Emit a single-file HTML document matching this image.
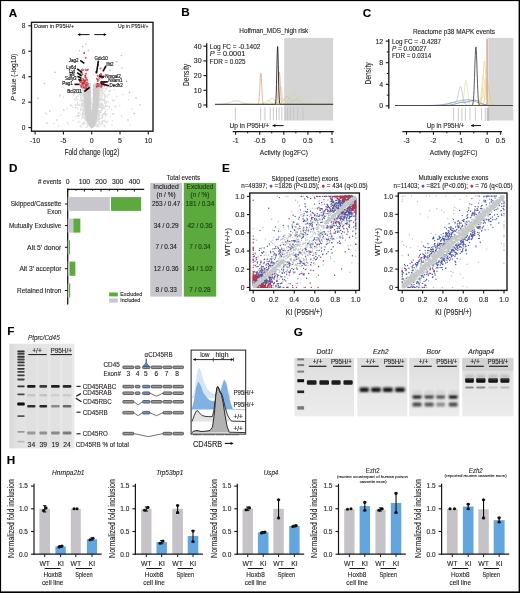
<!DOCTYPE html>
<html><head><meta charset="utf-8"><title>Figure</title>
<style>
html,body{margin:0;padding:0;background:#fff;}
body{width:520px;height:593px;overflow:hidden;}
svg{display:block;font-family:"Liberation Sans", sans-serif;}
text{stroke-width:0.12px;}
</style></head><body>
<svg width="520" height="593" viewBox="0 0 520 593">
<rect x="0" y="0" width="520" height="593" fill="#fff"/>
<defs><filter id="soft" x="0" y="0" width="520" height="593" filterUnits="userSpaceOnUse"><feGaussianBlur stdDeviation="0.3"/></filter></defs>
<g filter="url(#soft)">
<rect x="0" y="0" width="520" height="593" fill="#fff"/>
<text x="8.7" y="16.7" font-size="11.7" text-anchor="start" font-weight="bold" fill="#000" stroke="#000">A</text>
<text x="181.3" y="16.4" font-size="11.7" text-anchor="start" font-weight="bold" fill="#000" stroke="#000">B</text>
<text x="362.8" y="16.7" font-size="11.7" text-anchor="start" font-weight="bold" fill="#000" stroke="#000">C</text>
<text x="9.0" y="171.8" font-size="11.7" text-anchor="start" font-weight="bold" fill="#000" stroke="#000">D</text>
<text x="222.1" y="171.9" font-size="11.7" text-anchor="start" font-weight="bold" fill="#000" stroke="#000">E</text>
<text x="7.2" y="335.4" font-size="11.7" text-anchor="start" font-weight="bold" fill="#000" stroke="#000">F</text>
<text x="293.7" y="335.6" font-size="11.7" text-anchor="start" font-weight="bold" fill="#000" stroke="#000">G</text>
<text x="6.7" y="463.8" font-size="11.7" text-anchor="start" font-weight="bold" fill="#000" stroke="#000">H</text>
<path d="M99.5 88.5h0M101.9 105.8h0M99.0 105.4h0M86.9 123.8h0M97.6 119.9h0M97.5 126.4h0M108.4 95.0h0M104.8 97.7h0M98.2 114.1h0M82.9 99.4h0M82.9 110.2h0M83.9 95.7h0M101.5 100.1h0M104.5 91.7h0M101.6 100.7h0M83.7 104.0h0M84.4 110.3h0M84.4 118.1h0M103.1 107.3h0M99.3 87.9h0M98.8 98.4h0M86.5 120.1h0M99.5 87.2h0M86.0 126.9h0M99.3 112.0h0M109.2 107.9h0M99.8 123.6h0M100.0 93.3h0M87.8 125.6h0M102.4 89.2h0M111.8 109.5h0M101.1 105.7h0M97.5 115.0h0M101.3 107.9h0M83.9 109.2h0M102.4 94.9h0M83.1 87.1h0M103.2 99.8h0M98.8 90.6h0M81.6 99.2h0M99.5 93.3h0M80.7 109.9h0M101.7 96.5h0M99.3 95.3h0M101.6 86.9h0M83.9 102.2h0M101.2 124.2h0M84.3 114.6h0M98.5 113.7h0M105.0 114.7h0M83.9 96.2h0M98.7 124.3h0M81.8 118.8h0M101.4 124.4h0M81.0 98.5h0M102.7 88.2h0M112.9 100.6h0M99.0 98.1h0M102.6 105.2h0M84.2 105.3h0M104.4 94.8h0M97.2 117.6h0M85.7 118.5h0M82.1 87.0h0M95.8 122.3h0M82.9 90.7h0M95.8 122.0h0M99.7 98.0h0M98.7 98.7h0M105.2 88.5h0M83.6 88.1h0M102.5 107.5h0M102.3 121.5h0M106.2 106.3h0M101.3 107.8h0M99.3 93.4h0M98.4 117.8h0M84.0 113.1h0M99.9 85.3h0M97.8 109.9h0M98.3 118.7h0M84.2 96.9h0M103.0 88.5h0M84.1 100.6h0M100.4 106.9h0M77.3 104.7h0M81.8 115.6h0M82.4 87.2h0M99.2 91.3h0M86.1 116.6h0M101.9 123.7h0M83.0 91.7h0M82.5 87.5h0M102.3 110.3h0M102.7 85.4h0M99.8 88.3h0M78.7 104.4h0M81.5 92.8h0M99.0 98.9h0M83.2 101.4h0M83.9 110.4h0M82.8 104.1h0M95.2 123.1h0M81.0 105.3h0M101.3 87.4h0M98.3 106.2h0M98.4 110.6h0M84.5 106.4h0M98.8 101.1h0M82.5 103.3h0M101.2 112.2h0M87.5 127.0h0M105.5 111.4h0M101.1 88.0h0M83.9 105.5h0M103.4 114.6h0M100.6 99.5h0M84.4 99.1h0M100.9 103.8h0M83.2 88.9h0M97.8 119.2h0M79.8 121.4h0M99.7 93.6h0M82.3 104.8h0M103.1 113.8h0M83.5 113.8h0M104.9 101.8h0M104.2 106.3h0M83.4 101.7h0M101.8 121.2h0M83.1 99.3h0M98.9 126.1h0M97.0 117.3h0M97.2 119.8h0M104.2 98.7h0M100.0 106.5h0M99.3 119.4h0M99.7 94.2h0M82.6 114.8h0M75.4 104.7h0M84.5 110.3h0M83.8 113.9h0M105.1 108.0h0M100.5 110.8h0M109.6 87.2h0M84.6 110.4h0M83.3 92.1h0M81.0 91.0h0M77.8 109.1h0M83.7 90.6h0M77.3 102.5h0M85.2 111.8h0M98.6 105.2h0M105.4 96.7h0M101.2 88.3h0M99.7 111.0h0M84.5 106.5h0M105.3 121.8h0M83.3 85.9h0M83.7 122.6h0M84.7 111.0h0M76.6 96.7h0M95.7 125.8h0M99.0 107.0h0M102.0 88.4h0M106.1 90.1h0M86.7 121.0h0M79.0 104.2h0M84.8 116.9h0M100.2 112.2h0M79.6 93.0h0M109.8 91.5h0M81.9 87.9h0M79.0 90.1h0M99.3 112.9h0M100.8 87.3h0M96.5 126.4h0M99.6 113.2h0M81.4 103.5h0M77.6 103.3h0M82.4 113.9h0M100.1 108.0h0M106.5 102.5h0M85.0 119.0h0M98.0 119.4h0M84.4 110.6h0M84.6 110.3h0M97.8 113.8h0M98.2 104.5h0M99.8 92.1h0M83.6 123.9h0M97.7 124.8h0M100.8 98.4h0M98.4 106.2h0M99.4 114.3h0M75.9 100.2h0M97.0 116.7h0M83.3 92.3h0M98.5 107.8h0M100.8 104.3h0M105.0 95.9h0M83.8 115.1h0M106.1 94.8h0M103.6 93.6h0M99.5 90.1h0M110.3 116.2h0M98.9 112.4h0M116.6 96.4h0M99.0 101.8h0M83.7 90.9h0M101.2 90.5h0M101.3 117.7h0M82.4 90.4h0M84.7 104.2h0M79.9 100.9h0M102.0 94.3h0M101.5 115.5h0M97.5 114.8h0M99.4 97.8h0M99.5 96.3h0M105.0 126.7h0M99.0 122.5h0M83.0 96.5h0M111.9 124.7h0M104.5 96.3h0M98.0 120.5h0M84.7 107.6h0M82.2 88.0h0M100.9 95.7h0M99.4 97.1h0M102.5 109.4h0M83.9 102.0h0M101.5 110.6h0M98.7 114.2h0M107.4 86.5h0M81.2 109.2h0M102.4 118.2h0M102.9 90.4h0M89.5 125.5h0M95.0 123.7h0M84.2 104.9h0M102.7 92.8h0M83.1 100.1h0M82.8 89.4h0M85.4 115.5h0M73.7 95.4h0M99.3 112.1h0M73.9 94.0h0M98.7 115.2h0M93.9 126.1h0M84.0 93.5h0M102.3 103.1h0M78.4 96.2h0M98.7 92.5h0M80.2 113.4h0M85.1 114.3h0M82.7 95.5h0M83.6 94.6h0M81.5 104.2h0M84.0 92.3h0M80.4 109.9h0M101.9 87.0h0M82.6 101.1h0M99.7 100.1h0M96.4 119.7h0M105.2 112.5h0M104.4 101.1h0M100.5 85.8h0M102.0 118.2h0M102.0 108.5h0M79.5 92.1h0M79.4 89.8h0M104.4 114.6h0M83.6 91.7h0M83.4 102.7h0M99.6 86.7h0M99.8 118.8h0M93.8 126.6h0M102.2 122.6h0M107.0 121.9h0M106.3 85.4h0M80.8 87.6h0M102.4 90.7h0M108.9 91.3h0M99.7 88.7h0M97.6 111.3h0M112.1 113.7h0M98.5 105.1h0M99.6 103.2h0M100.8 98.5h0M98.7 107.5h0M85.1 111.4h0M102.6 115.4h0M83.2 108.7h0M105.1 113.6h0M80.8 110.4h0M100.4 90.7h0M72.8 88.0h0M83.8 95.9h0M99.1 93.0h0M102.7 99.9h0M99.6 87.9h0M96.4 122.6h0M100.7 89.9h0M82.4 94.1h0M96.5 120.8h0M75.4 107.7h0M83.8 100.1h0M102.0 93.5h0M87.7 124.8h0M84.0 91.3h0M84.5 103.2h0M97.9 121.5h0M97.4 114.5h0M98.5 113.3h0M82.4 86.5h0M100.0 87.1h0M105.1 105.7h0M78.9 112.5h0M84.1 113.0h0M80.1 94.3h0M107.4 87.6h0M81.7 101.1h0M106.3 114.9h0M98.2 106.1h0M108.3 101.7h0M84.8 123.4h0M112.5 100.2h0M95.4 123.3h0M97.3 115.5h0M80.2 94.2h0M80.6 100.7h0M99.2 88.3h0M83.4 107.0h0M105.4 113.7h0M98.8 95.0h0M103.2 105.3h0M79.0 89.5h0M82.9 111.7h0M104.7 103.3h0M106.8 106.0h0M82.0 104.0h0M102.6 90.9h0M100.1 119.0h0M98.7 95.8h0M97.8 114.9h0M98.2 111.9h0M107.1 113.8h0M83.0 96.0h0M81.0 92.5h0M84.3 96.0h0M82.7 112.6h0M85.0 123.1h0M96.0 124.9h0M99.2 111.5h0M102.0 93.1h0M98.9 97.3h0M81.3 106.0h0M82.6 89.2h0M98.6 99.8h0M82.7 108.4h0M82.0 89.3h0M84.3 106.2h0M82.1 106.7h0M98.5 113.2h0M82.9 116.8h0M101.6 91.3h0M82.5 99.2h0M98.0 121.3h0M83.0 105.5h0M97.0 117.5h0M84.6 110.7h0M82.2 104.6h0M100.0 100.7h0M81.5 99.3h0M81.0 85.7h0M84.0 92.9h0M101.9 104.2h0M80.1 94.4h0M83.6 96.2h0M106.3 106.6h0M100.9 103.4h0M81.2 94.9h0M105.8 104.1h0M107.8 121.5h0M98.4 115.4h0M99.2 94.1h0M85.5 120.1h0M101.9 92.9h0M106.9 122.4h0M96.3 123.0h0M84.3 98.8h0M98.8 117.9h0M81.4 91.2h0M82.3 88.0h0M85.4 117.0h0M74.0 94.5h0M83.6 117.0h0M86.2 120.8h0M102.0 98.2h0M113.5 113.6h0M85.1 110.1h0M109.3 106.6h0M83.1 96.9h0M102.8 116.8h0M94.8 125.4h0M104.1 99.9h0M97.7 111.0h0M82.6 113.2h0M98.3 105.4h0M99.8 121.7h0M102.5 88.2h0M99.3 107.6h0M99.9 105.0h0M76.8 107.4h0M98.8 104.6h0M84.5 108.4h0M82.6 110.4h0M102.4 123.2h0M98.3 126.5h0M130.0 124.9h0M53.9 123.6h0M113.5 114.3h0M81.3 126.9h0M74.9 93.6h0M104.7 125.8h0M114.5 89.8h0M76.8 98.2h0M132.4 108.7h0M77.7 99.7h0M102.4 104.5h0M107.2 109.8h0M101.2 106.0h0M78.1 122.6h0M81.2 97.1h0M101.0 88.7h0M84.4 92.5h0M123.0 94.6h0M80.4 108.3h0M75.2 98.3h0M99.0 116.6h0M80.5 97.9h0M84.2 88.3h0M106.4 88.3h0M75.6 104.8h0M80.9 93.9h0M83.9 105.6h0M114.1 100.3h0M45.2 113.0h0M99.7 93.7h0M103.0 120.8h0M74.5 99.6h0M83.7 105.2h0M77.9 115.7h0M83.0 89.1h0M84.9 104.6h0M75.4 105.5h0M79.7 105.4h0M67.3 122.5h0M110.8 90.6h0M105.6 101.4h0M104.5 112.9h0M82.3 90.3h0M104.9 100.5h0M75.9 117.0h0M104.4 120.6h0M63.5 97.3h0M99.5 116.1h0M59.8 96.8h0M106.0 101.8h0M80.6 95.7h0M81.8 99.6h0M82.3 117.9h0M103.8 125.7h0M107.1 96.7h0M128.4 99.8h0M103.9 108.0h0M72.6 107.3h0M79.6 115.6h0M98.9 126.2h0M112.3 120.7h0M80.1 125.9h0M81.1 126.1h0M74.1 87.9h0M99.0 117.3h0M99.5 96.2h0M102.2 88.2h0M83.1 106.4h0M82.3 124.2h0M83.1 123.6h0M68.5 124.1h0M66.8 108.7h0M84.5 119.0h0M77.1 93.1h0M119.8 105.3h0M109.6 94.4h0M105.5 117.1h0M58.4 125.7h0M46.7 114.0h0M102.9 108.6h0M60.6 115.3h0M107.5 106.2h0M121.4 115.9h0M73.3 120.4h0M104.9 119.9h0M77.6 105.2h0M78.0 113.2h0M104.5 91.8h0M82.7 92.7h0M84.1 110.9h0" stroke="#dcdcdc" stroke-width="1.5" stroke-linecap="round" fill="none"/>
<path d="M97.5 107.7h0M93.7 105.4h0M93.5 99.9h0M94.1 122.8h0M97.1 85.1h0M89.2 119.9h0M91.4 119.0h0M95.4 108.4h0M95.2 105.4h0M98.1 84.6h0M89.7 113.1h0M85.2 94.1h0M93.6 85.7h0M84.1 87.9h0M94.0 123.8h0M88.6 123.8h0M91.3 121.6h0M87.0 92.9h0M92.8 119.2h0M90.9 121.9h0M95.2 85.9h0M87.2 118.3h0M92.7 122.6h0M88.7 93.5h0M92.8 123.4h0M85.5 111.2h0M93.9 102.1h0M94.8 87.8h0M94.2 95.9h0M95.7 88.8h0M92.4 125.8h0M95.1 115.9h0M92.5 119.3h0M96.1 102.9h0M90.2 87.5h0M90.0 107.9h0M88.6 103.1h0M97.3 85.1h0M91.6 121.7h0M93.2 97.2h0M94.4 107.1h0M93.9 124.4h0M97.4 96.0h0M97.0 112.5h0M97.1 109.3h0M87.1 100.5h0M94.7 124.2h0M86.0 96.0h0M93.1 108.6h0M92.7 125.6h0M86.8 97.7h0M89.8 116.4h0M87.0 118.7h0M94.4 108.4h0M87.5 119.2h0M86.7 89.1h0M88.1 121.8h0M94.6 96.2h0M89.8 107.7h0M88.8 100.7h0M89.7 84.4h0M85.9 89.8h0M92.5 113.5h0M86.0 107.3h0M89.0 121.1h0M97.3 100.7h0M87.7 97.4h0M91.1 126.4h0M87.5 115.5h0M95.1 101.1h0M84.4 88.5h0M89.1 122.1h0M97.0 111.4h0M86.1 86.2h0M96.6 96.4h0M96.5 118.6h0M94.5 104.6h0M89.9 90.3h0M95.4 103.0h0M85.4 92.0h0M93.2 112.4h0M97.2 105.2h0M84.2 86.0h0M93.6 118.0h0M97.5 99.8h0M86.5 114.3h0M96.4 118.3h0M87.5 102.6h0M84.7 101.2h0M95.5 110.0h0M87.3 97.4h0M95.0 86.0h0M88.4 122.2h0M89.9 106.9h0M85.3 86.8h0M88.2 118.6h0M93.0 112.2h0M93.0 121.6h0M88.6 104.3h0M89.7 104.6h0M97.6 99.9h0M85.7 90.7h0M88.3 88.9h0M96.2 117.4h0M93.5 116.4h0M85.4 91.0h0M92.7 109.5h0M98.3 97.4h0M95.4 105.7h0M91.1 118.5h0M95.9 103.1h0M87.5 119.9h0M89.9 87.9h0M94.4 107.3h0M87.3 104.5h0M94.1 97.0h0M89.4 95.0h0M85.4 105.5h0M96.5 96.8h0M98.2 101.8h0M95.8 116.4h0M84.8 92.6h0M97.2 97.2h0M88.5 96.1h0M91.2 126.9h0M95.3 117.0h0M95.9 98.7h0M97.4 84.5h0M86.3 85.3h0M91.2 115.8h0M89.7 111.5h0M98.0 103.6h0M98.0 83.9h0M93.2 102.0h0M90.9 120.3h0M84.9 100.8h0M94.7 104.3h0M94.5 99.3h0M90.0 113.9h0M93.7 120.9h0M84.3 95.6h0M93.1 124.0h0M86.9 85.9h0M84.4 96.5h0M86.9 101.2h0M88.9 118.0h0M95.0 107.9h0M86.0 102.2h0M97.6 84.0h0M94.7 122.5h0M87.2 111.8h0M96.9 101.4h0M96.5 116.9h0M91.3 125.4h0M87.4 99.9h0M93.6 123.6h0M90.0 111.0h0M93.6 94.7h0M97.4 92.1h0M86.2 108.8h0M94.8 99.2h0M95.5 95.0h0M92.3 122.5h0M86.6 102.7h0M89.2 94.0h0M89.5 123.9h0M89.4 115.3h0M87.0 111.5h0M98.4 87.6h0M88.5 92.5h0M94.8 86.8h0M88.9 111.3h0M95.6 118.9h0M94.3 91.5h0M90.2 89.3h0M98.0 104.0h0M87.0 93.0h0M89.4 124.1h0M92.4 123.9h0M89.4 99.6h0M94.9 104.6h0M96.2 85.6h0M98.1 96.1h0M97.9 92.0h0M98.5 91.5h0M97.0 104.6h0M86.6 109.7h0M90.0 111.0h0M92.7 114.4h0M94.7 121.9h0M90.2 125.0h0M91.5 125.3h0M95.0 116.7h0M90.7 119.6h0M96.4 113.8h0M96.6 115.8h0M95.4 103.3h0M93.6 124.9h0M94.3 105.1h0M90.7 98.9h0M96.2 111.4h0M90.2 120.1h0M96.8 90.4h0M93.1 116.1h0M92.4 127.5h0M89.5 123.2h0M85.1 106.7h0M85.4 90.2h0M85.0 87.4h0M93.7 104.2h0M90.9 113.6h0M94.6 107.3h0M90.0 123.2h0M93.4 91.4h0M87.1 96.6h0M92.7 126.4h0M88.5 100.8h0M89.1 114.6h0M87.5 116.0h0M97.4 86.4h0M89.6 91.2h0M94.0 97.9h0M93.8 90.9h0M89.8 119.9h0M87.0 87.8h0M95.3 94.0h0M88.7 109.7h0M97.2 85.1h0M91.4 126.6h0M89.8 123.0h0M94.2 92.0h0M95.4 88.4h0M95.8 121.1h0M94.2 97.0h0M90.3 99.9h0M94.6 102.9h0M90.5 112.2h0M94.1 121.4h0M85.2 103.7h0M94.0 92.4h0M93.6 114.9h0M87.0 91.0h0M90.1 126.4h0M86.5 99.2h0M96.6 110.2h0M90.8 118.5h0M87.6 102.4h0M86.9 102.2h0M84.7 98.5h0M87.2 107.2h0M95.8 95.2h0M95.5 91.1h0M95.7 102.9h0M94.3 108.1h0M97.1 96.1h0M86.8 94.4h0M89.7 121.7h0M93.1 124.7h0M90.0 113.5h0M97.1 88.5h0M93.8 109.4h0M93.4 103.2h0M95.4 121.3h0M89.7 116.2h0M95.6 88.5h0M90.7 102.5h0M86.0 114.5h0M89.3 107.4h0M85.0 88.5h0M85.6 107.5h0M93.1 119.0h0M90.1 124.8h0M97.3 88.0h0M95.5 96.8h0M87.8 117.2h0M88.4 119.8h0M97.0 111.3h0M86.6 117.6h0M92.8 115.9h0M95.4 107.7h0M89.3 101.8h0M89.3 123.1h0M93.3 115.7h0M87.2 85.0h0M95.1 110.3h0M94.8 103.5h0M96.0 93.9h0M98.2 97.4h0M86.7 93.4h0M96.7 108.6h0M90.3 117.2h0M87.3 106.0h0M93.8 102.2h0M91.3 126.4h0M92.7 116.4h0M97.1 102.4h0M91.5 120.7h0M94.4 100.6h0M92.5 123.1h0M95.4 120.7h0M90.8 124.2h0M87.1 85.8h0M87.3 85.1h0M90.0 125.1h0M88.7 109.8h0M93.2 126.0h0M88.6 117.0h0M94.6 107.2h0M93.8 84.9h0M88.6 99.5h0M98.2 90.0h0M94.5 110.6h0M90.6 118.0h0M90.6 120.1h0M85.6 114.1h0M88.0 89.6h0M89.0 96.9h0M89.7 119.9h0M88.4 96.0h0M85.4 87.2h0M88.3 88.1h0M92.9 123.9h0M88.5 104.6h0M90.6 124.9h0M88.2 113.3h0M86.1 97.0h0M90.4 121.1h0M85.9 109.4h0M90.2 114.1h0M92.7 126.5h0M85.9 85.8h0M95.2 118.4h0M86.4 89.4h0M90.8 108.7h0M89.7 112.7h0M90.2 110.1h0M89.7 116.8h0M94.8 120.8h0M88.2 96.9h0M91.6 124.5h0M88.8 101.7h0M90.5 126.3h0M93.2 115.9h0M94.9 100.8h0M96.9 86.8h0M89.5 109.9h0M84.6 88.8h0M93.2 121.2h0M89.0 84.9h0M90.7 98.0h0M88.2 110.4h0M95.8 104.0h0M88.0 86.0h0M95.8 113.9h0M94.4 85.9h0M94.7 105.8h0M94.5 94.7h0M88.3 112.8h0M91.5 124.7h0M88.8 122.3h0M95.6 119.7h0M96.0 116.2h0M86.1 96.2h0M96.7 113.2h0M86.5 102.9h0M94.0 91.3h0M89.6 97.8h0M98.1 101.6h0M86.7 97.5h0M93.8 87.3h0M90.6 122.4h0M88.1 83.9h0M88.6 103.6h0M94.8 92.6h0M98.2 100.5h0M97.4 96.9h0M87.2 119.4h0M89.0 105.6h0M87.0 102.6h0M89.6 117.1h0M89.7 124.8h0M90.3 124.4h0M94.3 118.4h0M90.1 92.6h0M94.5 99.5h0M95.8 90.4h0M90.5 95.6h0M90.3 122.4h0M92.5 113.5h0M86.9 86.3h0M95.4 93.5h0M98.6 91.1h0M85.8 86.0h0M86.6 87.8h0M87.3 110.9h0M94.3 111.3h0M89.7 88.1h0M85.9 95.4h0M90.1 97.5h0M91.2 112.1h0M87.9 110.4h0M93.6 118.7h0M93.5 123.1h0M87.9 117.4h0M96.8 115.2h0M86.8 118.9h0M86.7 99.6h0M97.5 100.9h0M93.4 105.9h0M86.5 97.4h0M87.6 110.7h0M87.1 105.0h0M97.9 101.3h0M96.6 106.8h0M95.3 96.0h0M93.8 121.4h0M98.4 91.5h0M98.6 92.4h0M94.7 90.2h0M97.2 107.3h0M92.7 115.2h0M89.0 93.7h0M96.3 90.9h0M88.2 92.5h0M90.2 126.0h0M90.2 122.6h0M93.3 101.3h0M96.0 118.6h0M94.1 118.1h0M87.6 112.3h0M93.9 100.8h0M89.9 96.9h0M95.4 86.4h0M97.6 84.3h0M90.5 114.0h0M94.7 108.9h0M94.6 105.7h0M93.6 117.5h0M95.6 114.8h0M85.5 87.2h0M88.5 107.7h0M94.2 108.5h0M88.1 97.9h0M87.7 88.5h0M96.5 92.0h0M92.3 122.8h0M95.9 110.9h0M93.6 88.7h0M88.2 106.8h0M98.3 98.9h0M84.9 84.7h0M93.5 97.0h0M93.7 110.5h0M90.8 118.1h0M89.6 95.5h0M94.3 100.8h0M93.8 95.7h0M93.0 127.0h0M91.0 126.2h0M93.1 122.4h0M92.6 121.3h0M86.2 104.9h0M89.9 109.3h0M85.6 102.7h0M84.2 90.7h0M97.0 110.3h0M90.3 109.8h0M94.0 95.7h0M91.3 126.5h0M93.3 99.4h0M91.4 124.3h0M87.5 113.5h0M96.2 87.0h0M86.7 109.9h0M88.4 111.2h0M90.9 109.1h0M93.3 124.4h0M89.6 117.4h0M86.4 106.4h0M91.0 126.2h0M94.9 101.8h0M87.6 111.4h0M88.4 114.0h0M91.2 124.6h0M85.0 92.9h0M92.8 115.5h0M88.4 91.8h0M93.6 93.6h0M93.1 125.7h0M84.9 100.0h0M86.3 102.2h0M98.0 97.5h0M85.8 93.5h0M90.4 107.7h0M89.9 96.0h0M93.7 98.1h0M95.2 114.4h0M88.8 118.5h0M93.7 121.3h0M87.0 109.1h0M94.8 106.3h0M92.6 122.8h0M90.7 118.3h0M95.0 101.9h0M86.7 91.0h0M85.8 84.7h0M95.0 115.7h0M92.9 124.7h0M95.5 109.2h0M87.2 87.8h0M88.7 95.2h0M92.9 125.8h0M85.7 113.2h0M85.5 92.2h0M94.8 118.2h0M98.1 94.8h0M84.7 97.8h0M95.9 114.4h0M88.6 116.2h0M90.6 114.6h0M89.9 115.5h0M84.9 90.1h0M96.9 101.0h0M97.2 98.5h0M92.8 125.2h0M89.5 117.4h0M96.6 86.4h0M92.8 117.7h0M85.0 98.5h0M84.7 102.7h0M86.1 89.2h0M93.4 126.1h0M96.2 89.9h0M87.7 104.4h0M86.6 105.6h0M88.0 106.4h0M94.3 85.1h0M97.1 113.3h0M98.2 86.9h0M91.0 126.6h0M97.9 100.4h0M93.0 104.4h0M93.5 89.3h0M96.1 91.6h0M93.2 94.1h0M97.8 92.9h0M91.2 113.1h0M94.8 115.7h0M89.2 98.6h0M90.4 119.6h0M89.0 93.7h0M93.5 116.5h0M90.1 119.1h0M97.4 96.0h0M92.7 123.5h0M94.5 109.2h0M95.6 87.6h0M95.1 93.6h0M87.7 111.2h0M92.8 106.7h0M85.7 110.4h0M96.4 118.9h0M93.2 112.8h0M89.4 86.8h0M98.5 89.2h0M89.6 111.7h0M90.8 123.6h0M90.7 114.0h0M96.9 104.0h0M88.8 86.0h0M96.9 113.9h0M89.0 120.1h0M95.7 93.2h0M89.2 91.4h0M85.3 85.0h0M91.4 125.3h0M90.4 118.5h0M95.2 105.4h0M91.8 126.3h0M87.8 100.7h0M86.2 113.7h0M95.0 109.1h0M84.3 88.3h0M87.1 89.9h0M87.3 114.5h0M84.9 101.8h0M93.1 123.1h0M95.5 105.7h0M91.7 127.2h0M90.2 100.0h0M97.8 106.2h0M86.2 107.8h0M94.7 92.0h0M87.6 106.1h0M89.2 106.5h0M89.8 105.2h0M98.6 91.8h0M96.9 98.1h0M85.3 92.5h0M92.4 116.7h0M95.5 112.9h0M93.9 87.3h0M94.9 122.3h0M95.4 119.8h0M86.2 99.9h0M97.6 90.3h0M96.3 102.7h0M91.1 110.3h0M86.4 93.3h0M94.8 97.1h0M95.1 119.7h0M97.0 112.7h0M98.7 86.6h0M88.3 112.9h0M92.9 125.6h0M89.3 95.3h0M91.1 116.3h0M97.3 112.1h0M89.8 109.3h0M87.5 86.2h0M96.7 94.9h0M86.9 89.0h0M86.2 104.0h0M93.2 121.0h0M85.8 96.1h0M87.9 96.4h0M97.4 106.2h0M89.8 124.1h0M89.3 122.0h0M96.1 110.0h0M92.2 124.7h0M90.6 106.7h0M85.2 107.5h0M94.4 106.9h0M90.8 122.5h0M88.5 105.8h0M95.6 116.1h0M88.6 111.2h0M88.9 100.7h0M85.7 107.6h0M97.5 111.4h0M96.4 109.7h0M96.7 96.3h0M93.8 108.8h0M94.6 104.3h0M90.9 126.2h0M88.3 101.4h0M92.5 118.8h0M95.4 92.0h0M97.1 96.7h0M94.9 116.4h0M85.2 84.5h0M94.6 96.0h0M89.9 104.6h0M95.0 89.1h0M87.5 109.1h0M95.8 105.0h0M92.9 111.8h0M97.5 97.3h0M88.4 114.9h0M93.3 110.9h0M94.7 89.3h0M88.6 122.4h0M87.6 115.3h0M94.4 92.2h0M85.1 96.8h0M88.3 107.2h0M98.1 102.4h0M92.9 118.2h0M88.8 112.9h0M94.4 87.7h0M85.1 97.3h0M90.3 117.7h0M92.1 125.6h0M93.3 103.3h0M95.5 112.5h0M91.7 124.7h0M88.4 119.8h0M89.7 113.4h0M89.8 111.6h0M89.7 116.1h0M86.7 115.6h0M85.5 105.5h0M96.7 100.4h0M88.1 109.4h0M97.0 104.9h0M89.9 117.0h0M94.8 92.6h0M97.1 90.1h0M88.1 95.2h0M98.4 89.7h0M88.9 124.1h0M85.6 105.1h0M83.8 84.0h0M88.8 120.4h0M95.2 103.3h0M93.8 101.7h0M94.6 88.4h0M87.3 104.0h0M91.0 126.1h0M92.9 124.6h0M86.9 102.9h0M97.4 91.6h0M92.2 125.4h0M91.0 126.5h0M86.5 113.0h0M98.0 99.3h0M85.7 102.7h0M87.5 97.0h0M86.6 117.1h0M91.1 124.1h0M98.6 91.1h0M86.3 100.2h0M90.8 124.7h0M89.5 124.9h0M87.9 113.5h0M94.3 119.8h0M89.7 103.2h0M92.1 123.5h0M95.9 107.4h0M93.5 94.9h0M91.5 120.3h0M89.8 88.9h0M98.3 90.3h0M91.0 121.9h0M93.0 118.2h0M90.0 104.3h0M88.1 104.8h0M88.7 100.2h0M95.5 89.1h0M87.8 87.0h0M97.1 110.6h0M87.2 115.3h0M94.1 97.0h0M94.0 91.1h0M95.1 95.5h0M96.7 86.4h0M97.2 84.8h0M89.2 120.6h0M86.5 93.4h0M93.4 113.3h0M94.8 90.2h0M85.3 97.0h0M90.9 102.7h0M91.7 127.7h0M86.3 99.5h0M97.2 107.0h0M88.7 108.9h0M86.3 94.9h0M94.3 93.7h0M89.7 119.9h0M96.8 96.3h0M91.7 124.6h0M96.3 92.2h0M87.4 110.6h0M90.7 116.8h0M87.2 104.7h0M87.3 112.7h0M96.6 89.6h0M94.6 98.4h0M90.7 100.0h0M94.7 115.9h0M90.2 124.9h0M95.2 84.6h0M94.8 106.0h0M88.1 106.2h0M87.6 83.7h0M89.8 98.0h0M95.3 101.1h0M93.6 110.8h0M89.5 88.7h0M93.8 89.1h0M88.4 117.5h0M89.4 87.3h0M89.3 122.5h0M94.6 87.9h0M89.0 101.8h0M92.6 118.7h0M95.3 86.7h0M93.7 88.4h0M95.6 121.6h0M93.8 116.1h0M95.0 95.1h0M95.6 96.8h0M88.9 123.1h0M88.5 99.1h0M94.3 85.5h0M97.0 101.6h0M95.6 89.7h0M89.1 111.3h0M86.3 112.4h0M95.1 98.3h0M90.9 116.8h0M87.9 87.1h0M95.4 120.6h0M93.4 116.7h0M90.1 111.8h0M86.7 108.4h0M94.7 99.4h0M88.6 122.2h0M91.2 126.3h0M91.2 126.3h0M96.9 111.8h0M92.4 121.9h0M90.3 122.6h0M98.4 85.1h0M95.7 94.9h0M87.4 98.3h0M96.4 105.1h0M93.8 92.9h0M89.6 124.9h0M87.7 108.1h0M85.2 94.1h0M92.0 127.6h0M89.6 124.3h0M87.4 98.2h0M86.9 106.8h0M89.4 121.4h0M92.5 126.9h0M95.9 120.0h0M98.2 94.3h0M90.8 122.5h0M89.5 87.9h0M95.6 117.2h0M88.3 108.3h0M96.4 107.4h0M90.6 102.7h0M90.8 111.7h0M93.7 86.5h0M90.4 111.5h0M89.3 90.6h0M92.2 126.8h0M89.3 93.0h0M94.9 94.1h0M86.6 111.6h0M96.5 92.9h0M83.9 86.5h0M88.6 92.5h0M94.4 91.6h0M93.7 89.7h0M86.0 114.7h0M88.9 92.2h0M90.9 112.0h0M94.7 109.5h0M87.6 114.5h0M89.4 105.5h0M90.7 113.9h0M85.6 106.4h0M92.8 107.6h0M95.9 93.2h0M97.5 95.3h0M97.1 88.7h0M95.6 104.6h0M85.6 90.4h0M93.2 101.4h0M93.4 111.1h0M94.0 121.3h0M92.5 113.7h0M97.3 95.4h0M94.0 123.2h0M93.7 87.0h0M86.1 113.2h0M90.6 122.1h0M90.2 122.4h0M97.5 109.0h0M94.7 87.9h0M95.9 107.2h0M90.1 84.1h0M95.9 117.6h0M87.3 117.5h0M86.1 116.4h0M85.9 96.7h0M87.7 105.5h0M93.2 113.8h0M86.6 118.6h0M98.1 87.8h0M86.3 103.2h0M90.1 91.5h0M97.9 106.2h0M96.8 98.0h0M85.1 100.0h0M89.2 92.6h0M93.7 97.3h0M89.8 109.8h0M97.3 109.5h0M92.7 126.6h0M88.7 100.3h0M86.4 99.1h0M97.4 99.0h0M95.8 91.7h0M97.6 100.9h0M86.3 111.7h0M98.2 85.2h0M84.5 84.5h0M91.5 127.3h0M87.0 109.7h0M90.7 114.2h0M94.4 109.6h0M93.2 118.2h0M93.8 114.2h0M87.6 104.1h0M86.5 112.5h0M97.8 97.4h0M89.9 125.2h0M94.5 84.7h0M93.7 100.9h0M84.9 105.1h0M92.7 123.9h0M94.0 114.4h0M98.3 88.8h0M92.7 116.4h0M88.9 123.5h0M93.1 96.7h0M93.9 124.6h0M86.8 107.5h0M96.4 104.1h0M94.9 96.5h0M87.6 102.0h0M94.1 115.2h0M91.3 112.0h0M96.4 94.4h0M88.8 120.3h0M88.8 85.8h0M89.5 120.8h0M94.1 111.8h0M90.8 104.4h0M85.9 89.3h0M97.0 97.3h0M95.7 121.0h0M88.7 104.4h0M91.7 124.8h0M89.2 111.6h0M96.1 108.1h0M88.2 104.6h0M93.5 115.8h0M87.0 93.2h0M96.9 96.1h0M90.1 118.7h0M93.3 122.8h0M95.0 122.5h0M93.4 110.7h0M90.3 86.3h0M93.7 123.6h0M92.5 121.8h0M97.2 102.1h0M91.1 121.3h0M93.0 126.4h0M97.1 106.6h0M88.3 92.0h0M84.3 94.1h0M97.7 109.0h0M94.9 89.4h0M94.3 124.5h0M92.4 120.9h0M89.2 124.0h0M87.6 90.0h0M95.5 92.8h0M90.4 107.0h0M86.1 109.1h0M94.3 89.7h0M96.8 91.3h0M90.8 125.5h0M94.9 86.1h0M85.1 102.8h0M91.4 118.8h0M90.3 89.8h0M96.5 116.9h0M93.8 115.5h0M95.5 116.6h0M95.4 112.0h0M90.1 98.8h0M90.2 101.3h0M93.1 120.9h0M98.0 87.7h0M96.3 101.3h0M88.0 113.0h0M96.9 99.3h0M91.1 126.4h0M96.1 103.7h0M96.0 97.7h0M88.1 122.4h0M94.9 114.5h0M92.6 119.2h0M90.3 114.7h0M87.0 104.8h0M86.9 100.1h0M93.8 107.5h0M96.2 102.1h0M88.2 94.1h0M94.2 96.2h0M83.8 85.1h0M91.1 110.8h0M97.3 96.2h0M96.6 95.3h0M93.5 98.7h0M84.5 96.9h0M93.6 119.6h0M85.8 88.6h0M93.3 105.4h0M92.6 126.9h0M89.8 99.6h0M93.3 108.3h0M96.9 107.0h0M95.4 113.0h0M93.1 103.8h0M90.1 105.9h0M87.5 108.1h0M85.8 100.9h0M94.8 116.8h0M94.4 116.5h0M93.6 116.6h0M87.6 108.4h0M97.9 103.9h0M92.1 122.7h0M90.3 91.6h0M92.9 105.5h0M91.5 126.6h0M98.2 85.7h0M94.8 87.9h0M85.3 106.6h0M87.5 118.3h0M89.4 101.6h0M94.0 105.7h0M98.2 101.8h0M86.9 84.0h0M92.3 123.0h0M92.6 123.3h0M89.6 94.4h0M96.0 84.5h0M97.3 96.7h0M89.7 93.7h0M93.4 119.8h0M97.5 108.5h0M88.0 93.7h0M96.7 98.7h0M88.5 104.9h0M91.4 126.5h0M88.1 95.4h0M86.6 101.4h0M93.8 93.5h0M86.3 116.3h0M86.6 95.0h0M91.4 118.2h0M90.2 86.0h0M85.9 98.2h0M95.8 116.9h0M96.0 105.4h0M90.7 119.3h0M86.9 101.6h0M85.4 99.5h0M97.9 89.7h0M94.4 97.1h0M86.9 98.8h0M89.3 100.9h0M94.8 97.0h0M87.2 108.3h0M97.1 94.8h0M87.1 107.7h0M86.9 91.6h0M89.6 111.5h0M84.5 86.9h0M90.4 93.6h0M89.1 124.5h0M94.3 91.8h0M90.0 123.5h0M93.1 114.5h0M93.3 124.9h0M96.4 109.2h0M88.5 89.7h0M96.6 100.9h0M89.0 86.9h0M95.9 99.9h0M88.9 107.1h0M91.1 120.2h0M94.9 105.1h0M94.5 101.5h0M93.7 112.8h0M86.1 97.4h0M89.2 110.5h0M91.2 120.6h0M94.7 112.6h0M97.9 89.9h0M86.5 86.7h0M87.6 110.9h0M87.9 94.8h0M94.1 91.2h0M94.2 117.6h0M89.2 108.4h0M88.1 112.4h0M88.2 87.0h0M96.3 105.4h0M91.1 124.7h0M91.3 114.9h0M90.0 94.9h0M90.2 123.5h0M96.1 93.3h0M92.5 126.4h0M89.7 122.2h0M94.4 124.6h0M96.0 103.8h0M94.0 120.0h0M91.6 125.7h0M86.2 106.6h0M91.4 114.2h0M93.5 125.7h0M97.2 86.3h0M94.8 108.6h0M93.5 112.4h0M92.9 108.5h0M87.6 97.0h0M97.1 101.5h0M86.7 110.0h0M87.6 107.3h0M97.1 89.7h0M96.3 98.8h0M89.9 104.9h0M93.5 93.2h0M94.3 92.0h0M94.1 119.0h0M90.5 115.2h0M94.4 100.0h0M85.5 109.2h0M96.6 106.9h0M93.9 124.3h0M92.7 122.5h0M93.4 100.3h0M90.4 95.6h0M94.6 90.0h0M97.1 90.9h0M89.5 94.7h0M89.2 86.3h0M90.1 94.8h0M96.6 85.0h0M97.6 95.7h0M95.2 105.5h0M96.1 100.3h0M96.5 115.3h0M92.9 126.5h0M96.9 102.8h0M89.4 98.3h0M95.3 111.4h0M93.6 125.2h0M88.8 93.3h0M93.4 113.8h0M90.9 107.9h0M93.3 101.3h0M89.6 104.3h0M87.4 106.6h0M93.6 115.6h0M95.4 118.8h0M98.0 104.7h0M87.6 111.3h0M88.5 119.5h0M96.4 87.4h0M90.7 113.9h0M85.8 114.2h0M84.4 93.4h0M92.8 107.3h0M92.9 112.1h0M94.7 124.0h0M86.1 104.4h0M96.3 93.2h0M89.8 120.8h0M85.4 85.7h0M92.8 122.9h0M88.7 101.6h0M86.9 97.7h0M90.7 124.5h0M87.9 99.9h0M90.2 105.1h0M87.3 103.8h0M85.3 96.9h0M88.6 119.3h0M87.7 87.5h0M93.7 107.2h0M93.6 103.3h0M90.7 101.5h0M98.0 89.5h0M95.4 114.0h0M89.4 102.9h0M92.2 125.2h0M84.1 86.1h0M91.6 126.7h0M91.7 124.2h0M85.3 107.0h0M94.6 106.0h0M85.8 93.6h0M91.1 120.0h0M87.1 116.5h0M97.2 88.4h0M96.3 97.7h0M97.8 103.3h0M93.5 119.3h0M89.5 100.0h0M95.0 109.7h0M93.6 97.7h0M95.7 100.8h0M95.9 85.0h0M98.4 98.0h0M87.3 118.6h0M86.8 117.7h0M97.8 101.5h0M86.3 86.0h0M86.2 114.9h0M86.2 85.5h0M95.1 85.6h0M88.9 119.5h0M88.6 121.2h0M95.5 121.7h0M92.9 104.7h0M95.1 93.9h0M89.8 86.9h0M89.1 86.2h0M96.8 92.7h0M95.3 118.1h0M90.3 123.1h0M88.6 120.4h0M93.7 100.1h0M95.5 111.6h0M94.2 87.8h0M92.7 123.8h0M86.0 111.5h0M92.6 116.0h0M86.7 96.0h0M89.2 104.3h0M97.8 103.6h0M86.9 112.0h0M89.4 118.5h0M95.1 108.5h0M87.5 115.7h0M89.3 107.5h0M92.4 118.4h0M86.8 116.1h0M89.2 88.8h0M97.2 105.8h0M91.4 126.4h0M91.8 127.4h0M90.6 118.6h0M90.9 122.1h0M97.6 84.3h0M97.0 84.8h0M93.0 125.5h0M94.9 84.9h0M89.5 101.4h0M96.8 92.4h0M85.4 87.0h0M97.6 106.6h0M93.5 110.1h0M89.0 112.8h0M96.2 85.0h0M93.7 115.4h0M93.3 108.7h0M95.0 103.9h0M92.7 116.7h0M85.8 104.2h0M95.5 121.4h0M96.3 93.1h0M96.3 114.3h0M93.8 123.9h0M92.9 126.6h0M86.6 112.4h0M95.6 96.7h0M94.0 99.9h0M87.1 115.2h0M98.7 88.3h0M88.0 95.5h0M93.3 122.4h0M93.0 124.2h0M89.8 99.4h0M95.7 97.6h0M92.9 109.2h0M88.4 93.0h0M92.9 114.5h0M86.0 96.3h0M88.8 100.5h0M90.6 101.0h0M89.1 90.1h0M91.1 117.4h0M96.6 89.7h0M88.0 91.3h0M96.9 86.5h0M91.0 123.5h0M97.9 98.4h0M89.7 118.8h0M93.7 106.9h0M85.9 93.0h0M88.5 99.6h0M85.3 111.2h0M86.7 97.1h0M90.2 115.6h0M90.1 124.0h0M97.2 93.2h0M87.8 104.7h0M90.4 122.2h0M90.9 118.4h0M94.3 84.5h0M89.4 89.6h0M98.1 85.5h0M98.0 96.2h0M97.0 94.3h0M95.9 102.0h0M96.4 107.9h0M94.7 87.3h0M84.4 89.7h0M88.4 90.5h0M95.8 118.0h0M88.5 88.0h0M98.6 93.6h0M97.1 104.4h0M97.5 97.6h0M93.2 125.5h0M94.2 90.2h0M93.9 99.4h0M96.4 117.5h0M98.0 97.0h0M86.0 109.3h0M84.7 87.4h0M94.9 96.2h0M86.1 109.4h0M89.5 92.4h0M90.4 92.0h0M96.9 110.3h0M85.7 95.5h0M90.6 124.1h0M95.0 103.3h0M94.4 91.2h0M94.2 116.0h0M95.5 86.0h0M95.4 105.8h0M94.0 97.8h0M96.6 108.4h0M85.5 111.3h0M96.8 108.3h0M88.7 105.1h0M88.3 110.6h0M89.9 104.5h0M87.9 104.9h0M93.3 98.0h0M94.5 116.8h0M96.9 85.7h0M92.7 122.2h0M85.4 102.1h0M87.3 85.2h0M96.0 103.0h0M86.5 108.3h0M93.4 115.1h0M97.4 104.4h0M94.5 100.5h0M95.5 108.7h0M96.5 92.7h0M94.4 88.7h0M86.0 98.0h0M96.5 97.9h0M87.9 89.2h0M87.5 98.2h0M88.9 99.0h0M96.5 115.3h0M95.1 99.3h0M86.0 99.7h0M84.5 89.0h0M93.3 121.2h0M95.8 101.1h0M96.8 100.9h0M86.4 91.2h0M89.6 123.4h0M87.1 85.9h0M88.6 85.6h0M90.5 112.1h0M93.9 108.7h0M92.3 122.7h0M94.6 113.6h0M90.2 125.8h0M91.1 125.6h0M88.4 110.8h0M94.6 119.4h0M89.3 95.9h0M90.1 122.0h0M93.6 118.2h0M88.1 100.6h0M97.4 104.4h0M89.2 122.2h0M84.7 86.1h0M96.8 110.5h0M95.6 90.5h0M85.4 105.4h0M85.4 88.3h0M87.9 105.6h0M86.2 103.7h0M90.1 115.0h0M96.6 109.5h0M88.6 115.4h0M87.0 100.0h0M94.1 110.2h0M89.0 122.9h0M93.3 111.7h0M97.1 102.4h0M97.2 88.5h0M96.4 117.5h0M89.8 113.3h0M86.3 99.8h0M90.1 124.8h0M95.0 103.6h0M97.5 87.9h0M96.2 89.0h0M95.5 113.8h0M87.3 104.6h0M85.0 88.0h0M96.4 89.0h0M96.4 86.5h0M88.4 107.2h0M91.7 124.1h0M93.0 122.8h0M86.4 103.3h0M90.0 88.0h0M86.6 97.4h0M87.7 105.5h0M86.8 90.9h0M84.9 90.1h0M85.3 109.7h0M96.0 104.4h0M88.4 98.3h0M97.1 96.8h0M88.6 95.2h0M94.6 122.2h0M95.1 117.6h0M85.6 104.5h0M91.9 127.1h0M93.4 89.6h0M95.9 115.9h0M88.9 121.8h0M94.6 110.6h0M85.8 99.1h0M94.3 91.6h0M85.5 107.8h0M84.8 101.5h0M86.5 97.7h0M90.1 107.3h0M96.9 101.1h0M86.8 103.5h0M88.1 93.0h0M91.8 125.4h0M92.8 111.5h0M93.1 122.8h0M90.7 100.5h0M98.4 97.7h0M87.3 93.9h0M93.9 109.4h0M85.1 88.2h0M95.8 112.0h0M84.7 84.6h0M85.9 96.1h0M95.2 98.7h0M97.2 97.3h0M94.6 121.6h0M92.8 107.8h0M87.2 112.2h0M89.0 115.3h0M97.4 84.6h0M89.4 88.3h0M92.4 126.9h0M90.4 100.3h0M87.3 102.9h0M94.0 111.4h0M95.7 119.4h0M86.2 113.5h0M97.2 85.8h0M85.6 86.5h0M92.4 126.1h0M94.0 118.9h0M87.1 115.4h0M88.9 86.8h0M87.0 112.8h0M89.0 103.9h0M96.5 107.2h0M89.0 84.8h0M96.0 94.4h0M96.1 113.3h0M95.3 104.5h0M94.3 108.2h0M97.3 103.5h0M94.4 119.3h0M95.4 122.5h0M88.9 102.4h0M90.5 123.4h0M89.1 124.3h0M89.6 117.2h0M96.0 119.7h0M96.4 86.0h0M90.2 97.4h0M93.5 92.5h0M92.3 124.9h0M95.5 117.7h0M90.8 105.0h0M90.5 121.3h0M87.4 91.0h0M92.4 119.4h0M95.1 87.4h0M87.1 105.9h0M98.6 89.3h0M94.1 97.5h0M90.3 91.3h0M87.8 121.1h0M85.4 91.5h0M96.7 102.7h0M89.2 98.7h0M91.1 120.7h0M86.9 119.6h0M89.4 105.2h0M89.7 100.1h0M94.7 95.1h0M95.1 114.9h0M93.2 120.8h0M91.3 120.1h0M88.7 104.3h0M92.3 117.8h0M84.7 102.5h0M92.2 121.8h0M93.5 90.8h0M94.8 92.0h0M84.9 91.6h0M90.1 113.2h0M92.4 125.4h0M95.3 112.1h0M95.6 94.1h0M95.8 93.4h0M93.6 107.1h0M84.5 100.7h0M94.5 99.8h0M86.8 90.4h0M90.5 116.5h0M94.4 99.4h0M89.6 109.1h0M89.6 97.7h0M86.9 104.9h0M96.9 85.3h0M89.3 104.2h0M94.6 97.2h0M97.4 84.2h0M96.3 86.2h0M89.9 108.8h0M90.4 123.0h0M89.2 119.6h0M88.9 102.8h0M88.3 84.1h0M89.6 114.5h0M91.1 112.4h0M86.5 114.9h0M85.7 103.8h0M90.8 126.4h0M93.1 119.2h0M96.9 96.8h0M90.9 126.9h0M94.3 121.7h0M88.0 88.7h0M93.1 104.0h0M95.1 121.0h0M97.4 99.7h0M85.3 111.2h0M93.8 125.3h0M90.7 118.0h0M86.1 112.8h0M85.8 84.7h0M94.3 107.7h0M95.7 117.9h0M89.3 124.5h0M95.8 117.3h0M91.4 121.6h0M93.3 112.0h0M88.1 116.0h0M92.4 118.6h0M85.4 97.7h0M95.1 118.3h0M85.6 105.6h0M87.7 88.3h0M86.4 95.3h0M96.0 110.3h0M90.2 110.6h0M92.7 113.3h0M95.4 120.1h0M91.0 123.5h0M90.5 92.6h0M97.1 108.1h0M93.8 121.4h0M90.8 120.4h0M89.3 103.3h0M93.1 124.2h0M92.2 121.9h0M90.8 125.3h0M96.9 96.4h0M88.7 114.5h0M91.5 122.0h0M96.2 99.0h0M89.1 101.3h0M91.2 115.6h0M85.7 87.5h0M88.6 115.6h0M88.6 104.6h0M97.5 107.1h0M88.5 89.2h0M91.5 122.5h0M94.2 95.6h0M95.5 97.6h0M97.6 106.7h0M85.3 104.5h0M89.3 110.2h0M95.8 98.8h0M91.3 127.2h0M84.6 92.7h0M94.0 100.1h0M96.2 117.7h0M93.7 86.5h0M85.2 84.7h0M86.4 114.7h0M92.6 110.6h0M96.6 100.7h0M95.7 119.5h0M90.0 103.7h0M86.0 113.8h0M96.5 117.1h0M91.0 113.9h0M89.5 103.9h0M96.2 106.8h0M94.1 87.9h0M91.5 125.7h0M88.0 121.0h0M96.7 105.7h0M91.1 123.8h0M88.2 85.3h0M88.3 98.9h0M84.6 87.3h0M86.2 87.2h0M93.7 117.7h0M97.2 85.0h0M94.1 115.8h0M89.9 108.8h0M93.4 123.8h0M94.9 104.0h0M96.7 107.9h0M96.0 120.6h0M91.8 125.5h0M97.0 89.1h0M97.5 95.4h0M93.1 107.0h0M85.6 88.1h0M96.9 89.1h0M87.3 106.6h0M95.6 92.9h0M97.5 97.0h0M90.8 116.2h0M88.1 105.7h0M94.5 108.2h0M88.2 115.4h0M88.5 121.4h0M86.5 118.0h0M96.8 92.6h0M93.6 85.5h0M87.8 99.1h0M90.0 94.3h0M87.2 112.5h0M90.1 101.7h0M85.0 97.6h0M94.2 91.6h0M96.0 119.9h0M95.8 98.5h0M93.0 114.7h0M89.2 90.6h0M91.4 117.2h0M91.5 124.2h0M92.4 117.9h0M93.5 112.2h0M87.3 89.8h0M88.6 114.1h0M91.5 126.5h0M86.8 96.8h0M96.1 96.9h0M85.7 103.3h0M92.9 126.0h0M85.7 109.8h0M87.8 94.4h0M85.9 88.7h0M89.2 103.2h0M88.8 84.5h0M95.0 91.6h0M96.5 98.5h0M85.8 101.9h0M87.0 120.6h0M94.2 92.5h0M84.7 92.2h0M94.0 87.4h0M88.3 92.9h0M87.8 91.7h0M95.5 84.1h0M95.2 118.8h0M96.3 95.2h0M87.9 109.7h0M96.9 88.6h0M84.3 90.8h0M91.6 123.5h0M94.5 106.2h0M89.2 122.8h0M95.3 122.8h0M93.5 88.9h0M97.4 101.6h0M86.0 99.8h0M97.9 106.6h0M86.5 93.6h0M95.1 105.8h0M98.5 94.9h0M87.3 92.8h0M94.3 92.6h0M95.2 89.9h0M87.4 110.9h0M87.2 88.4h0M98.5 85.4h0M92.1 126.0h0M87.2 100.3h0M94.5 111.8h0M95.3 116.3h0M97.4 92.4h0M90.6 104.5h0M89.1 123.5h0M89.4 87.9h0M97.8 100.2h0M92.4 119.2h0M90.1 112.8h0M83.8 85.8h0M92.3 125.5h0M88.4 95.8h0M90.7 112.9h0M85.5 109.4h0M86.4 111.0h0M89.0 124.4h0M93.1 107.6h0M85.2 94.4h0M87.5 106.1h0M90.9 103.4h0M87.3 93.5h0M89.2 116.5h0M86.8 95.4h0M97.9 86.3h0M95.7 102.6h0M93.9 115.5h0M87.8 120.5h0M95.0 119.3h0M96.3 97.3h0M90.9 103.8h0M85.4 85.4h0M93.7 125.8h0M95.6 114.9h0M95.9 90.8h0M93.1 114.1h0M87.7 112.4h0M85.4 100.6h0M97.6 89.9h0M92.5 119.5h0M87.7 92.8h0M93.4 98.6h0M84.6 89.1h0M90.9 126.1h0M89.9 90.6h0M91.3 112.9h0M87.5 106.8h0M92.2 127.3h0M97.4 88.4h0M96.6 118.7h0M93.6 117.1h0M94.2 115.1h0M92.3 123.9h0M91.3 116.7h0M88.1 86.4h0M96.6 117.7h0M93.4 125.8h0M86.6 102.4h0M93.7 106.2h0M98.3 100.5h0M88.6 115.9h0M88.9 123.7h0M96.2 89.9h0M86.4 85.8h0M90.5 114.3h0M96.0 103.4h0M95.2 104.8h0M96.2 85.0h0M87.8 99.4h0M89.9 110.3h0M88.9 121.6h0M89.1 91.1h0M91.2 110.6h0M87.5 87.0h0M88.9 123.5h0M93.9 113.4h0M94.8 94.0h0M88.9 118.2h0M86.1 103.7h0M97.3 108.2h0M89.7 111.9h0M85.0 87.2h0M90.3 106.2h0M88.8 91.3h0M95.1 120.4h0M94.0 114.8h0M97.4 92.5h0M95.4 116.1h0M90.7 107.7h0M90.7 104.5h0M89.7 124.6h0M94.2 118.2h0M97.6 108.5h0M98.0 102.9h0M88.4 115.5h0M93.4 111.8h0M97.9 98.2h0M84.3 95.1h0M89.2 118.8h0M93.7 101.9h0M88.8 91.5h0M89.5 100.8h0M96.0 97.2h0M85.4 111.9h0M88.7 90.7h0M95.4 110.3h0M88.5 121.3h0M94.5 84.0h0M86.2 91.8h0M92.7 109.8h0M88.7 91.5h0M87.6 119.3h0M89.4 84.1h0M87.9 122.4h0M88.9 119.0h0M91.0 124.2h0M96.1 85.2h0M95.0 103.9h0M86.6 86.6h0M94.9 114.3h0M89.5 122.7h0M86.6 85.8h0M96.0 114.1h0M88.0 113.5h0M96.7 106.4h0M88.9 117.7h0M87.4 87.5h0M90.1 115.3h0M93.3 111.9h0M89.2 105.5h0M94.7 106.0h0M88.5 100.2h0M89.9 123.5h0M89.0 123.7h0M94.7 95.6h0M87.4 93.0h0M89.6 101.8h0M95.2 87.1h0M89.1 113.2h0M91.2 126.6h0M94.6 112.5h0M85.8 88.5h0M95.3 119.7h0M87.0 88.4h0M94.9 104.8h0M96.6 106.6h0M86.4 94.9h0M87.1 94.5h0M94.9 85.6h0M96.3 114.2h0M96.5 85.0h0M87.7 121.2h0M86.5 91.2h0M97.0 112.7h0M97.0 93.3h0M93.5 111.7h0M89.4 106.2h0M89.4 117.9h0M89.9 120.7h0M87.2 114.0h0M86.9 107.6h0M89.4 96.5h0M85.5 89.5h0M87.8 91.2h0M86.3 99.1h0M94.8 90.9h0M92.5 117.1h0M93.2 108.9h0M90.4 121.0h0M84.4 84.5h0M96.5 87.2h0M89.8 103.7h0M98.2 93.2h0M92.9 118.8h0M88.5 95.2h0M87.0 108.3h0M92.8 121.8h0M88.9 104.4h0M95.8 87.6h0M93.6 87.7h0M97.1 94.0h0M95.7 118.0h0M89.5 104.4h0M89.0 121.3h0M88.4 87.7h0" stroke="#cdcdcd" stroke-width="1.6" stroke-linecap="round" fill="none"/>
<path d="M54.9 72.4h0M44.4 83.5h0M121.3 55.6h0M126.7 81.4h0M116.6 61.9h0M82.6 46.6h0M38.0 98.3h0M49.8 111.0h0M63.8 110.0h0M70.9 105.3h0M78.0 115.8h0M129.5 92.4h0M115.5 106.5h0M134.2 113.5h0M88.5 50.5h0M79.6 50.8h0M86.0 44.0h0M122.0 68.0h0M110.0 70.0h0M60.0 95.0h0M57.0 120.0h0M128.0 120.0h0M140.0 105.0h0M47.0 123.0h0M136.0 98.0h0" stroke="#bdbdbd" stroke-width="1.6" stroke-linecap="round" fill="none"/>
<path d="M86.4 77.6h0M81.3 86.6h0M82.6 81.3h0M82.9 82.0h0M87.2 80.6h0M85.1 80.9h0M80.7 73.3h0M85.9 84.9h0M85.4 83.7h0M84.6 83.5h0M86.0 73.8h0M85.7 80.2h0M82.6 79.2h0M80.0 81.5h0M83.1 81.4h0M83.8 80.9h0M85.5 69.6h0M87.2 70.1h0M87.3 85.2h0M82.3 81.0h0M86.6 80.4h0M85.2 75.8h0M83.2 70.1h0M82.8 84.3h0M86.2 83.6h0M83.0 82.9h0M86.2 70.3h0M84.3 81.9h0M81.8 82.1h0M80.7 81.4h0M80.9 79.5h0M81.6 79.6h0M81.1 85.3h0M81.7 82.8h0M81.9 69.9h0M81.9 79.1h0M80.6 82.2h0M82.5 74.3h0M82.9 86.4h0M87.1 84.3h0M88.0 69.6h0M86.6 88.5h0M82.5 79.7h0M84.2 87.4h0M87.2 79.8h0M85.3 77.2h0M84.8 88.3h0M87.1 80.0h0M82.3 69.5h0M83.5 79.4h0M86.1 79.5h0M83.7 80.0h0M82.7 79.8h0M85.9 86.1h0M82.9 86.3h0M86.6 82.6h0M87.7 83.5h0M84.0 81.2h0M87.8 85.9h0M85.8 84.4h0M82.3 85.9h0M82.0 80.8h0M83.0 81.6h0M79.9 79.9h0M85.9 87.3h0M83.9 80.0h0M87.1 83.0h0M82.6 80.7h0M82.4 87.4h0M87.4 84.9h0M97.7 81.0h0M101.5 86.3h0M101.0 77.3h0M97.2 83.8h0M99.3 78.1h0M100.8 82.7h0M101.3 74.2h0M103.2 82.6h0M103.5 82.7h0M101.8 77.5h0M99.3 86.1h0M99.0 85.8h0M98.6 79.9h0M104.2 82.3h0M100.7 74.1h0M99.7 75.7h0M101.0 86.7h0M98.6 86.1h0M103.9 76.2h0M103.6 83.2h0M97.8 75.9h0M101.4 85.3h0M98.9 84.0h0M101.6 75.7h0M102.1 77.8h0M97.9 80.0h0M96.8 85.4h0M96.8 86.8h0M104.4 85.6h0M101.3 86.8h0M96.9 78.8h0M100.3 76.1h0M102.0 84.6h0M100.1 74.7h0M99.1 85.2h0M84.2 53.0h0M85.7 57.7h0M98.0 65.0h0M100.5 68.5h0M96.0 72.0h0" stroke="#c8323c" stroke-width="1.9" stroke-linecap="round" fill="none"/>
<path d="M86.4 77.6h0M82.6 81.3h0M87.2 80.6h0M80.7 73.3h0M85.4 83.7h0M86.0 73.8h0M82.6 79.2h0M83.1 81.4h0M85.5 69.6h0M87.3 85.2h0M86.6 80.4h0M83.2 70.1h0M86.2 83.6h0M86.2 70.3h0M81.8 82.1h0M80.9 79.5h0M81.1 85.3h0M81.9 69.9h0M80.6 82.2h0M82.9 86.4h0M88.0 69.6h0M82.5 79.7h0M87.2 79.8h0M84.8 88.3h0M82.3 69.5h0M86.1 79.5h0M82.7 79.8h0M82.9 86.3h0M87.7 83.5h0M87.8 85.9h0M82.3 85.9h0M83.0 81.6h0M85.9 87.3h0M87.1 83.0h0M82.4 87.4h0M97.7 81.0h0M101.0 77.3h0M99.3 78.1h0M101.3 74.2h0M103.5 82.7h0M99.3 86.1h0M98.6 79.9h0M100.7 74.1h0M101.0 86.7h0M103.9 76.2h0M97.8 75.9h0M98.9 84.0h0M102.1 77.8h0M96.8 85.4h0M104.4 85.6h0M96.9 78.8h0M102.0 84.6h0M99.1 85.2h0M85.7 57.7h0M100.5 68.5h0" stroke="#f2c0c4" stroke-width="0.7" stroke-linecap="round" fill="none"/>
<line x1="80.2" y1="60.4" x2="84.3" y2="63.4" stroke="#0a0a0a" stroke-width="1.6"/>
<line x1="77.2" y1="68.9" x2="82.3" y2="72.6" stroke="#0a0a0a" stroke-width="1.6"/>
<line x1="77.2" y1="72.6" x2="81.6" y2="76" stroke="#0a0a0a" stroke-width="1.6"/>
<line x1="77.5" y1="76.3" x2="81.3" y2="78.3" stroke="#0a0a0a" stroke-width="1.6"/>
<line x1="78.2" y1="79.6" x2="80.8" y2="80.3" stroke="#0a0a0a" stroke-width="1.6"/>
<line x1="74.5" y1="84.4" x2="79.6" y2="84.4" stroke="#0a0a0a" stroke-width="1.6"/>
<line x1="84.3" y1="91.5" x2="89.7" y2="87.4" stroke="#0a0a0a" stroke-width="1.6"/>
<line x1="98.4" y1="60.6" x2="96.5" y2="73.5" stroke="#0a0a0a" stroke-width="1.6"/>
<line x1="106" y1="66" x2="102.9" y2="71.3" stroke="#0a0a0a" stroke-width="1.6"/>
<line x1="99.1" y1="76.2" x2="104" y2="77.3" stroke="#0a0a0a" stroke-width="1.6"/>
<line x1="100.6" y1="81.9" x2="107.8" y2="81.9" stroke="#0a0a0a" stroke-width="1.6"/>
<line x1="100.6" y1="83.4" x2="109" y2="85.7" stroke="#0a0a0a" stroke-width="1.6"/>
<text x="78.5" y="61.6" font-size="4.5" text-anchor="end" fill="#111" stroke="#111" style="stroke-width:0.16px">Jag2</text>
<text x="75.9" y="69.0" font-size="4.5" text-anchor="end" fill="#111" stroke="#111" style="stroke-width:0.16px">Ly6d</text>
<text x="74.8" y="73.0" font-size="4.5" text-anchor="end" fill="#111" stroke="#111" style="stroke-width:0.16px">Lyl</text>
<text x="74.4" y="76.4" font-size="4.5" text-anchor="end" fill="#111" stroke="#111" style="stroke-width:0.16px">Eli</text>
<text x="76.4" y="80.4" font-size="4.5" text-anchor="end" fill="#111" stroke="#111" style="stroke-width:0.16px">Sdfy3</text>
<text x="72.8" y="84.9" font-size="4.5" text-anchor="end" fill="#111" stroke="#111" style="stroke-width:0.16px">Pag1</text>
<text x="81.8" y="93.0" font-size="4.5" text-anchor="end" fill="#111" stroke="#111" style="stroke-width:0.16px">Bcl2l11</text>
<text x="94.4" y="59.6" font-size="4.5" text-anchor="start" fill="#111" stroke="#111" style="stroke-width:0.16px">Gdx10</text>
<text x="106.3" y="65.6" font-size="4.5" text-anchor="start" fill="#111" stroke="#111" style="stroke-width:0.16px">Ifit2</text>
<text x="105.2" y="78.2" font-size="4.5" text-anchor="start" fill="#111" stroke="#111" style="stroke-width:0.16px">Nmgal2</text>
<text x="108.2" y="82.3" font-size="4.5" text-anchor="start" fill="#111" stroke="#111" style="stroke-width:0.16px">Nsam1</text>
<text x="109.4" y="86.9" font-size="4.5" text-anchor="start" fill="#111" stroke="#111" style="stroke-width:0.16px">Dedh2</text>
<rect x="31.5" y="22.3" width="121.5" height="108.89999999999999" fill="none" stroke="#161616" stroke-width="1.35"/>
<line x1="28.3" y1="127.6" x2="31.5" y2="127.6" stroke="#161616" stroke-width="1.1"/>
<text x="25.3" y="129.9" font-size="6.5" text-anchor="end" fill="#231f20" stroke="#231f20">0</text>
<line x1="28.3" y1="102.14999999999999" x2="31.5" y2="102.14999999999999" stroke="#161616" stroke-width="1.1"/>
<text x="25.3" y="104.44999999999999" font-size="6.5" text-anchor="end" fill="#231f20" stroke="#231f20">2</text>
<line x1="28.3" y1="76.69999999999999" x2="31.5" y2="76.69999999999999" stroke="#161616" stroke-width="1.1"/>
<text x="25.3" y="78.99999999999999" font-size="6.5" text-anchor="end" fill="#231f20" stroke="#231f20">4</text>
<line x1="28.3" y1="51.25" x2="31.5" y2="51.25" stroke="#161616" stroke-width="1.1"/>
<text x="25.3" y="53.55" font-size="6.5" text-anchor="end" fill="#231f20" stroke="#231f20">6</text>
<line x1="28.3" y1="25.799999999999997" x2="31.5" y2="25.799999999999997" stroke="#161616" stroke-width="1.1"/>
<text x="25.3" y="28.099999999999998" font-size="6.5" text-anchor="end" fill="#231f20" stroke="#231f20">8</text>
<line x1="35.1" y1="131.2" x2="35.1" y2="134.39999999999998" stroke="#161616" stroke-width="1.1"/>
<text x="35.1" y="143.3" font-size="7.0" text-anchor="middle" fill="#231f20" stroke="#231f20">-10</text>
<line x1="63.400000000000006" y1="131.2" x2="63.400000000000006" y2="134.39999999999998" stroke="#161616" stroke-width="1.1"/>
<text x="63.400000000000006" y="143.3" font-size="7.0" text-anchor="middle" fill="#231f20" stroke="#231f20">-5</text>
<line x1="91.7" y1="131.2" x2="91.7" y2="134.39999999999998" stroke="#161616" stroke-width="1.1"/>
<text x="91.7" y="143.3" font-size="7.0" text-anchor="middle" fill="#231f20" stroke="#231f20">0</text>
<line x1="120.0" y1="131.2" x2="120.0" y2="134.39999999999998" stroke="#161616" stroke-width="1.1"/>
<text x="120.0" y="143.3" font-size="7.0" text-anchor="middle" fill="#231f20" stroke="#231f20">5</text>
<line x1="148.3" y1="131.2" x2="148.3" y2="134.39999999999998" stroke="#161616" stroke-width="1.1"/>
<text x="148.3" y="143.3" font-size="7.0" text-anchor="middle" fill="#231f20" stroke="#231f20">10</text>
<text x="91.9" y="155.0" font-size="8.7" text-anchor="middle" fill="#231f20" stroke="#231f20" textLength="55" lengthAdjust="spacingAndGlyphs">Fold change (log2)</text>
<text transform="translate(16.0,77.2) rotate(-90)" font-size="8.1" text-anchor="middle" fill="#231f20" stroke="#231f20" textLength="47" lengthAdjust="spacingAndGlyphs"><tspan font-style="italic">P</tspan> value (-log10)</text>
<text x="33.9" y="28.4" font-size="5.8" text-anchor="start" fill="#231f20" stroke="#231f20" textLength="40.5" lengthAdjust="spacingAndGlyphs">Down in P95H/+</text>
<text x="148.5" y="28.4" font-size="5.8" text-anchor="end" fill="#231f20" stroke="#231f20" textLength="30.5" lengthAdjust="spacingAndGlyphs">Up in P95H/+</text>
<line x1="89.5" y1="34.6" x2="77.9" y2="34.6" stroke="#111" stroke-width="1.0"/>
<path d="M77.9,34.6 L80.28,32.9 L80.28,36.300000000000004 Z" stroke="none" fill="#111" stroke-width="1"/>
<line x1="94.3" y1="34.6" x2="106.2" y2="34.6" stroke="#111" stroke-width="1.0"/>
<path d="M106.2,34.6 L103.82000000000001,32.9 L103.82000000000001,36.300000000000004 Z" stroke="none" fill="#111" stroke-width="1"/>
<rect x="284.2" y="37.9" width="49.0" height="82.6" fill="#d5d5d5"/>
<line x1="235.3" y1="107.3" x2="235.3" y2="120.4" stroke="#c4c4c4" stroke-width="0.9"/>
<line x1="260.7" y1="107.3" x2="260.7" y2="120.4" stroke="#c4c4c4" stroke-width="0.9"/>
<line x1="264.9" y1="107.3" x2="264.9" y2="120.4" stroke="#c4c4c4" stroke-width="0.9"/>
<line x1="270.2" y1="107.3" x2="270.2" y2="120.4" stroke="#c4c4c4" stroke-width="0.9"/>
<line x1="273.4" y1="107.3" x2="273.4" y2="120.4" stroke="#c4c4c4" stroke-width="0.9"/>
<line x1="276.5" y1="107.3" x2="276.5" y2="120.4" stroke="#c4c4c4" stroke-width="0.9"/>
<line x1="279.1" y1="107.3" x2="279.1" y2="120.4" stroke="#c4c4c4" stroke-width="0.9"/>
<line x1="281.8" y1="107.3" x2="281.8" y2="120.4" stroke="#c4c4c4" stroke-width="0.9"/>
<line x1="285" y1="107.3" x2="285" y2="120.4" stroke="#c4c4c4" stroke-width="0.9"/>
<line x1="287.5" y1="107.3" x2="287.5" y2="120.4" stroke="#c4c4c4" stroke-width="0.9"/>
<line x1="290.3" y1="107.3" x2="290.3" y2="120.4" stroke="#c4c4c4" stroke-width="0.9"/>
<line x1="293.5" y1="107.3" x2="293.5" y2="120.4" stroke="#c4c4c4" stroke-width="0.9"/>
<line x1="297.7" y1="107.3" x2="297.7" y2="120.4" stroke="#c4c4c4" stroke-width="0.9"/>
<line x1="303" y1="107.3" x2="303" y2="120.4" stroke="#c4c4c4" stroke-width="0.9"/>
<path d="M215.00 104.40 L215.25 104.40 L215.50 104.40 L215.75 104.40 L216.00 104.40 L216.25 104.39 L216.50 104.39 L216.75 104.39 L217.00 104.39 L217.25 104.39 L217.50 104.39 L217.75 104.39 L218.00 104.38 L218.25 104.38 L218.50 104.38 L218.75 104.37 L219.00 104.37 L219.25 104.37 L219.50 104.36 L219.75 104.35 L220.00 104.35 L220.25 104.34 L220.50 104.33 L220.75 104.32 L221.00 104.31 L221.25 104.30 L221.50 104.29 L221.75 104.27 L222.00 104.26 L222.25 104.24 L222.50 104.22 L222.75 104.20 L223.00 104.18 L223.25 104.15 L223.50 104.13 L223.75 104.10 L224.00 104.07 L224.25 104.03 L224.50 104.00 L224.75 103.96 L225.00 103.91 L225.25 103.87 L225.50 103.82 L225.75 103.77 L226.00 103.71 L226.25 103.65 L226.50 103.59 L226.75 103.52 L227.00 103.46 L227.25 103.38 L227.50 103.31 L227.75 103.23 L228.00 103.15 L228.25 103.07 L228.50 102.98 L228.75 102.89 L229.00 102.80 L229.25 102.70 L229.50 102.61 L229.75 102.51 L230.00 102.41 L230.25 102.32 L230.50 102.22 L230.75 102.12 L231.00 102.02 L231.25 101.92 L231.50 101.82 L231.75 101.73 L232.00 101.64 L232.25 101.55 L232.50 101.46 L232.75 101.38 L233.00 101.30 L233.25 101.22 L233.50 101.15 L233.75 101.09 L234.00 101.03 L234.25 100.98 L234.50 100.93 L234.75 100.89 L235.00 100.86 L235.25 100.83 L235.50 100.81 L235.75 100.80 L236.00 100.80 L236.25 100.80 L236.50 100.81 L236.75 100.83 L237.00 100.86 L237.25 100.89 L237.50 100.93 L237.75 100.98 L238.00 101.03 L238.25 101.09 L238.50 101.15 L238.75 101.22 L239.00 101.30 L239.25 101.38 L239.50 101.46 L239.75 101.55 L240.00 101.64 L240.25 101.73 L240.50 101.82 L240.75 101.92 L241.00 102.02 L241.25 102.12 L241.50 102.22 L241.75 102.32 L242.00 102.41 L242.25 102.51 L242.50 102.61 L242.75 102.70 L243.00 102.80 L243.25 102.89 L243.50 102.98 L243.75 103.07 L244.00 103.15 L244.25 103.23 L244.50 103.31 L244.75 103.38 L245.00 103.46 L245.25 103.52 L245.50 103.59 L245.75 103.65 L246.00 103.71 L246.25 103.77 L246.50 103.82 L246.75 103.87 L247.00 103.91 L247.25 103.96 L247.50 104.00 L247.75 104.03 L248.00 104.07 L248.25 104.10 L248.50 104.13 L248.75 104.15 L249.00 104.18 L249.25 104.20 L249.50 104.22 L249.75 104.24 L250.00 104.26 L250.25 104.27 L250.50 104.29 L250.75 104.30 L251.00 104.31 L251.25 104.32 L251.50 104.33 L251.75 104.34 L252.00 104.35 L252.25 104.35 L252.50 104.36 L252.75 104.37 L253.00 104.37 L253.25 104.37 L253.50 104.38 L253.75 104.38 L254.00 104.38 L254.25 104.39 L254.50 104.39 L254.75 104.39 L255.00 104.39 L255.25 104.39 L255.50 104.39 L255.75 104.39 L256.00 104.40 L256.25 104.40 L256.50 104.40 L256.75 104.40 L257.00 104.40 L257.25 104.40 L257.50 104.40 L257.75 104.40 L258.00 104.40 L258.25 104.40 L258.50 104.40 L258.75 104.40 L259.00 104.40 L259.25 104.40 L259.50 104.40 L259.75 104.40 L260.00 104.40 L260.25 104.40 L260.50 104.40 L260.75 104.40 L261.00 104.40 L261.25 104.40 L261.50 104.40 L261.75 104.40 L262.00 104.40 L262.25 104.40 L262.50 104.40 L262.75 104.40 L263.00 104.40 L263.25 104.40 L263.50 104.40 L263.75 104.40 L264.00 104.40 L264.25 104.40 L264.50 104.40 L264.75 104.40 L265.00 104.40 L265.25 104.40 L265.50 104.40 L265.75 104.40 L266.00 104.40 L266.25 104.40 L266.50 104.40 L266.75 104.40 L267.00 104.40 L267.25 104.40 L267.50 104.40 L267.75 104.40 L268.00 104.40 L268.25 104.40 L268.50 104.40 L268.75 104.40 L269.00 104.40 L269.25 104.40 L269.50 104.40 L269.75 104.40 L270.00 104.40 L270.25 104.40 L270.50 104.40 L270.75 104.40 L271.00 104.40 L271.25 104.40 L271.50 104.40 L271.75 104.40 L272.00 104.40 L272.25 104.40 L272.50 104.40 L272.75 104.40 L273.00 104.40 L273.25 104.40 L273.50 104.40 L273.75 104.40 L274.00 104.40 L274.25 104.40 L274.50 104.40 L274.75 104.40 L275.00 104.40 L275.25 104.40 L275.50 104.40 L275.75 104.40 L276.00 104.40 L276.25 104.40 L276.50 104.40 L276.75 104.40 L277.00 104.40 L277.25 104.40 L277.50 104.40 L277.75 104.40 L278.00 104.40 L278.25 104.40 L278.50 104.40 L278.75 104.40 L279.00 104.40 L279.25 104.40 L279.50 104.40 L279.75 104.40 L280.00 104.40 L280.25 104.40 L280.50 104.40 L280.75 104.40 L281.00 104.40 L281.25 104.40 L281.50 104.40 L281.75 104.40 L282.00 104.40 L282.25 104.40 L282.50 104.40 L282.75 104.40 L283.00 104.40 L283.25 104.40 L283.50 104.40 L283.75 104.40 L284.00 104.40 L284.25 104.40 L284.50 104.40 L284.75 104.40 L285.00 104.40 L285.25 104.40 L285.50 104.40 L285.75 104.40 L286.00 104.40 L286.25 104.40 L286.50 104.40 L286.75 104.40 L287.00 104.40 L287.25 104.40 L287.50 104.40 L287.75 104.40 L288.00 104.40 L288.25 104.40 L288.50 104.40 L288.75 104.40 L289.00 104.40 L289.25 104.40 L289.50 104.40 L289.75 104.40 L290.00 104.40 L290.25 104.40 L290.50 104.40 L290.75 104.40 L291.00 104.40 L291.25 104.40 L291.50 104.40 L291.75 104.40 L292.00 104.40 L292.25 104.40 L292.50 104.40 L292.75 104.40 L293.00 104.40 L293.25 104.40 L293.50 104.40 L293.75 104.40 L294.00 104.40 L294.25 104.40 L294.50 104.40 L294.75 104.40 L295.00 104.40 L295.25 104.40 L295.50 104.40 L295.75 104.40 L296.00 104.40 L296.25 104.40 L296.50 104.40 L296.75 104.40 L297.00 104.40 L297.25 104.40 L297.50 104.40 L297.75 104.40 L298.00 104.40 L298.25 104.40 L298.50 104.40 L298.75 104.40 L299.00 104.40 L299.25 104.40 L299.50 104.40 L299.75 104.40 L300.00 104.40 L300.25 104.40 L300.50 104.40 L300.75 104.40 L301.00 104.40 L301.25 104.40 L301.50 104.40 L301.75 104.40 L302.00 104.40 L302.25 104.40 L302.50 104.40 L302.75 104.40 L303.00 104.40 L303.25 104.40 L303.50 104.40 L303.75 104.40 L304.00 104.40 L304.25 104.40 L304.50 104.40 L304.75 104.40 L305.00 104.40 L305.25 104.40 L305.50 104.40 L305.75 104.40 L306.00 104.40 L306.25 104.40 L306.50 104.40 L306.75 104.40 L307.00 104.40 L307.25 104.40 L307.50 104.40 L307.75 104.40 L308.00 104.40 L308.25 104.40 L308.50 104.40 L308.75 104.40 L309.00 104.40 L309.25 104.40 L309.50 104.40 L309.75 104.40 L310.00 104.40 L310.25 104.40 L310.50 104.40 L310.75 104.40 L311.00 104.40 L311.25 104.40 L311.50 104.40 L311.75 104.40 L312.00 104.40 L312.25 104.40 L312.50 104.40 L312.75 104.40 L313.00 104.40 L313.25 104.40 L313.50 104.40 L313.75 104.40 L314.00 104.40 L314.25 104.40 L314.50 104.40 L314.75 104.40 L315.00 104.40 L315.25 104.40 L315.50 104.40 L315.75 104.40 L316.00 104.40 L316.25 104.40 L316.50 104.40 L316.75 104.40 L317.00 104.40 L317.25 104.40 L317.50 104.40 L317.75 104.40 L318.00 104.40 L318.25 104.40 L318.50 104.40 L318.75 104.40 L319.00 104.40 L319.25 104.40 L319.50 104.40 L319.75 104.40 L320.00 104.40 L320.25 104.40 L320.50 104.40 L320.75 104.40 L321.00 104.40 L321.25 104.40 L321.50 104.40 L321.75 104.40 L322.00 104.40 L322.25 104.40 L322.50 104.40 L322.75 104.40 L323.00 104.40 L323.25 104.40 L323.50 104.40 L323.75 104.40 L324.00 104.40 L324.25 104.40 L324.50 104.40 L324.75 104.40 L325.00 104.40 L325.25 104.40 L325.50 104.40 L325.75 104.40 L326.00 104.40 L326.25 104.40 L326.50 104.40 L326.75 104.40 L327.00 104.40 L327.25 104.40 L327.50 104.40 L327.75 104.40 L328.00 104.40 L328.25 104.40 L328.50 104.40 L328.75 104.40 L329.00 104.40 L329.25 104.40 L329.50 104.40 L329.75 104.40 L330.00 104.40 L330.25 104.40 L330.50 104.40 L330.75 104.40 L331.00 104.40 L331.25 104.40 L331.50 104.40 L331.75 104.40 L332.00 104.40 L332.25 104.40 L332.50 104.40 L332.75 104.40 L333.00 104.40" stroke="#b8cc98" fill="none" stroke-width="0.7"/>
<path d="M240.00 104.40 L240.25 104.40 L240.50 104.40 L240.75 104.40 L241.00 104.40 L241.25 104.40 L241.50 104.40 L241.75 104.40 L242.00 104.40 L242.25 104.40 L242.50 104.40 L242.75 104.40 L243.00 104.40 L243.25 104.40 L243.50 104.40 L243.75 104.40 L244.00 104.40 L244.25 104.40 L244.50 104.40 L244.75 104.40 L245.00 104.40 L245.25 104.40 L245.50 104.40 L245.75 104.40 L246.00 104.40 L246.25 104.40 L246.50 104.40 L246.75 104.40 L247.00 104.40 L247.25 104.40 L247.50 104.40 L247.75 104.40 L248.00 104.40 L248.25 104.40 L248.50 104.40 L248.75 104.40 L249.00 104.40 L249.25 104.40 L249.50 104.40 L249.75 104.40 L250.00 104.40 L250.25 104.40 L250.50 104.40 L250.75 104.40 L251.00 104.40 L251.25 104.40 L251.50 104.40 L251.75 104.40 L252.00 104.40 L252.25 104.40 L252.50 104.40 L252.75 104.40 L253.00 104.40 L253.25 104.40 L253.50 104.40 L253.75 104.40 L254.00 104.40 L254.25 104.40 L254.50 104.40 L254.75 104.40 L255.00 104.40 L255.25 104.40 L255.50 104.40 L255.75 104.40 L256.00 104.40 L256.25 104.40 L256.50 104.40 L256.75 104.40 L257.00 104.40 L257.25 104.39 L257.50 104.39 L257.75 104.39 L258.00 104.38 L258.25 104.38 L258.50 104.37 L258.75 104.37 L259.00 104.36 L259.25 104.34 L259.50 104.33 L259.75 104.31 L260.00 104.29 L260.25 104.26 L260.50 104.22 L260.75 104.18 L261.00 104.14 L261.25 104.08 L261.50 104.02 L261.75 103.94 L262.00 103.86 L262.25 103.76 L262.50 103.65 L262.75 103.53 L263.00 103.40 L263.25 103.26 L263.50 103.10 L263.75 102.93 L264.00 102.76 L264.25 102.57 L264.50 102.37 L264.75 102.18 L265.00 101.97 L265.25 101.77 L265.50 101.57 L265.75 101.38 L266.00 101.20 L266.25 101.03 L266.50 100.87 L266.75 100.73 L267.00 100.62 L267.25 100.52 L267.50 100.46 L267.75 100.41 L268.00 100.40 L268.25 100.41 L268.50 100.46 L268.75 100.52 L269.00 100.62 L269.25 100.73 L269.50 100.87 L269.75 101.03 L270.00 101.20 L270.25 101.38 L270.50 101.57 L270.75 101.77 L271.00 101.97 L271.25 102.18 L271.50 102.37 L271.75 102.57 L272.00 102.75 L272.25 102.93 L272.50 103.10 L272.75 103.25 L273.00 103.39 L273.25 103.52 L273.50 103.64 L273.75 103.74 L274.00 103.82 L274.25 103.89 L274.50 103.95 L274.75 103.99 L275.00 104.02 L275.25 104.03 L275.50 104.02 L275.75 103.99 L276.00 103.95 L276.25 103.88 L276.50 103.79 L276.75 103.68 L277.00 103.54 L277.25 103.38 L277.50 103.19 L277.75 102.97 L278.00 102.72 L278.25 102.44 L278.50 102.14 L278.75 101.82 L279.00 101.47 L279.25 101.12 L279.50 100.76 L279.75 100.40 L280.00 100.04 L280.25 99.70 L280.50 99.39 L280.75 99.10 L281.00 98.86 L281.25 98.66 L281.50 98.52 L281.75 98.43 L282.00 98.40 L282.25 98.43 L282.50 98.51 L282.75 98.66 L283.00 98.85 L283.25 99.09 L283.50 99.37 L283.75 99.68 L284.00 100.01 L284.25 100.35 L284.50 100.70 L284.75 101.04 L285.00 101.36 L285.25 101.66 L285.50 101.94 L285.75 102.18 L286.00 102.37 L286.25 102.52 L286.50 102.62 L286.75 102.66 L287.00 102.65 L287.25 102.57 L287.50 102.43 L287.75 102.22 L288.00 101.94 L288.25 101.59 L288.50 101.18 L288.75 100.69 L289.00 100.15 L289.25 99.54 L289.50 98.88 L289.75 98.17 L290.00 97.43 L290.25 96.66 L290.50 95.88 L290.75 95.10 L291.00 94.35 L291.25 93.63 L291.50 92.96 L291.75 92.37 L292.00 91.86 L292.25 91.44 L292.50 91.14 L292.75 90.95 L293.00 90.88 L293.25 90.94 L293.50 91.11 L293.75 91.40 L294.00 91.78 L294.25 92.26 L294.50 92.81 L294.75 93.41 L295.00 94.05 L295.25 94.70 L295.50 95.34 L295.75 95.95 L296.00 96.51 L296.25 97.01 L296.50 97.43 L296.75 97.76 L297.00 97.99 L297.25 98.13 L297.50 98.18 L297.75 98.14 L298.00 98.03 L298.25 97.87 L298.50 97.68 L298.75 97.47 L299.00 97.28 L299.25 97.12 L299.50 97.02 L299.75 96.99 L300.00 97.04 L300.25 97.18 L300.50 97.40 L300.75 97.72 L301.00 98.10 L301.25 98.55 L301.50 99.05 L301.75 99.58 L302.00 100.12 L302.25 100.66 L302.50 101.18 L302.75 101.67 L303.00 102.12 L303.25 102.52 L303.50 102.88 L303.75 103.19 L304.00 103.45 L304.25 103.67 L304.50 103.84 L304.75 103.98 L305.00 104.09 L305.25 104.18 L305.50 104.24 L305.75 104.29 L306.00 104.32 L306.25 104.35 L306.50 104.36 L306.75 104.38 L307.00 104.38 L307.25 104.39 L307.50 104.39 L307.75 104.40 L308.00 104.40 L308.25 104.40 L308.50 104.40 L308.75 104.40 L309.00 104.40 L309.25 104.40 L309.50 104.40 L309.75 104.40 L310.00 104.40 L310.25 104.40 L310.50 104.40 L310.75 104.40 L311.00 104.40 L311.25 104.40 L311.50 104.40 L311.75 104.40 L312.00 104.40 L312.25 104.40 L312.50 104.40 L312.75 104.40 L313.00 104.40 L313.25 104.40 L313.50 104.40 L313.75 104.40 L314.00 104.40 L314.25 104.40 L314.50 104.40 L314.75 104.40 L315.00 104.40 L315.25 104.40 L315.50 104.40 L315.75 104.40 L316.00 104.40 L316.25 104.40 L316.50 104.40 L316.75 104.40 L317.00 104.40 L317.25 104.40 L317.50 104.40 L317.75 104.40 L318.00 104.40 L318.25 104.40 L318.50 104.40 L318.75 104.40 L319.00 104.40 L319.25 104.40 L319.50 104.40 L319.75 104.40 L320.00 104.40 L320.25 104.40 L320.50 104.40 L320.75 104.40 L321.00 104.40 L321.25 104.40 L321.50 104.40 L321.75 104.40 L322.00 104.40 L322.25 104.40 L322.50 104.40 L322.75 104.40 L323.00 104.40 L323.25 104.40 L323.50 104.40 L323.75 104.40 L324.00 104.40 L324.25 104.40 L324.50 104.40 L324.75 104.40 L325.00 104.40 L325.25 104.40 L325.50 104.40 L325.75 104.40 L326.00 104.40 L326.25 104.40 L326.50 104.40 L326.75 104.40 L327.00 104.40 L327.25 104.40 L327.50 104.40 L327.75 104.40 L328.00 104.40 L328.25 104.40 L328.50 104.40 L328.75 104.40 L329.00 104.40 L329.25 104.40 L329.50 104.40 L329.75 104.40 L330.00 104.40 L330.25 104.40 L330.50 104.40 L330.75 104.40 L331.00 104.40 L331.25 104.40 L331.50 104.40 L331.75 104.40 L332.00 104.40 L332.25 104.40 L332.50 104.40 L332.75 104.40 L333.00 104.40" stroke="#d4d88a" fill="none" stroke-width="0.7"/>
<path d="M240.00 104.40 L240.25 104.40 L240.50 104.40 L240.75 104.40 L241.00 104.40 L241.25 104.40 L241.50 104.40 L241.75 104.40 L242.00 104.40 L242.25 104.40 L242.50 104.40 L242.75 104.40 L243.00 104.40 L243.25 104.40 L243.50 104.40 L243.75 104.40 L244.00 104.40 L244.25 104.40 L244.50 104.40 L244.75 104.40 L245.00 104.40 L245.25 104.40 L245.50 104.40 L245.75 104.40 L246.00 104.40 L246.25 104.40 L246.50 104.40 L246.75 104.40 L247.00 104.40 L247.25 104.40 L247.50 104.40 L247.75 104.40 L248.00 104.40 L248.25 104.40 L248.50 104.40 L248.75 104.40 L249.00 104.40 L249.25 104.40 L249.50 104.40 L249.75 104.40 L250.00 104.40 L250.25 104.40 L250.50 104.40 L250.75 104.40 L251.00 104.40 L251.25 104.40 L251.50 104.40 L251.75 104.40 L252.00 104.40 L252.25 104.40 L252.50 104.40 L252.75 104.40 L253.00 104.40 L253.25 104.40 L253.50 104.40 L253.75 104.40 L254.00 104.40 L254.25 104.40 L254.50 104.40 L254.75 104.40 L255.00 104.40 L255.25 104.40 L255.50 104.40 L255.75 104.40 L256.00 104.40 L256.25 104.40 L256.50 104.40 L256.75 104.40 L257.00 104.40 L257.25 104.40 L257.50 104.40 L257.75 104.40 L258.00 104.40 L258.25 104.40 L258.50 104.40 L258.75 104.40 L259.00 104.40 L259.25 104.40 L259.50 104.40 L259.75 104.40 L260.00 104.40 L260.25 104.40 L260.50 104.40 L260.75 104.39 L261.00 104.39 L261.25 104.39 L261.50 104.39 L261.75 104.38 L262.00 104.38 L262.25 104.37 L262.50 104.36 L262.75 104.35 L263.00 104.33 L263.25 104.31 L263.50 104.29 L263.75 104.26 L264.00 104.23 L264.25 104.19 L264.50 104.14 L264.75 104.08 L265.00 104.01 L265.25 103.92 L265.50 103.83 L265.75 103.72 L266.00 103.59 L266.25 103.44 L266.50 103.28 L266.75 103.10 L267.00 102.90 L267.25 102.69 L267.50 102.45 L267.75 102.20 L268.00 101.93 L268.25 101.65 L268.50 101.36 L268.75 101.06 L269.00 100.76 L269.25 100.46 L269.50 100.16 L269.75 99.87 L270.00 99.60 L270.25 99.34 L270.50 99.11 L270.75 98.90 L271.00 98.72 L271.25 98.58 L271.50 98.48 L271.75 98.42 L272.00 98.40 L272.25 98.42 L272.50 98.48 L272.75 98.58 L273.00 98.72 L273.25 98.90 L273.50 99.10 L273.75 99.34 L274.00 99.59 L274.25 99.87 L274.50 100.16 L274.75 100.46 L275.00 100.76 L275.25 101.06 L275.50 101.36 L275.75 101.65 L276.00 101.92 L276.25 102.19 L276.50 102.43 L276.75 102.66 L277.00 102.87 L277.25 103.06 L277.50 103.23 L277.75 103.38 L278.00 103.50 L278.25 103.60 L278.50 103.68 L278.75 103.74 L279.00 103.78 L279.25 103.79 L279.50 103.78 L279.75 103.76 L280.00 103.70 L280.25 103.63 L280.50 103.53 L280.75 103.40 L281.00 103.25 L281.25 103.07 L281.50 102.87 L281.75 102.64 L282.00 102.38 L282.25 102.10 L282.50 101.79 L282.75 101.46 L283.00 101.10 L283.25 100.73 L283.50 100.35 L283.75 99.95 L284.00 99.55 L284.25 99.14 L284.50 98.74 L284.75 98.36 L285.00 97.99 L285.25 97.65 L285.50 97.34 L285.75 97.06 L286.00 96.83 L286.25 96.64 L286.50 96.50 L286.75 96.41 L287.00 96.38 L287.25 96.40 L287.50 96.48 L287.75 96.60 L288.00 96.78 L288.25 96.99 L288.50 97.25 L288.75 97.54 L289.00 97.85 L289.25 98.18 L289.50 98.53 L289.75 98.87 L290.00 99.22 L290.25 99.55 L290.50 99.87 L290.75 100.17 L291.00 100.43 L291.25 100.67 L291.50 100.87 L291.75 101.03 L292.00 101.16 L292.25 101.24 L292.50 101.29 L292.75 101.29 L293.00 101.26 L293.25 101.20 L293.50 101.10 L293.75 100.98 L294.00 100.84 L294.25 100.68 L294.50 100.52 L294.75 100.34 L295.00 100.17 L295.25 100.00 L295.50 99.84 L295.75 99.70 L296.00 99.58 L296.25 99.48 L296.50 99.42 L296.75 99.38 L297.00 99.37 L297.25 99.39 L297.50 99.45 L297.75 99.54 L298.00 99.66 L298.25 99.81 L298.50 99.98 L298.75 100.18 L299.00 100.39 L299.25 100.62 L299.50 100.87 L299.75 101.11 L300.00 101.37 L300.25 101.62 L300.50 101.87 L300.75 102.11 L301.00 102.34 L301.25 102.57 L301.50 102.78 L301.75 102.97 L302.00 103.15 L302.25 103.32 L302.50 103.47 L302.75 103.60 L303.00 103.72 L303.25 103.83 L303.50 103.92 L303.75 104.00 L304.00 104.07 L304.25 104.13 L304.50 104.18 L304.75 104.22 L305.00 104.26 L305.25 104.29 L305.50 104.31 L305.75 104.33 L306.00 104.34 L306.25 104.36 L306.50 104.37 L306.75 104.37 L307.00 104.38 L307.25 104.39 L307.50 104.39 L307.75 104.39 L308.00 104.39 L308.25 104.40 L308.50 104.40 L308.75 104.40 L309.00 104.40 L309.25 104.40 L309.50 104.40 L309.75 104.40 L310.00 104.40 L310.25 104.40 L310.50 104.40 L310.75 104.40 L311.00 104.40 L311.25 104.40 L311.50 104.40 L311.75 104.40 L312.00 104.40 L312.25 104.40 L312.50 104.40 L312.75 104.40 L313.00 104.40 L313.25 104.40 L313.50 104.40 L313.75 104.40 L314.00 104.40 L314.25 104.40 L314.50 104.40 L314.75 104.40 L315.00 104.40 L315.25 104.40 L315.50 104.40 L315.75 104.40 L316.00 104.40 L316.25 104.40 L316.50 104.40 L316.75 104.40 L317.00 104.40 L317.25 104.40 L317.50 104.40 L317.75 104.40 L318.00 104.40 L318.25 104.40 L318.50 104.40 L318.75 104.40 L319.00 104.40 L319.25 104.40 L319.50 104.40 L319.75 104.40 L320.00 104.40 L320.25 104.40 L320.50 104.40 L320.75 104.40 L321.00 104.40 L321.25 104.40 L321.50 104.40 L321.75 104.40 L322.00 104.40 L322.25 104.40 L322.50 104.40 L322.75 104.40 L323.00 104.40 L323.25 104.40 L323.50 104.40 L323.75 104.40 L324.00 104.40 L324.25 104.40 L324.50 104.40 L324.75 104.40 L325.00 104.40 L325.25 104.40 L325.50 104.40 L325.75 104.40 L326.00 104.40 L326.25 104.40 L326.50 104.40 L326.75 104.40 L327.00 104.40 L327.25 104.40 L327.50 104.40 L327.75 104.40 L328.00 104.40 L328.25 104.40 L328.50 104.40 L328.75 104.40 L329.00 104.40 L329.25 104.40 L329.50 104.40 L329.75 104.40 L330.00 104.40 L330.25 104.40 L330.50 104.40 L330.75 104.40 L331.00 104.40 L331.25 104.40 L331.50 104.40 L331.75 104.40 L332.00 104.40 L332.25 104.40 L332.50 104.40 L332.75 104.40 L333.00 104.40" stroke="#b0cf80" fill="none" stroke-width="0.7"/>
<path d="M245.00 104.40 L245.25 104.40 L245.50 104.40 L245.75 104.40 L246.00 104.40 L246.25 104.40 L246.50 104.40 L246.75 104.40 L247.00 104.40 L247.25 104.40 L247.50 104.40 L247.75 104.40 L248.00 104.40 L248.25 104.40 L248.50 104.40 L248.75 104.40 L249.00 104.40 L249.25 104.40 L249.50 104.40 L249.75 104.40 L250.00 104.40 L250.25 104.40 L250.50 104.40 L250.75 104.40 L251.00 104.40 L251.25 104.40 L251.50 104.40 L251.75 104.40 L252.00 104.40 L252.25 104.40 L252.50 104.40 L252.75 104.40 L253.00 104.40 L253.25 104.40 L253.50 104.40 L253.75 104.40 L254.00 104.40 L254.25 104.40 L254.50 104.40 L254.75 104.40 L255.00 104.40 L255.25 104.40 L255.50 104.40 L255.75 104.40 L256.00 104.40 L256.25 104.40 L256.50 104.40 L256.75 104.40 L257.00 104.40 L257.25 104.39 L257.50 104.36 L257.75 104.30 L258.00 104.15 L258.25 103.83 L258.50 103.19 L258.75 102.04 L259.00 100.12 L259.25 97.23 L259.50 93.27 L259.75 88.40 L260.00 83.11 L260.25 78.18 L260.50 74.51 L260.75 72.85 L261.00 73.57 L261.25 76.51 L261.50 81.05 L261.75 86.30 L262.00 91.41 L262.25 95.77 L262.50 99.09 L262.75 101.38 L263.00 102.81 L263.25 103.62 L263.50 104.05 L263.75 104.25 L264.00 104.34 L264.25 104.38 L264.50 104.39 L264.75 104.40 L265.00 104.40 L265.25 104.40 L265.50 104.40 L265.75 104.40 L266.00 104.40 L266.25 104.40 L266.50 104.40 L266.75 104.40 L267.00 104.40 L267.25 104.40 L267.50 104.40 L267.75 104.40 L268.00 104.40 L268.25 104.40 L268.50 104.40 L268.75 104.40 L269.00 104.40 L269.25 104.40 L269.50 104.40 L269.75 104.40 L270.00 104.40 L270.25 104.40 L270.50 104.40 L270.75 104.40 L271.00 104.40 L271.25 104.40 L271.50 104.40 L271.75 104.40 L272.00 104.40 L272.25 104.40 L272.50 104.40 L272.75 104.40 L273.00 104.40 L273.25 104.40 L273.50 104.40 L273.75 104.40 L274.00 104.40 L274.25 104.40 L274.50 104.40 L274.75 104.40 L275.00 104.40 L275.25 104.39 L275.50 104.38 L275.75 104.34 L276.00 104.26 L276.25 104.09 L276.50 103.76 L276.75 103.15 L277.00 102.10 L277.25 100.44 L277.50 97.99 L277.75 94.65 L278.00 90.48 L278.25 85.73 L278.50 80.87 L278.75 76.55 L279.00 73.43 L279.25 72.04 L279.50 72.64 L279.75 75.12 L280.00 79.04 L280.25 83.77 L280.50 88.63 L280.75 93.08 L281.00 96.76 L281.25 99.56 L281.50 101.52 L281.75 102.79 L282.00 103.55 L282.25 103.98 L282.50 104.21 L282.75 104.32 L283.00 104.37 L283.25 104.39 L283.50 104.40 L283.75 104.40 L284.00 104.40 L284.25 104.40 L284.50 104.40 L284.75 104.40 L285.00 104.40 L285.25 104.40 L285.50 104.40 L285.75 104.40 L286.00 104.40 L286.25 104.40 L286.50 104.40 L286.75 104.40 L287.00 104.40 L287.25 104.40 L287.50 104.40 L287.75 104.40 L288.00 104.40 L288.25 104.40 L288.50 104.40 L288.75 104.40 L289.00 104.40 L289.25 104.40 L289.50 104.40 L289.75 104.40 L290.00 104.40 L290.25 104.40 L290.50 104.40 L290.75 104.40 L291.00 104.40 L291.25 104.40 L291.50 104.40 L291.75 104.40 L292.00 104.40 L292.25 104.40 L292.50 104.40 L292.75 104.40 L293.00 104.40 L293.25 104.40 L293.50 104.40 L293.75 104.40 L294.00 104.40 L294.25 104.40 L294.50 104.40 L294.75 104.40 L295.00 104.40 L295.25 104.40 L295.50 104.40 L295.75 104.40 L296.00 104.40 L296.25 104.40 L296.50 104.40 L296.75 104.40 L297.00 104.40 L297.25 104.40 L297.50 104.40 L297.75 104.40 L298.00 104.40 L298.25 104.40 L298.50 104.40 L298.75 104.40 L299.00 104.40 L299.25 104.40 L299.50 104.40 L299.75 104.40 L300.00 104.40 L300.25 104.40 L300.50 104.40 L300.75 104.40 L301.00 104.40 L301.25 104.40 L301.50 104.40 L301.75 104.40 L302.00 104.40 L302.25 104.40 L302.50 104.40 L302.75 104.40 L303.00 104.40 L303.25 104.40 L303.50 104.40 L303.75 104.40 L304.00 104.40 L304.25 104.40 L304.50 104.40 L304.75 104.40 L305.00 104.40 L305.25 104.40 L305.50 104.40 L305.75 104.40 L306.00 104.40 L306.25 104.40 L306.50 104.40 L306.75 104.40 L307.00 104.40 L307.25 104.40 L307.50 104.40 L307.75 104.40 L308.00 104.40 L308.25 104.40 L308.50 104.40 L308.75 104.40 L309.00 104.40 L309.25 104.40 L309.50 104.40 L309.75 104.40 L310.00 104.40 L310.25 104.40 L310.50 104.40 L310.75 104.40 L311.00 104.40 L311.25 104.40 L311.50 104.40 L311.75 104.40 L312.00 104.40 L312.25 104.40 L312.50 104.40 L312.75 104.40 L313.00 104.40 L313.25 104.40 L313.50 104.40 L313.75 104.40 L314.00 104.40 L314.25 104.40 L314.50 104.40 L314.75 104.40 L315.00 104.40 L315.25 104.40 L315.50 104.40 L315.75 104.40 L316.00 104.40 L316.25 104.40 L316.50 104.40 L316.75 104.40 L317.00 104.40 L317.25 104.40 L317.50 104.40 L317.75 104.40 L318.00 104.40 L318.25 104.40 L318.50 104.40 L318.75 104.40 L319.00 104.40 L319.25 104.40 L319.50 104.40 L319.75 104.40 L320.00 104.40 L320.25 104.40 L320.50 104.40 L320.75 104.40 L321.00 104.40 L321.25 104.40 L321.50 104.40 L321.75 104.40 L322.00 104.40 L322.25 104.40 L322.50 104.40 L322.75 104.40 L323.00 104.40 L323.25 104.40 L323.50 104.40 L323.75 104.40 L324.00 104.40 L324.25 104.40 L324.50 104.40 L324.75 104.40 L325.00 104.40 L325.25 104.40 L325.50 104.40 L325.75 104.40 L326.00 104.40 L326.25 104.40 L326.50 104.40 L326.75 104.40 L327.00 104.40 L327.25 104.40 L327.50 104.40 L327.75 104.40 L328.00 104.40 L328.25 104.40 L328.50 104.40 L328.75 104.40 L329.00 104.40 L329.25 104.40 L329.50 104.40 L329.75 104.40 L330.00 104.40 L330.25 104.40 L330.50 104.40 L330.75 104.40 L331.00 104.40 L331.25 104.40 L331.50 104.40 L331.75 104.40 L332.00 104.40 L332.25 104.40 L332.50 104.40 L332.75 104.40 L333.00 104.40" stroke="#e3a48c" fill="none" stroke-width="0.8"/>
<path d="M260.00 104.40 L260.25 104.40 L260.50 104.40 L260.75 104.40 L261.00 104.40 L261.25 104.40 L261.50 104.40 L261.75 104.40 L262.00 104.40 L262.25 104.40 L262.50 104.40 L262.75 104.40 L263.00 104.40 L263.25 104.40 L263.50 104.40 L263.75 104.40 L264.00 104.40 L264.25 104.40 L264.50 104.40 L264.75 104.40 L265.00 104.40 L265.25 104.40 L265.50 104.40 L265.75 104.40 L266.00 104.40 L266.25 104.40 L266.50 104.40 L266.75 104.40 L267.00 104.40 L267.25 104.40 L267.50 104.40 L267.75 104.40 L268.00 104.40 L268.25 104.40 L268.50 104.40 L268.75 104.40 L269.00 104.40 L269.25 104.40 L269.50 104.40 L269.75 104.40 L270.00 104.40 L270.25 104.40 L270.50 104.40 L270.75 104.40 L271.00 104.40 L271.25 104.40 L271.50 104.40 L271.75 104.40 L272.00 104.40 L272.25 104.40 L272.50 104.40 L272.75 104.40 L273.00 104.40 L273.25 104.40 L273.50 104.40 L273.75 104.40 L274.00 104.40 L274.25 104.40 L274.50 104.40 L274.75 104.40 L275.00 104.40 L275.25 104.40 L275.50 104.40 L275.75 104.40 L276.00 104.40 L276.25 104.40 L276.50 104.40 L276.75 104.40 L277.00 104.39 L277.25 104.38 L277.50 104.36 L277.75 104.31 L278.00 104.20 L278.25 103.99 L278.50 103.61 L278.75 102.97 L279.00 101.96 L279.25 100.51 L279.50 98.56 L279.75 96.16 L280.00 93.48 L280.25 90.81 L280.50 88.52 L280.75 86.95 L281.00 86.40 L281.25 86.95 L281.50 88.52 L281.75 90.81 L282.00 93.48 L282.25 96.16 L282.50 98.56 L282.75 100.51 L283.00 101.96 L283.25 102.97 L283.50 103.61 L283.75 103.99 L284.00 104.20 L284.25 104.31 L284.50 104.36 L284.75 104.38 L285.00 104.39 L285.25 104.40 L285.50 104.40 L285.75 104.40 L286.00 104.40 L286.25 104.40 L286.50 104.40 L286.75 104.40 L287.00 104.40 L287.25 104.40 L287.50 104.40 L287.75 104.40 L288.00 104.40 L288.25 104.40 L288.50 104.40 L288.75 104.40 L289.00 104.40 L289.25 104.40 L289.50 104.40 L289.75 104.40 L290.00 104.40 L290.25 104.40 L290.50 104.40 L290.75 104.40 L291.00 104.40 L291.25 104.40 L291.50 104.40 L291.75 104.40 L292.00 104.40 L292.25 104.40 L292.50 104.40 L292.75 104.40 L293.00 104.40 L293.25 104.40 L293.50 104.40 L293.75 104.40 L294.00 104.40 L294.25 104.40 L294.50 104.40 L294.75 104.40 L295.00 104.40 L295.25 104.40 L295.50 104.40 L295.75 104.40 L296.00 104.40 L296.25 104.40 L296.50 104.40 L296.75 104.40 L297.00 104.40 L297.25 104.40 L297.50 104.40 L297.75 104.40 L298.00 104.40 L298.25 104.40 L298.50 104.40 L298.75 104.40 L299.00 104.40 L299.25 104.40 L299.50 104.40 L299.75 104.40 L300.00 104.40" stroke="#e9c89a" fill="none" stroke-width="0.7"/>
<path d="M215.00 104.40 L215.25 104.40 L215.50 104.40 L215.75 104.40 L216.00 104.40 L216.25 104.40 L216.50 104.40 L216.75 104.40 L217.00 104.40 L217.25 104.40 L217.50 104.40 L217.75 104.40 L218.00 104.40 L218.25 104.40 L218.50 104.40 L218.75 104.40 L219.00 104.40 L219.25 104.40 L219.50 104.40 L219.75 104.40 L220.00 104.40 L220.25 104.40 L220.50 104.40 L220.75 104.40 L221.00 104.40 L221.25 104.40 L221.50 104.40 L221.75 104.40 L222.00 104.40 L222.25 104.40 L222.50 104.40 L222.75 104.40 L223.00 104.40 L223.25 104.40 L223.50 104.40 L223.75 104.40 L224.00 104.40 L224.25 104.40 L224.50 104.40 L224.75 104.40 L225.00 104.40 L225.25 104.40 L225.50 104.40 L225.75 104.40 L226.00 104.40 L226.25 104.40 L226.50 104.40 L226.75 104.40 L227.00 104.40 L227.25 104.40 L227.50 104.40 L227.75 104.40 L228.00 104.40 L228.25 104.40 L228.50 104.40 L228.75 104.40 L229.00 104.40 L229.25 104.40 L229.50 104.40 L229.75 104.40 L230.00 104.40 L230.25 104.40 L230.50 104.40 L230.75 104.40 L231.00 104.40 L231.25 104.40 L231.50 104.40 L231.75 104.40 L232.00 104.40 L232.25 104.40 L232.50 104.40 L232.75 104.40 L233.00 104.40 L233.25 104.40 L233.50 104.40 L233.75 104.40 L234.00 104.40 L234.25 104.40 L234.50 104.40 L234.75 104.40 L235.00 104.40 L235.25 104.40 L235.50 104.40 L235.75 104.40 L236.00 104.40 L236.25 104.40 L236.50 104.40 L236.75 104.40 L237.00 104.40 L237.25 104.40 L237.50 104.40 L237.75 104.40 L238.00 104.40 L238.25 104.40 L238.50 104.40 L238.75 104.40 L239.00 104.40 L239.25 104.40 L239.50 104.40 L239.75 104.40 L240.00 104.40 L240.25 104.40 L240.50 104.40 L240.75 104.40 L241.00 104.40 L241.25 104.40 L241.50 104.40 L241.75 104.40 L242.00 104.40 L242.25 104.40 L242.50 104.40 L242.75 104.40 L243.00 104.40 L243.25 104.40 L243.50 104.40 L243.75 104.40 L244.00 104.40 L244.25 104.40 L244.50 104.40 L244.75 104.40 L245.00 104.40 L245.25 104.40 L245.50 104.40 L245.75 104.40 L246.00 104.40 L246.25 104.40 L246.50 104.40 L246.75 104.40 L247.00 104.40 L247.25 104.40 L247.50 104.40 L247.75 104.40 L248.00 104.40 L248.25 104.40 L248.50 104.40 L248.75 104.40 L249.00 104.40 L249.25 104.40 L249.50 104.40 L249.75 104.40 L250.00 104.40 L250.25 104.40 L250.50 104.40 L250.75 104.40 L251.00 104.40 L251.25 104.40 L251.50 104.40 L251.75 104.40 L252.00 104.40 L252.25 104.40 L252.50 104.40 L252.75 104.40 L253.00 104.40 L253.25 104.40 L253.50 104.40 L253.75 104.40 L254.00 104.40 L254.25 104.40 L254.50 104.40 L254.75 104.40 L255.00 104.40 L255.25 104.40 L255.50 104.40 L255.75 104.40 L256.00 104.40 L256.25 104.40 L256.50 104.40 L256.75 104.40 L257.00 104.40 L257.25 104.40 L257.50 104.40 L257.75 104.40 L258.00 104.40 L258.25 104.40 L258.50 104.40 L258.75 104.40 L259.00 104.40 L259.25 104.40 L259.50 104.40 L259.75 104.40 L260.00 104.40 L260.25 104.40 L260.50 104.40 L260.75 104.40 L261.00 104.40 L261.25 104.40 L261.50 104.40 L261.75 104.40 L262.00 104.40 L262.25 104.40 L262.50 104.40 L262.75 104.40 L263.00 104.40 L263.25 104.40 L263.50 104.40 L263.75 104.40 L264.00 104.40 L264.25 104.40 L264.50 104.40 L264.75 104.40 L265.00 104.40 L265.25 104.40 L265.50 104.40 L265.75 104.40 L266.00 104.40 L266.25 104.40 L266.50 104.40 L266.75 104.40 L267.00 104.40 L267.25 104.40 L267.50 104.40 L267.75 104.40 L268.00 104.40 L268.25 104.40 L268.50 104.40 L268.75 104.40 L269.00 104.40 L269.25 104.40 L269.50 104.40 L269.75 104.40 L270.00 104.40 L270.25 104.40 L270.50 104.40 L270.75 104.40 L271.00 104.40 L271.25 104.40 L271.50 104.40 L271.75 104.40 L272.00 104.40 L272.25 104.40 L272.50 104.40 L272.75 104.40 L273.00 104.40 L273.25 104.40 L273.50 104.40 L273.75 104.40 L274.00 104.40 L274.25 104.40 L274.50 104.39 L274.75 104.36 L275.00 104.26 L275.25 103.97 L275.50 103.24 L275.75 101.61 L276.00 98.40 L276.25 92.84 L276.50 84.48 L276.75 73.67 L277.00 61.99 L277.25 52.03 L277.50 46.52 L277.75 47.16 L278.00 53.74 L278.25 64.28 L278.50 75.97 L278.75 86.37 L279.00 94.17 L279.25 99.21 L279.50 102.04 L279.75 103.44 L280.00 104.05 L280.25 104.29 L280.50 104.37 L280.75 104.39 L281.00 104.40 L281.25 104.40 L281.50 104.40 L281.75 104.40 L282.00 104.40 L282.25 104.40 L282.50 104.40 L282.75 104.40 L283.00 104.40 L283.25 104.40 L283.50 104.40 L283.75 104.40 L284.00 104.40 L284.25 104.40 L284.50 104.40 L284.75 104.40 L285.00 104.40 L285.25 104.40 L285.50 104.40 L285.75 104.40 L286.00 104.40 L286.25 104.40 L286.50 104.40 L286.75 104.40 L287.00 104.40 L287.25 104.40 L287.50 104.40 L287.75 104.40 L288.00 104.40 L288.25 104.40 L288.50 104.40 L288.75 104.40 L289.00 104.40 L289.25 104.40 L289.50 104.40 L289.75 104.40 L290.00 104.40 L290.25 104.40 L290.50 104.40 L290.75 104.40 L291.00 104.40 L291.25 104.40 L291.50 104.40 L291.75 104.40 L292.00 104.40 L292.25 104.40 L292.50 104.40 L292.75 104.40 L293.00 104.40 L293.25 104.40 L293.50 104.40 L293.75 104.40 L294.00 104.40 L294.25 104.40 L294.50 104.40 L294.75 104.40 L295.00 104.40 L295.25 104.40 L295.50 104.40 L295.75 104.40 L296.00 104.40 L296.25 104.40 L296.50 104.40 L296.75 104.40 L297.00 104.40 L297.25 104.40 L297.50 104.40 L297.75 104.40 L298.00 104.40 L298.25 104.40 L298.50 104.40 L298.75 104.40 L299.00 104.40 L299.25 104.40 L299.50 104.40 L299.75 104.40 L300.00 104.40 L300.25 104.40 L300.50 104.40 L300.75 104.40 L301.00 104.40 L301.25 104.40 L301.50 104.40 L301.75 104.40 L302.00 104.40 L302.25 104.40 L302.50 104.40 L302.75 104.40 L303.00 104.40 L303.25 104.40 L303.50 104.40 L303.75 104.40 L304.00 104.40 L304.25 104.40 L304.50 104.40 L304.75 104.40 L305.00 104.40 L305.25 104.40 L305.50 104.40 L305.75 104.40 L306.00 104.40 L306.25 104.40 L306.50 104.40 L306.75 104.40 L307.00 104.40 L307.25 104.40 L307.50 104.40 L307.75 104.40 L308.00 104.40 L308.25 104.40 L308.50 104.40 L308.75 104.40 L309.00 104.40 L309.25 104.40 L309.50 104.40 L309.75 104.40 L310.00 104.40 L310.25 104.40 L310.50 104.40 L310.75 104.40 L311.00 104.40 L311.25 104.40 L311.50 104.40 L311.75 104.40 L312.00 104.40 L312.25 104.40 L312.50 104.40 L312.75 104.40 L313.00 104.40 L313.25 104.40 L313.50 104.40 L313.75 104.40 L314.00 104.40 L314.25 104.40 L314.50 104.40 L314.75 104.40 L315.00 104.40 L315.25 104.40 L315.50 104.40 L315.75 104.40 L316.00 104.40 L316.25 104.40 L316.50 104.40 L316.75 104.40 L317.00 104.40 L317.25 104.40 L317.50 104.40 L317.75 104.40 L318.00 104.40 L318.25 104.40 L318.50 104.40 L318.75 104.40 L319.00 104.40 L319.25 104.40 L319.50 104.40 L319.75 104.40 L320.00 104.40 L320.25 104.40 L320.50 104.40 L320.75 104.40 L321.00 104.40 L321.25 104.40 L321.50 104.40 L321.75 104.40 L322.00 104.40 L322.25 104.40 L322.50 104.40 L322.75 104.40 L323.00 104.40 L323.25 104.40 L323.50 104.40 L323.75 104.40 L324.00 104.40 L324.25 104.40 L324.50 104.40 L324.75 104.40 L325.00 104.40 L325.25 104.40 L325.50 104.40 L325.75 104.40 L326.00 104.40 L326.25 104.40 L326.50 104.40 L326.75 104.40 L327.00 104.40 L327.25 104.40 L327.50 104.40 L327.75 104.40 L328.00 104.40 L328.25 104.40 L328.50 104.40 L328.75 104.40 L329.00 104.40 L329.25 104.40 L329.50 104.40 L329.75 104.40 L330.00 104.40 L330.25 104.40 L330.50 104.40 L330.75 104.40 L331.00 104.40 L331.25 104.40 L331.50 104.40 L331.75 104.40 L332.00 104.40 L332.25 104.40 L332.50 104.40 L332.75 104.40 L333.00 104.40" stroke="#222" fill="none" stroke-width="0.9"/>
<line x1="215" y1="104.4" x2="333.2" y2="104.4" stroke="#444" stroke-width="0.8"/>
<line x1="206.7" y1="43.2" x2="206.7" y2="107.8" stroke="#161616" stroke-width="1.3"/>
<line x1="203.4" y1="105.0" x2="206.7" y2="105.0" stroke="#161616" stroke-width="1.1"/>
<text x="201.6" y="107.5" font-size="7.0" text-anchor="end" fill="#231f20" stroke="#231f20">0</text>
<line x1="203.4" y1="90.3" x2="206.7" y2="90.3" stroke="#161616" stroke-width="1.1"/>
<text x="201.6" y="92.8" font-size="7.0" text-anchor="end" fill="#231f20" stroke="#231f20">10</text>
<line x1="203.4" y1="75.6" x2="206.7" y2="75.6" stroke="#161616" stroke-width="1.1"/>
<text x="201.6" y="78.1" font-size="7.0" text-anchor="end" fill="#231f20" stroke="#231f20">20</text>
<line x1="203.4" y1="60.9" x2="206.7" y2="60.9" stroke="#161616" stroke-width="1.1"/>
<text x="201.6" y="63.4" font-size="7.0" text-anchor="end" fill="#231f20" stroke="#231f20">30</text>
<line x1="203.4" y1="46.2" x2="206.7" y2="46.2" stroke="#161616" stroke-width="1.1"/>
<text x="201.6" y="48.7" font-size="7.0" text-anchor="end" fill="#231f20" stroke="#231f20">40</text>
<text transform="translate(189.2,75.0) rotate(-90)" font-size="9.6" text-anchor="middle" fill="#231f20" stroke="#231f20" textLength="22.2" lengthAdjust="spacingAndGlyphs">Density</text>
<text x="209.8" y="49.2" font-size="6.4" text-anchor="start" fill="#231f20" stroke="#231f20" textLength="50.6" lengthAdjust="spacingAndGlyphs">Log FC = -0.1402</text>
<text x="209.8" y="56.4" font-size="6.4" fill="#231f20" stroke="#231f20" textLength="35.5" lengthAdjust="spacingAndGlyphs"><tspan font-style="italic">P</tspan> = 0.0001</text>
<text x="209.8" y="63.6" font-size="6.4" text-anchor="start" fill="#231f20" stroke="#231f20" textLength="35.8" lengthAdjust="spacingAndGlyphs">FDR = 0.025</text>
<text x="273.8" y="33.2" font-size="6.4" text-anchor="middle" fill="#231f20" stroke="#231f20" textLength="69" lengthAdjust="spacingAndGlyphs">Hoffman_MDS_high risk</text>
<line x1="232.7" y1="131.6" x2="333.8" y2="131.6" stroke="#161616" stroke-width="1.2"/>
<line x1="235.60000000000002" y1="131.6" x2="235.60000000000002" y2="134.8" stroke="#161616" stroke-width="1.1"/>
<text x="235.60000000000002" y="142.8" font-size="7.0" text-anchor="middle" fill="#231f20" stroke="#231f20">-1</text>
<line x1="259.7" y1="131.6" x2="259.7" y2="134.8" stroke="#161616" stroke-width="1.1"/>
<text x="259.7" y="142.8" font-size="7.0" text-anchor="middle" fill="#231f20" stroke="#231f20">-0.5</text>
<line x1="283.8" y1="131.6" x2="283.8" y2="134.8" stroke="#161616" stroke-width="1.1"/>
<text x="283.8" y="142.8" font-size="7.0" text-anchor="middle" fill="#231f20" stroke="#231f20">0</text>
<line x1="307.90000000000003" y1="131.6" x2="307.90000000000003" y2="134.8" stroke="#161616" stroke-width="1.1"/>
<text x="307.90000000000003" y="142.8" font-size="7.0" text-anchor="middle" fill="#231f20" stroke="#231f20">0.5</text>
<line x1="332.0" y1="131.6" x2="332.0" y2="134.8" stroke="#161616" stroke-width="1.1"/>
<text x="332.0" y="142.8" font-size="7.0" text-anchor="middle" fill="#231f20" stroke="#231f20">1</text>
<line x1="247.65" y1="131.6" x2="247.65" y2="133.4" stroke="#161616" stroke-width="1.0"/>
<line x1="271.75" y1="131.6" x2="271.75" y2="133.4" stroke="#161616" stroke-width="1.0"/>
<line x1="295.85" y1="131.6" x2="295.85" y2="133.4" stroke="#161616" stroke-width="1.0"/>
<line x1="319.95000000000005" y1="131.6" x2="319.95000000000005" y2="133.4" stroke="#161616" stroke-width="1.0"/>
<text x="229.4" y="127.8" font-size="6.8" text-anchor="start" fill="#231f20" stroke="#231f20" textLength="39.8" lengthAdjust="spacingAndGlyphs">Up in P95H/+</text>
<line x1="283.6" y1="125.6" x2="272.6" y2="125.6" stroke="#111" stroke-width="1.0"/>
<path d="M272.6,125.6 L275.32000000000005,123.89999999999999 L275.32000000000005,127.3 Z" stroke="none" fill="#111" stroke-width="1"/>
<text x="283.9" y="154.6" font-size="8.1" text-anchor="middle" fill="#231f20" stroke="#231f20" textLength="48.2" lengthAdjust="spacingAndGlyphs">Activity (log2FC)</text>
<rect x="488.3" y="37.9" width="24.999999999999943" height="82.6" fill="#d5d5d5"/>
<line x1="453.6" y1="107.6" x2="453.6" y2="120.8" stroke="#d0d0d0" stroke-width="1.1"/>
<line x1="458.4" y1="107.6" x2="458.4" y2="120.8" stroke="#d0d0d0" stroke-width="1.1"/>
<line x1="461.9" y1="107.6" x2="461.9" y2="120.8" stroke="#d0d0d0" stroke-width="1.1"/>
<line x1="465.4" y1="107.6" x2="465.4" y2="120.8" stroke="#d0d0d0" stroke-width="1.1"/>
<line x1="470" y1="107.6" x2="470" y2="120.8" stroke="#d0d0d0" stroke-width="1.1"/>
<line x1="475.4" y1="107.6" x2="475.4" y2="120.8" stroke="#d0d0d0" stroke-width="1.1"/>
<line x1="481.5" y1="107.6" x2="481.5" y2="120.8" stroke="#d0d0d0" stroke-width="1.1"/>
<line x1="485.3" y1="107.6" x2="485.3" y2="120.8" stroke="#d0d0d0" stroke-width="1.1"/>
<rect x="486.8" y="107.6" width="2.4" height="13.2" fill="#bcbcbc"/>
<path d="M395.00 105.50 L395.25 105.50 L395.50 105.50 L395.75 105.50 L396.00 105.50 L396.25 105.50 L396.50 105.50 L396.75 105.50 L397.00 105.50 L397.25 105.50 L397.50 105.50 L397.75 105.50 L398.00 105.50 L398.25 105.50 L398.50 105.50 L398.75 105.50 L399.00 105.50 L399.25 105.50 L399.50 105.50 L399.75 105.50 L400.00 105.50 L400.25 105.50 L400.50 105.50 L400.75 105.50 L401.00 105.50 L401.25 105.50 L401.50 105.50 L401.75 105.50 L402.00 105.50 L402.25 105.50 L402.50 105.50 L402.75 105.50 L403.00 105.50 L403.25 105.50 L403.50 105.50 L403.75 105.50 L404.00 105.50 L404.25 105.50 L404.50 105.50 L404.75 105.50 L405.00 105.50 L405.25 105.50 L405.50 105.50 L405.75 105.50 L406.00 105.50 L406.25 105.50 L406.50 105.50 L406.75 105.50 L407.00 105.50 L407.25 105.50 L407.50 105.50 L407.75 105.50 L408.00 105.50 L408.25 105.50 L408.50 105.50 L408.75 105.50 L409.00 105.50 L409.25 105.50 L409.50 105.50 L409.75 105.50 L410.00 105.50 L410.25 105.50 L410.50 105.50 L410.75 105.50 L411.00 105.50 L411.25 105.50 L411.50 105.50 L411.75 105.50 L412.00 105.50 L412.25 105.50 L412.50 105.50 L412.75 105.50 L413.00 105.50 L413.25 105.50 L413.50 105.50 L413.75 105.50 L414.00 105.50 L414.25 105.50 L414.50 105.50 L414.75 105.50 L415.00 105.50 L415.25 105.50 L415.50 105.50 L415.75 105.50 L416.00 105.50 L416.25 105.50 L416.50 105.50 L416.75 105.50 L417.00 105.50 L417.25 105.50 L417.50 105.50 L417.75 105.50 L418.00 105.50 L418.25 105.50 L418.50 105.50 L418.75 105.50 L419.00 105.50 L419.25 105.50 L419.50 105.50 L419.75 105.50 L420.00 105.50 L420.25 105.50 L420.50 105.50 L420.75 105.50 L421.00 105.50 L421.25 105.50 L421.50 105.50 L421.75 105.50 L422.00 105.50 L422.25 105.50 L422.50 105.50 L422.75 105.50 L423.00 105.50 L423.25 105.50 L423.50 105.50 L423.75 105.50 L424.00 105.50 L424.25 105.50 L424.50 105.50 L424.75 105.50 L425.00 105.50 L425.25 105.50 L425.50 105.50 L425.75 105.50 L426.00 105.50 L426.25 105.50 L426.50 105.50 L426.75 105.50 L427.00 105.50 L427.25 105.50 L427.50 105.50 L427.75 105.50 L428.00 105.50 L428.25 105.50 L428.50 105.50 L428.75 105.50 L429.00 105.50 L429.25 105.50 L429.50 105.50 L429.75 105.50 L430.00 105.50 L430.25 105.50 L430.50 105.50 L430.75 105.50 L431.00 105.50 L431.25 105.50 L431.50 105.50 L431.75 105.50 L432.00 105.50 L432.25 105.50 L432.50 105.50 L432.75 105.50 L433.00 105.50 L433.25 105.50 L433.50 105.50 L433.75 105.49 L434.00 105.49 L434.25 105.49 L434.50 105.49 L434.75 105.49 L435.00 105.49 L435.25 105.49 L435.50 105.48 L435.75 105.48 L436.00 105.48 L436.25 105.48 L436.50 105.47 L436.75 105.47 L437.00 105.47 L437.25 105.46 L437.50 105.46 L437.75 105.45 L438.00 105.45 L438.25 105.44 L438.50 105.43 L438.75 105.42 L439.00 105.41 L439.25 105.40 L439.50 105.39 L439.75 105.38 L440.00 105.37 L440.25 105.35 L440.50 105.34 L440.75 105.32 L441.00 105.30 L441.25 105.28 L441.50 105.26 L441.75 105.24 L442.00 105.21 L442.25 105.19 L442.50 105.16 L442.75 105.13 L443.00 105.09 L443.25 105.06 L443.50 105.02 L443.75 104.98 L444.00 104.94 L444.25 104.90 L444.50 104.85 L444.75 104.80 L445.00 104.75 L445.25 104.70 L445.50 104.64 L445.75 104.59 L446.00 104.53 L446.25 104.46 L446.50 104.40 L446.75 104.33 L447.00 104.27 L447.25 104.20 L447.50 104.13 L447.75 104.05 L448.00 103.98 L448.25 103.91 L448.50 103.83 L448.75 103.76 L449.00 103.68 L449.25 103.60 L449.50 103.53 L449.75 103.45 L450.00 103.38 L450.25 103.31 L450.50 103.24 L450.75 103.17 L451.00 103.10 L451.25 103.03 L451.50 102.97 L451.75 102.91 L452.00 102.85 L452.25 102.80 L452.50 102.75 L452.75 102.70 L453.00 102.66 L453.25 102.61 L453.50 102.57 L453.75 102.53 L454.00 102.49 L454.25 102.45 L454.50 102.39 L454.75 102.33 L455.00 102.24 L455.25 102.13 L455.50 101.98 L455.75 101.78 L456.00 101.51 L456.25 101.17 L456.50 100.74 L456.75 100.20 L457.00 99.55 L457.25 98.77 L457.50 97.86 L457.75 96.83 L458.00 95.70 L458.25 94.48 L458.50 93.20 L458.75 91.91 L459.00 90.65 L459.25 89.47 L459.50 88.43 L459.75 87.58 L460.00 86.96 L460.25 86.60 L460.50 86.53 L460.75 86.75 L461.00 87.26 L461.25 88.03 L461.50 89.03 L461.75 90.21 L462.00 91.53 L462.25 92.93 L462.50 94.36 L462.75 95.77 L463.00 97.11 L463.25 98.37 L463.50 99.51 L463.75 100.53 L464.00 101.41 L464.25 102.16 L464.50 102.79 L464.75 103.31 L465.00 103.72 L465.25 104.06 L465.50 104.32 L465.75 104.52 L466.00 104.68 L466.25 104.81 L466.50 104.91 L466.75 104.98 L467.00 105.05 L467.25 105.10 L467.50 105.14 L467.75 105.17 L468.00 105.21 L468.25 105.23 L468.50 105.26 L468.75 105.28 L469.00 105.30 L469.25 105.32 L469.50 105.34 L469.75 105.35 L470.00 105.37 L470.25 105.38 L470.50 105.39 L470.75 105.40 L471.00 105.41 L471.25 105.42 L471.50 105.43 L471.75 105.44 L472.00 105.45 L472.25 105.45 L472.50 105.46 L472.75 105.46 L473.00 105.47 L473.25 105.47 L473.50 105.47 L473.75 105.48 L474.00 105.48 L474.25 105.48 L474.50 105.48 L474.75 105.49 L475.00 105.49 L475.25 105.49 L475.50 105.49 L475.75 105.49 L476.00 105.49 L476.25 105.49 L476.50 105.50 L476.75 105.50 L477.00 105.50 L477.25 105.50 L477.50 105.50 L477.75 105.50 L478.00 105.50 L478.25 105.50 L478.50 105.50 L478.75 105.50 L479.00 105.50 L479.25 105.50 L479.50 105.50 L479.75 105.50 L480.00 105.50 L480.25 105.50 L480.50 105.50 L480.75 105.50 L481.00 105.50 L481.25 105.50 L481.50 105.50 L481.75 105.50 L482.00 105.50 L482.25 105.50 L482.50 105.50 L482.75 105.50 L483.00 105.50 L483.25 105.50 L483.50 105.50 L483.75 105.50 L484.00 105.50 L484.25 105.50 L484.50 105.50 L484.75 105.50 L485.00 105.50 L485.25 105.50 L485.50 105.50 L485.75 105.50 L486.00 105.50 L486.25 105.50 L486.50 105.50 L486.75 105.50 L487.00 105.50 L487.25 105.50 L487.50 105.50 L487.75 105.50 L488.00 105.50 L488.25 105.50 L488.50 105.50 L488.75 105.50 L489.00 105.50 L489.25 105.50 L489.50 105.50 L489.75 105.50 L490.00 105.50 L490.25 105.50 L490.50 105.50 L490.75 105.50 L491.00 105.50 L491.25 105.50 L491.50 105.50 L491.75 105.50 L492.00 105.50 L492.25 105.50 L492.50 105.50 L492.75 105.50 L493.00 105.50 L493.25 105.50 L493.50 105.50 L493.75 105.50 L494.00 105.50 L494.25 105.50 L494.50 105.50 L494.75 105.50 L495.00 105.50 L495.25 105.50 L495.50 105.50 L495.75 105.50 L496.00 105.50 L496.25 105.50 L496.50 105.50 L496.75 105.50 L497.00 105.50 L497.25 105.50 L497.50 105.50 L497.75 105.50 L498.00 105.50 L498.25 105.50 L498.50 105.50 L498.75 105.50 L499.00 105.50 L499.25 105.50 L499.50 105.50 L499.75 105.50 L500.00 105.50 L500.25 105.50 L500.50 105.50 L500.75 105.50 L501.00 105.50 L501.25 105.50 L501.50 105.50 L501.75 105.50 L502.00 105.50 L502.25 105.50 L502.50 105.50 L502.75 105.50 L503.00 105.50 L503.25 105.50 L503.50 105.50 L503.75 105.50 L504.00 105.50 L504.25 105.50 L504.50 105.50 L504.75 105.50 L505.00 105.50 L505.25 105.50 L505.50 105.50 L505.75 105.50 L506.00 105.50 L506.25 105.50 L506.50 105.50 L506.75 105.50 L507.00 105.50 L507.25 105.50 L507.50 105.50 L507.75 105.50 L508.00 105.50 L508.25 105.50 L508.50 105.50 L508.75 105.50 L509.00 105.50 L509.25 105.50 L509.50 105.50 L509.75 105.50 L510.00 105.50 L510.25 105.50 L510.50 105.50 L510.75 105.50 L511.00 105.50 L511.25 105.50 L511.50 105.50 L511.75 105.50 L512.00 105.50 L512.25 105.50 L512.50 105.50 L512.75 105.50 L513.00 105.50" stroke="#a8b8d0" fill="none" stroke-width="0.7"/>
<path d="M395.00 105.50 L395.25 105.50 L395.50 105.50 L395.75 105.50 L396.00 105.50 L396.25 105.50 L396.50 105.50 L396.75 105.50 L397.00 105.50 L397.25 105.50 L397.50 105.50 L397.75 105.50 L398.00 105.50 L398.25 105.50 L398.50 105.50 L398.75 105.50 L399.00 105.50 L399.25 105.50 L399.50 105.50 L399.75 105.50 L400.00 105.50 L400.25 105.50 L400.50 105.50 L400.75 105.50 L401.00 105.50 L401.25 105.50 L401.50 105.50 L401.75 105.50 L402.00 105.50 L402.25 105.50 L402.50 105.50 L402.75 105.50 L403.00 105.50 L403.25 105.50 L403.50 105.50 L403.75 105.50 L404.00 105.50 L404.25 105.50 L404.50 105.50 L404.75 105.50 L405.00 105.50 L405.25 105.50 L405.50 105.50 L405.75 105.50 L406.00 105.50 L406.25 105.50 L406.50 105.50 L406.75 105.50 L407.00 105.50 L407.25 105.50 L407.50 105.50 L407.75 105.50 L408.00 105.50 L408.25 105.50 L408.50 105.50 L408.75 105.50 L409.00 105.50 L409.25 105.50 L409.50 105.50 L409.75 105.50 L410.00 105.50 L410.25 105.50 L410.50 105.50 L410.75 105.50 L411.00 105.50 L411.25 105.50 L411.50 105.50 L411.75 105.50 L412.00 105.50 L412.25 105.50 L412.50 105.50 L412.75 105.50 L413.00 105.50 L413.25 105.50 L413.50 105.50 L413.75 105.50 L414.00 105.50 L414.25 105.50 L414.50 105.50 L414.75 105.50 L415.00 105.50 L415.25 105.50 L415.50 105.50 L415.75 105.50 L416.00 105.50 L416.25 105.50 L416.50 105.50 L416.75 105.50 L417.00 105.50 L417.25 105.50 L417.50 105.50 L417.75 105.50 L418.00 105.50 L418.25 105.50 L418.50 105.50 L418.75 105.50 L419.00 105.50 L419.25 105.50 L419.50 105.50 L419.75 105.50 L420.00 105.50 L420.25 105.50 L420.50 105.50 L420.75 105.50 L421.00 105.50 L421.25 105.50 L421.50 105.50 L421.75 105.50 L422.00 105.50 L422.25 105.50 L422.50 105.50 L422.75 105.50 L423.00 105.50 L423.25 105.50 L423.50 105.50 L423.75 105.50 L424.00 105.50 L424.25 105.50 L424.50 105.50 L424.75 105.50 L425.00 105.50 L425.25 105.50 L425.50 105.50 L425.75 105.50 L426.00 105.50 L426.25 105.50 L426.50 105.50 L426.75 105.50 L427.00 105.50 L427.25 105.50 L427.50 105.50 L427.75 105.50 L428.00 105.50 L428.25 105.50 L428.50 105.50 L428.75 105.50 L429.00 105.50 L429.25 105.50 L429.50 105.50 L429.75 105.50 L430.00 105.50 L430.25 105.50 L430.50 105.50 L430.75 105.50 L431.00 105.50 L431.25 105.50 L431.50 105.50 L431.75 105.50 L432.00 105.50 L432.25 105.50 L432.50 105.50 L432.75 105.50 L433.00 105.50 L433.25 105.50 L433.50 105.50 L433.75 105.50 L434.00 105.50 L434.25 105.50 L434.50 105.50 L434.75 105.50 L435.00 105.50 L435.25 105.50 L435.50 105.50 L435.75 105.50 L436.00 105.50 L436.25 105.50 L436.50 105.50 L436.75 105.50 L437.00 105.50 L437.25 105.50 L437.50 105.50 L437.75 105.50 L438.00 105.50 L438.25 105.50 L438.50 105.50 L438.75 105.50 L439.00 105.50 L439.25 105.50 L439.50 105.50 L439.75 105.50 L440.00 105.50 L440.25 105.50 L440.50 105.50 L440.75 105.50 L441.00 105.50 L441.25 105.50 L441.50 105.50 L441.75 105.50 L442.00 105.50 L442.25 105.50 L442.50 105.50 L442.75 105.50 L443.00 105.50 L443.25 105.50 L443.50 105.50 L443.75 105.50 L444.00 105.50 L444.25 105.50 L444.50 105.50 L444.75 105.50 L445.00 105.50 L445.25 105.50 L445.50 105.50 L445.75 105.50 L446.00 105.50 L446.25 105.50 L446.50 105.50 L446.75 105.50 L447.00 105.50 L447.25 105.50 L447.50 105.50 L447.75 105.50 L448.00 105.50 L448.25 105.50 L448.50 105.50 L448.75 105.50 L449.00 105.50 L449.25 105.50 L449.50 105.50 L449.75 105.50 L450.00 105.50 L450.25 105.50 L450.50 105.50 L450.75 105.50 L451.00 105.50 L451.25 105.50 L451.50 105.50 L451.75 105.50 L452.00 105.50 L452.25 105.50 L452.50 105.50 L452.75 105.50 L453.00 105.50 L453.25 105.50 L453.50 105.50 L453.75 105.50 L454.00 105.50 L454.25 105.50 L454.50 105.50 L454.75 105.50 L455.00 105.50 L455.25 105.50 L455.50 105.50 L455.75 105.50 L456.00 105.50 L456.25 105.50 L456.50 105.50 L456.75 105.50 L457.00 105.50 L457.25 105.50 L457.50 105.50 L457.75 105.50 L458.00 105.50 L458.25 105.50 L458.50 105.50 L458.75 105.50 L459.00 105.50 L459.25 105.50 L459.50 105.49 L459.75 105.49 L460.00 105.48 L460.25 105.46 L460.50 105.43 L460.75 105.39 L461.00 105.31 L461.25 105.20 L461.50 105.02 L461.75 104.77 L462.00 104.40 L462.25 103.90 L462.50 103.22 L462.75 102.32 L463.00 101.19 L463.25 99.79 L463.50 98.12 L463.75 96.20 L464.00 94.05 L464.25 91.75 L464.50 89.39 L464.75 87.08 L465.00 84.94 L465.25 83.10 L465.50 81.69 L465.75 80.80 L466.00 80.50 L466.25 80.80 L466.50 81.69 L466.75 83.10 L467.00 84.94 L467.25 87.08 L467.50 89.39 L467.75 91.75 L468.00 94.05 L468.25 96.20 L468.50 98.12 L468.75 99.79 L469.00 101.19 L469.25 102.32 L469.50 103.22 L469.75 103.90 L470.00 104.40 L470.25 104.77 L470.50 105.02 L470.75 105.20 L471.00 105.31 L471.25 105.39 L471.50 105.43 L471.75 105.46 L472.00 105.48 L472.25 105.49 L472.50 105.49 L472.75 105.50 L473.00 105.50 L473.25 105.50 L473.50 105.50 L473.75 105.50 L474.00 105.50 L474.25 105.50 L474.50 105.50 L474.75 105.50 L475.00 105.50 L475.25 105.50 L475.50 105.50 L475.75 105.50 L476.00 105.50 L476.25 105.50 L476.50 105.50 L476.75 105.50 L477.00 105.50 L477.25 105.50 L477.50 105.50 L477.75 105.50 L478.00 105.50 L478.25 105.50 L478.50 105.50 L478.75 105.50 L479.00 105.50 L479.25 105.50 L479.50 105.50 L479.75 105.50 L480.00 105.50 L480.25 105.50 L480.50 105.50 L480.75 105.50 L481.00 105.50 L481.25 105.50 L481.50 105.50 L481.75 105.50 L482.00 105.50 L482.25 105.50 L482.50 105.50 L482.75 105.50 L483.00 105.50 L483.25 105.50 L483.50 105.50 L483.75 105.50 L484.00 105.50 L484.25 105.50 L484.50 105.50 L484.75 105.50 L485.00 105.50 L485.25 105.50 L485.50 105.50 L485.75 105.50 L486.00 105.50 L486.25 105.50 L486.50 105.50 L486.75 105.50 L487.00 105.50 L487.25 105.50 L487.50 105.50 L487.75 105.50 L488.00 105.50 L488.25 105.50 L488.50 105.50 L488.75 105.50 L489.00 105.50 L489.25 105.50 L489.50 105.50 L489.75 105.50 L490.00 105.50 L490.25 105.50 L490.50 105.50 L490.75 105.50 L491.00 105.50 L491.25 105.50 L491.50 105.50 L491.75 105.50 L492.00 105.50 L492.25 105.50 L492.50 105.50 L492.75 105.50 L493.00 105.50 L493.25 105.50 L493.50 105.50 L493.75 105.50 L494.00 105.50 L494.25 105.50 L494.50 105.50 L494.75 105.50 L495.00 105.50 L495.25 105.50 L495.50 105.50 L495.75 105.50 L496.00 105.50 L496.25 105.50 L496.50 105.50 L496.75 105.50 L497.00 105.50 L497.25 105.50 L497.50 105.50 L497.75 105.50 L498.00 105.50 L498.25 105.50 L498.50 105.50 L498.75 105.50 L499.00 105.50 L499.25 105.50 L499.50 105.50 L499.75 105.50 L500.00 105.50 L500.25 105.50 L500.50 105.50 L500.75 105.50 L501.00 105.50 L501.25 105.50 L501.50 105.50 L501.75 105.50 L502.00 105.50 L502.25 105.50 L502.50 105.50 L502.75 105.50 L503.00 105.50 L503.25 105.50 L503.50 105.50 L503.75 105.50 L504.00 105.50 L504.25 105.50 L504.50 105.50 L504.75 105.50 L505.00 105.50 L505.25 105.50 L505.50 105.50 L505.75 105.50 L506.00 105.50 L506.25 105.50 L506.50 105.50 L506.75 105.50 L507.00 105.50 L507.25 105.50 L507.50 105.50 L507.75 105.50 L508.00 105.50 L508.25 105.50 L508.50 105.50 L508.75 105.50 L509.00 105.50 L509.25 105.50 L509.50 105.50 L509.75 105.50 L510.00 105.50 L510.25 105.50 L510.50 105.50 L510.75 105.50 L511.00 105.50 L511.25 105.50 L511.50 105.50 L511.75 105.50 L512.00 105.50 L512.25 105.50 L512.50 105.50 L512.75 105.50 L513.00 105.50" stroke="#dfe0a0" fill="none" stroke-width="0.7"/>
<path d="M395.00 105.50 L395.25 105.50 L395.50 105.50 L395.75 105.50 L396.00 105.50 L396.25 105.50 L396.50 105.50 L396.75 105.50 L397.00 105.50 L397.25 105.50 L397.50 105.50 L397.75 105.50 L398.00 105.50 L398.25 105.50 L398.50 105.50 L398.75 105.50 L399.00 105.50 L399.25 105.50 L399.50 105.50 L399.75 105.50 L400.00 105.50 L400.25 105.50 L400.50 105.50 L400.75 105.50 L401.00 105.50 L401.25 105.50 L401.50 105.50 L401.75 105.50 L402.00 105.50 L402.25 105.50 L402.50 105.50 L402.75 105.50 L403.00 105.50 L403.25 105.50 L403.50 105.50 L403.75 105.50 L404.00 105.50 L404.25 105.50 L404.50 105.50 L404.75 105.50 L405.00 105.50 L405.25 105.50 L405.50 105.50 L405.75 105.50 L406.00 105.50 L406.25 105.50 L406.50 105.50 L406.75 105.50 L407.00 105.50 L407.25 105.50 L407.50 105.50 L407.75 105.50 L408.00 105.50 L408.25 105.50 L408.50 105.50 L408.75 105.50 L409.00 105.50 L409.25 105.50 L409.50 105.50 L409.75 105.50 L410.00 105.50 L410.25 105.50 L410.50 105.50 L410.75 105.50 L411.00 105.50 L411.25 105.50 L411.50 105.50 L411.75 105.50 L412.00 105.50 L412.25 105.50 L412.50 105.50 L412.75 105.50 L413.00 105.50 L413.25 105.50 L413.50 105.50 L413.75 105.50 L414.00 105.50 L414.25 105.50 L414.50 105.50 L414.75 105.50 L415.00 105.50 L415.25 105.50 L415.50 105.50 L415.75 105.50 L416.00 105.50 L416.25 105.50 L416.50 105.50 L416.75 105.50 L417.00 105.50 L417.25 105.50 L417.50 105.50 L417.75 105.50 L418.00 105.50 L418.25 105.50 L418.50 105.50 L418.75 105.50 L419.00 105.50 L419.25 105.50 L419.50 105.50 L419.75 105.50 L420.00 105.50 L420.25 105.50 L420.50 105.50 L420.75 105.50 L421.00 105.50 L421.25 105.50 L421.50 105.50 L421.75 105.50 L422.00 105.50 L422.25 105.49 L422.50 105.49 L422.75 105.49 L423.00 105.49 L423.25 105.49 L423.50 105.49 L423.75 105.49 L424.00 105.49 L424.25 105.49 L424.50 105.49 L424.75 105.49 L425.00 105.49 L425.25 105.49 L425.50 105.48 L425.75 105.48 L426.00 105.48 L426.25 105.48 L426.50 105.48 L426.75 105.48 L427.00 105.48 L427.25 105.47 L427.50 105.47 L427.75 105.47 L428.00 105.47 L428.25 105.46 L428.50 105.46 L428.75 105.46 L429.00 105.46 L429.25 105.45 L429.50 105.45 L429.75 105.44 L430.00 105.44 L430.25 105.44 L430.50 105.43 L430.75 105.43 L431.00 105.42 L431.25 105.42 L431.50 105.41 L431.75 105.40 L432.00 105.40 L432.25 105.39 L432.50 105.38 L432.75 105.38 L433.00 105.37 L433.25 105.36 L433.50 105.35 L433.75 105.34 L434.00 105.33 L434.25 105.32 L434.50 105.31 L434.75 105.30 L435.00 105.29 L435.25 105.27 L435.50 105.26 L435.75 105.25 L436.00 105.23 L436.25 105.22 L436.50 105.20 L436.75 105.19 L437.00 105.17 L437.25 105.15 L437.50 105.13 L437.75 105.11 L438.00 105.09 L438.25 105.07 L438.50 105.05 L438.75 105.03 L439.00 105.00 L439.25 104.98 L439.50 104.96 L439.75 104.93 L440.00 104.90 L440.25 104.88 L440.50 104.85 L440.75 104.82 L441.00 104.79 L441.25 104.76 L441.50 104.72 L441.75 104.69 L442.00 104.66 L442.25 104.62 L442.50 104.59 L442.75 104.55 L443.00 104.51 L443.25 104.47 L443.50 104.43 L443.75 104.39 L444.00 104.35 L444.25 104.31 L444.50 104.27 L444.75 104.23 L445.00 104.18 L445.25 104.14 L445.50 104.09 L445.75 104.04 L446.00 104.00 L446.25 103.95 L446.50 103.90 L446.75 103.85 L447.00 103.80 L447.25 103.75 L447.50 103.69 L447.75 103.64 L448.00 103.59 L448.25 103.54 L448.50 103.48 L448.75 103.43 L449.00 103.37 L449.25 103.32 L449.50 103.26 L449.75 103.20 L450.00 103.15 L450.25 103.09 L450.50 103.03 L450.75 102.97 L451.00 102.91 L451.25 102.85 L451.50 102.80 L451.75 102.74 L452.00 102.68 L452.25 102.62 L452.50 102.56 L452.75 102.49 L453.00 102.43 L453.25 102.37 L453.50 102.31 L453.75 102.25 L454.00 102.19 L454.25 102.13 L454.50 102.07 L454.75 102.00 L455.00 101.94 L455.25 101.88 L455.50 101.82 L455.75 101.76 L456.00 101.69 L456.25 101.63 L456.50 101.57 L456.75 101.51 L457.00 101.45 L457.25 101.39 L457.50 101.32 L457.75 101.26 L458.00 101.20 L458.25 101.14 L458.50 101.08 L458.75 101.02 L459.00 100.96 L459.25 100.90 L459.50 100.84 L459.75 100.79 L460.00 100.73 L460.25 100.67 L460.50 100.62 L460.75 100.56 L461.00 100.51 L461.25 100.46 L461.50 100.40 L461.75 100.35 L462.00 100.30 L462.25 100.26 L462.50 100.21 L462.75 100.17 L463.00 100.12 L463.25 100.08 L463.50 100.05 L463.75 100.01 L464.00 99.97 L464.25 99.94 L464.50 99.91 L464.75 99.89 L465.00 99.86 L465.25 99.84 L465.50 99.82 L465.75 99.80 L466.00 99.79 L466.25 99.78 L466.50 99.77 L466.75 99.77 L467.00 99.77 L467.25 99.77 L467.50 99.78 L467.75 99.79 L468.00 99.80 L468.25 99.82 L468.50 99.84 L468.75 99.87 L469.00 99.89 L469.25 99.92 L469.50 99.96 L469.75 100.00 L470.00 100.04 L470.25 100.09 L470.50 100.13 L470.75 100.19 L471.00 100.24 L471.25 100.30 L471.50 100.36 L471.75 100.43 L472.00 100.50 L472.25 100.57 L472.50 100.64 L472.75 100.72 L473.00 100.80 L473.25 100.88 L473.50 100.96 L473.75 101.05 L474.00 101.14 L474.25 101.23 L474.50 101.32 L474.75 101.41 L475.00 101.50 L475.25 101.60 L475.50 101.69 L475.75 101.79 L476.00 101.89 L476.25 101.98 L476.50 102.08 L476.75 102.18 L477.00 102.28 L477.25 102.38 L477.50 102.47 L477.75 102.57 L478.00 102.67 L478.25 102.76 L478.50 102.86 L478.75 102.95 L479.00 103.04 L479.25 103.14 L479.50 103.23 L479.75 103.31 L480.00 103.40 L480.25 103.49 L480.50 103.57 L480.75 103.65 L481.00 103.73 L481.25 103.81 L481.50 103.89 L481.75 103.96 L482.00 104.03 L482.25 104.10 L482.50 104.17 L482.75 104.24 L483.00 104.30 L483.25 104.36 L483.50 104.42 L483.75 104.48 L484.00 104.53 L484.25 104.59 L484.50 104.64 L484.75 104.69 L485.00 104.73 L485.25 104.78 L485.50 104.82 L485.75 104.86 L486.00 104.90 L486.25 104.94 L486.50 104.97 L486.75 105.01 L487.00 105.04 L487.25 105.07 L487.50 105.10 L487.75 105.12 L488.00 105.15 L488.25 105.17 L488.50 105.20 L488.75 105.22 L489.00 105.24 L489.25 105.26 L489.50 105.27 L489.75 105.29 L490.00 105.31 L490.25 105.32 L490.50 105.33 L490.75 105.35 L491.00 105.36 L491.25 105.37 L491.50 105.38 L491.75 105.39 L492.00 105.40 L492.25 105.41 L492.50 105.42 L492.75 105.42 L493.00 105.43 L493.25 105.44 L493.50 105.44 L493.75 105.45 L494.00 105.45 L494.25 105.46 L494.50 105.46 L494.75 105.46 L495.00 105.47 L495.25 105.47 L495.50 105.47 L495.75 105.48 L496.00 105.48 L496.25 105.48 L496.50 105.48 L496.75 105.48 L497.00 105.49 L497.25 105.49 L497.50 105.49 L497.75 105.49 L498.00 105.49 L498.25 105.49 L498.50 105.49 L498.75 105.49 L499.00 105.49 L499.25 105.49 L499.50 105.49 L499.75 105.50 L500.00 105.50 L500.25 105.50 L500.50 105.50 L500.75 105.50 L501.00 105.50 L501.25 105.50 L501.50 105.50 L501.75 105.50 L502.00 105.50 L502.25 105.50 L502.50 105.50 L502.75 105.50 L503.00 105.50 L503.25 105.50 L503.50 105.50 L503.75 105.50 L504.00 105.50 L504.25 105.50 L504.50 105.50 L504.75 105.50 L505.00 105.50 L505.25 105.50 L505.50 105.50 L505.75 105.50 L506.00 105.50 L506.25 105.50 L506.50 105.50 L506.75 105.50 L507.00 105.50 L507.25 105.50 L507.50 105.50 L507.75 105.50 L508.00 105.50 L508.25 105.50 L508.50 105.50 L508.75 105.50 L509.00 105.50 L509.25 105.50 L509.50 105.50 L509.75 105.50 L510.00 105.50 L510.25 105.50 L510.50 105.50 L510.75 105.50 L511.00 105.50 L511.25 105.50 L511.50 105.50 L511.75 105.50 L512.00 105.50 L512.25 105.50 L512.50 105.50 L512.75 105.50 L513.00 105.50" stroke="#6f88b0" fill="none" stroke-width="0.7"/>
<path d="M395.00 105.50 L395.25 105.50 L395.50 105.50 L395.75 105.50 L396.00 105.50 L396.25 105.50 L396.50 105.50 L396.75 105.50 L397.00 105.50 L397.25 105.50 L397.50 105.50 L397.75 105.50 L398.00 105.50 L398.25 105.50 L398.50 105.50 L398.75 105.50 L399.00 105.50 L399.25 105.50 L399.50 105.50 L399.75 105.50 L400.00 105.50 L400.25 105.50 L400.50 105.50 L400.75 105.50 L401.00 105.50 L401.25 105.50 L401.50 105.50 L401.75 105.50 L402.00 105.50 L402.25 105.50 L402.50 105.50 L402.75 105.50 L403.00 105.50 L403.25 105.50 L403.50 105.50 L403.75 105.50 L404.00 105.50 L404.25 105.50 L404.50 105.50 L404.75 105.50 L405.00 105.50 L405.25 105.50 L405.50 105.50 L405.75 105.50 L406.00 105.50 L406.25 105.50 L406.50 105.50 L406.75 105.50 L407.00 105.50 L407.25 105.50 L407.50 105.50 L407.75 105.50 L408.00 105.50 L408.25 105.50 L408.50 105.50 L408.75 105.50 L409.00 105.50 L409.25 105.50 L409.50 105.50 L409.75 105.50 L410.00 105.50 L410.25 105.50 L410.50 105.50 L410.75 105.50 L411.00 105.50 L411.25 105.50 L411.50 105.50 L411.75 105.50 L412.00 105.50 L412.25 105.50 L412.50 105.50 L412.75 105.50 L413.00 105.50 L413.25 105.50 L413.50 105.50 L413.75 105.50 L414.00 105.50 L414.25 105.50 L414.50 105.50 L414.75 105.50 L415.00 105.50 L415.25 105.50 L415.50 105.50 L415.75 105.50 L416.00 105.50 L416.25 105.50 L416.50 105.50 L416.75 105.50 L417.00 105.50 L417.25 105.50 L417.50 105.50 L417.75 105.50 L418.00 105.50 L418.25 105.50 L418.50 105.50 L418.75 105.50 L419.00 105.50 L419.25 105.50 L419.50 105.50 L419.75 105.50 L420.00 105.50 L420.25 105.50 L420.50 105.50 L420.75 105.50 L421.00 105.50 L421.25 105.50 L421.50 105.50 L421.75 105.50 L422.00 105.50 L422.25 105.50 L422.50 105.50 L422.75 105.50 L423.00 105.50 L423.25 105.50 L423.50 105.50 L423.75 105.50 L424.00 105.50 L424.25 105.50 L424.50 105.50 L424.75 105.50 L425.00 105.50 L425.25 105.50 L425.50 105.50 L425.75 105.50 L426.00 105.50 L426.25 105.50 L426.50 105.50 L426.75 105.50 L427.00 105.50 L427.25 105.50 L427.50 105.50 L427.75 105.50 L428.00 105.50 L428.25 105.50 L428.50 105.50 L428.75 105.50 L429.00 105.50 L429.25 105.50 L429.50 105.50 L429.75 105.50 L430.00 105.50 L430.25 105.50 L430.50 105.50 L430.75 105.50 L431.00 105.50 L431.25 105.50 L431.50 105.50 L431.75 105.50 L432.00 105.50 L432.25 105.50 L432.50 105.50 L432.75 105.50 L433.00 105.50 L433.25 105.50 L433.50 105.50 L433.75 105.50 L434.00 105.50 L434.25 105.50 L434.50 105.50 L434.75 105.50 L435.00 105.50 L435.25 105.50 L435.50 105.50 L435.75 105.50 L436.00 105.50 L436.25 105.50 L436.50 105.50 L436.75 105.50 L437.00 105.50 L437.25 105.50 L437.50 105.50 L437.75 105.50 L438.00 105.50 L438.25 105.50 L438.50 105.50 L438.75 105.50 L439.00 105.50 L439.25 105.50 L439.50 105.50 L439.75 105.50 L440.00 105.50 L440.25 105.50 L440.50 105.50 L440.75 105.49 L441.00 105.49 L441.25 105.49 L441.50 105.49 L441.75 105.49 L442.00 105.49 L442.25 105.49 L442.50 105.48 L442.75 105.48 L443.00 105.48 L443.25 105.48 L443.50 105.47 L443.75 105.47 L444.00 105.47 L444.25 105.46 L444.50 105.46 L444.75 105.45 L445.00 105.45 L445.25 105.44 L445.50 105.43 L445.75 105.42 L446.00 105.41 L446.25 105.40 L446.50 105.39 L446.75 105.38 L447.00 105.37 L447.25 105.35 L447.50 105.34 L447.75 105.32 L448.00 105.30 L448.25 105.28 L448.50 105.26 L448.75 105.24 L449.00 105.21 L449.25 105.19 L449.50 105.16 L449.75 105.13 L450.00 105.09 L450.25 105.06 L450.50 105.02 L450.75 104.98 L451.00 104.94 L451.25 104.90 L451.50 104.85 L451.75 104.80 L452.00 104.75 L452.25 104.70 L452.50 104.64 L452.75 104.59 L453.00 104.53 L453.25 104.46 L453.50 104.40 L453.75 104.33 L454.00 104.27 L454.25 104.20 L454.50 104.13 L454.75 104.05 L455.00 103.98 L455.25 103.90 L455.50 103.83 L455.75 103.75 L456.00 103.68 L456.25 103.60 L456.50 103.52 L456.75 103.45 L457.00 103.37 L457.25 103.30 L457.50 103.22 L457.75 103.15 L458.00 103.08 L458.25 103.01 L458.50 102.95 L458.75 102.88 L459.00 102.82 L459.25 102.76 L459.50 102.71 L459.75 102.66 L460.00 102.61 L460.25 102.56 L460.50 102.52 L460.75 102.48 L461.00 102.44 L461.25 102.41 L461.50 102.38 L461.75 102.35 L462.00 102.33 L462.25 102.31 L462.50 102.29 L462.75 102.27 L463.00 102.26 L463.25 102.25 L463.50 102.24 L463.75 102.23 L464.00 102.22 L464.25 102.21 L464.50 102.20 L464.75 102.19 L465.00 102.18 L465.25 102.16 L465.50 102.15 L465.75 102.13 L466.00 102.11 L466.25 102.08 L466.50 102.06 L466.75 102.03 L467.00 101.99 L467.25 101.95 L467.50 101.91 L467.75 101.86 L468.00 101.80 L468.25 101.75 L468.50 101.68 L468.75 101.62 L469.00 101.55 L469.25 101.47 L469.50 101.40 L469.75 101.32 L470.00 101.23 L470.25 101.15 L470.50 101.07 L470.75 100.98 L471.00 100.90 L471.25 100.81 L471.50 100.73 L471.75 100.65 L472.00 100.58 L472.25 100.50 L472.50 100.44 L472.75 100.38 L473.00 100.33 L473.25 100.28 L473.50 100.24 L473.75 100.21 L474.00 100.19 L474.25 100.18 L474.50 100.18 L474.75 100.19 L475.00 100.21 L475.25 100.24 L475.50 100.29 L475.75 100.34 L476.00 100.40 L476.25 100.48 L476.50 100.56 L476.75 100.65 L477.00 100.75 L477.25 100.86 L477.50 100.98 L477.75 101.11 L478.00 101.24 L478.25 101.38 L478.50 101.52 L478.75 101.66 L479.00 101.82 L479.25 101.97 L479.50 102.12 L479.75 102.28 L480.00 102.43 L480.25 102.59 L480.50 102.74 L480.75 102.90 L481.00 103.05 L481.25 103.19 L481.50 103.34 L481.75 103.48 L482.00 103.61 L482.25 103.74 L482.50 103.87 L482.75 103.99 L483.00 104.10 L483.25 104.21 L483.50 104.32 L483.75 104.41 L484.00 104.51 L484.25 104.59 L484.50 104.67 L484.75 104.75 L485.00 104.82 L485.25 104.89 L485.50 104.95 L485.75 105.00 L486.00 105.05 L486.25 105.10 L486.50 105.14 L486.75 105.18 L487.00 105.22 L487.25 105.25 L487.50 105.28 L487.75 105.31 L488.00 105.33 L488.25 105.35 L488.50 105.37 L488.75 105.39 L489.00 105.40 L489.25 105.41 L489.50 105.43 L489.75 105.44 L490.00 105.44 L490.25 105.45 L490.50 105.46 L490.75 105.46 L491.00 105.47 L491.25 105.47 L491.50 105.48 L491.75 105.48 L492.00 105.48 L492.25 105.49 L492.50 105.49 L492.75 105.49 L493.00 105.49 L493.25 105.49 L493.50 105.49 L493.75 105.50 L494.00 105.50 L494.25 105.50 L494.50 105.50 L494.75 105.50 L495.00 105.50 L495.25 105.50 L495.50 105.50 L495.75 105.50 L496.00 105.50 L496.25 105.50 L496.50 105.50 L496.75 105.50 L497.00 105.50 L497.25 105.50 L497.50 105.50 L497.75 105.50 L498.00 105.50 L498.25 105.50 L498.50 105.50 L498.75 105.50 L499.00 105.50 L499.25 105.50 L499.50 105.50 L499.75 105.50 L500.00 105.50 L500.25 105.50 L500.50 105.50 L500.75 105.50 L501.00 105.50 L501.25 105.50 L501.50 105.50 L501.75 105.50 L502.00 105.50 L502.25 105.50 L502.50 105.50 L502.75 105.50 L503.00 105.50 L503.25 105.50 L503.50 105.50 L503.75 105.50 L504.00 105.50 L504.25 105.50 L504.50 105.50 L504.75 105.50 L505.00 105.50 L505.25 105.50 L505.50 105.50 L505.75 105.50 L506.00 105.50 L506.25 105.50 L506.50 105.50 L506.75 105.50 L507.00 105.50 L507.25 105.50 L507.50 105.50 L507.75 105.50 L508.00 105.50 L508.25 105.50 L508.50 105.50 L508.75 105.50 L509.00 105.50 L509.25 105.50 L509.50 105.50 L509.75 105.50 L510.00 105.50 L510.25 105.50 L510.50 105.50 L510.75 105.50 L511.00 105.50 L511.25 105.50 L511.50 105.50 L511.75 105.50 L512.00 105.50 L512.25 105.50 L512.50 105.50 L512.75 105.50 L513.00 105.50" stroke="#4a6488" fill="none" stroke-width="0.7"/>
<path d="M470.00 105.50 L470.25 105.50 L470.50 105.50 L470.75 105.50 L471.00 105.50 L471.25 105.50 L471.50 105.50 L471.75 105.50 L472.00 105.50 L472.25 105.50 L472.50 105.50 L472.75 105.50 L473.00 105.50 L473.25 105.50 L473.50 105.50 L473.75 105.50 L474.00 105.50 L474.25 105.50 L474.50 105.50 L474.75 105.50 L475.00 105.50 L475.25 105.50 L475.50 105.50 L475.75 105.50 L476.00 105.50 L476.25 105.50 L476.50 105.50 L476.75 105.50 L477.00 105.50 L477.25 105.50 L477.50 105.50 L477.75 105.50 L478.00 105.50 L478.25 105.50 L478.50 105.50 L478.75 105.49 L479.00 105.48 L479.25 105.46 L479.50 105.42 L479.75 105.36 L480.00 105.25 L480.25 105.06 L480.50 104.75 L480.75 104.27 L481.00 103.54 L481.25 102.49 L481.50 101.01 L481.75 99.02 L482.00 96.44 L482.25 93.24 L482.50 89.42 L482.75 85.08 L483.00 80.38 L483.25 75.56 L483.50 70.94 L483.75 66.86 L484.00 63.66 L484.25 61.61 L484.50 60.90 L484.75 61.61 L485.00 63.66 L485.25 66.86 L485.50 70.94 L485.75 75.56 L486.00 80.38 L486.25 85.08 L486.50 89.42 L486.75 93.24 L487.00 96.44 L487.25 99.02 L487.50 101.01 L487.75 102.49 L488.00 103.54 L488.25 104.27 L488.50 104.75 L488.75 105.06 L489.00 105.25 L489.25 105.36 L489.50 105.42 L489.75 105.46 L490.00 105.48 L490.25 105.49 L490.50 105.50 L490.75 105.50 L491.00 105.50 L491.25 105.50 L491.50 105.50 L491.75 105.50 L492.00 105.50 L492.25 105.50 L492.50 105.50 L492.75 105.50 L493.00 105.50 L493.25 105.50 L493.50 105.50 L493.75 105.50 L494.00 105.50 L494.25 105.50 L494.50 105.50 L494.75 105.50 L495.00 105.50 L495.25 105.50 L495.50 105.50 L495.75 105.50 L496.00 105.50 L496.25 105.50 L496.50 105.50 L496.75 105.50 L497.00 105.50 L497.25 105.50 L497.50 105.50 L497.75 105.50 L498.00 105.50 L498.25 105.50 L498.50 105.50 L498.75 105.50 L499.00 105.50 L499.25 105.50 L499.50 105.50 L499.75 105.50 L500.00 105.50 L500.25 105.50 L500.50 105.50 L500.75 105.50 L501.00 105.50 L501.25 105.50 L501.50 105.50 L501.75 105.50 L502.00 105.50 L502.25 105.50 L502.50 105.50 L502.75 105.50 L503.00 105.50 L503.25 105.50 L503.50 105.50 L503.75 105.50 L504.00 105.50 L504.25 105.50 L504.50 105.50 L504.75 105.50 L505.00 105.50" stroke="#e2cf7a" fill="none" stroke-width="0.7"/>
<path d="M470.00 105.50 L470.25 105.50 L470.50 105.50 L470.75 105.50 L471.00 105.50 L471.25 105.50 L471.50 105.50 L471.75 105.50 L472.00 105.50 L472.25 105.50 L472.50 105.50 L472.75 105.50 L473.00 105.50 L473.25 105.50 L473.50 105.50 L473.75 105.50 L474.00 105.50 L474.25 105.50 L474.50 105.50 L474.75 105.50 L475.00 105.50 L475.25 105.50 L475.50 105.50 L475.75 105.50 L476.00 105.50 L476.25 105.50 L476.50 105.50 L476.75 105.50 L477.00 105.49 L477.25 105.49 L477.50 105.48 L477.75 105.46 L478.00 105.43 L478.25 105.37 L478.50 105.28 L478.75 105.13 L479.00 104.90 L479.25 104.56 L479.50 104.07 L479.75 103.37 L480.00 102.42 L480.25 101.16 L480.50 99.56 L480.75 97.60 L481.00 95.27 L481.25 92.61 L481.50 89.71 L481.75 86.69 L482.00 83.70 L482.25 80.93 L482.50 78.55 L482.75 76.73 L483.00 75.59 L483.25 75.21 L483.50 75.57 L483.75 76.58 L484.00 78.11 L484.25 79.95 L484.50 81.90 L484.75 83.77 L485.00 85.40 L485.25 86.73 L485.50 87.76 L485.75 88.56 L486.00 89.24 L486.25 89.96 L486.50 90.83 L486.75 91.93 L487.00 93.29 L487.25 94.85 L487.50 96.53 L487.75 98.22 L488.00 99.83 L488.25 101.25 L488.50 102.45 L488.75 103.40 L489.00 104.11 L489.25 104.62 L489.50 104.97 L489.75 105.19 L490.00 105.33 L490.25 105.41 L490.50 105.45 L490.75 105.48 L491.00 105.49 L491.25 105.50 L491.50 105.50 L491.75 105.50 L492.00 105.50 L492.25 105.50 L492.50 105.50 L492.75 105.50 L493.00 105.50 L493.25 105.50 L493.50 105.50 L493.75 105.50 L494.00 105.50 L494.25 105.50 L494.50 105.50 L494.75 105.50 L495.00 105.50 L495.25 105.50 L495.50 105.50 L495.75 105.50 L496.00 105.50 L496.25 105.50 L496.50 105.50 L496.75 105.50 L497.00 105.50 L497.25 105.50 L497.50 105.50 L497.75 105.50 L498.00 105.50 L498.25 105.50 L498.50 105.50 L498.75 105.50 L499.00 105.50 L499.25 105.50 L499.50 105.50 L499.75 105.50 L500.00 105.50 L500.25 105.50 L500.50 105.50 L500.75 105.50 L501.00 105.50 L501.25 105.50 L501.50 105.50 L501.75 105.50 L502.00 105.50 L502.25 105.50 L502.50 105.50 L502.75 105.50 L503.00 105.50 L503.25 105.50 L503.50 105.50 L503.75 105.50 L504.00 105.50 L504.25 105.50 L504.50 105.50 L504.75 105.50 L505.00 105.50" stroke="#ecdc98" fill="none" stroke-width="0.6"/>
<path d="M470.00 105.50 L470.25 105.50 L470.50 105.50 L470.75 105.50 L471.00 105.50 L471.25 105.50 L471.50 105.50 L471.75 105.50 L472.00 105.50 L472.25 105.50 L472.50 105.50 L472.75 105.50 L473.00 105.50 L473.25 105.50 L473.50 105.50 L473.75 105.50 L474.00 105.50 L474.25 105.50 L474.50 105.50 L474.75 105.50 L475.00 105.50 L475.25 105.50 L475.50 105.49 L475.75 105.49 L476.00 105.48 L476.25 105.46 L476.50 105.44 L476.75 105.40 L477.00 105.35 L477.25 105.27 L477.50 105.15 L477.75 104.99 L478.00 104.77 L478.25 104.48 L478.50 104.12 L478.75 103.67 L479.00 103.14 L479.25 102.52 L479.50 101.84 L479.75 101.10 L480.00 100.34 L480.25 99.60 L480.50 98.91 L480.75 98.31 L481.00 97.83 L481.25 97.50 L481.50 97.32 L481.75 97.27 L482.00 97.32 L482.25 97.39 L482.50 97.41 L482.75 97.25 L483.00 96.83 L483.25 96.03 L483.50 94.78 L483.75 93.08 L484.00 90.95 L484.25 88.51 L484.50 85.94 L484.75 83.49 L485.00 81.40 L485.25 79.91 L485.50 79.23 L485.75 79.44 L486.00 80.55 L486.25 82.46 L486.50 84.98 L486.75 87.88 L487.00 90.92 L487.25 93.87 L487.50 96.56 L487.75 98.87 L488.00 100.77 L488.25 102.24 L488.50 103.34 L488.75 104.12 L489.00 104.65 L489.25 105.00 L489.50 105.21 L489.75 105.34 L490.00 105.42 L490.25 105.46 L490.50 105.48 L490.75 105.49 L491.00 105.50 L491.25 105.50 L491.50 105.50 L491.75 105.50 L492.00 105.50 L492.25 105.50 L492.50 105.50 L492.75 105.50 L493.00 105.50 L493.25 105.50 L493.50 105.50 L493.75 105.50 L494.00 105.50 L494.25 105.50 L494.50 105.50 L494.75 105.50 L495.00 105.50 L495.25 105.50 L495.50 105.50 L495.75 105.50 L496.00 105.50 L496.25 105.50 L496.50 105.50 L496.75 105.50 L497.00 105.50 L497.25 105.50 L497.50 105.50 L497.75 105.50 L498.00 105.50 L498.25 105.50 L498.50 105.50 L498.75 105.50 L499.00 105.50 L499.25 105.50 L499.50 105.50 L499.75 105.50 L500.00 105.50 L500.25 105.50 L500.50 105.50 L500.75 105.50 L501.00 105.50 L501.25 105.50 L501.50 105.50 L501.75 105.50 L502.00 105.50 L502.25 105.50 L502.50 105.50 L502.75 105.50 L503.00 105.50 L503.25 105.50 L503.50 105.50 L503.75 105.50 L504.00 105.50 L504.25 105.50 L504.50 105.50 L504.75 105.50 L505.00 105.50" stroke="#e6d488" fill="none" stroke-width="0.6"/>
<path d="M470.00 105.50 L470.25 105.50 L470.50 105.50 L470.75 105.50 L471.00 105.50 L471.25 105.50 L471.50 105.50 L471.75 105.50 L472.00 105.50 L472.25 105.50 L472.50 105.50 L472.75 105.50 L473.00 105.50 L473.25 105.50 L473.50 105.50 L473.75 105.50 L474.00 105.50 L474.25 105.50 L474.50 105.50 L474.75 105.50 L475.00 105.50 L475.25 105.50 L475.50 105.50 L475.75 105.50 L476.00 105.50 L476.25 105.49 L476.50 105.48 L476.75 105.47 L477.00 105.45 L477.25 105.42 L477.50 105.36 L477.75 105.28 L478.00 105.16 L478.25 104.97 L478.50 104.71 L478.75 104.35 L479.00 103.85 L479.25 103.21 L479.50 102.40 L479.75 101.39 L480.00 100.19 L480.25 98.80 L480.50 97.26 L480.75 95.60 L481.00 93.90 L481.25 92.23 L481.50 90.69 L481.75 89.37 L482.00 88.36 L482.25 87.72 L482.50 87.50 L482.75 87.71 L483.00 88.35 L483.25 89.35 L483.50 90.64 L483.75 92.13 L484.00 93.70 L484.25 95.25 L484.50 96.64 L484.75 97.79 L485.00 98.59 L485.25 98.98 L485.50 98.91 L485.75 98.38 L486.00 97.45 L486.25 96.21 L486.50 94.82 L486.75 93.46 L487.00 92.32 L487.25 91.58 L487.50 91.36 L487.75 91.72 L488.00 92.62 L488.25 93.96 L488.50 95.59 L488.75 97.35 L489.00 99.09 L489.25 100.66 L489.50 102.01 L489.75 103.09 L490.00 103.90 L490.25 104.49 L490.50 104.88 L490.75 105.14 L491.00 105.30 L491.25 105.39 L491.50 105.45 L491.75 105.47 L492.00 105.49 L492.25 105.49 L492.50 105.50 L492.75 105.50 L493.00 105.50 L493.25 105.50 L493.50 105.50 L493.75 105.50 L494.00 105.50 L494.25 105.50 L494.50 105.50 L494.75 105.50 L495.00 105.50 L495.25 105.50 L495.50 105.50 L495.75 105.50 L496.00 105.50 L496.25 105.50 L496.50 105.50 L496.75 105.50 L497.00 105.50 L497.25 105.50 L497.50 105.50 L497.75 105.50 L498.00 105.50 L498.25 105.50 L498.50 105.50 L498.75 105.50 L499.00 105.50 L499.25 105.50 L499.50 105.50 L499.75 105.50 L500.00 105.50 L500.25 105.50 L500.50 105.50 L500.75 105.50 L501.00 105.50 L501.25 105.50 L501.50 105.50 L501.75 105.50 L502.00 105.50 L502.25 105.50 L502.50 105.50 L502.75 105.50 L503.00 105.50 L503.25 105.50 L503.50 105.50 L503.75 105.50 L504.00 105.50 L504.25 105.50 L504.50 105.50 L504.75 105.50 L505.00 105.50" stroke="#f0e4a8" fill="none" stroke-width="0.6"/>
<path d="M470.00 105.50 L470.25 105.50 L470.50 105.50 L470.75 105.50 L471.00 105.50 L471.25 105.50 L471.50 105.50 L471.75 105.50 L472.00 105.50 L472.25 105.50 L472.50 105.50 L472.75 105.50 L473.00 105.50 L473.25 105.50 L473.50 105.50 L473.75 105.50 L474.00 105.50 L474.25 105.50 L474.50 105.50 L474.75 105.50 L475.00 105.50 L475.25 105.50 L475.50 105.50 L475.75 105.50 L476.00 105.50 L476.25 105.50 L476.50 105.50 L476.75 105.50 L477.00 105.50 L477.25 105.50 L477.50 105.50 L477.75 105.50 L478.00 105.50 L478.25 105.50 L478.50 105.50 L478.75 105.50 L479.00 105.50 L479.25 105.50 L479.50 105.50 L479.75 105.50 L480.00 105.50 L480.25 105.50 L480.50 105.50 L480.75 105.50 L481.00 105.50 L481.25 105.49 L481.50 105.48 L481.75 105.47 L482.00 105.44 L482.25 105.39 L482.50 105.30 L482.75 105.16 L483.00 104.95 L483.25 104.61 L483.50 104.13 L483.75 103.44 L484.00 102.51 L484.25 101.28 L484.50 99.74 L484.75 97.88 L485.00 95.72 L485.25 93.33 L485.50 90.81 L485.75 88.29 L486.00 85.91 L486.25 83.83 L486.50 82.17 L486.75 81.04 L487.00 80.48 L487.25 80.49 L487.50 81.02 L487.75 81.98 L488.00 83.29 L488.25 84.84 L488.50 86.53 L488.75 88.30 L489.00 90.10 L489.25 91.88 L489.50 93.63 L489.75 95.31 L490.00 96.91 L490.25 98.40 L490.50 99.76 L490.75 100.97 L491.00 102.01 L491.25 102.89 L491.50 103.59 L491.75 104.15 L492.00 104.57 L492.25 104.88 L492.50 105.10 L492.75 105.25 L493.00 105.35 L493.25 105.41 L493.50 105.45 L493.75 105.47 L494.00 105.48 L494.25 105.49 L494.50 105.50 L494.75 105.50 L495.00 105.50 L495.25 105.50 L495.50 105.50 L495.75 105.50 L496.00 105.50 L496.25 105.50 L496.50 105.50 L496.75 105.50 L497.00 105.50 L497.25 105.50 L497.50 105.50 L497.75 105.50 L498.00 105.50 L498.25 105.50 L498.50 105.50 L498.75 105.50 L499.00 105.50 L499.25 105.50 L499.50 105.50 L499.75 105.50 L500.00 105.50 L500.25 105.50 L500.50 105.50 L500.75 105.50 L501.00 105.50 L501.25 105.50 L501.50 105.50 L501.75 105.50 L502.00 105.50 L502.25 105.50 L502.50 105.50 L502.75 105.50 L503.00 105.50 L503.25 105.50 L503.50 105.50 L503.75 105.50 L504.00 105.50 L504.25 105.50 L504.50 105.50 L504.75 105.50 L505.00 105.50" stroke="#dcc66a" fill="none" stroke-width="0.6"/>
<rect x="486.4" y="38.6" width="1.4" height="66.9" fill="#e4c2b0"/>
<line x1="487.1" y1="38.6" x2="487.1" y2="105.5" stroke="#c8907a" stroke-width="0.7"/>
<path d="M395.00 105.50 L395.25 105.50 L395.50 105.50 L395.75 105.50 L396.00 105.50 L396.25 105.50 L396.50 105.50 L396.75 105.50 L397.00 105.50 L397.25 105.50 L397.50 105.50 L397.75 105.50 L398.00 105.50 L398.25 105.50 L398.50 105.50 L398.75 105.50 L399.00 105.50 L399.25 105.50 L399.50 105.50 L399.75 105.50 L400.00 105.50 L400.25 105.50 L400.50 105.50 L400.75 105.50 L401.00 105.50 L401.25 105.50 L401.50 105.50 L401.75 105.50 L402.00 105.50 L402.25 105.50 L402.50 105.50 L402.75 105.50 L403.00 105.50 L403.25 105.50 L403.50 105.50 L403.75 105.50 L404.00 105.50 L404.25 105.50 L404.50 105.50 L404.75 105.50 L405.00 105.50 L405.25 105.50 L405.50 105.50 L405.75 105.50 L406.00 105.50 L406.25 105.50 L406.50 105.50 L406.75 105.50 L407.00 105.50 L407.25 105.50 L407.50 105.50 L407.75 105.50 L408.00 105.50 L408.25 105.50 L408.50 105.50 L408.75 105.50 L409.00 105.50 L409.25 105.50 L409.50 105.50 L409.75 105.50 L410.00 105.50 L410.25 105.50 L410.50 105.50 L410.75 105.50 L411.00 105.50 L411.25 105.50 L411.50 105.50 L411.75 105.50 L412.00 105.50 L412.25 105.50 L412.50 105.50 L412.75 105.50 L413.00 105.50 L413.25 105.50 L413.50 105.50 L413.75 105.50 L414.00 105.50 L414.25 105.50 L414.50 105.50 L414.75 105.50 L415.00 105.50 L415.25 105.50 L415.50 105.50 L415.75 105.50 L416.00 105.50 L416.25 105.50 L416.50 105.50 L416.75 105.50 L417.00 105.50 L417.25 105.50 L417.50 105.50 L417.75 105.50 L418.00 105.50 L418.25 105.50 L418.50 105.50 L418.75 105.50 L419.00 105.50 L419.25 105.50 L419.50 105.50 L419.75 105.50 L420.00 105.50 L420.25 105.50 L420.50 105.50 L420.75 105.50 L421.00 105.50 L421.25 105.50 L421.50 105.50 L421.75 105.50 L422.00 105.50 L422.25 105.50 L422.50 105.50 L422.75 105.50 L423.00 105.50 L423.25 105.50 L423.50 105.50 L423.75 105.50 L424.00 105.50 L424.25 105.50 L424.50 105.50 L424.75 105.50 L425.00 105.50 L425.25 105.50 L425.50 105.50 L425.75 105.50 L426.00 105.50 L426.25 105.50 L426.50 105.50 L426.75 105.50 L427.00 105.50 L427.25 105.50 L427.50 105.50 L427.75 105.50 L428.00 105.50 L428.25 105.50 L428.50 105.50 L428.75 105.50 L429.00 105.50 L429.25 105.50 L429.50 105.50 L429.75 105.50 L430.00 105.50 L430.25 105.50 L430.50 105.50 L430.75 105.50 L431.00 105.50 L431.25 105.50 L431.50 105.50 L431.75 105.50 L432.00 105.50 L432.25 105.50 L432.50 105.50 L432.75 105.50 L433.00 105.50 L433.25 105.50 L433.50 105.50 L433.75 105.50 L434.00 105.50 L434.25 105.50 L434.50 105.50 L434.75 105.50 L435.00 105.50 L435.25 105.50 L435.50 105.50 L435.75 105.50 L436.00 105.50 L436.25 105.50 L436.50 105.50 L436.75 105.50 L437.00 105.50 L437.25 105.50 L437.50 105.50 L437.75 105.50 L438.00 105.50 L438.25 105.50 L438.50 105.50 L438.75 105.50 L439.00 105.50 L439.25 105.50 L439.50 105.50 L439.75 105.50 L440.00 105.50 L440.25 105.50 L440.50 105.50 L440.75 105.50 L441.00 105.50 L441.25 105.50 L441.50 105.50 L441.75 105.50 L442.00 105.50 L442.25 105.50 L442.50 105.50 L442.75 105.50 L443.00 105.50 L443.25 105.50 L443.50 105.50 L443.75 105.50 L444.00 105.50 L444.25 105.50 L444.50 105.50 L444.75 105.50 L445.00 105.50 L445.25 105.50 L445.50 105.50 L445.75 105.50 L446.00 105.50 L446.25 105.50 L446.50 105.50 L446.75 105.50 L447.00 105.50 L447.25 105.50 L447.50 105.50 L447.75 105.50 L448.00 105.50 L448.25 105.50 L448.50 105.50 L448.75 105.50 L449.00 105.50 L449.25 105.50 L449.50 105.50 L449.75 105.50 L450.00 105.50 L450.25 105.50 L450.50 105.50 L450.75 105.50 L451.00 105.50 L451.25 105.50 L451.50 105.50 L451.75 105.50 L452.00 105.50 L452.25 105.50 L452.50 105.50 L452.75 105.50 L453.00 105.50 L453.25 105.50 L453.50 105.50 L453.75 105.50 L454.00 105.50 L454.25 105.50 L454.50 105.50 L454.75 105.50 L455.00 105.50 L455.25 105.50 L455.50 105.50 L455.75 105.50 L456.00 105.50 L456.25 105.50 L456.50 105.50 L456.75 105.50 L457.00 105.50 L457.25 105.50 L457.50 105.50 L457.75 105.50 L458.00 105.50 L458.25 105.50 L458.50 105.50 L458.75 105.50 L459.00 105.50 L459.25 105.50 L459.50 105.50 L459.75 105.50 L460.00 105.50 L460.25 105.50 L460.50 105.50 L460.75 105.50 L461.00 105.50 L461.25 105.50 L461.50 105.50 L461.75 105.50 L462.00 105.50 L462.25 105.50 L462.50 105.50 L462.75 105.50 L463.00 105.50 L463.25 105.50 L463.50 105.50 L463.75 105.50 L464.00 105.50 L464.25 105.50 L464.50 105.50 L464.75 105.50 L465.00 105.50 L465.25 105.50 L465.50 105.50 L465.75 105.50 L466.00 105.50 L466.25 105.50 L466.50 105.50 L466.75 105.50 L467.00 105.50 L467.25 105.50 L467.50 105.50 L467.75 105.50 L468.00 105.50 L468.25 105.50 L468.50 105.50 L468.75 105.50 L469.00 105.50 L469.25 105.50 L469.50 105.50 L469.75 105.50 L470.00 105.50 L470.25 105.50 L470.50 105.50 L470.75 105.50 L471.00 105.49 L471.25 105.48 L471.50 105.46 L471.75 105.41 L472.00 105.31 L472.25 105.12 L472.50 104.76 L472.75 104.12 L473.00 103.05 L473.25 101.37 L473.50 98.84 L473.75 95.26 L474.00 90.48 L474.25 84.49 L474.50 77.47 L474.75 69.84 L475.00 62.21 L475.25 55.38 L475.50 50.15 L475.75 47.20 L476.00 46.92 L476.25 49.36 L476.50 54.18 L476.75 60.75 L477.00 68.29 L477.25 75.98 L477.50 83.16 L477.75 89.38 L478.00 94.40 L478.25 98.21 L478.50 100.94 L478.75 102.77 L479.00 103.95 L479.25 104.66 L479.50 105.06 L479.75 105.28 L480.00 105.40 L480.25 105.45 L480.50 105.48 L480.75 105.49 L481.00 105.50 L481.25 105.50 L481.50 105.50 L481.75 105.50 L482.00 105.50 L482.25 105.50 L482.50 105.50 L482.75 105.50 L483.00 105.50 L483.25 105.50 L483.50 105.50 L483.75 105.50 L484.00 105.50 L484.25 105.50 L484.50 105.50 L484.75 105.50 L485.00 105.50 L485.25 105.50 L485.50 105.50 L485.75 105.50 L486.00 105.50 L486.25 105.50 L486.50 105.50 L486.75 105.50 L487.00 105.50 L487.25 105.50 L487.50 105.50 L487.75 105.50 L488.00 105.50 L488.25 105.50 L488.50 105.50 L488.75 105.50 L489.00 105.50 L489.25 105.50 L489.50 105.50 L489.75 105.50 L490.00 105.50 L490.25 105.50 L490.50 105.50 L490.75 105.50 L491.00 105.50 L491.25 105.50 L491.50 105.50 L491.75 105.50 L492.00 105.50 L492.25 105.50 L492.50 105.50 L492.75 105.50 L493.00 105.50 L493.25 105.50 L493.50 105.50 L493.75 105.50 L494.00 105.50 L494.25 105.50 L494.50 105.50 L494.75 105.50 L495.00 105.50 L495.25 105.50 L495.50 105.50 L495.75 105.50 L496.00 105.50 L496.25 105.50 L496.50 105.50 L496.75 105.50 L497.00 105.50 L497.25 105.50 L497.50 105.50 L497.75 105.50 L498.00 105.50 L498.25 105.50 L498.50 105.50 L498.75 105.50 L499.00 105.50 L499.25 105.50 L499.50 105.50 L499.75 105.50 L500.00 105.50 L500.25 105.50 L500.50 105.50 L500.75 105.50 L501.00 105.50 L501.25 105.50 L501.50 105.50 L501.75 105.50 L502.00 105.50 L502.25 105.50 L502.50 105.50 L502.75 105.50 L503.00 105.50 L503.25 105.50 L503.50 105.50 L503.75 105.50 L504.00 105.50 L504.25 105.50 L504.50 105.50 L504.75 105.50 L505.00 105.50 L505.25 105.50 L505.50 105.50 L505.75 105.50 L506.00 105.50 L506.25 105.50 L506.50 105.50 L506.75 105.50 L507.00 105.50 L507.25 105.50 L507.50 105.50 L507.75 105.50 L508.00 105.50 L508.25 105.50 L508.50 105.50 L508.75 105.50 L509.00 105.50 L509.25 105.50 L509.50 105.50 L509.75 105.50 L510.00 105.50 L510.25 105.50 L510.50 105.50 L510.75 105.50 L511.00 105.50 L511.25 105.50 L511.50 105.50 L511.75 105.50 L512.00 105.50 L512.25 105.50 L512.50 105.50 L512.75 105.50 L513.00 105.50" stroke="#4a4a4a" fill="none" stroke-width="0.9"/>
<line x1="395.3" y1="105.5" x2="512.3" y2="105.5" stroke="#444" stroke-width="0.8"/>
<line x1="388.8" y1="39.0" x2="388.8" y2="108.7" stroke="#161616" stroke-width="1.3"/>
<line x1="385.8" y1="105.9" x2="388.8" y2="105.9" stroke="#161616" stroke-width="1.1"/>
<text x="383.2" y="108.4" font-size="7.0" text-anchor="end" fill="#231f20" stroke="#231f20">0</text>
<line x1="385.8" y1="84.30000000000001" x2="388.8" y2="84.30000000000001" stroke="#161616" stroke-width="1.1"/>
<text x="383.2" y="86.80000000000001" font-size="7.0" text-anchor="end" fill="#231f20" stroke="#231f20">4</text>
<line x1="385.8" y1="62.7" x2="388.8" y2="62.7" stroke="#161616" stroke-width="1.1"/>
<text x="383.2" y="65.2" font-size="7.0" text-anchor="end" fill="#231f20" stroke="#231f20">8</text>
<line x1="385.8" y1="41.099999999999994" x2="388.8" y2="41.099999999999994" stroke="#161616" stroke-width="1.1"/>
<text x="383.2" y="43.599999999999994" font-size="7.0" text-anchor="end" fill="#231f20" stroke="#231f20">12</text>
<line x1="386.8" y1="95.10000000000001" x2="388.8" y2="95.10000000000001" stroke="#161616" stroke-width="1.0"/>
<line x1="386.8" y1="73.5" x2="388.8" y2="73.5" stroke="#161616" stroke-width="1.0"/>
<line x1="386.8" y1="51.900000000000006" x2="388.8" y2="51.900000000000006" stroke="#161616" stroke-width="1.0"/>
<text transform="translate(371.3,73.5) rotate(-90)" font-size="9.6" text-anchor="middle" fill="#231f20" stroke="#231f20" textLength="22.2" lengthAdjust="spacingAndGlyphs">Density</text>
<text x="392" y="43.6" font-size="6.4" text-anchor="start" fill="#231f20" stroke="#231f20" textLength="49" lengthAdjust="spacingAndGlyphs">Log FC = -0.4287</text>
<text x="392" y="50.6" font-size="6.4" fill="#231f20" stroke="#231f20"><tspan font-style="italic">P</tspan> = 0.00027</text>
<text x="392" y="57.6" font-size="6.4" text-anchor="start" fill="#231f20" stroke="#231f20" textLength="39.3" lengthAdjust="spacingAndGlyphs">FDR = 0.0314</text>
<text x="453.9" y="33.8" font-size="6.4" text-anchor="middle" fill="#231f20" stroke="#231f20" textLength="82" lengthAdjust="spacingAndGlyphs">Reactome p38 MAPK events</text>
<line x1="402.4" y1="131.6" x2="502" y2="131.6" stroke="#161616" stroke-width="1.2"/>
<line x1="406.5" y1="131.6" x2="406.5" y2="134.8" stroke="#161616" stroke-width="1.1"/>
<text x="406.5" y="142.8" font-size="7.0" text-anchor="middle" fill="#231f20" stroke="#231f20">-3</text>
<line x1="433.4" y1="131.6" x2="433.4" y2="134.8" stroke="#161616" stroke-width="1.1"/>
<text x="433.4" y="142.8" font-size="7.0" text-anchor="middle" fill="#231f20" stroke="#231f20">-2</text>
<line x1="460.3" y1="131.6" x2="460.3" y2="134.8" stroke="#161616" stroke-width="1.1"/>
<text x="460.3" y="142.8" font-size="7.0" text-anchor="middle" fill="#231f20" stroke="#231f20">-1</text>
<line x1="487.2" y1="131.6" x2="487.2" y2="134.8" stroke="#161616" stroke-width="1.1"/>
<text x="487.2" y="142.8" font-size="7.0" text-anchor="middle" fill="#231f20" stroke="#231f20">0</text>
<line x1="500.65" y1="131.6" x2="500.65" y2="134.8" stroke="#161616" stroke-width="1.1"/>
<text x="500.65" y="142.8" font-size="7.0" text-anchor="middle" fill="#231f20" stroke="#231f20">0.5</text>
<line x1="419.95" y1="131.6" x2="419.95" y2="133.4" stroke="#161616" stroke-width="1.0"/>
<line x1="446.85" y1="131.6" x2="446.85" y2="133.4" stroke="#161616" stroke-width="1.0"/>
<line x1="473.75" y1="131.6" x2="473.75" y2="133.4" stroke="#161616" stroke-width="1.0"/>
<text x="426.8" y="127.8" font-size="6.8" text-anchor="start" fill="#231f20" stroke="#231f20" textLength="37.6" lengthAdjust="spacingAndGlyphs">Up in P95H/+</text>
<line x1="481" y1="125.6" x2="471" y2="125.6" stroke="#111" stroke-width="1.0"/>
<path d="M471,125.6 L473.72,123.89999999999999 L473.72,127.3 Z" stroke="none" fill="#111" stroke-width="1"/>
<text x="453.6" y="154.6" font-size="8.1" text-anchor="middle" fill="#231f20" stroke="#231f20" textLength="47.6" lengthAdjust="spacingAndGlyphs">Activity (log2FC)</text>
<line x1="67.7" y1="189.4" x2="144.2" y2="189.4" stroke="#161616" stroke-width="1.25"/>
<line x1="67.7" y1="189.2" x2="67.7" y2="191.6" stroke="#161616" stroke-width="1.0"/>
<text x="67.7" y="184.2" font-size="6.8" text-anchor="middle" fill="#231f20" stroke="#231f20">0</text>
<line x1="84.35000000000001" y1="189.2" x2="84.35000000000001" y2="191.6" stroke="#161616" stroke-width="1.0"/>
<text x="84.35000000000001" y="184.2" font-size="6.8" text-anchor="middle" fill="#231f20" stroke="#231f20">100</text>
<line x1="101.0" y1="189.2" x2="101.0" y2="191.6" stroke="#161616" stroke-width="1.0"/>
<text x="101.0" y="184.2" font-size="6.8" text-anchor="middle" fill="#231f20" stroke="#231f20">200</text>
<line x1="117.65" y1="189.2" x2="117.65" y2="191.6" stroke="#161616" stroke-width="1.0"/>
<text x="117.65" y="184.2" font-size="6.8" text-anchor="middle" fill="#231f20" stroke="#231f20">300</text>
<line x1="134.3" y1="189.2" x2="134.3" y2="191.6" stroke="#161616" stroke-width="1.0"/>
<text x="134.3" y="184.2" font-size="6.8" text-anchor="middle" fill="#231f20" stroke="#231f20">400</text>
<line x1="76.025" y1="189.2" x2="76.025" y2="190.8" stroke="#161616" stroke-width="0.9"/>
<line x1="92.67500000000001" y1="189.2" x2="92.67500000000001" y2="190.8" stroke="#161616" stroke-width="0.9"/>
<line x1="109.325" y1="189.2" x2="109.325" y2="190.8" stroke="#161616" stroke-width="0.9"/>
<line x1="125.97500000000001" y1="189.2" x2="125.97500000000001" y2="190.8" stroke="#161616" stroke-width="0.9"/>
<text x="61.4" y="184.2" font-size="6.3" text-anchor="end" fill="#231f20" stroke="#231f20" textLength="23.5" lengthAdjust="spacingAndGlyphs"># events</text>
<line x1="67.7" y1="188.6" x2="67.7" y2="304.4" stroke="#161616" stroke-width="1.3"/>
<rect x="67.7" y="197.1" width="42.1245" height="13.800000000000011" fill="#c9c7ce"/>
<rect x="111.0245" y="197.1" width="30.136500000000012" height="13.800000000000011" fill="#5aaa3c"/>
<line x1="64.9" y1="204.0" x2="67.7" y2="204.0" stroke="#161616" stroke-width="1.0"/>
<rect x="67.7" y="218.6" width="5.661000000000001" height="14.0" fill="#c9c7ce"/>
<rect x="73.361" y="218.6" width="6.992999999999995" height="14.0" fill="#5aaa3c"/>
<line x1="64.9" y1="225.6" x2="67.7" y2="225.6" stroke="#161616" stroke-width="1.0"/>
<rect x="67.7" y="240.4" width="1.1654999999999944" height="13.799999999999983" fill="#c9c7ce"/>
<rect x="68.8655" y="240.4" width="1.1655000000000086" height="13.799999999999983" fill="#5aaa3c"/>
<line x1="64.9" y1="247.3" x2="67.7" y2="247.3" stroke="#161616" stroke-width="1.0"/>
<rect x="67.7" y="261.6" width="1.9980000000000047" height="14.199999999999989" fill="#c9c7ce"/>
<rect x="69.69800000000001" y="261.6" width="5.661000000000001" height="14.199999999999989" fill="#5aaa3c"/>
<line x1="64.9" y1="268.70000000000005" x2="67.7" y2="268.70000000000005" stroke="#161616" stroke-width="1.0"/>
<rect x="67.7" y="283.5" width="1.3319999999999936" height="14.0" fill="#c9c7ce"/>
<rect x="69.032" y="283.5" width="1.1655000000000086" height="14.0" fill="#5aaa3c"/>
<line x1="64.9" y1="290.5" x2="67.7" y2="290.5" stroke="#161616" stroke-width="1.0"/>
<text x="61.4" y="206.3" font-size="7.0" text-anchor="end" fill="#231f20" stroke="#231f20" textLength="50.6" lengthAdjust="spacingAndGlyphs">Skipped/Cassette</text>
<text x="61.4" y="213.6" font-size="7.0" text-anchor="end" fill="#231f20" stroke="#231f20" textLength="14.2" lengthAdjust="spacingAndGlyphs">Exon</text>
<text x="61.4" y="228.2" font-size="7.0" text-anchor="end" fill="#231f20" stroke="#231f20" textLength="52.5" lengthAdjust="spacingAndGlyphs">Mutually Exclusive</text>
<text x="61.4" y="249.5" font-size="7.0" text-anchor="end" fill="#231f20" stroke="#231f20" textLength="34.3" lengthAdjust="spacingAndGlyphs">Alt 5’ donor</text>
<text x="61.4" y="271.1" font-size="7.0" text-anchor="end" fill="#231f20" stroke="#231f20" textLength="42" lengthAdjust="spacingAndGlyphs">Alt 3’ acceptor</text>
<text x="61.4" y="292.6" font-size="7.0" text-anchor="end" fill="#231f20" stroke="#231f20" textLength="44.3" lengthAdjust="spacingAndGlyphs">Retained Intron</text>
<rect x="150.2" y="182.9" width="31.900000000000006" height="113.70000000000002" fill="#c9c7ce"/>
<rect x="183.8" y="182.9" width="32.39999999999998" height="113.70000000000002" fill="#5aaa3c"/>
<text x="183.3" y="180.3" font-size="6.4" text-anchor="middle" fill="#231f20" stroke="#231f20" textLength="33.5" lengthAdjust="spacingAndGlyphs">Total events</text>
<text x="166.1" y="189.3" font-size="6.4" text-anchor="middle" fill="#231f20" stroke="#231f20" textLength="25.5" lengthAdjust="spacingAndGlyphs">Included</text>
<text x="166.1" y="196.8" font-size="6.4" text-anchor="middle" fill="#231f20" stroke="#231f20" textLength="19" lengthAdjust="spacingAndGlyphs">(n / %)</text>
<text x="200.0" y="189.3" font-size="6.4" text-anchor="middle" fill="#1f3a12" stroke="#1f3a12" textLength="27" lengthAdjust="spacingAndGlyphs">Excluded</text>
<text x="200.0" y="196.8" font-size="6.4" text-anchor="middle" fill="#1f3a12" stroke="#1f3a12" textLength="19" lengthAdjust="spacingAndGlyphs">(n / %)</text>
<text x="166.1" y="205.5" font-size="6.4" text-anchor="middle" fill="#231f20" stroke="#231f20">253 / 0.47</text>
<text x="200.0" y="205.5" font-size="6.4" text-anchor="middle" fill="#1f3a12" stroke="#1f3a12">181 / 0.34</text>
<text x="166.1" y="227.8" font-size="6.4" text-anchor="middle" fill="#231f20" stroke="#231f20">34 / 0.29</text>
<text x="200.0" y="227.8" font-size="6.4" text-anchor="middle" fill="#1f3a12" stroke="#1f3a12">42 / 0.36</text>
<text x="166.1" y="249.1" font-size="6.4" text-anchor="middle" fill="#231f20" stroke="#231f20">7 / 0.34</text>
<text x="200.0" y="249.1" font-size="6.4" text-anchor="middle" fill="#1f3a12" stroke="#1f3a12">7 / 0.34</text>
<text x="166.1" y="270.7" font-size="6.4" text-anchor="middle" fill="#231f20" stroke="#231f20">12 / 0.36</text>
<text x="200.0" y="270.7" font-size="6.4" text-anchor="middle" fill="#1f3a12" stroke="#1f3a12">34 / 1.02</text>
<text x="166.1" y="292.2" font-size="6.4" text-anchor="middle" fill="#231f20" stroke="#231f20">8 / 0.33</text>
<text x="200.0" y="292.2" font-size="6.4" text-anchor="middle" fill="#1f3a12" stroke="#1f3a12">7 / 0.28</text>
<rect x="109.1" y="292.5" width="8.7" height="3.9" fill="#5aaa3c"/>
<rect x="109.1" y="298.5" width="8.7" height="4.1" fill="#c9c7ce"/>
<text x="120.2" y="296.3" font-size="5.6" text-anchor="start" fill="#231f20" stroke="#231f20" textLength="22" lengthAdjust="spacingAndGlyphs">Excluded</text>
<text x="120.2" y="302.4" font-size="5.6" text-anchor="start" fill="#231f20" stroke="#231f20" textLength="20" lengthAdjust="spacingAndGlyphs">Included</text>
<path d="M314.9 208.6h0M292.5 264.3h0M327.2 220.6h0M355.8 213.1h0M294.6 246.4h0M325.0 211.7h0M272.6 287.4h0M355.8 214.6h0M311.3 251.6h0M271.1 281.5h0M296.0 239.9h0M326.4 241.2h0M316.2 237.4h0M300.5 263.8h0M253.2 270.0h0M283.7 267.5h0M331.5 211.4h0M273.6 287.4h0M313.7 255.1h0M279.6 279.3h0M297.2 223.2h0M331.0 196.4h0M258.3 269.6h0M271.2 241.9h0M299.5 234.6h0M353.5 213.8h0M282.9 287.4h0M302.2 250.2h0M340.4 206.2h0M288.1 241.9h0M290.9 234.9h0M282.3 263.4h0M288.5 250.4h0M277.9 277.1h0M331.6 204.7h0M330.7 258.7h0M331.4 196.4h0M317.2 196.8h0M317.6 196.4h0M280.8 287.4h0M346.3 221.8h0M282.5 287.4h0M312.6 223.7h0M281.5 283.3h0M265.5 270.4h0M355.8 206.2h0M349.5 212.5h0M265.8 270.5h0M316.8 247.8h0M286.9 238.3h0M302.2 254.2h0M293.2 253.8h0M330.8 237.0h0M280.0 267.0h0M282.2 282.1h0M321.3 226.7h0M316.6 254.3h0M255.5 253.8h0M354.4 215.7h0M343.4 215.1h0M275.8 286.0h0M253.2 257.9h0M348.4 196.4h0M291.8 247.2h0M273.3 278.2h0M350.4 208.4h0M293.4 263.6h0M320.9 209.5h0M293.7 273.6h0M290.9 241.3h0M255.9 260.1h0M332.4 242.8h0M253.2 243.5h0M283.1 238.5h0M273.7 237.2h0M337.5 204.2h0M270.2 285.8h0M294.7 235.8h0M345.1 196.4h0M310.6 232.2h0M313.8 253.3h0M351.8 200.1h0M310.8 231.5h0M328.4 231.2h0M294.7 226.2h0M315.9 254.2h0M314.4 257.7h0M292.9 224.0h0M292.7 232.8h0M322.2 204.6h0M322.4 196.4h0M298.7 229.6h0M284.7 237.4h0M266.6 280.3h0M346.1 205.8h0M264.6 278.9h0M285.3 256.1h0M307.0 237.2h0M315.0 264.4h0M284.7 239.8h0M303.9 229.4h0M265.4 271.7h0M297.6 202.0h0M330.5 256.5h0M308.3 242.8h0M316.7 229.4h0M296.4 257.1h0M334.4 239.3h0M342.3 224.1h0M264.1 277.6h0M287.8 254.7h0M277.4 260.8h0M289.3 247.2h0M344.3 228.7h0M354.4 196.4h0M275.7 272.3h0M332.0 224.4h0M254.6 239.2h0M344.7 196.4h0M343.7 212.5h0M288.4 287.4h0M280.5 231.1h0M355.8 228.1h0M253.2 252.7h0M342.4 196.4h0M329.1 236.5h0M293.1 271.7h0M258.0 256.2h0M300.4 259.9h0M350.0 272.3h0M297.1 265.7h0M334.8 233.4h0M341.0 237.6h0M278.2 221.8h0M296.1 254.3h0M302.6 230.2h0M289.8 234.0h0M272.5 230.2h0M289.8 244.7h0M270.6 263.8h0M266.4 255.0h0M355.8 208.7h0M343.4 227.9h0M291.7 211.6h0M331.5 197.6h0M287.1 257.1h0M290.5 264.5h0M268.4 287.4h0M300.0 261.2h0M283.9 248.6h0M275.6 256.4h0M273.7 274.4h0M300.4 231.3h0M299.2 265.8h0M301.0 279.1h0M283.1 281.3h0M271.1 286.1h0M329.2 221.0h0M300.3 196.4h0M302.9 243.0h0M299.3 205.8h0M304.5 263.5h0M342.3 236.2h0M269.7 245.3h0M286.8 273.0h0M319.9 200.1h0M286.1 241.8h0M306.1 253.1h0M337.4 231.2h0M337.1 211.4h0M294.8 249.6h0M315.4 234.0h0M280.5 245.9h0M266.1 261.2h0M338.5 227.5h0M279.7 250.2h0M322.6 241.8h0M309.5 216.5h0M336.8 238.1h0M355.8 256.4h0M355.8 207.4h0M313.7 230.6h0M303.0 237.3h0M275.3 255.3h0M258.7 276.9h0M335.1 217.3h0M300.6 273.5h0M289.7 254.3h0M352.7 196.7h0M333.8 203.9h0M255.3 274.8h0M317.9 243.3h0M302.1 263.3h0M305.1 206.2h0M348.4 231.4h0M340.7 213.1h0M300.1 244.2h0M306.4 269.0h0M351.5 203.6h0M318.3 267.3h0M303.4 228.7h0M265.3 238.9h0M290.2 256.1h0M311.6 229.3h0M275.8 239.1h0M288.7 227.2h0M274.5 244.9h0M291.2 246.2h0M337.2 206.9h0M270.4 285.0h0M355.8 219.4h0M346.9 202.1h0M328.4 223.2h0M287.8 257.5h0M276.6 263.3h0M301.5 240.3h0M317.0 227.2h0M334.5 219.8h0M308.0 224.1h0M304.3 275.3h0M272.8 243.4h0M309.4 227.5h0M290.9 250.6h0M348.7 207.2h0M311.7 246.9h0M253.2 247.4h0M280.3 257.0h0M333.1 211.4h0M275.7 287.4h0M284.7 265.3h0M334.4 239.1h0M330.3 201.4h0M286.1 253.3h0M327.8 200.0h0M345.2 196.4h0M253.2 246.7h0M272.7 282.4h0M312.4 244.7h0M267.8 259.3h0M355.8 216.3h0M343.0 214.4h0M294.8 240.4h0M317.4 207.8h0M355.8 227.1h0M286.6 243.8h0M353.0 209.8h0M300.5 231.6h0M253.2 228.4h0M288.4 283.6h0M326.1 238.2h0M355.8 208.1h0M335.5 220.2h0M312.7 228.2h0M284.9 235.3h0M283.9 235.2h0M276.4 281.5h0M289.4 267.6h0M331.5 203.9h0M295.9 233.8h0M295.9 265.0h0M271.6 287.4h0M341.1 230.2h0M355.8 225.2h0M324.1 227.2h0M334.2 218.9h0M305.7 240.7h0M314.5 232.7h0M307.8 265.7h0M292.7 262.6h0M280.1 256.3h0M311.7 225.7h0M330.2 210.6h0M335.0 219.2h0M294.7 272.7h0M280.1 254.6h0M342.7 235.2h0M304.2 262.1h0M300.0 234.9h0M304.3 243.1h0M255.5 258.3h0M330.3 197.7h0M260.9 272.1h0M320.5 237.8h0M351.8 227.7h0M262.3 274.2h0M279.4 265.6h0M332.5 197.6h0M300.3 282.9h0M277.1 279.5h0M316.3 277.2h0M289.0 229.0h0M327.6 219.6h0M304.0 211.2h0M307.0 227.6h0M283.9 254.5h0M264.5 281.1h0M311.3 265.2h0M307.9 263.3h0M355.8 223.7h0M328.2 238.2h0M355.8 210.9h0M295.8 249.1h0M312.5 250.2h0M332.1 224.7h0M307.4 245.9h0M338.3 197.6h0M288.4 236.1h0M309.1 242.3h0M341.5 221.3h0M355.8 207.3h0M274.2 278.2h0M342.4 196.4h0M288.2 271.9h0M345.8 204.8h0M343.7 207.3h0M338.6 228.3h0M303.9 287.4h0M301.8 271.2h0M301.1 246.6h0M310.2 247.7h0M355.8 225.5h0M282.5 252.6h0M327.5 234.2h0M277.9 239.5h0M305.0 232.7h0M315.8 218.0h0M287.6 278.3h0M288.6 287.4h0M295.1 234.4h0M355.8 213.0h0M261.7 262.3h0M354.9 216.9h0M261.5 248.8h0M259.3 273.6h0M281.0 259.2h0M308.3 231.5h0M295.6 200.3h0M351.9 262.8h0M334.2 261.7h0M350.5 245.2h0M331.8 235.7h0M337.5 199.0h0M321.3 205.6h0M328.2 239.4h0M280.8 261.9h0M253.2 277.9h0M282.5 242.4h0M263.4 252.4h0M327.5 241.3h0M264.2 255.5h0M345.3 240.2h0M256.1 264.8h0M331.6 196.4h0M341.9 196.9h0M303.8 227.3h0M272.9 240.1h0M300.9 231.3h0M355.8 205.4h0M324.0 201.4h0M263.6 263.9h0M303.1 249.1h0M273.8 255.5h0M348.1 245.7h0M318.5 224.5h0M266.0 252.4h0M261.9 247.8h0M319.6 246.2h0M300.2 215.1h0M336.9 199.9h0M278.7 228.9h0M288.4 264.4h0M268.5 255.0h0M339.9 238.2h0M280.1 271.4h0M355.8 204.0h0M316.8 224.7h0M280.3 256.4h0M339.9 227.5h0M280.3 287.4h0M279.4 272.4h0M295.3 272.0h0M275.7 262.9h0M341.2 196.4h0M355.8 227.8h0M323.1 254.0h0M344.6 224.9h0M293.6 247.9h0M355.8 235.1h0M301.0 266.3h0M307.2 239.9h0M355.8 214.4h0M276.3 269.6h0M316.4 246.2h0M255.4 278.2h0M257.8 279.5h0M256.5 240.2h0M324.3 196.4h0M311.8 228.3h0M323.2 265.0h0M301.9 214.7h0M319.1 201.4h0M298.0 250.5h0M271.7 219.3h0M328.0 231.6h0M262.9 227.6h0M258.9 270.6h0M268.1 276.3h0M355.8 229.6h0M307.4 220.3h0M298.5 228.5h0M329.4 242.5h0M292.8 222.0h0M302.8 216.6h0M286.7 273.0h0M350.0 201.2h0M340.1 219.3h0M257.9 257.3h0M330.0 201.2h0M278.6 248.7h0M319.5 236.9h0M306.7 196.4h0M355.8 234.7h0M339.5 196.4h0M355.8 237.5h0M277.4 196.4h0M355.8 228.8h0M333.7 196.4h0M355.8 250.4h0M307.6 196.4h0M355.8 232.0h0M285.9 196.4h0M355.8 238.2h0M325.6 196.4h0M355.8 208.9h0M328.4 196.4h0M355.8 207.7h0M322.6 196.4h0M355.8 217.2h0M287.9 196.4h0M355.8 237.9h0M328.2 196.4h0M355.8 228.6h0M325.7 196.4h0M355.8 228.3h0M303.6 196.4h0M355.8 217.9h0M322.4 196.4h0M355.8 230.2h0" stroke="#bdbdbd" stroke-width="1.4" stroke-linecap="round" fill="none"/>
<path d="M261.5 284.8h0M259.9 287.0h0M262.5 270.2h0M258.5 274.6h0M256.4 287.4h0M267.0 269.5h0M261.0 277.1h0M265.9 280.3h0M278.2 283.6h0M269.2 265.3h0M257.2 280.8h0M261.2 287.4h0M253.2 282.9h0M265.6 272.6h0M258.6 274.1h0M258.9 279.3h0M258.7 278.7h0M258.2 287.4h0M264.0 270.7h0M267.6 270.5h0M261.0 276.1h0M253.2 283.5h0M261.7 283.2h0M265.5 282.0h0M257.2 287.4h0M260.6 275.5h0M264.8 284.1h0M263.4 283.2h0M264.1 269.3h0M253.2 283.1h0M263.5 282.5h0M254.7 282.4h0M264.4 271.9h0M258.5 278.6h0M260.1 286.5h0M253.4 280.7h0M255.9 281.1h0M256.7 280.5h0M259.4 278.5h0M265.3 280.3h0M269.8 279.0h0M255.1 280.0h0M256.9 278.4h0M257.4 276.5h0M264.9 284.9h0M270.1 278.7h0M253.5 282.8h0M263.0 281.9h0M260.7 285.1h0M253.2 278.4h0M253.6 282.0h0M254.1 283.5h0M256.6 287.4h0M259.7 272.0h0M264.2 281.6h0M256.4 280.5h0M267.4 280.1h0M264.6 272.5h0M275.1 275.7h0M266.6 271.7h0M265.2 280.9h0M264.4 280.8h0M254.8 282.9h0M263.5 281.7h0M259.6 287.0h0M261.8 276.9h0M259.8 287.4h0M262.6 287.4h0M258.0 287.4h0M274.1 277.3h0M265.6 283.9h0M253.4 281.7h0M259.9 272.2h0M257.5 277.3h0M261.5 284.1h0M271.1 280.2h0M253.2 283.7h0M253.2 283.7h0M259.9 276.1h0M264.9 282.9h0M255.5 287.4h0M257.4 287.4h0M253.2 284.8h0M253.6 283.2h0M257.8 287.4h0M255.6 281.5h0M264.3 284.5h0M258.9 285.4h0M264.7 287.4h0M258.2 287.4h0M259.4 285.1h0M259.1 278.2h0M263.7 282.9h0M266.4 282.9h0M259.6 286.7h0M257.0 280.8h0M261.1 287.4h0M253.2 277.2h0M253.2 283.5h0M265.8 280.8h0M259.6 268.6h0M266.3 282.9h0M253.2 284.1h0M260.3 270.9h0M261.9 274.3h0M262.1 284.9h0M253.9 282.3h0M257.1 277.8h0M256.2 287.4h0M268.9 268.3h0M257.6 287.4h0M267.3 280.1h0M265.1 273.2h0M255.8 281.7h0M253.2 285.2h0M257.0 274.5h0M269.5 281.7h0M255.7 287.4h0M272.3 277.7h0M256.9 287.4h0M266.9 280.7h0M267.1 281.9h0M258.9 287.4h0M271.0 281.5h0M259.4 286.4h0M259.4 287.4h0M263.0 284.1h0M257.3 287.4h0M268.8 281.9h0M256.9 275.6h0M261.5 275.1h0M265.6 283.2h0M266.5 279.3h0M261.5 276.3h0M258.0 272.8h0M255.5 287.4h0M257.2 274.0h0M257.0 279.5h0M260.1 275.3h0M262.1 287.4h0M268.0 269.2h0M263.4 266.6h0M259.8 275.6h0M259.2 287.4h0M255.7 275.4h0M263.7 286.6h0M261.6 274.7h0M253.2 284.4h0M274.1 283.6h0M261.7 284.0h0M256.4 280.2h0M254.5 282.3h0M259.5 286.5h0M253.3 281.2h0M258.3 287.4h0M253.2 283.8h0M264.3 280.8h0M261.8 272.7h0M253.5 276.0h0M264.5 282.1h0M256.4 287.4h0M256.2 287.4h0M256.1 287.4h0M257.4 287.4h0M264.4 282.3h0M253.2 284.1h0M263.2 281.7h0M260.7 275.4h0M266.2 280.7h0M266.9 280.3h0M253.2 280.1h0M263.3 275.0h0M262.9 282.3h0M255.7 281.7h0M268.2 269.8h0M272.1 265.7h0M256.9 287.4h0M253.2 280.3h0M271.0 276.5h0M255.3 281.0h0M264.2 268.3h0M260.1 274.2h0M262.4 275.2h0M256.8 277.5h0M253.2 285.3h0M255.1 281.1h0M253.2 285.3h0M253.2 283.3h0M258.0 277.2h0M257.2 277.5h0M253.3 283.7h0M253.2 277.0h0M259.1 278.4h0M256.9 287.4h0M257.2 287.1h0M259.6 287.4h0M253.2 279.5h0M253.5 282.5h0M267.2 282.2h0M261.3 275.9h0M260.9 275.1h0M269.3 276.6h0M253.2 278.6h0M253.2 284.8h0M274.3 273.7h0M260.9 285.1h0M255.4 280.7h0M265.2 273.7h0M263.4 283.9h0M275.8 273.8h0M253.2 284.3h0M256.6 272.4h0M253.2 283.6h0M253.2 271.7h0M261.6 272.8h0M254.2 283.0h0M268.7 284.7h0M270.8 265.5h0M253.2 284.0h0M273.7 283.4h0M256.0 287.4h0M263.3 284.0h0M253.2 283.1h0M266.3 270.3h0M255.6 287.4h0M263.8 282.2h0M262.4 284.4h0M257.3 277.1h0M261.5 287.4h0M253.2 281.6h0M272.3 276.5h0M256.1 281.0h0M267.9 285.8h0M256.8 280.2h0M260.7 287.4h0M253.2 284.8h0M256.7 287.4h0M253.2 284.3h0M264.7 283.5h0M258.4 277.0h0M255.9 280.8h0M257.2 278.7h0M256.8 281.1h0M257.3 287.4h0M257.0 277.5h0M261.8 284.7h0M256.0 281.8h0M253.2 282.1h0M257.4 287.4h0M269.8 283.7h0M259.1 278.2h0M257.2 287.0h0M259.6 286.0h0M253.2 277.1h0M263.3 281.5h0M256.5 287.4h0M255.8 287.4h0M253.2 285.5h0M257.0 287.4h0M253.2 280.4h0M253.2 280.3h0M262.0 275.5h0M266.2 281.8h0M265.3 283.1h0M253.8 283.4h0M272.5 281.2h0M269.4 277.5h0M258.7 285.7h0M255.5 280.3h0M253.2 283.1h0M257.4 287.4h0M264.3 287.4h0M256.7 287.4h0M258.0 276.1h0M261.9 284.2h0M260.5 287.4h0M255.1 280.8h0M272.1 282.4h0M256.1 281.2h0M254.9 282.2h0M258.1 279.2h0M255.6 287.4h0M265.9 279.6h0M262.8 275.2h0M261.4 285.0h0M257.1 287.4h0M271.2 287.4h0M264.8 283.7h0M263.6 282.9h0M268.3 263.4h0M268.9 277.2h0M254.4 277.7h0M259.0 276.8h0M253.6 283.2h0M253.2 276.0h0M256.5 287.4h0M263.6 283.6h0M262.1 284.6h0M253.2 284.2h0M253.2 285.0h0M271.2 274.8h0M264.0 281.9h0M256.7 280.1h0M270.7 277.9h0M261.2 275.1h0M258.0 279.6h0M253.2 282.2h0M259.3 285.1h0M253.3 283.9h0M260.1 287.4h0M256.5 280.4h0M263.7 281.5h0M259.0 278.6h0M259.4 287.4h0M253.2 281.5h0M253.7 283.6h0M270.6 283.3h0M260.8 285.3h0M259.5 287.4h0M263.0 283.8h0M256.0 279.4h0M260.6 286.2h0M270.5 284.1h0M264.2 272.4h0M255.7 277.2h0M266.0 281.9h0M274.3 273.1h0M255.6 281.6h0M257.4 287.4h0M257.7 279.6h0M269.5 283.7h0M264.6 272.6h0M262.4 276.0h0M254.7 283.0h0M254.4 275.4h0M262.9 274.4h0M265.0 280.8h0M275.0 271.2h0M257.4 287.4h0M253.2 285.3h0M257.0 277.9h0M269.2 278.4h0M253.2 283.3h0M255.8 281.6h0M265.5 271.9h0M258.4 287.4h0M270.1 279.0h0M263.5 282.9h0M257.4 286.9h0M263.1 273.0h0M258.7 278.4h0M256.4 281.3h0M261.2 287.4h0M267.0 272.1h0M268.7 264.5h0M265.8 282.2h0M257.7 287.4h0M260.0 284.7h0M261.6 275.7h0M258.8 275.2h0M264.8 273.8h0M258.6 276.8h0M264.7 282.6h0M260.2 287.4h0M256.1 277.6h0M268.3 280.9h0M259.3 277.5h0M257.1 287.4h0M257.8 287.1h0M257.5 286.9h0M264.2 283.9h0M264.4 282.9h0M253.2 285.4h0M258.6 287.2h0M264.5 280.4h0M269.8 280.3h0M271.9 277.0h0M260.1 286.1h0M257.0 280.4h0M262.1 269.9h0M259.0 277.2h0M267.7 287.2h0M271.0 281.9h0M259.9 275.7h0M253.2 282.7h0M258.6 286.2h0M258.5 287.4h0M270.8 276.3h0M253.7 283.9h0M253.2 283.9h0M270.0 281.6h0M268.5 283.1h0M257.9 287.4h0M257.1 271.5h0M253.2 284.7h0M351.2 206.8h0M344.8 201.1h0M350.5 213.3h0M346.5 211.0h0M341.2 206.2h0M340.8 219.0h0M351.2 196.4h0M348.4 197.8h0M334.9 208.2h0M355.8 199.8h0M339.0 214.6h0M343.0 202.3h0M329.9 211.6h0M343.9 211.9h0M347.3 209.5h0M349.4 198.0h0M336.1 221.9h0M348.7 213.3h0M345.7 196.9h0M354.9 200.5h0M355.8 208.7h0M335.9 202.9h0M336.8 200.4h0M339.4 200.5h0M341.9 216.0h0M344.2 217.5h0M327.6 211.2h0M342.2 203.9h0M355.8 202.5h0M353.6 202.9h0M355.8 199.3h0M341.0 202.8h0M324.3 218.4h0M344.9 209.7h0M345.2 212.6h0M350.4 208.0h0M353.0 196.4h0M349.0 198.7h0M351.5 196.4h0M334.0 210.7h0M350.2 207.2h0M332.6 202.1h0M351.1 206.6h0M350.0 208.3h0M334.0 211.5h0M313.0 217.8h0M332.8 202.1h0M338.7 196.4h0M353.1 196.4h0M354.6 202.8h0M350.7 196.8h0M342.5 204.8h0M353.1 196.4h0M351.0 196.7h0M332.4 225.1h0M351.1 196.7h0M343.6 199.8h0M333.3 210.9h0M334.9 203.1h0M350.4 205.3h0M352.7 202.7h0M355.8 200.7h0M334.5 209.8h0M350.7 197.2h0M348.0 221.0h0M355.8 199.0h0M342.5 203.4h0M355.8 202.5h0M353.6 202.5h0M346.1 199.2h0M342.5 201.8h0M345.1 202.7h0M355.8 200.7h0M338.3 221.6h0M336.8 221.3h0M355.8 203.7h0M351.8 209.7h0M350.9 211.8h0M355.8 206.4h0M342.7 200.0h0M339.5 202.5h0M332.5 201.0h0M328.4 206.7h0M348.6 206.9h0M355.8 199.5h0M349.9 214.8h0M341.3 205.5h0M340.1 205.6h0M337.5 208.5h0M342.3 196.8h0M353.3 203.5h0M344.4 200.9h0M334.3 221.6h0M355.8 199.3h0M351.9 205.2h0M344.3 211.0h0M355.8 199.0h0M340.7 206.8h0M337.0 207.4h0M355.8 200.4h0M338.5 201.8h0M341.8 204.2h0M334.8 219.9h0M321.3 233.0h0M327.3 207.5h0M355.8 203.7h0M342.4 200.7h0M339.6 214.7h0M349.1 197.3h0M331.0 201.6h0M333.1 202.8h0M345.5 209.5h0M344.1 209.7h0M350.5 213.0h0M339.8 215.8h0M345.4 196.4h0M343.3 202.1h0M331.4 200.1h0M352.1 205.1h0M351.7 196.4h0M348.4 212.5h0M338.6 200.0h0M328.8 211.0h0M347.9 200.5h0M348.4 208.5h0M339.5 214.3h0M337.7 203.7h0M339.0 201.3h0M355.1 204.5h0M343.0 211.6h0M353.1 204.7h0M335.0 197.7h0M344.4 200.6h0M347.0 211.0h0M349.5 225.5h0M348.7 208.5h0M354.9 203.9h0M355.6 210.1h0M335.7 203.3h0M343.3 225.5h0M342.8 211.8h0M349.1 207.8h0M335.2 196.4h0M350.9 203.9h0M354.5 201.5h0M349.5 217.5h0M341.2 214.2h0M349.7 196.6h0M343.4 198.3h0M350.2 197.5h0M322.6 221.9h0M333.4 208.4h0M345.3 202.4h0M341.6 218.3h0M347.9 207.9h0M349.2 207.4h0M342.0 211.9h0M342.5 201.1h0M351.5 204.1h0M355.7 204.5h0M355.8 199.9h0M346.3 223.2h0M343.4 200.8h0M334.6 210.6h0M338.3 207.6h0M343.8 201.3h0M346.2 209.5h0M316.5 219.2h0M344.4 210.0h0M350.1 209.9h0M339.7 218.0h0M333.9 207.6h0M344.9 198.5h0M355.8 201.5h0M337.1 203.0h0M331.6 201.7h0M350.1 197.9h0M322.7 215.7h0M341.2 222.9h0M352.1 208.9h0M333.4 202.5h0M346.2 214.4h0M353.7 203.1h0M349.1 207.0h0M346.8 212.1h0M350.0 208.2h0M331.8 221.8h0M340.1 224.0h0M347.6 209.8h0M350.7 206.7h0M343.2 210.9h0M334.6 208.9h0M307.3 223.4h0M343.0 204.1h0M332.5 205.3h0M338.1 208.6h0M332.7 210.4h0M347.9 209.4h0M338.2 202.9h0M336.7 208.3h0M313.4 213.3h0M341.8 213.4h0M341.0 204.0h0M345.3 201.3h0M355.8 201.1h0M338.9 206.3h0M345.1 214.6h0M349.5 206.9h0M335.9 209.6h0M334.1 218.9h0M351.2 206.7h0M348.3 212.7h0M349.5 209.8h0M343.2 203.9h0M330.7 211.4h0M347.8 196.4h0M345.8 196.4h0M347.2 217.5h0M351.1 197.3h0M339.9 204.5h0M346.9 200.2h0M340.9 214.1h0M342.1 204.5h0M341.0 218.2h0M355.8 199.9h0M354.9 201.7h0M344.1 202.2h0M338.4 202.6h0M346.3 212.4h0M354.2 205.8h0M351.1 208.7h0M349.5 205.3h0M355.8 200.0h0M344.1 203.2h0M347.4 211.5h0M324.0 211.8h0M340.4 200.6h0M347.4 208.2h0M341.4 212.9h0M355.8 205.8h0M333.2 210.6h0M339.5 214.3h0M350.1 216.9h0M346.3 211.5h0M346.0 215.1h0M349.5 216.5h0M340.9 202.2h0M348.2 198.8h0M355.3 200.4h0M351.8 196.5h0M349.9 214.6h0M334.2 204.9h0M341.3 204.0h0M349.7 196.8h0M355.2 220.2h0M348.1 207.3h0M343.9 202.3h0M350.8 196.4h0M344.9 218.1h0M339.1 223.2h0M351.7 209.4h0M342.3 201.4h0M351.5 209.0h0M352.6 202.6h0M348.2 196.4h0M350.7 196.4h0M326.1 206.7h0M353.0 196.4h0M349.4 197.3h0M355.8 206.2h0M332.8 207.7h0M344.5 201.3h0M350.8 205.0h0M331.7 203.6h0M339.5 215.6h0M351.8 205.4h0M324.7 210.6h0M342.4 201.7h0M355.8 201.0h0M327.9 210.4h0M345.0 196.4h0M344.6 213.4h0M351.9 212.3h0M355.8 211.3h0M355.8 201.3h0M352.0 206.6h0M333.8 206.4h0M332.1 210.0h0M338.1 204.7h0M343.9 199.9h0M337.8 217.7h0M355.8 210.3h0M338.2 217.9h0M347.9 209.6h0M343.3 216.9h0M336.4 208.3h0M338.7 203.4h0M323.7 214.0h0M343.7 212.8h0M348.2 199.4h0M327.1 213.4h0M327.6 225.8h0M355.8 201.3h0M352.4 196.4h0M346.5 200.4h0M355.8 200.1h0M343.3 212.9h0M345.3 202.5h0M341.5 202.6h0M341.8 204.3h0M335.7 200.4h0M340.1 203.8h0M338.7 207.1h0M346.8 196.4h0M335.4 206.6h0M341.0 216.8h0M347.0 208.6h0M328.8 213.3h0M344.9 201.6h0M333.2 208.8h0M335.5 206.9h0M350.8 211.9h0M346.5 211.5h0M352.0 215.0h0M349.2 218.8h0M344.4 202.6h0M348.2 198.6h0M352.7 196.4h0M346.7 211.0h0M332.9 202.5h0M348.9 208.1h0M341.1 205.1h0M352.9 204.2h0M350.9 203.9h0M334.9 204.4h0M346.8 200.2h0M349.2 213.1h0M338.0 222.5h0M355.1 208.1h0M349.8 212.2h0M347.3 199.6h0M355.8 210.8h0M345.0 203.0h0M350.2 205.5h0M348.0 211.1h0M347.3 214.4h0M355.8 206.8h0M353.4 201.7h0M355.8 203.9h0M352.6 203.2h0M348.7 218.5h0M355.8 206.5h0M348.7 214.0h0M338.6 205.1h0M340.2 206.0h0M340.9 202.9h0M331.0 227.2h0M336.7 203.1h0M342.4 212.9h0M339.9 201.7h0M352.0 203.1h0M329.2 207.7h0M354.9 211.7h0M326.1 208.9h0M337.4 208.5h0M336.5 202.7h0M338.3 205.3h0M336.7 207.5h0M339.7 218.4h0M349.8 209.7h0M349.9 196.4h0M338.9 208.4h0M353.7 202.7h0M343.0 201.0h0M355.3 201.2h0M335.2 210.3h0M338.3 208.7h0M327.0 228.2h0M344.8 198.0h0M351.1 196.4h0M334.0 211.8h0M344.4 220.6h0M340.9 212.6h0M338.8 201.7h0M354.9 202.6h0M333.1 212.2h0M338.6 215.9h0M339.8 201.3h0M345.9 200.2h0M345.1 216.5h0M280.0 287.1h0M296.0 244.6h0M310.6 221.0h0M349.3 227.2h0M282.2 273.2h0M274.4 248.6h0M318.9 207.4h0M337.8 196.4h0M311.4 262.6h0M262.4 253.3h0M323.3 236.2h0M306.8 220.8h0M355.8 207.8h0M311.4 218.5h0M283.7 269.5h0M354.0 205.0h0M325.0 216.3h0M333.4 201.1h0M260.7 262.9h0M303.7 227.9h0M332.6 224.4h0M289.4 272.8h0M305.0 232.4h0M333.8 221.8h0M325.1 234.2h0M306.8 212.5h0M280.6 252.4h0M318.3 239.1h0M307.8 197.5h0M322.9 237.6h0M336.6 205.4h0M299.2 252.8h0M283.8 287.4h0M331.9 201.2h0M345.4 223.6h0M334.6 196.4h0M286.0 271.6h0M298.0 239.8h0M271.0 262.6h0M298.8 241.7h0M298.7 254.4h0M295.5 254.6h0M253.2 254.4h0M323.9 213.5h0M315.8 252.8h0M281.6 256.5h0M282.6 273.2h0M310.0 244.5h0M260.0 230.6h0M316.6 224.8h0M325.0 247.0h0M355.8 233.5h0M303.0 274.0h0M331.9 236.9h0M278.4 285.7h0M342.9 201.4h0M277.0 280.8h0M314.8 215.8h0M290.1 247.6h0M262.8 266.6h0M355.6 209.6h0M271.6 262.4h0M287.7 240.3h0M305.4 269.5h0M340.5 216.0h0M331.0 225.9h0M317.4 257.7h0M326.2 196.4h0M259.3 250.4h0M355.8 226.3h0M331.2 249.4h0M342.5 231.7h0M337.0 204.8h0M325.0 216.5h0M292.4 226.7h0M308.9 251.3h0M281.5 269.3h0M306.1 230.7h0M289.9 236.6h0M306.9 262.4h0M294.3 229.7h0M303.9 263.5h0M343.2 217.5h0M261.5 266.3h0M307.6 234.4h0M336.2 218.7h0M352.8 210.4h0M261.7 252.7h0M335.5 231.6h0M309.3 252.9h0M270.5 251.3h0M328.6 239.3h0M333.4 238.8h0M295.1 216.5h0M319.9 241.5h0M322.5 234.4h0M324.0 199.6h0M344.3 197.7h0M321.7 240.0h0M313.3 270.5h0M355.8 223.9h0M305.1 221.3h0M314.8 219.7h0M313.7 263.1h0M261.1 261.0h0M304.2 273.7h0M348.8 249.2h0M332.5 227.2h0M284.9 276.9h0M289.3 263.9h0M294.7 260.0h0M317.9 216.5h0M349.6 212.2h0M287.7 241.1h0M291.9 240.7h0M306.4 259.1h0M329.1 196.4h0M287.3 252.4h0M271.6 259.9h0M283.3 225.4h0M314.5 204.1h0M331.2 206.2h0M343.4 219.8h0M283.2 236.6h0M355.8 209.6h0M281.8 248.7h0M297.1 242.0h0M305.4 206.8h0M304.0 220.1h0M331.7 242.8h0M300.8 252.4h0M303.5 221.5h0M344.2 214.5h0M291.6 248.6h0M278.7 254.0h0M345.3 199.7h0M330.8 210.3h0M342.6 217.1h0M347.9 197.9h0M306.2 249.5h0M350.7 216.7h0M274.6 277.3h0M266.5 264.5h0M295.9 254.9h0M270.1 266.0h0M278.3 287.4h0M290.1 283.8h0M342.8 238.0h0M319.1 250.4h0M336.9 205.9h0M335.9 223.4h0M255.0 261.2h0M348.9 226.4h0M295.5 254.9h0M312.3 224.7h0M292.9 247.4h0M350.4 216.7h0M285.6 250.6h0M294.8 230.4h0M267.2 259.3h0M270.7 252.8h0M334.6 205.9h0M334.5 225.8h0M274.3 230.8h0M351.6 206.4h0M344.3 232.1h0M333.0 196.8h0M317.1 216.3h0M331.6 227.3h0M321.2 212.6h0M319.7 240.1h0M355.8 210.2h0M325.5 209.7h0M321.3 248.0h0M319.4 196.4h0M330.3 228.4h0M315.8 256.4h0M330.0 226.9h0M288.0 262.5h0M286.6 274.8h0M260.9 255.4h0M329.9 208.0h0M275.5 257.7h0M305.6 248.5h0M277.1 274.8h0M293.4 240.8h0M335.1 204.4h0M342.1 221.1h0M330.1 196.8h0M297.3 236.7h0M310.7 251.9h0M331.0 204.2h0M331.8 236.1h0M319.7 214.9h0M301.7 261.7h0M348.1 211.7h0M293.8 245.3h0M268.7 266.4h0M328.1 251.8h0M303.7 234.8h0M337.6 196.4h0M340.3 196.4h0M327.6 240.0h0M300.0 261.2h0M304.1 213.7h0M277.2 281.2h0M255.1 253.1h0M274.0 254.2h0M287.2 261.9h0M253.2 260.6h0M314.0 258.2h0M273.6 278.7h0M343.6 228.8h0M282.5 254.3h0M277.4 276.8h0M323.0 215.0h0M293.4 269.5h0M340.7 243.1h0M320.7 232.9h0M320.0 233.8h0M342.4 201.1h0M335.4 222.6h0M272.5 265.5h0M299.9 263.3h0M299.8 228.4h0M303.4 274.7h0M277.3 284.0h0M308.7 273.5h0M278.6 231.3h0M306.5 229.2h0M290.8 231.5h0M313.6 229.1h0M282.6 279.3h0M329.5 240.8h0M289.1 271.9h0M283.6 266.7h0M341.3 203.5h0M269.4 243.9h0M327.4 205.1h0M307.6 220.0h0M332.9 224.8h0M332.3 208.7h0M337.5 219.2h0M314.9 246.8h0M303.6 268.3h0M355.8 215.9h0M340.5 225.8h0M309.8 225.6h0M330.4 233.3h0M332.6 239.1h0M334.7 229.7h0M296.9 254.4h0M333.7 201.8h0M272.1 263.5h0M278.1 239.0h0M301.1 233.4h0M339.7 243.4h0M314.6 218.7h0M284.1 250.3h0M317.8 223.0h0M292.4 227.7h0M280.5 254.5h0M293.9 240.4h0M263.5 273.2h0M305.8 250.0h0M321.3 222.2h0M323.3 260.9h0M269.5 279.9h0M272.6 248.7h0M307.8 255.1h0M295.8 235.8h0M307.6 209.4h0M355.8 219.7h0M264.6 259.3h0M306.7 227.2h0M287.7 287.4h0M330.2 196.4h0M257.3 261.9h0M289.5 241.4h0M281.8 249.3h0M285.2 244.9h0M257.5 263.0h0M285.7 280.9h0M294.8 255.3h0M326.7 196.4h0M296.8 267.9h0M346.6 220.1h0M271.1 276.4h0M279.9 249.8h0M304.7 198.9h0M349.1 224.5h0M305.0 248.8h0M314.4 239.2h0M264.3 262.3h0M285.2 264.7h0M294.6 240.8h0M277.6 275.1h0M321.7 202.5h0M320.8 222.5h0M304.4 220.2h0M339.9 196.4h0M293.6 221.9h0M272.9 263.1h0M300.7 262.0h0M271.6 279.3h0M292.0 225.1h0M310.5 264.7h0M346.5 198.0h0M294.4 241.9h0M348.9 211.4h0M311.3 243.9h0M289.0 263.2h0M355.0 206.7h0M302.9 234.2h0M303.8 215.7h0M352.9 231.2h0M290.3 249.8h0M353.7 216.3h0M336.0 196.4h0M253.2 260.2h0M343.9 199.7h0M307.6 243.8h0M261.2 267.9h0M287.9 267.2h0M355.8 224.1h0M303.6 236.7h0M355.2 225.9h0M336.8 218.1h0M352.4 255.8h0M311.9 217.4h0M355.8 212.1h0M342.2 213.6h0M324.3 216.1h0M313.7 228.2h0M330.4 209.8h0M289.5 266.0h0M326.7 239.2h0M307.3 215.4h0M261.7 269.5h0M317.0 244.8h0M355.8 219.5h0M343.5 212.6h0M339.6 226.7h0M347.9 231.9h0M324.6 204.1h0M326.6 253.8h0M292.2 264.6h0M297.1 269.2h0M355.8 224.9h0M330.5 196.4h0M349.7 221.7h0M337.3 228.4h0M322.7 254.5h0M307.0 251.5h0M311.1 229.6h0M346.2 198.2h0M305.8 233.9h0M322.4 219.3h0M298.0 278.6h0M274.2 278.9h0M312.9 255.4h0M271.1 262.3h0M346.3 217.7h0M355.8 213.6h0M338.3 203.5h0M290.4 271.9h0M355.8 214.6h0M278.8 251.2h0M310.3 224.4h0M276.3 255.0h0M305.7 224.1h0M322.4 209.0h0M276.0 254.3h0M349.6 216.4h0M268.5 267.1h0M327.2 235.2h0M314.8 214.4h0M328.1 227.2h0M281.8 283.3h0M351.2 220.6h0M312.0 225.0h0M320.8 208.4h0M260.4 270.2h0M351.4 210.2h0M279.6 287.4h0M296.6 224.2h0M310.5 246.0h0M287.1 287.4h0M314.5 237.9h0M355.8 218.7h0M337.5 232.3h0M275.6 246.8h0M289.6 263.3h0M288.2 225.9h0M339.6 218.2h0M332.1 253.0h0M348.1 215.5h0M339.4 196.4h0M294.0 260.2h0M256.5 259.6h0M259.9 248.4h0M312.8 244.0h0M337.9 242.8h0M319.0 255.7h0M303.0 263.4h0M355.8 244.2h0M339.8 236.8h0M319.2 216.2h0M296.1 256.9h0M355.8 218.0h0M352.3 213.7h0M271.8 261.6h0M300.4 209.9h0M344.6 216.3h0M298.7 258.1h0M314.6 246.4h0M334.6 204.5h0M323.1 212.9h0M314.9 198.5h0M264.1 259.6h0M296.1 232.1h0M355.8 206.6h0M331.7 211.4h0M330.5 209.6h0M337.9 230.9h0M299.6 236.3h0M290.4 244.8h0M303.6 230.5h0M322.9 254.1h0M296.7 259.2h0M273.8 262.5h0M274.2 263.1h0M317.0 250.6h0M281.0 255.3h0M310.2 224.3h0M355.8 211.3h0M317.0 215.8h0M333.6 223.4h0M355.8 221.9h0M309.8 223.4h0M295.9 226.9h0M275.5 226.9h0M355.8 212.3h0M330.0 196.4h0M319.4 203.4h0M294.2 259.6h0M331.0 238.7h0M333.4 206.0h0M302.6 237.3h0M253.2 248.5h0M342.3 219.4h0M330.4 230.9h0M294.0 272.2h0M339.6 224.5h0M320.5 243.0h0M288.2 250.5h0M347.5 223.0h0M274.7 259.6h0M355.8 216.3h0M271.9 256.6h0M255.4 265.7h0M320.2 210.4h0M305.6 256.8h0M301.7 238.4h0M295.6 241.3h0M318.2 239.0h0M316.0 239.9h0M355.8 206.9h0M306.6 278.3h0M290.7 259.4h0M282.0 239.1h0M258.1 266.4h0M355.8 222.0h0M302.5 250.1h0M289.1 261.9h0M272.1 262.0h0M276.2 255.5h0M282.2 272.6h0M307.8 223.0h0M276.6 239.7h0M308.9 251.2h0M304.4 264.7h0M273.1 251.8h0M303.4 231.0h0M259.9 264.8h0M326.8 227.2h0M306.7 227.3h0M296.9 234.8h0M275.9 248.6h0M299.3 217.2h0M284.4 272.7h0M305.8 249.4h0M269.4 261.3h0M316.5 259.2h0M350.0 213.9h0M261.4 271.1h0M310.9 215.0h0M317.5 237.5h0M349.7 214.0h0M342.2 215.6h0M321.8 208.8h0M333.3 246.7h0M313.6 229.1h0M318.2 239.8h0M290.0 263.4h0M338.7 196.4h0M315.6 242.8h0M280.3 283.5h0M340.5 204.8h0M290.2 244.1h0M327.8 243.5h0M307.2 211.8h0M328.1 206.5h0M270.3 259.0h0M267.4 246.2h0M281.9 276.8h0M306.7 196.4h0M254.2 256.3h0M312.3 212.7h0M322.7 196.4h0M283.0 250.7h0M257.0 266.7h0M311.2 247.6h0M264.2 247.9h0M280.1 250.9h0M297.8 263.4h0M284.5 279.7h0M351.7 216.3h0M355.8 213.2h0M287.2 270.1h0M297.1 283.2h0M305.0 203.8h0M253.2 239.2h0M276.8 286.1h0M324.0 211.1h0M340.3 196.4h0M319.8 219.2h0M290.4 249.0h0M328.2 239.4h0M311.3 223.2h0M337.9 226.5h0M317.9 220.2h0M308.5 230.1h0M355.8 228.5h0M304.3 252.9h0M290.1 249.6h0M312.8 222.3h0M308.5 243.6h0M288.4 250.6h0M307.1 218.7h0M265.1 268.9h0M277.0 261.5h0M332.3 199.5h0M283.9 265.1h0M295.8 254.2h0M313.3 240.2h0M292.8 244.2h0M311.8 219.6h0M339.0 196.4h0M342.6 219.2h0M355.8 208.6h0M298.3 255.1h0M335.2 233.0h0M280.8 276.7h0M283.3 270.9h0M295.4 255.0h0M324.5 232.0h0M292.8 287.4h0M351.5 213.9h0M346.8 224.2h0M317.3 213.8h0M341.4 202.5h0M312.3 226.3h0M299.7 274.2h0M326.3 244.3h0M278.0 247.2h0M318.9 238.8h0M349.9 220.6h0M347.1 216.0h0M328.8 215.3h0M350.6 206.0h0M349.5 237.2h0M280.1 286.4h0M290.9 235.2h0M308.1 230.6h0M351.5 213.0h0M321.6 251.3h0M290.4 270.2h0M277.2 281.1h0M340.4 196.4h0M321.3 215.2h0M278.4 248.4h0M299.8 226.3h0M339.4 228.5h0M299.0 235.8h0M321.5 208.7h0M299.4 251.9h0M325.5 233.7h0M322.5 232.6h0M314.5 197.3h0M278.9 236.9h0M339.4 196.4h0M266.1 265.2h0M324.0 231.5h0M341.5 233.6h0M280.3 245.3h0M338.5 216.6h0M347.4 229.9h0M279.6 253.0h0M292.0 246.2h0M324.5 249.7h0M303.4 236.4h0M302.1 265.4h0M310.6 211.3h0M339.0 231.9h0M340.2 237.1h0M253.2 256.6h0M310.9 259.3h0M346.6 219.1h0M293.8 222.3h0M290.6 259.7h0M295.6 256.4h0M310.1 254.6h0M328.2 226.6h0M332.6 226.7h0M342.9 203.2h0M343.9 219.0h0M285.5 241.9h0M271.7 258.5h0M262.0 268.0h0M337.6 198.4h0M263.7 251.8h0M268.1 261.4h0M336.4 225.3h0M340.4 230.4h0M300.1 260.6h0M274.6 253.1h0M325.9 196.4h0M320.2 235.8h0M305.8 211.4h0M263.9 263.3h0M274.0 264.2h0M341.0 202.0h0M298.8 219.1h0M280.0 250.0h0M321.6 243.6h0M260.6 262.5h0M333.8 196.4h0M318.9 235.0h0M288.0 264.4h0" stroke="#4f5aa8" stroke-width="1.4" stroke-linecap="round" fill="none"/>
<path d="M262.3 287.4h0M254.3 278.7h0M253.2 281.9h0M264.7 287.4h0M253.2 282.2h0M263.1 285.2h0M253.2 281.0h0M265.0 287.4h0M259.6 287.4h0M253.2 283.4h0M263.4 287.4h0M261.0 286.6h0M255.9 275.8h0M262.0 287.4h0M258.2 287.4h0M253.2 279.8h0M253.2 277.3h0M266.5 282.6h0M259.1 287.4h0M260.9 287.4h0M253.2 280.7h0M253.2 279.1h0M253.2 276.7h0M258.4 287.4h0M259.4 287.4h0M256.9 275.5h0M260.8 287.4h0M254.3 280.7h0M253.5 281.5h0M253.4 277.2h0M262.0 287.4h0M256.5 278.9h0M272.6 274.3h0M253.2 274.4h0M262.4 285.1h0M265.0 287.4h0M253.3 281.8h0M260.2 287.4h0M262.0 284.2h0M253.2 283.3h0M253.2 281.7h0M256.2 287.4h0M258.0 287.4h0M265.9 284.9h0M264.2 285.6h0M265.2 286.5h0M253.2 279.0h0M253.2 273.4h0M256.3 276.2h0M253.2 281.2h0M260.7 274.5h0M258.4 287.4h0M253.2 279.7h0M253.2 283.7h0M271.5 285.4h0M261.0 287.4h0M259.7 287.4h0M253.2 283.9h0M253.2 278.8h0M253.2 283.3h0M253.2 279.9h0M260.0 287.4h0M254.6 279.9h0M260.5 287.4h0M265.1 286.0h0M253.2 275.7h0M253.2 284.3h0M255.2 277.0h0M253.2 281.0h0M253.2 274.3h0M265.8 287.4h0M264.6 283.6h0M253.2 279.6h0M272.2 274.2h0M253.2 279.2h0M268.2 284.4h0M253.2 280.8h0M253.9 281.9h0M266.4 267.4h0M257.6 276.6h0M253.2 280.7h0M261.8 287.4h0M255.2 280.2h0M253.7 279.4h0M256.2 276.6h0M254.9 280.0h0M259.8 287.4h0M263.8 287.4h0M253.2 279.2h0M259.2 278.9h0M270.0 277.4h0M254.3 280.7h0M265.5 287.4h0M261.4 286.3h0M255.2 279.8h0M264.8 287.4h0M270.5 284.6h0M253.2 284.5h0M266.3 287.4h0M253.2 281.1h0M253.2 274.3h0M253.2 283.0h0M258.7 287.4h0M258.4 287.4h0M269.0 285.8h0M253.2 275.1h0M253.7 277.4h0M253.2 276.6h0M258.1 286.5h0M264.0 285.5h0M262.0 270.9h0M264.6 287.2h0M253.2 279.8h0M263.0 286.0h0M258.7 287.4h0M253.2 282.4h0M255.5 280.1h0M253.2 281.8h0M253.2 282.0h0M254.8 277.1h0M253.2 276.7h0M261.7 286.9h0M262.4 287.4h0M259.1 287.4h0M258.7 287.4h0M253.2 278.1h0M262.7 287.4h0M267.7 285.6h0M253.2 275.0h0M264.9 287.4h0M253.2 281.8h0M266.5 287.4h0M257.2 287.4h0M262.6 287.4h0M253.2 279.0h0M265.1 286.3h0M253.2 281.0h0M253.2 281.8h0M253.2 284.3h0M262.4 287.4h0M259.8 287.4h0M259.5 287.4h0M253.8 282.6h0M259.4 287.4h0M254.9 272.3h0M258.4 287.4h0M253.2 277.4h0M270.2 284.3h0M260.4 287.4h0M264.9 287.4h0M260.5 287.4h0M259.3 287.4h0M253.3 280.2h0M253.2 280.0h0M253.2 282.6h0M265.3 284.6h0M270.7 265.5h0M258.0 287.4h0M258.7 287.4h0M253.2 282.3h0M257.0 280.6h0M267.2 287.4h0M258.3 287.4h0M253.4 276.0h0M267.4 287.4h0M253.2 280.4h0M253.2 284.5h0M269.7 287.3h0M253.2 280.7h0M275.7 286.0h0M264.0 287.4h0M257.8 287.4h0M259.0 287.4h0M255.6 276.2h0M260.0 287.4h0M253.2 281.9h0M263.4 284.4h0M257.8 287.4h0M270.2 283.4h0M261.9 287.4h0M262.1 287.4h0M254.5 278.6h0M254.8 271.6h0M261.4 287.4h0M264.2 284.9h0M265.5 287.4h0M265.2 286.2h0M271.0 286.1h0M253.2 281.6h0M254.3 279.0h0M253.2 279.2h0M261.2 287.4h0M257.8 287.4h0M253.2 282.0h0M260.7 287.4h0M255.1 275.1h0M253.2 281.3h0M253.2 279.1h0M264.1 287.4h0M256.5 277.8h0M255.0 278.4h0M254.3 279.9h0M264.4 286.5h0M253.2 277.0h0M269.3 281.3h0M266.8 283.2h0M258.8 287.4h0M263.3 287.4h0M262.0 286.8h0M254.9 280.2h0M253.9 279.8h0M256.2 276.7h0M261.7 286.0h0M253.2 279.8h0M265.0 286.7h0M264.6 287.4h0M253.2 279.0h0M255.1 275.2h0M253.2 282.5h0M258.2 287.4h0M253.2 279.6h0M256.7 276.9h0M258.5 277.6h0M254.7 278.3h0M265.9 287.1h0M254.5 279.5h0M259.0 286.0h0M253.2 283.3h0M264.1 284.3h0M258.3 287.4h0M263.3 287.4h0M264.5 287.1h0M260.0 275.4h0M254.0 276.0h0M263.1 286.7h0M253.2 283.4h0M254.5 279.3h0M253.2 280.3h0M258.0 287.4h0M253.2 282.2h0M253.2 283.9h0M253.2 278.8h0M260.4 287.4h0M255.8 275.9h0M259.7 287.4h0M267.7 286.5h0M256.0 275.7h0M254.3 279.6h0M257.9 287.4h0M253.2 277.9h0M257.3 279.3h0M253.2 281.9h0M259.7 285.8h0M258.7 287.4h0M262.1 286.6h0M264.7 287.4h0M254.4 282.6h0M258.3 287.4h0M254.6 280.2h0M256.3 279.3h0M263.8 287.4h0M257.1 287.4h0M256.2 278.1h0M260.0 287.4h0M253.2 282.2h0M253.2 281.8h0M253.2 282.3h0M253.2 278.1h0M256.0 277.3h0M258.1 277.3h0M257.8 287.4h0M253.2 279.3h0M256.5 273.8h0M262.5 287.4h0M253.2 281.4h0M253.2 283.6h0M253.2 284.0h0M259.8 287.4h0M253.2 283.1h0M254.5 276.9h0M268.2 284.8h0M265.2 287.3h0M261.9 287.4h0M253.7 277.0h0M259.6 287.4h0M253.2 282.2h0M257.6 279.0h0M253.2 278.7h0M253.2 275.9h0M260.0 287.4h0M253.2 282.3h0M257.7 280.3h0M273.3 284.9h0M253.2 279.7h0M255.2 278.3h0M259.6 287.4h0M262.7 286.7h0M260.3 287.4h0M254.4 277.8h0M253.2 284.6h0M274.6 276.6h0M262.6 287.4h0M253.2 283.9h0M253.2 281.0h0M253.2 279.6h0M258.4 287.4h0M264.0 284.7h0M266.1 281.1h0M253.2 278.5h0M261.1 287.3h0M265.2 286.0h0M253.2 275.3h0M262.9 287.4h0M262.6 287.4h0M262.8 286.7h0M253.2 281.6h0M253.2 280.6h0M258.6 279.0h0M253.2 282.2h0M257.8 287.4h0M271.2 277.1h0M253.2 283.6h0M262.5 287.4h0M254.2 277.1h0M253.2 278.6h0M262.7 287.4h0M257.4 287.4h0M253.5 281.1h0M262.6 287.4h0M267.5 287.4h0M253.2 276.6h0M255.0 279.3h0M253.4 281.3h0M253.2 284.0h0M253.2 278.4h0M258.9 287.4h0M255.3 279.6h0M264.6 287.4h0M264.5 285.7h0M261.1 287.1h0M267.1 287.4h0M261.4 287.4h0M264.4 287.4h0M257.8 287.4h0M253.2 279.3h0M263.0 286.5h0M271.3 287.0h0M263.6 287.4h0M255.1 274.9h0M253.2 282.2h0M264.0 286.8h0M263.3 287.4h0M254.4 278.8h0M263.9 287.4h0M261.3 287.4h0M346.1 199.3h0M347.5 196.4h0M355.8 212.6h0M349.2 196.4h0M355.8 212.1h0M355.8 202.0h0M344.5 196.4h0M344.3 196.4h0M341.9 196.4h0M355.8 206.9h0M355.8 202.3h0M355.8 202.2h0M354.1 204.9h0M336.6 196.4h0M347.1 196.4h0M349.7 207.2h0M354.6 208.5h0M355.8 207.6h0M355.8 206.9h0M355.8 212.3h0M355.8 206.4h0M348.9 196.4h0M342.5 197.2h0M336.9 198.0h0M337.7 216.1h0M337.5 196.4h0M350.3 196.4h0M355.1 207.8h0M343.6 198.6h0M348.3 199.8h0M350.0 196.4h0M350.7 196.4h0M355.8 205.7h0M350.3 196.4h0M355.1 202.8h0M355.8 206.0h0M355.8 204.3h0M355.8 211.2h0M355.8 204.3h0M346.8 198.9h0M345.8 196.8h0M332.8 196.4h0M355.8 200.5h0M344.4 196.4h0M355.8 213.2h0M351.6 196.4h0M344.5 198.8h0M355.8 204.2h0M354.7 207.4h0M337.7 198.1h0M355.8 204.1h0M343.0 198.4h0M344.7 197.6h0M355.8 201.7h0M347.4 210.0h0M355.7 202.9h0M355.8 203.9h0M341.7 196.4h0M355.8 201.2h0M353.3 205.9h0M346.0 196.4h0M337.6 196.4h0M347.8 196.4h0M348.8 196.4h0M355.8 210.5h0M355.8 201.6h0M343.4 210.5h0M336.6 196.4h0M346.8 196.4h0M342.4 213.1h0M354.4 205.1h0M355.8 203.0h0M355.8 202.2h0M345.2 196.4h0M355.8 209.5h0M352.1 196.4h0M351.9 196.4h0M355.8 201.8h0M355.8 207.0h0M352.5 206.7h0M336.3 196.8h0M342.9 214.4h0M348.4 196.4h0M353.9 208.9h0M345.5 196.5h0M355.8 200.8h0M343.9 198.8h0M349.8 196.4h0M355.8 200.7h0M348.3 196.4h0M355.8 211.9h0M355.8 207.2h0M340.5 196.4h0M334.9 205.6h0M355.8 206.7h0M351.5 196.4h0M355.8 211.6h0M336.1 222.1h0M336.2 196.4h0M355.8 210.1h0M346.3 196.4h0M355.8 202.1h0M352.5 207.4h0M346.7 196.4h0M348.4 196.4h0M340.7 197.4h0M344.8 196.4h0M355.8 206.2h0M355.8 198.2h0M348.4 196.6h0M354.0 204.1h0M342.1 200.4h0M345.6 196.4h0M351.8 196.4h0M355.1 206.7h0M340.3 196.9h0M346.2 199.4h0M355.8 212.0h0M355.8 202.5h0M355.8 201.0h0M355.8 206.4h0M343.9 196.4h0M345.8 196.4h0M355.8 202.4h0M335.9 196.4h0M355.8 207.7h0M355.8 203.3h0M355.8 202.1h0M355.8 204.1h0M347.3 196.4h0M346.7 196.4h0M349.0 196.4h0M355.8 202.9h0M344.4 197.8h0M354.9 204.0h0M348.4 196.4h0M351.0 196.4h0M355.8 204.5h0M340.5 220.1h0M346.7 197.6h0M355.0 203.4h0M355.8 201.4h0M355.2 205.5h0M341.6 196.4h0M345.2 199.2h0M355.2 211.4h0M327.8 205.0h0M355.4 206.6h0M344.1 196.4h0M352.3 205.4h0M355.8 205.8h0M349.3 210.5h0M337.8 209.0h0M350.0 205.3h0M342.7 196.4h0M345.3 213.6h0M355.8 208.3h0M330.3 225.9h0M352.7 209.7h0M346.3 199.2h0M354.3 205.3h0M355.8 210.5h0M355.8 203.2h0M345.6 196.4h0M355.8 204.3h0M348.5 196.4h0M348.0 196.9h0M355.8 202.3h0M346.3 196.4h0M342.2 199.1h0M345.2 196.4h0M353.8 207.5h0M345.6 196.4h0M349.7 196.4h0M355.8 204.2h0M350.1 210.3h0M353.0 207.1h0M334.6 196.4h0M334.5 205.3h0M347.1 200.8h0M346.8 196.4h0M340.3 217.9h0M355.8 208.6h0M350.7 196.4h0M354.7 208.4h0M355.8 201.8h0M355.8 201.3h0M346.9 209.3h0M349.3 196.4h0M355.8 203.6h0M355.8 202.8h0M353.5 206.2h0M355.8 202.9h0M340.4 196.4h0M340.6 198.5h0M347.3 197.0h0M352.7 209.6h0M355.8 204.2h0M331.7 199.4h0M340.7 197.5h0M344.2 199.9h0M355.5 202.8h0M355.8 205.7h0M355.8 204.2h0M353.5 209.0h0M348.3 197.3h0M354.0 205.4h0M341.7 196.4h0M355.8 208.3h0M355.8 202.9h0M341.9 196.4h0M355.8 201.0h0M331.3 222.6h0M344.3 201.6h0M347.5 196.4h0M344.9 198.4h0M355.8 205.3h0M338.3 199.2h0M349.1 196.4h0M352.3 208.5h0M330.2 208.9h0M355.8 200.7h0M355.8 204.7h0M345.9 196.4h0M355.8 201.8h0M352.4 206.3h0M355.8 210.2h0M355.8 211.0h0M355.8 206.0h0M355.8 205.2h0M355.8 203.2h0M354.1 212.5h0M342.9 197.5h0M343.1 198.8h0M333.4 225.4h0M342.9 196.4h0M339.7 198.9h0M343.8 196.4h0M346.3 198.6h0M345.4 198.8h0M347.5 197.0h0M340.8 198.4h0M355.8 204.0h0M355.8 203.0h0M345.3 196.4h0M341.6 196.4h0M355.8 208.2h0M352.6 206.1h0M355.8 204.4h0M355.8 206.5h0M342.4 196.4h0M353.8 210.2h0M347.8 196.4h0M355.8 207.2h0M355.8 201.9h0M355.8 206.9h0M342.8 196.4h0M350.5 196.4h0M355.8 203.2h0M343.5 196.4h0M348.0 196.4h0M344.3 196.4h0M355.8 206.3h0M355.8 201.1h0M355.8 205.0h0M346.2 196.4h0M323.7 217.7h0M352.5 207.9h0M339.3 199.2h0M355.8 212.2h0M347.4 196.4h0M330.7 198.7h0M348.4 196.4h0M355.8 204.1h0M355.8 205.8h0M352.6 206.4h0M345.4 197.8h0M340.1 197.5h0M355.8 201.0h0M346.9 198.7h0M351.7 196.4h0M355.6 207.2h0M340.5 198.0h0M355.8 207.9h0M347.3 196.4h0M345.0 196.4h0M343.4 197.7h0M355.8 202.7h0M355.8 204.4h0M355.8 208.4h0M351.3 208.7h0M347.8 196.4h0M353.9 210.4h0M355.8 206.0h0M355.8 201.5h0M354.0 207.3h0M343.1 199.5h0M344.0 199.2h0M354.7 205.3h0M353.6 222.3h0M355.8 206.5h0M355.8 201.7h0M355.4 205.3h0M354.3 204.8h0M342.2 196.4h0M343.8 196.4h0M339.4 196.4h0M345.5 209.9h0M344.6 198.0h0M355.8 205.0h0M355.8 201.6h0M344.9 198.1h0M349.4 196.4h0M355.8 200.0h0M355.8 203.0h0M352.7 202.7h0M355.8 201.9h0M344.4 197.9h0M355.8 215.2h0M354.0 209.1h0M341.6 197.5h0M352.7 203.5h0M355.8 203.4h0M354.6 206.1h0M355.8 203.1h0M355.8 204.7h0M355.6 208.6h0M355.8 200.3h0M348.7 196.4h0M349.9 196.4h0M345.3 196.4h0M342.8 196.4h0M327.3 209.4h0M355.8 201.7h0M349.8 196.4h0M348.3 196.7h0M355.8 199.3h0M354.0 205.8h0M337.0 196.4h0M340.9 196.4h0M355.8 202.2h0M355.8 212.3h0M346.6 196.4h0M355.8 206.5h0M349.9 196.4h0M355.8 206.1h0M344.5 196.4h0M355.8 204.7h0M348.7 196.4h0M355.8 212.5h0M345.0 196.4h0M355.8 200.9h0M347.8 209.9h0M353.6 208.8h0M352.1 196.4h0M334.2 196.4h0M335.3 196.4h0M355.8 205.8h0M332.2 198.0h0M355.8 199.7h0M320.1 196.4h0M298.0 224.3h0M352.6 236.3h0M355.8 223.3h0M297.3 232.1h0M346.9 234.3h0M305.2 287.4h0M296.6 256.3h0M339.5 241.2h0M253.2 259.1h0M346.9 228.4h0M253.2 254.6h0M332.9 207.2h0M280.7 251.1h0M253.2 276.0h0M303.1 218.8h0M355.8 208.5h0M314.5 215.2h0M335.2 222.5h0M296.5 287.4h0M317.8 244.6h0M311.9 217.5h0M293.1 215.3h0M330.9 234.0h0M315.4 259.8h0M270.7 281.8h0M316.5 196.4h0M253.2 247.7h0M353.6 226.9h0M283.4 244.6h0M253.2 267.5h0M315.8 220.6h0M305.8 265.3h0M262.5 271.1h0M286.9 287.4h0M253.2 200.3h0M310.1 282.9h0M253.2 249.6h0M292.0 268.5h0M267.2 263.4h0M300.4 253.3h0M320.7 257.2h0M309.6 251.1h0M334.0 233.3h0M289.3 275.1h0M253.2 247.9h0M274.5 282.8h0M345.2 251.8h0M276.6 281.3h0M287.0 287.4h0M311.3 287.4h0M253.4 250.4h0M253.2 259.6h0M268.7 208.2h0M327.1 204.5h0M318.5 275.1h0M310.8 270.3h0M355.8 244.2h0M289.6 265.1h0M288.2 246.8h0M253.8 265.1h0M319.8 209.0h0M279.4 197.6h0M301.8 273.2h0M319.4 244.2h0M287.0 266.7h0M339.3 222.2h0M292.6 285.6h0M256.4 257.7h0M324.6 196.4h0M253.2 262.2h0M278.4 283.7h0M253.2 272.0h0M318.1 287.4h0M317.5 196.4h0M310.7 198.5h0M253.2 242.2h0M317.5 208.8h0M263.4 287.4h0M289.1 218.7h0M345.5 212.9h0M253.2 236.1h0M278.3 275.4h0M342.6 226.8h0M341.6 269.0h0M303.9 259.9h0M334.6 275.3h0M301.7 196.4h0M318.6 266.2h0M310.8 252.3h0" stroke="#b3304a" stroke-width="1.4" stroke-linecap="round" fill="none"/>
<path d="M275.7 266.9h0M354.5 199.5h0M292.4 237.4h0M328.7 220.8h0M261.4 281.2h0M276.6 268.7h0M347.1 203.9h0M329.6 220.2h0M256.2 283.1h0M275.2 267.7h0M352.2 200.1h0M272.9 267.9h0M351.1 203.0h0M335.3 216.5h0M258.2 282.8h0M271.6 270.8h0M325.0 227.7h0M339.5 210.3h0M268.1 274.3h0M325.9 223.2h0M350.2 199.9h0M270.9 271.5h0M256.6 281.9h0M322.4 211.2h0M354.3 198.2h0M276.7 265.9h0M327.8 217.3h0M352.9 203.6h0M297.1 264.3h0M282.3 262.8h0M262.9 279.0h0M267.2 272.7h0M355.6 196.4h0M341.3 209.0h0M261.2 281.6h0M266.7 276.3h0M345.4 202.4h0M328.9 220.0h0M354.8 198.3h0M305.7 254.9h0M340.6 211.2h0M350.8 200.0h0M339.7 212.0h0M262.1 279.4h0M258.7 284.3h0M343.4 205.7h0M263.3 277.9h0M351.5 199.8h0M277.3 265.8h0M349.1 203.6h0M275.0 268.3h0M345.8 204.4h0M351.3 202.3h0M316.0 243.5h0M331.1 234.2h0M277.6 265.5h0M273.1 269.9h0M280.0 265.2h0M345.1 203.9h0M269.7 273.1h0M336.4 209.0h0M347.4 204.2h0M330.2 218.9h0M338.6 212.7h0M277.5 266.7h0M272.5 275.4h0M273.1 269.5h0M253.8 285.6h0M259.9 281.0h0M258.7 282.4h0M258.1 285.3h0M271.3 271.2h0M344.1 203.7h0M295.2 250.1h0M339.0 212.2h0M256.0 284.7h0M264.7 279.0h0M338.5 212.8h0M345.0 206.3h0M270.4 271.8h0M355.1 197.6h0M325.3 223.9h0M313.8 238.2h0M280.8 263.2h0M266.4 275.6h0M336.3 213.0h0M353.4 199.0h0M340.5 210.3h0M262.5 278.2h0M302.9 244.6h0M321.4 234.7h0M350.3 201.0h0M310.0 240.9h0M331.5 216.0h0M267.1 271.6h0M267.8 274.5h0M271.8 270.9h0M334.5 215.7h0M263.7 278.4h0M263.8 277.1h0M342.9 207.3h0M281.3 262.3h0M341.0 208.1h0M270.8 271.6h0M345.5 207.3h0M265.1 276.6h0M331.3 218.6h0M334.5 207.3h0M338.5 212.0h0M328.6 219.1h0M270.5 272.8h0M313.2 234.0h0M327.0 221.7h0M344.6 204.8h0M312.3 208.3h0M326.7 222.6h0M332.5 218.3h0M330.1 220.8h0M346.1 202.7h0M257.6 282.5h0M254.2 285.9h0M258.2 281.4h0M275.9 267.0h0M263.1 279.0h0M267.9 273.7h0M326.4 225.4h0M330.1 240.7h0M272.3 270.5h0M310.1 237.4h0M256.5 283.1h0M291.6 253.9h0M345.5 206.1h0M319.5 224.7h0M260.4 280.8h0M340.2 210.9h0M320.9 215.5h0M265.4 270.7h0M266.0 277.6h0M345.4 205.4h0M264.3 277.9h0M290.9 260.2h0M257.7 283.9h0M344.8 205.9h0M341.4 210.0h0M270.9 271.8h0M257.9 285.5h0M256.1 282.8h0M325.4 224.0h0M280.9 263.4h0M256.6 285.0h0M271.2 274.4h0M329.4 219.3h0M279.8 260.5h0M298.2 239.6h0M350.5 205.4h0M345.0 204.6h0M281.8 261.1h0M317.4 221.6h0M330.0 219.2h0M260.9 280.0h0M283.4 261.1h0M261.6 279.4h0M346.9 203.9h0M353.7 197.8h0M266.4 275.6h0M333.2 216.5h0M255.9 287.4h0M264.4 278.2h0M259.1 279.7h0M327.0 222.5h0M258.8 283.1h0M293.7 249.2h0M253.6 284.9h0M301.4 237.6h0M269.2 272.6h0M306.1 235.6h0M343.2 207.2h0M312.0 241.3h0M271.3 272.2h0M352.7 198.4h0M266.9 275.0h0M288.2 261.7h0M331.2 216.0h0M262.8 281.0h0M263.7 281.4h0M258.7 281.1h0M326.4 222.3h0M255.9 284.4h0M262.9 278.8h0M345.7 206.4h0M343.5 208.7h0M354.1 197.4h0M346.7 204.6h0M256.4 283.1h0M270.9 272.3h0M257.6 279.7h0M342.0 208.4h0M289.5 254.6h0M354.5 198.0h0M264.6 277.7h0M254.3 287.4h0M328.4 221.5h0M258.6 282.8h0M350.0 202.4h0M281.1 254.4h0M267.0 275.6h0M355.0 199.2h0M256.6 284.8h0M336.7 211.2h0M307.0 230.1h0M280.6 263.6h0M272.5 267.9h0M264.2 277.7h0M261.2 280.9h0M350.5 200.4h0M258.1 284.0h0M339.8 210.1h0M326.2 221.5h0M331.0 218.2h0M352.0 200.5h0M277.9 265.6h0M271.2 271.3h0M293.7 252.5h0M264.9 276.9h0M275.9 269.1h0M352.7 197.8h0M346.5 206.1h0M271.7 271.4h0M341.1 209.5h0M287.6 253.1h0M276.7 266.7h0M333.9 216.5h0M327.2 221.7h0M353.3 199.8h0M350.9 200.9h0M314.9 248.1h0M331.8 216.7h0M253.4 287.4h0M259.2 283.0h0M344.7 207.7h0M256.8 284.6h0M337.1 214.0h0M331.7 218.0h0M280.5 262.6h0M317.7 229.5h0M315.6 239.8h0M352.1 199.8h0M270.0 273.4h0M334.4 215.6h0M330.2 218.0h0M267.4 279.0h0M274.2 271.4h0M273.4 270.0h0M312.5 251.8h0M354.9 197.9h0M280.9 261.4h0M321.8 221.5h0M275.8 272.3h0M261.4 277.8h0M326.8 214.7h0M349.9 201.2h0M355.2 198.2h0M282.7 260.9h0M273.5 267.8h0M267.6 275.2h0M303.4 258.5h0M264.3 276.7h0M273.8 268.4h0M282.7 261.0h0M347.3 204.1h0M266.9 278.3h0M353.2 198.6h0M262.9 280.1h0M342.7 208.0h0M284.2 253.6h0M302.3 254.4h0M317.9 223.6h0M300.0 242.0h0M342.5 209.6h0M281.5 247.7h0M325.1 223.5h0M282.5 267.8h0M265.1 277.1h0M353.2 198.8h0M267.4 274.2h0M346.0 204.8h0M255.5 286.5h0M271.0 270.8h0M345.0 206.2h0M332.9 218.0h0M279.6 263.1h0M284.9 260.9h0M352.0 198.9h0M282.5 260.3h0M332.0 218.1h0M261.8 279.4h0M328.6 220.1h0M286.8 247.8h0M352.2 199.5h0M354.5 197.4h0M257.3 283.6h0M324.9 221.9h0M298.3 249.3h0M276.3 265.6h0M296.6 231.6h0M265.0 277.7h0M265.1 277.5h0M282.5 260.7h0M312.2 236.2h0M328.6 219.5h0M274.1 267.4h0M268.7 273.6h0M277.1 265.3h0M290.4 250.3h0M254.0 286.9h0M353.0 198.0h0M269.8 273.2h0M355.8 197.7h0M258.2 282.7h0M275.9 267.4h0M264.8 276.5h0M278.9 264.9h0M296.1 261.6h0M299.5 245.8h0M262.7 279.8h0M332.9 216.3h0M333.7 216.2h0M344.6 206.9h0M272.5 270.2h0M338.2 211.4h0M330.4 218.8h0M342.2 208.3h0M256.9 282.8h0M326.7 223.0h0M256.9 284.3h0M260.6 281.9h0M327.8 220.1h0M259.2 280.6h0M272.6 269.2h0M324.6 233.7h0M328.7 220.4h0M254.3 287.4h0M340.5 209.2h0M277.5 269.6h0M350.2 201.1h0M255.4 285.1h0M272.5 270.6h0M306.8 245.5h0M339.7 212.3h0M284.7 266.6h0M269.2 272.3h0M338.3 212.6h0M350.8 200.9h0M287.4 252.7h0M333.6 216.9h0M329.1 220.9h0M334.9 214.1h0M342.6 207.4h0M354.3 200.1h0M332.6 216.2h0M263.2 278.3h0M337.6 212.4h0M327.0 222.1h0M349.1 201.9h0M340.2 209.5h0M255.2 284.2h0M261.7 279.1h0M353.8 197.6h0M256.3 284.6h0M256.0 285.3h0M342.1 209.2h0M283.0 260.7h0M260.7 282.6h0M272.8 270.2h0M334.8 214.6h0M260.3 283.9h0M340.3 211.8h0M268.2 273.4h0M329.7 219.8h0M343.1 206.7h0M275.7 270.4h0M355.8 198.3h0M268.1 270.1h0M279.3 263.8h0M320.1 219.6h0M285.4 251.1h0M321.9 217.2h0M270.9 270.8h0M267.5 273.4h0M295.6 264.2h0M329.5 220.4h0M328.7 220.0h0M348.3 203.0h0M334.7 215.2h0M346.1 206.3h0M335.1 214.0h0M340.7 210.0h0M330.5 219.9h0M253.2 287.2h0M327.1 223.2h0M267.7 274.1h0M351.1 200.2h0M339.7 213.3h0M260.6 281.5h0M255.1 287.3h0M341.0 210.4h0M262.7 279.1h0M277.0 267.1h0M274.0 268.4h0M329.4 219.6h0M254.6 286.0h0M266.9 275.6h0M339.8 210.8h0M348.7 202.8h0M279.4 265.1h0M344.5 207.3h0M342.7 205.8h0M288.3 256.7h0M287.8 250.9h0M294.9 246.4h0M275.8 267.7h0M352.4 199.1h0M332.1 218.1h0M253.7 286.4h0M277.1 266.7h0M349.4 203.6h0M353.1 198.5h0M345.7 206.1h0M347.3 204.5h0M260.8 280.5h0M348.5 202.5h0M335.7 213.2h0M317.4 234.2h0M253.4 286.3h0M296.3 248.2h0M282.6 261.2h0M334.9 214.6h0M254.1 287.0h0M314.7 232.4h0M339.4 211.8h0M344.0 207.3h0M266.8 275.4h0M332.3 217.6h0M297.2 228.7h0M323.3 228.5h0M337.7 212.7h0M279.5 264.0h0M329.2 220.7h0M256.4 285.7h0M255.2 287.0h0M267.9 274.8h0M298.1 245.4h0M322.2 225.9h0M280.4 256.5h0M333.7 215.4h0M327.5 221.1h0M259.8 281.9h0M343.8 210.8h0M275.2 269.5h0M274.6 264.8h0M278.2 261.5h0M269.3 274.0h0M343.2 208.7h0M265.5 276.2h0M258.1 284.6h0M264.1 277.1h0M271.1 271.1h0M325.8 222.2h0M329.6 217.6h0M318.7 231.4h0M314.9 222.7h0M286.1 256.1h0M340.2 209.3h0M280.0 264.9h0M305.6 247.5h0M341.7 204.7h0M276.3 265.1h0M280.0 264.3h0M329.0 220.2h0M262.5 280.5h0M289.9 245.0h0M319.1 233.1h0M272.4 271.0h0M336.5 212.4h0M333.1 217.6h0M280.9 262.8h0M334.8 215.6h0M347.4 200.9h0M305.6 243.0h0M272.1 263.4h0M349.2 202.1h0M263.6 274.4h0M354.5 198.1h0M263.2 276.3h0M347.0 202.8h0M333.3 217.1h0M278.6 260.8h0M340.0 210.2h0M279.1 254.9h0M348.3 204.4h0M342.6 208.9h0M255.8 283.1h0M298.3 244.1h0M289.4 252.5h0M339.6 210.1h0M263.8 279.2h0M263.6 279.3h0M334.8 216.2h0M254.9 287.3h0M285.9 261.4h0M276.4 270.6h0M332.8 225.1h0M346.2 202.2h0M347.1 203.3h0M280.5 264.0h0M275.5 273.2h0M269.4 272.0h0M267.4 274.0h0M279.2 264.7h0M272.8 269.0h0M262.4 280.3h0M257.2 283.6h0M270.4 272.0h0M325.5 223.0h0M261.9 279.0h0M293.4 250.2h0M327.9 221.9h0M253.3 286.3h0M278.4 258.6h0M306.7 247.4h0M258.2 283.6h0M270.4 273.3h0M354.6 197.7h0M273.7 269.4h0M274.7 269.1h0M273.4 268.7h0M347.0 204.5h0M324.9 239.2h0M255.1 285.7h0M269.7 273.4h0M349.6 203.8h0M270.4 271.7h0M335.2 215.1h0M341.1 223.9h0M341.4 208.8h0M315.3 254.0h0M273.9 267.6h0M327.2 222.1h0M280.6 261.8h0M277.2 266.6h0M274.3 269.7h0M355.6 197.8h0M268.7 274.2h0M353.0 201.4h0M268.3 273.5h0M333.5 216.1h0M336.3 213.3h0M280.1 262.3h0M263.3 278.5h0M263.6 274.9h0M284.2 257.6h0M262.0 281.6h0M320.5 232.6h0M261.4 280.0h0M331.0 213.5h0M341.4 208.6h0M334.7 214.9h0M338.1 212.2h0M273.6 258.2h0M350.0 201.6h0M294.7 268.4h0M329.4 219.4h0M342.1 208.6h0M269.0 273.0h0M262.3 278.5h0M277.3 266.3h0M293.0 245.8h0M343.9 206.6h0M274.2 269.3h0M258.2 283.8h0M265.8 276.6h0M335.4 214.5h0M288.7 261.8h0M339.9 210.5h0M260.3 278.2h0M330.0 225.8h0M341.9 204.3h0M300.4 251.8h0M343.2 207.4h0M302.3 235.9h0M288.3 237.5h0M277.9 266.5h0M349.4 200.2h0M334.6 215.9h0M334.2 214.2h0M347.8 204.2h0M287.1 266.6h0M327.1 223.4h0M263.7 277.8h0M264.4 277.0h0M287.9 243.1h0M353.9 198.4h0M342.5 206.3h0M348.0 203.0h0M267.9 274.5h0M279.2 270.5h0M253.9 281.4h0M266.2 276.4h0M335.4 218.1h0M353.6 198.3h0M298.7 244.2h0M261.7 278.7h0M272.4 271.3h0M339.6 210.8h0M338.2 211.5h0M272.4 272.2h0M346.8 204.1h0M254.1 284.4h0M335.1 214.7h0M321.0 225.3h0M267.1 275.9h0M332.7 218.5h0M331.3 219.2h0M345.7 207.6h0M274.5 267.5h0M308.4 223.9h0M335.0 214.9h0M344.8 205.4h0M270.7 272.2h0M265.6 278.5h0M271.0 270.5h0M355.5 196.8h0M266.6 276.3h0M342.6 207.9h0M353.4 202.4h0M271.4 271.4h0M256.2 283.8h0M256.6 283.4h0M348.0 203.2h0M334.7 221.5h0M323.1 227.8h0M318.3 237.7h0M342.8 207.3h0M338.5 211.8h0M262.4 279.1h0M280.6 262.1h0M269.0 274.1h0M261.9 280.6h0M336.7 212.9h0M274.3 268.6h0M339.9 210.2h0M276.7 267.2h0M338.0 212.0h0M279.7 264.0h0M330.8 218.3h0M335.7 215.2h0M344.4 205.8h0M257.1 284.0h0M327.0 221.6h0M351.3 201.5h0M276.6 267.0h0M283.2 260.3h0M344.2 203.4h0M332.3 224.6h0M343.2 207.4h0M342.6 207.0h0M274.6 269.6h0M292.9 254.5h0M296.5 236.0h0M334.5 214.8h0M269.3 272.9h0M271.1 272.5h0M327.3 220.4h0M324.7 222.9h0M343.3 206.7h0M257.3 284.8h0M347.2 204.6h0M281.9 261.8h0M258.4 280.5h0M274.1 270.1h0M337.6 213.8h0M312.7 232.0h0M279.3 270.3h0M329.6 219.9h0M333.2 216.7h0M283.2 260.5h0M278.2 264.0h0M298.9 249.4h0M280.0 265.7h0M340.9 209.2h0M278.1 263.2h0M255.3 285.2h0M261.0 280.4h0M354.5 198.2h0M331.6 217.1h0M339.5 211.2h0M261.1 280.3h0M347.2 204.8h0M254.2 286.6h0M270.7 271.1h0M289.0 234.1h0M346.9 205.6h0M283.8 260.0h0M282.6 262.2h0M271.9 271.3h0M281.6 261.1h0M355.5 196.4h0M288.5 257.0h0M342.2 208.5h0M265.3 275.0h0M328.8 218.9h0M257.0 283.6h0M344.5 205.5h0M333.8 216.9h0M265.7 277.7h0M277.2 265.0h0M255.6 285.0h0M331.6 216.8h0M297.6 258.1h0M343.6 207.0h0M291.6 258.8h0M255.2 285.6h0M351.2 199.6h0M270.8 272.4h0M259.2 283.0h0M300.5 248.7h0M344.9 206.3h0M269.9 272.0h0M308.9 251.1h0M336.1 213.2h0M270.7 272.2h0M348.8 204.3h0M323.4 225.7h0M260.0 280.4h0M350.7 199.6h0M336.4 213.5h0M330.6 214.7h0M337.3 212.9h0M342.8 206.9h0M304.1 252.2h0M328.5 218.5h0M344.3 205.3h0M317.2 216.5h0M338.6 211.7h0M281.9 262.3h0M350.9 200.7h0M353.7 198.1h0M338.0 211.9h0M260.3 281.0h0M339.1 212.7h0M265.8 277.0h0M282.7 261.1h0M329.6 220.4h0M281.3 263.8h0M327.5 222.1h0M270.4 272.7h0M344.2 206.2h0M337.3 213.2h0M337.5 216.0h0M340.3 210.4h0M355.6 197.0h0M261.5 279.2h0M283.1 261.1h0M344.3 207.2h0M274.4 269.6h0M278.0 264.4h0M271.5 272.3h0M355.5 196.4h0M259.9 280.3h0M290.7 265.1h0M257.2 283.7h0M265.9 272.3h0M261.4 278.3h0M334.1 216.7h0M335.1 214.2h0M348.5 203.5h0M348.3 203.3h0M282.5 261.0h0M283.8 263.2h0M329.8 218.6h0M256.1 286.7h0M272.5 269.2h0M264.4 277.7h0M347.5 203.6h0M273.3 268.3h0M348.7 203.7h0M337.1 212.2h0M349.9 201.2h0M265.1 276.9h0M284.1 260.7h0M346.4 198.4h0M280.1 275.2h0M257.9 282.3h0M340.4 210.5h0M282.4 261.1h0M342.9 207.4h0M355.6 196.5h0M342.0 209.7h0M281.2 253.0h0M322.0 231.7h0M344.8 207.1h0M272.1 270.6h0M280.4 262.2h0M347.7 204.5h0M304.0 243.2h0M331.8 217.1h0M350.8 201.0h0M318.7 228.1h0M336.2 214.2h0M349.2 202.5h0M342.4 208.4h0M295.1 250.6h0M258.5 278.8h0M274.6 268.7h0M345.0 206.7h0M354.2 197.5h0M338.7 214.3h0M333.8 216.5h0M342.4 208.6h0M354.5 197.7h0M334.1 215.7h0M264.1 278.2h0M261.7 279.1h0M270.0 270.4h0M255.8 282.9h0M344.2 205.5h0M257.4 284.5h0M305.7 235.2h0M286.0 262.1h0M306.0 260.2h0M334.5 214.9h0M335.4 214.1h0M354.1 198.3h0M263.4 278.7h0M271.4 270.0h0M278.3 265.4h0M259.3 282.3h0M297.1 255.6h0M254.9 287.2h0M263.6 276.6h0M275.2 268.8h0M261.7 279.9h0M338.2 212.2h0M259.6 282.4h0M268.1 273.7h0M276.7 266.5h0M350.6 200.3h0M274.3 278.7h0M333.5 214.4h0M345.1 203.5h0M282.0 270.1h0M318.0 239.3h0M271.1 273.0h0M351.6 200.3h0M254.6 286.4h0M268.0 274.3h0M350.7 201.0h0M276.3 268.2h0M259.6 281.1h0M259.7 282.3h0M339.6 210.8h0M272.1 272.2h0M260.2 280.6h0M259.4 286.8h0M256.0 285.6h0M331.6 215.8h0M281.4 262.1h0M276.6 265.9h0M259.4 282.7h0M344.7 205.6h0M351.2 201.4h0M347.0 203.7h0M259.1 282.3h0M282.1 267.4h0M344.3 205.5h0M280.7 263.5h0M308.3 229.0h0M265.0 277.2h0M334.8 226.5h0M325.4 222.6h0M261.3 280.2h0M286.8 255.4h0M269.3 272.7h0M346.0 205.3h0M313.0 242.4h0M341.6 207.3h0M293.4 255.4h0M301.2 257.7h0M292.0 248.3h0M258.8 283.2h0M338.5 212.8h0M259.4 278.8h0M275.5 266.9h0M340.5 209.7h0M257.4 284.0h0M344.8 205.1h0M337.2 212.2h0M254.8 285.7h0M346.0 203.9h0M354.2 198.5h0M283.7 259.5h0M296.3 241.6h0M327.5 222.0h0M352.8 199.0h0M341.0 208.7h0M328.5 213.1h0M345.4 206.8h0M259.8 280.2h0M266.1 275.4h0M274.3 267.9h0M271.9 270.5h0M330.1 212.6h0M279.7 257.9h0M260.1 281.0h0M345.3 206.5h0M278.8 264.2h0M353.2 199.4h0M255.1 285.9h0M350.1 200.1h0M278.4 265.8h0M303.4 229.6h0M257.7 281.8h0M343.9 206.6h0M271.5 269.6h0M334.8 215.2h0M319.0 218.6h0M259.2 281.8h0M281.2 262.3h0M351.9 201.2h0M264.9 277.7h0M333.4 217.0h0M316.9 240.8h0M353.2 200.2h0M344.5 203.4h0M350.5 202.1h0M331.7 217.4h0M328.6 217.2h0M269.1 273.7h0M279.3 264.5h0M256.9 282.7h0M329.5 219.6h0M254.0 286.6h0M349.8 201.8h0M253.2 284.4h0M263.7 274.5h0M258.4 283.5h0M262.7 278.6h0M335.1 214.0h0M259.1 282.4h0M353.6 198.4h0M268.4 275.0h0M274.6 267.6h0M265.6 276.5h0M260.9 281.1h0M343.1 210.0h0M345.8 201.2h0M275.6 266.7h0M333.5 215.5h0M291.3 251.5h0M294.8 265.3h0M333.1 215.1h0M338.3 211.1h0M348.0 203.1h0M353.7 198.7h0M342.1 210.3h0M349.0 201.0h0M280.3 262.7h0M320.8 236.0h0M293.0 261.8h0M278.7 265.2h0M334.2 214.9h0M276.6 266.9h0M340.4 209.6h0M273.0 271.3h0M325.0 222.6h0M265.5 275.4h0M338.4 211.3h0M344.4 205.9h0M253.4 286.9h0M334.3 215.5h0M346.8 205.4h0M342.3 207.5h0M342.4 208.9h0M328.4 220.9h0M306.9 220.5h0M297.4 241.6h0M305.8 246.3h0M283.3 261.0h0M275.1 267.0h0M351.0 199.6h0M325.9 222.4h0M345.9 209.0h0M322.8 232.6h0M271.7 276.6h0M262.8 279.9h0M331.9 225.1h0M337.8 213.0h0M332.1 217.8h0M312.5 248.5h0M347.8 202.3h0M265.2 276.8h0M350.8 201.0h0M288.9 236.6h0M343.2 207.2h0M339.0 210.3h0M339.8 211.7h0M254.1 286.3h0M271.8 271.0h0M289.4 255.7h0M264.9 276.9h0M345.7 203.8h0M319.6 235.1h0M349.0 201.9h0M262.6 278.5h0M337.8 212.4h0M355.1 197.3h0M334.9 213.8h0M264.5 284.0h0M354.6 196.4h0M339.5 210.6h0M309.5 245.0h0M347.8 203.5h0M327.8 240.5h0M353.0 200.0h0M290.7 244.0h0M334.7 208.9h0M272.1 269.1h0M344.7 206.8h0M268.8 273.0h0M337.7 212.3h0M279.8 264.8h0M350.1 200.6h0M323.1 238.8h0M271.9 269.4h0M333.0 215.4h0M267.2 275.8h0M262.1 280.7h0M327.8 219.5h0M344.8 211.2h0M271.6 270.7h0M329.5 219.3h0M286.4 262.8h0M279.0 266.4h0M299.3 259.3h0M271.6 271.4h0M337.1 219.5h0M327.2 221.7h0M344.2 206.7h0M262.5 279.3h0M277.6 264.6h0M317.4 231.4h0M264.1 276.9h0M255.9 282.9h0M338.1 212.2h0M260.6 280.3h0M349.1 202.5h0M327.3 220.5h0M270.7 272.0h0M281.4 260.4h0M309.4 240.8h0M330.1 218.2h0M288.4 264.7h0M351.8 199.3h0M343.1 207.7h0M260.5 280.8h0M256.8 284.0h0M284.1 256.2h0M352.6 198.1h0M273.3 271.5h0M353.8 198.7h0M347.4 203.3h0M263.7 278.6h0M332.9 216.1h0M276.1 267.1h0M259.1 281.0h0M296.2 232.7h0M340.2 210.7h0M343.5 207.2h0M337.2 213.1h0M294.8 259.5h0M352.3 200.7h0M345.1 206.0h0M332.3 216.3h0M272.0 271.7h0M253.2 283.6h0M271.5 270.8h0M280.3 263.4h0M260.2 281.9h0M329.5 218.9h0M355.0 198.6h0M323.0 225.8h0M352.2 199.2h0M345.9 205.5h0M335.3 214.9h0M254.2 286.9h0M265.4 275.7h0M254.0 287.1h0M295.1 257.5h0M348.1 203.6h0M271.6 270.9h0M283.4 261.3h0M265.0 273.6h0M271.8 269.9h0M342.9 207.5h0M270.7 272.2h0M337.3 211.2h0M253.2 285.7h0M297.1 244.5h0M264.9 277.6h0M347.2 202.2h0M282.6 261.5h0M269.7 275.5h0M296.3 254.7h0M290.0 258.7h0M279.6 262.8h0M340.8 215.2h0M317.5 237.9h0M261.4 280.3h0M332.2 217.2h0M302.1 250.9h0M344.6 206.4h0M273.0 268.8h0M269.7 271.5h0M286.0 258.4h0M270.5 272.5h0M346.8 204.3h0M268.2 269.9h0M275.0 267.4h0M340.1 206.9h0M272.7 273.1h0M327.6 222.4h0M270.8 276.2h0M291.6 241.7h0M254.2 287.4h0M259.5 282.3h0M280.6 239.9h0M353.1 197.7h0M328.7 220.1h0M291.6 260.8h0M344.8 205.1h0M283.4 259.8h0M269.3 273.4h0M320.7 230.1h0M281.7 263.0h0M273.8 268.1h0M283.2 261.7h0M327.2 221.3h0M344.8 206.2h0M335.7 214.3h0M263.8 276.0h0M342.5 217.4h0M338.8 211.9h0M343.6 204.4h0M328.5 220.0h0M311.4 220.4h0M341.6 208.1h0M329.0 219.6h0M278.7 265.6h0M254.6 286.3h0M260.0 281.6h0M266.3 276.1h0M260.9 281.7h0M327.7 222.5h0M254.4 287.0h0M317.4 227.4h0M347.2 205.1h0M282.6 261.3h0M253.8 286.4h0M269.4 272.6h0M274.1 267.8h0M349.7 202.0h0M273.9 269.4h0M295.7 257.5h0M283.0 261.8h0M276.1 265.5h0M355.4 196.9h0M271.5 269.9h0M335.5 214.1h0M255.7 284.4h0M260.2 281.5h0M354.8 198.1h0M322.4 220.9h0M278.7 263.8h0M325.7 223.0h0M264.5 276.9h0M331.4 217.6h0M279.8 263.7h0M272.3 270.3h0M338.8 210.8h0M350.0 205.2h0M355.8 198.7h0M272.2 271.1h0M339.0 212.2h0M327.8 219.2h0M348.4 202.9h0M337.3 209.7h0M337.0 209.5h0M344.4 220.8h0M264.0 276.8h0M355.6 197.0h0M265.7 275.4h0M346.7 205.2h0M254.0 285.6h0M329.0 228.9h0M296.9 246.1h0M275.0 267.8h0M350.6 199.9h0M335.6 219.5h0M327.6 219.6h0M342.1 207.8h0M338.1 212.4h0M340.6 210.1h0M261.1 280.3h0M333.2 216.1h0M338.3 213.0h0M264.2 277.2h0M267.7 275.2h0M282.7 261.4h0M302.6 255.0h0M272.4 270.2h0M330.9 220.7h0M320.0 220.5h0M268.8 273.7h0M322.9 232.9h0M338.5 210.8h0M345.6 205.8h0M345.3 206.2h0M346.5 209.5h0M268.9 274.0h0M348.1 205.1h0M295.2 259.6h0M283.8 265.0h0M329.5 220.1h0M353.5 198.3h0M267.4 274.4h0M281.7 261.9h0M337.6 213.1h0M329.3 219.9h0M259.2 282.2h0M264.3 279.2h0M328.0 221.0h0M333.3 217.1h0M351.3 200.6h0M255.2 285.1h0M262.8 279.1h0M333.4 216.6h0M275.2 267.5h0M345.9 204.6h0M326.3 223.2h0M340.1 209.8h0M258.5 283.4h0M316.1 228.6h0M338.4 213.4h0M354.3 197.2h0M330.9 218.9h0M348.9 202.0h0M329.5 219.3h0M270.1 269.9h0M274.4 267.1h0M346.4 204.7h0M274.3 268.3h0M342.5 206.8h0M346.2 204.7h0M354.0 199.7h0M327.3 221.1h0M338.0 204.6h0M328.8 219.4h0M293.9 260.9h0M345.0 207.3h0M280.0 264.4h0M351.5 200.8h0M265.3 276.4h0M327.8 221.3h0M283.1 257.4h0M278.2 266.4h0M282.0 260.7h0M262.7 278.2h0M281.7 260.9h0M276.2 266.0h0M267.0 265.2h0M325.8 220.5h0M301.2 253.6h0M355.8 198.1h0M276.4 267.3h0M318.5 225.9h0M254.1 283.1h0M260.4 281.1h0M260.0 281.4h0M272.0 270.8h0M262.6 280.0h0M276.0 267.2h0M333.0 216.2h0M341.7 208.2h0M350.5 200.7h0M354.9 196.4h0M340.4 210.1h0M332.6 214.8h0M355.0 197.9h0M345.4 204.6h0M343.8 203.9h0M352.0 199.8h0M268.6 274.4h0M344.0 207.9h0M344.2 206.0h0M273.9 269.4h0M268.7 274.5h0M256.6 284.3h0M331.4 228.8h0M326.1 222.8h0M353.8 199.1h0M277.4 265.4h0M347.4 202.7h0M260.6 281.2h0M345.7 205.0h0M277.6 266.0h0M343.8 206.0h0M283.9 262.7h0M336.3 213.1h0M353.1 203.4h0M257.3 284.6h0M346.1 203.9h0M265.8 276.2h0M290.8 258.7h0M260.9 280.8h0M281.2 263.7h0M325.8 223.7h0M340.0 215.4h0M332.8 216.8h0M277.9 265.6h0M342.4 209.7h0M264.9 276.2h0M333.7 216.6h0M264.2 276.5h0M263.2 278.5h0M266.8 276.8h0M355.0 198.7h0M253.5 286.3h0M325.3 213.2h0M349.6 202.5h0M330.9 218.5h0M283.6 227.3h0M255.2 286.9h0M266.9 275.7h0M279.9 264.4h0M332.9 217.0h0M253.6 287.1h0M264.6 276.4h0M332.7 220.1h0M270.4 272.3h0M255.2 286.5h0M256.0 285.9h0M290.1 254.4h0M349.7 200.4h0M347.8 204.0h0M262.9 279.3h0M339.7 212.2h0M331.4 217.5h0M277.0 278.3h0M345.7 205.2h0M355.4 196.6h0M327.0 222.0h0M263.0 279.6h0M337.2 212.8h0M295.2 247.8h0M341.8 207.2h0M341.8 209.2h0M274.8 268.6h0M267.5 275.1h0M268.9 274.6h0M258.0 283.2h0M348.3 203.3h0M334.3 213.9h0M271.1 267.6h0M354.9 197.2h0M282.6 260.3h0M333.0 216.3h0M351.5 204.9h0M342.3 215.0h0M279.9 263.8h0M263.6 278.0h0M266.4 270.9h0M327.5 220.9h0M337.5 212.4h0M333.4 209.8h0M256.3 285.3h0M264.0 273.2h0M253.7 286.6h0M336.4 212.8h0M337.2 213.0h0M332.7 218.4h0M352.6 199.2h0M348.8 202.8h0M254.4 286.2h0M271.6 271.0h0M340.0 212.4h0M261.2 280.1h0M274.5 267.9h0M268.4 275.6h0M346.1 205.4h0M348.1 202.6h0M255.6 286.3h0M352.1 203.2h0M313.0 260.4h0M275.5 266.9h0M334.2 216.4h0M259.2 281.9h0M354.0 196.8h0M335.6 214.5h0M339.9 211.4h0M305.5 239.0h0M348.4 204.4h0M343.2 208.0h0M275.9 267.3h0M348.2 203.7h0M347.8 203.3h0M351.9 197.6h0M272.6 248.7h0M330.7 220.6h0M303.2 233.0h0M281.7 262.1h0M352.2 199.1h0M271.6 257.9h0M331.8 216.4h0M318.1 228.6h0M299.8 236.6h0M345.8 207.3h0M339.7 210.8h0M278.8 269.2h0M277.2 265.9h0M278.2 262.2h0M276.8 267.4h0M352.6 198.2h0M283.5 261.2h0M271.4 266.3h0M279.1 263.7h0M263.6 278.7h0M266.6 274.2h0M270.6 272.0h0M282.4 260.9h0M283.9 243.2h0M280.1 265.7h0M256.6 283.8h0M270.5 273.1h0M281.0 264.6h0M355.4 196.6h0M355.6 196.4h0M283.7 261.8h0M257.0 286.7h0M338.8 210.4h0M269.9 267.0h0M348.5 204.0h0M261.2 280.4h0M272.3 270.4h0M343.5 205.9h0M286.3 265.1h0M254.0 287.1h0M263.7 276.3h0M353.8 196.6h0M323.9 226.0h0M275.8 268.0h0M270.0 272.5h0M268.2 273.4h0M258.2 280.6h0M280.0 262.8h0M329.9 219.1h0M273.7 265.3h0M274.5 268.0h0M275.0 267.2h0M348.1 202.9h0M338.6 211.4h0M347.3 203.8h0M281.7 263.4h0M339.7 210.4h0M271.9 271.5h0M330.9 218.6h0M339.5 210.5h0M264.6 278.0h0M296.2 238.3h0M312.1 246.8h0M277.8 265.6h0M301.4 234.2h0M274.3 268.8h0M277.0 265.8h0M268.0 274.7h0M272.7 269.9h0M293.2 243.6h0M261.8 278.7h0M256.4 284.9h0M271.9 271.1h0M277.8 265.7h0M274.1 269.4h0M328.8 215.4h0M342.0 209.3h0M326.2 222.7h0M262.3 278.6h0M276.6 268.7h0M355.8 199.5h0M284.1 254.5h0M329.9 218.6h0M351.5 200.1h0" stroke="#c4c8c6" stroke-width="1.5" stroke-linecap="round" fill="none"/>
<rect x="249.8" y="193.0" width="109.59999999999997" height="97.39999999999998" fill="none" stroke="#161616" stroke-width="1.35"/>
<line x1="246.8" y1="287.4" x2="249.8" y2="287.4" stroke="#161616" stroke-width="1.1"/>
<text x="244.60000000000002" y="289.79999999999995" font-size="6.8" text-anchor="end" fill="#231f20" stroke="#231f20">0</text>
<line x1="253.2" y1="290.4" x2="253.2" y2="293.4" stroke="#161616" stroke-width="1.1"/>
<text x="253.2" y="302.0" font-size="6.8" text-anchor="middle" fill="#231f20" stroke="#231f20">0</text>
<line x1="246.8" y1="269.2" x2="249.8" y2="269.2" stroke="#161616" stroke-width="1.1"/>
<text x="244.60000000000002" y="271.59999999999997" font-size="6.8" text-anchor="end" fill="#231f20" stroke="#231f20">0.2</text>
<line x1="273.71999999999997" y1="290.4" x2="273.71999999999997" y2="293.4" stroke="#161616" stroke-width="1.1"/>
<text x="273.71999999999997" y="302.0" font-size="6.8" text-anchor="middle" fill="#231f20" stroke="#231f20">0.2</text>
<line x1="246.8" y1="250.99999999999997" x2="249.8" y2="250.99999999999997" stroke="#161616" stroke-width="1.1"/>
<text x="244.60000000000002" y="253.39999999999998" font-size="6.8" text-anchor="end" fill="#231f20" stroke="#231f20">0.4</text>
<line x1="294.24" y1="290.4" x2="294.24" y2="293.4" stroke="#161616" stroke-width="1.1"/>
<text x="294.24" y="302.0" font-size="6.8" text-anchor="middle" fill="#231f20" stroke="#231f20">0.4</text>
<line x1="246.8" y1="232.79999999999998" x2="249.8" y2="232.79999999999998" stroke="#161616" stroke-width="1.1"/>
<text x="244.60000000000002" y="235.2" font-size="6.8" text-anchor="end" fill="#231f20" stroke="#231f20">0.6</text>
<line x1="314.76" y1="290.4" x2="314.76" y2="293.4" stroke="#161616" stroke-width="1.1"/>
<text x="314.76" y="302.0" font-size="6.8" text-anchor="middle" fill="#231f20" stroke="#231f20">0.6</text>
<line x1="246.8" y1="214.59999999999997" x2="249.8" y2="214.59999999999997" stroke="#161616" stroke-width="1.1"/>
<text x="244.60000000000002" y="216.99999999999997" font-size="6.8" text-anchor="end" fill="#231f20" stroke="#231f20">0.8</text>
<line x1="335.28" y1="290.4" x2="335.28" y2="293.4" stroke="#161616" stroke-width="1.1"/>
<text x="335.28" y="302.0" font-size="6.8" text-anchor="middle" fill="#231f20" stroke="#231f20">0.8</text>
<line x1="246.8" y1="196.39999999999998" x2="249.8" y2="196.39999999999998" stroke="#161616" stroke-width="1.1"/>
<text x="244.60000000000002" y="198.79999999999998" font-size="6.8" text-anchor="end" fill="#231f20" stroke="#231f20">1.0</text>
<line x1="355.79999999999995" y1="290.4" x2="355.79999999999995" y2="293.4" stroke="#161616" stroke-width="1.1"/>
<text x="355.79999999999995" y="302.0" font-size="6.8" text-anchor="middle" fill="#231f20" stroke="#231f20">1.0</text>
<text transform="translate(229.6,242.0) rotate(-90)" font-size="7.9" text-anchor="middle" fill="#231f20" stroke="#231f20" textLength="27.8" lengthAdjust="spacingAndGlyphs">WT(+/+)</text>
<text x="304.0" y="315.0" font-size="8.4" text-anchor="middle" fill="#231f20" stroke="#231f20" textLength="36.5" lengthAdjust="spacingAndGlyphs">KI (P95H/+)</text>
<path d="M422.9 283.5h0M504.0 235.7h0M444.7 255.3h0M411.5 287.4h0M504.0 249.8h0M429.6 210.8h0M441.3 235.0h0M470.5 228.8h0M441.0 234.4h0M417.4 274.8h0M410.6 247.6h0M420.4 213.9h0M451.5 275.9h0M504.0 224.7h0M465.3 226.5h0M437.9 242.2h0M413.0 270.5h0M402.2 241.5h0M486.5 196.1h0M504.0 225.3h0M492.0 196.1h0M504.0 216.0h0M406.5 246.7h0M460.1 259.3h0M409.4 234.8h0M441.5 210.3h0M467.4 233.7h0M475.6 196.1h0M445.7 196.1h0M433.5 287.4h0M416.5 287.4h0M478.6 262.4h0M408.9 287.4h0M403.4 287.4h0M443.2 264.4h0M504.0 243.9h0M442.9 246.8h0M504.0 215.6h0M471.6 238.7h0M454.7 207.5h0M414.7 287.4h0M457.3 224.3h0M441.9 249.5h0M454.9 196.1h0M479.3 216.3h0M428.7 280.8h0M504.0 228.6h0M460.4 274.1h0M461.5 238.4h0M467.1 287.1h0M452.3 218.6h0M447.8 218.6h0M453.8 210.2h0M453.1 272.5h0M504.0 225.6h0M432.0 261.1h0M426.7 287.4h0M460.0 225.6h0M479.5 200.5h0M436.8 208.7h0M424.1 287.4h0M445.7 260.0h0M402.2 255.6h0M481.5 220.6h0M462.8 286.3h0M421.8 241.7h0M491.3 196.1h0M488.3 229.7h0M417.5 201.5h0M466.6 196.1h0M402.2 196.4h0M476.2 247.1h0M435.6 268.4h0M472.2 238.6h0M402.2 199.1h0M402.2 268.2h0M452.5 287.4h0M462.9 278.1h0M427.8 217.1h0M435.5 234.3h0M442.4 287.4h0M443.9 212.1h0M403.8 245.3h0M494.4 202.4h0M477.1 196.1h0M486.7 249.1h0M431.1 233.4h0M451.1 271.5h0M402.2 201.2h0M479.6 196.1h0M418.0 246.1h0M460.2 199.4h0M416.4 282.5h0M504.0 210.7h0M412.3 239.1h0M489.7 196.1h0M441.0 245.6h0M473.4 232.4h0M501.6 243.5h0M453.6 213.5h0M474.3 211.9h0M414.2 287.4h0M403.0 282.8h0M504.0 246.2h0M504.0 225.7h0M411.5 196.1h0M467.2 264.2h0M504.0 221.6h0M441.8 267.4h0M486.4 218.3h0M403.1 196.1h0M504.0 263.3h0M426.1 196.1h0M504.0 250.3h0M486.6 196.1h0M504.0 235.2h0M405.0 196.1h0M504.0 235.2h0M436.3 196.1h0M504.0 237.0h0M429.4 196.1h0M504.0 226.9h0" stroke="#bdbdbd" stroke-width="1.4" stroke-linecap="round" fill="none"/>
<path d="M448.4 236.5h0M440.7 240.7h0M485.4 222.9h0M477.7 232.4h0M427.6 250.5h0M417.2 265.1h0M434.4 244.2h0M477.3 227.5h0M451.5 251.5h0M424.3 256.9h0M425.1 250.6h0M446.2 255.6h0M454.6 235.1h0M455.3 252.2h0M424.6 257.3h0M428.9 255.5h0M434.7 263.7h0M419.5 255.8h0M457.8 223.7h0M461.1 223.3h0M421.8 257.4h0M451.1 238.4h0M439.5 247.4h0M430.5 254.0h0M478.7 203.1h0M467.2 222.1h0M462.7 226.1h0M410.1 263.6h0M484.2 220.5h0M461.4 242.7h0M456.3 249.5h0M462.3 220.6h0M402.2 279.2h0M435.8 250.5h0M461.5 251.7h0M503.9 206.5h0M470.8 234.2h0M473.2 236.1h0M450.6 228.9h0M440.1 247.7h0M504.0 209.4h0M474.9 233.5h0M452.5 249.5h0M445.6 256.1h0M480.1 226.4h0M474.9 209.3h0M492.4 216.9h0M440.8 262.8h0M433.2 249.5h0M472.2 238.2h0M448.9 227.6h0M480.3 224.2h0M437.0 271.3h0M439.2 237.3h0M485.7 201.9h0M421.1 263.6h0M434.5 253.0h0M453.5 250.4h0M495.2 196.1h0M479.7 226.5h0M446.2 239.5h0M463.8 244.2h0M478.1 234.5h0M449.6 260.4h0M429.6 256.1h0M486.2 219.7h0M439.2 261.5h0M491.2 201.1h0M443.4 238.5h0M449.2 234.8h0M433.2 269.4h0M437.7 243.9h0M444.5 254.6h0M458.2 220.4h0M443.1 236.3h0M474.2 215.2h0M480.0 227.2h0M504.0 203.6h0M402.2 278.8h0M410.1 287.4h0M466.3 250.6h0M444.1 243.0h0M444.7 239.7h0M458.5 226.3h0M459.0 230.6h0M479.6 211.9h0M444.6 261.3h0M453.7 248.1h0M465.4 237.1h0M476.3 214.5h0M442.1 267.6h0M460.9 244.3h0M446.8 233.9h0M483.3 223.2h0M418.2 282.8h0M419.6 279.1h0M432.8 238.2h0M421.1 257.7h0M457.9 248.7h0M465.2 223.1h0M477.9 228.4h0M490.9 224.8h0M442.4 245.7h0M486.9 196.1h0M471.6 239.4h0M475.9 246.0h0M465.5 250.6h0M462.5 239.0h0M412.2 272.9h0M421.8 262.0h0M459.7 246.2h0M430.3 251.3h0M430.0 269.7h0M422.3 287.4h0M430.7 249.3h0M471.9 198.6h0M454.4 247.5h0M423.9 254.6h0M488.3 196.1h0M481.8 230.5h0M472.0 235.3h0M477.9 210.2h0M435.5 247.6h0M460.4 228.7h0M447.7 238.3h0M427.1 257.8h0M424.9 247.1h0M472.4 233.9h0M436.0 279.2h0M435.1 274.9h0M504.0 213.8h0M437.0 263.9h0M462.0 240.9h0M428.9 250.6h0M442.6 269.6h0M405.2 265.7h0M417.1 282.0h0M443.2 239.7h0M417.7 264.0h0M442.0 262.7h0M459.4 246.1h0M498.2 216.4h0M462.3 215.6h0M455.1 222.2h0M425.1 255.6h0M419.9 259.4h0M446.1 234.2h0M447.0 260.3h0M422.0 261.9h0M428.4 275.6h0M491.0 221.2h0M471.6 215.8h0M462.6 242.4h0M457.4 226.0h0M453.8 231.1h0M447.9 233.2h0M457.1 258.6h0M439.4 243.9h0M446.4 242.4h0M414.5 287.4h0M448.8 236.0h0M492.1 196.1h0M450.5 229.3h0M472.6 230.4h0M495.0 219.6h0M468.8 207.9h0M477.8 228.1h0M461.8 226.7h0M439.1 260.4h0M418.8 287.4h0M444.4 260.6h0M445.7 268.4h0M415.1 287.4h0M482.6 227.6h0M487.8 196.1h0M450.1 254.6h0M466.4 236.0h0M477.2 210.3h0M452.9 255.0h0M454.9 261.2h0M466.0 246.2h0M481.2 206.3h0M466.9 215.9h0M430.3 269.2h0M447.7 256.9h0M456.4 230.1h0M428.4 257.7h0M448.7 251.0h0M433.4 265.0h0M436.5 262.6h0M422.9 287.4h0M445.1 236.6h0M413.4 265.1h0M440.1 267.6h0M459.6 210.5h0M455.7 262.3h0M436.2 249.8h0M458.2 243.7h0M419.5 278.3h0M457.8 250.4h0M414.0 284.6h0M463.5 246.0h0M469.9 236.0h0M414.1 267.8h0M452.1 252.0h0M418.4 279.4h0M421.1 278.1h0M453.4 255.4h0M449.6 254.4h0M481.2 222.6h0M402.2 271.7h0M437.7 239.2h0M451.4 251.3h0M419.2 283.7h0M472.5 213.4h0M423.7 277.3h0M468.6 210.3h0M409.0 272.5h0M469.9 239.0h0M455.1 248.0h0M469.4 242.5h0M465.0 236.4h0M471.7 235.6h0M412.9 286.3h0M472.4 232.3h0M468.8 239.0h0M472.9 212.4h0M449.7 239.4h0M445.8 268.0h0M451.0 236.1h0M442.9 260.0h0M447.5 256.2h0M455.7 264.5h0M444.1 240.9h0M497.4 214.4h0M434.4 271.9h0M423.5 262.1h0M433.6 237.2h0M458.0 248.8h0M488.1 219.5h0M474.8 234.9h0M404.6 268.3h0M459.9 244.0h0M433.8 270.9h0M426.6 274.6h0M490.7 218.2h0M504.0 205.8h0M442.4 238.2h0M453.5 250.8h0M470.4 217.5h0M454.8 234.8h0M406.1 274.0h0M463.8 239.6h0M461.7 240.9h0M432.5 277.4h0M448.9 238.5h0M441.9 259.9h0M496.1 209.5h0M402.5 274.9h0M451.9 228.0h0M451.6 236.3h0M504.0 202.6h0M450.6 238.5h0M479.4 238.4h0M475.2 206.5h0M455.4 252.6h0M446.1 236.9h0M415.4 263.8h0M432.3 274.5h0M473.8 229.1h0M407.8 287.4h0M465.4 246.7h0M454.5 230.5h0M464.2 219.7h0M412.1 266.4h0M402.2 270.9h0M434.5 246.1h0M426.6 279.5h0M444.7 238.5h0M436.7 267.8h0M418.8 261.2h0M421.4 275.5h0M451.1 232.9h0M447.0 239.9h0M453.7 231.6h0M466.8 240.4h0M429.1 247.5h0M474.8 214.6h0M453.1 249.9h0M427.1 274.0h0M402.2 282.2h0M478.1 206.8h0M442.7 264.1h0M437.2 248.1h0M408.9 268.2h0M429.5 256.4h0M412.2 270.2h0M461.9 241.1h0M438.0 264.5h0M421.2 260.3h0M425.6 253.1h0M423.4 261.3h0M467.4 211.9h0M500.9 210.9h0M464.4 238.3h0M424.0 258.2h0M429.7 273.1h0M460.9 229.5h0M451.6 255.0h0M440.0 245.3h0M432.9 251.8h0M485.6 200.5h0M412.6 287.4h0M416.7 283.4h0M460.7 240.2h0M423.0 254.0h0M443.7 260.3h0M449.0 231.0h0M465.3 244.7h0M407.4 265.5h0M453.3 228.8h0M447.2 262.3h0M466.6 221.4h0M403.6 279.0h0M469.4 237.0h0M484.2 221.9h0M475.9 210.6h0M457.5 246.1h0M463.1 248.2h0M437.1 263.3h0M481.6 231.1h0M440.6 241.3h0M462.6 251.0h0M427.4 271.1h0M444.3 239.6h0M440.3 265.0h0M437.8 262.6h0M467.7 214.8h0M467.0 235.4h0M446.4 232.8h0M444.0 244.6h0M451.8 249.8h0M449.2 239.5h0M458.9 226.3h0M418.5 279.4h0M455.4 249.0h0M463.2 243.9h0M446.5 228.7h0M479.0 213.0h0M466.7 218.4h0M435.1 243.6h0M433.8 238.3h0M452.6 232.3h0M436.2 251.6h0M438.8 262.2h0M456.4 245.5h0M444.1 259.5h0M441.5 257.4h0M423.4 246.0h0M427.9 243.7h0M479.4 235.8h0M421.4 262.0h0M439.2 236.2h0M463.5 241.5h0M458.8 244.8h0M449.1 223.7h0M427.1 272.2h0M434.4 270.6h0M439.4 248.5h0M442.4 264.6h0M476.4 226.8h0M402.2 281.7h0M462.6 244.9h0M425.7 256.5h0M504.0 203.0h0M411.8 284.7h0M458.1 244.3h0M472.1 214.0h0M443.1 239.6h0M471.1 231.3h0M455.4 231.3h0M451.6 233.3h0M420.1 279.9h0M456.5 252.9h0M462.4 241.9h0M465.9 249.2h0M425.8 280.7h0M424.4 255.1h0M425.9 285.2h0M488.2 215.9h0M454.3 252.0h0M450.5 238.5h0M442.8 258.4h0M449.7 257.4h0M461.1 227.7h0M501.9 203.8h0M501.3 214.2h0M420.4 254.3h0M441.5 267.6h0M437.3 264.7h0M451.1 234.4h0M446.0 254.8h0M477.2 208.7h0M489.0 219.5h0M468.9 221.2h0M443.2 244.0h0M438.3 239.2h0M439.3 244.6h0M434.6 243.8h0M416.5 266.1h0M456.6 244.6h0M429.5 254.6h0M496.4 196.1h0M474.9 231.7h0M402.2 274.3h0M451.5 230.3h0M451.0 226.8h0M498.8 222.9h0M494.5 210.3h0M431.6 247.5h0M448.2 230.7h0M423.4 277.0h0M424.4 258.6h0M428.1 247.7h0M473.3 213.7h0M434.9 273.6h0M433.0 238.9h0M424.7 274.7h0M474.6 230.2h0M434.3 244.6h0M439.7 238.7h0M466.6 224.4h0M413.2 270.1h0M474.0 234.9h0M468.5 245.4h0M478.3 224.4h0M432.0 250.8h0M480.7 208.5h0M431.5 249.6h0M437.1 264.9h0M413.0 265.2h0M494.3 196.1h0M425.1 285.7h0M492.8 200.6h0M469.8 203.9h0M444.7 241.1h0M450.7 259.0h0M428.8 274.0h0M442.1 261.4h0M418.1 262.1h0M437.2 245.3h0M445.7 263.0h0M417.8 281.4h0M418.0 262.9h0M472.5 237.1h0M453.1 248.9h0M456.4 253.5h0M488.8 196.1h0M463.7 221.4h0M417.7 262.9h0M499.5 205.3h0M447.0 252.7h0M436.3 263.7h0M413.7 282.3h0M435.6 263.4h0M446.3 257.9h0M470.9 234.6h0M419.0 287.4h0M467.8 239.1h0M487.7 196.1h0M441.4 239.9h0M450.7 236.9h0M466.7 253.9h0M467.7 217.5h0M427.7 253.0h0M405.7 268.8h0M402.2 270.4h0M450.8 254.8h0M473.9 231.8h0M436.3 248.5h0M490.1 221.8h0M459.6 222.2h0M440.5 246.5h0M486.3 204.8h0M466.2 224.2h0M451.8 256.4h0M468.7 237.7h0M455.4 254.9h0M474.8 212.7h0M482.3 228.0h0M433.0 246.7h0M460.2 253.3h0M496.6 218.8h0M457.4 253.9h0M452.6 259.1h0M459.2 247.5h0M435.4 245.9h0M416.4 264.7h0M422.8 275.2h0M470.7 233.8h0M441.3 263.6h0M449.8 253.3h0M488.7 220.7h0M472.1 214.9h0M422.0 276.5h0M444.9 256.3h0M491.2 196.1h0M448.3 239.7h0M447.6 241.3h0M438.6 245.2h0M452.5 230.5h0M455.6 227.0h0M449.6 233.7h0M457.9 245.3h0M471.1 231.2h0M480.3 242.3h0M445.3 243.2h0M446.4 242.4h0M491.4 202.1h0M463.5 220.0h0M411.7 272.5h0M446.8 241.1h0M478.7 238.4h0M447.4 239.2h0M432.7 265.7h0M456.9 229.5h0M460.8 246.7h0M463.3 239.9h0M403.2 272.8h0M479.2 232.9h0M444.2 256.4h0M481.8 208.5h0M439.1 244.4h0M427.9 259.1h0M449.4 239.7h0M439.0 248.3h0M444.3 258.3h0M404.5 264.4h0M441.5 239.6h0M492.7 219.7h0M460.6 241.6h0M433.7 251.2h0M458.9 227.5h0M504.0 203.0h0M419.1 285.0h0M468.6 239.4h0M421.1 258.5h0M437.9 267.7h0M419.9 250.4h0M452.9 236.6h0M440.6 243.7h0M453.2 247.0h0M485.1 229.9h0M483.1 220.0h0M458.0 221.3h0M489.7 203.1h0M471.6 236.3h0M454.1 250.5h0M467.6 235.9h0M440.9 258.5h0M451.6 234.5h0M462.7 249.8h0M482.1 205.4h0M424.4 255.6h0M448.6 237.8h0M447.2 235.4h0M492.9 227.6h0M425.5 247.4h0M408.9 287.4h0M470.6 211.3h0M443.6 260.4h0M442.0 256.9h0M480.0 229.0h0M420.2 282.1h0M432.8 276.8h0M449.5 236.0h0M463.1 242.2h0M494.0 196.1h0M462.3 225.6h0M452.5 250.2h0M463.8 243.2h0M432.6 249.0h0M494.5 215.0h0M462.5 225.3h0M467.3 217.9h0M447.5 258.3h0M440.5 237.4h0M425.8 256.7h0M441.6 243.6h0M437.3 246.3h0M448.6 232.5h0M413.3 260.1h0M458.2 227.7h0M406.7 274.3h0M425.0 284.9h0M489.5 199.1h0M489.5 214.5h0M474.4 233.2h0M417.0 286.5h0M424.1 281.5h0M441.3 262.5h0M412.3 267.7h0M453.5 219.5h0M455.5 245.3h0M411.1 286.4h0M461.0 243.3h0M448.3 258.9h0M466.2 237.4h0M456.6 247.1h0M501.7 206.4h0M486.5 196.9h0M450.5 253.2h0M451.4 249.8h0M490.4 214.2h0M478.6 228.3h0M479.1 196.1h0M445.9 235.8h0M434.7 240.7h0M430.4 268.0h0M412.0 262.4h0M439.8 243.2h0M433.0 265.6h0M406.3 278.3h0M457.3 247.7h0M464.9 239.1h0M495.2 198.1h0M454.9 256.5h0M458.4 245.2h0M453.8 246.4h0M504.0 201.7h0M443.2 233.5h0M443.2 258.8h0M474.5 210.9h0M446.6 253.5h0M471.8 204.6h0M431.9 251.9h0M450.2 252.2h0M497.8 208.7h0M438.7 262.0h0M444.9 227.3h0M441.6 261.5h0M442.5 238.0h0M489.3 214.5h0M431.6 253.2h0M484.2 201.8h0M501.8 215.4h0M402.2 276.8h0M460.1 249.6h0M474.8 213.4h0M503.2 208.5h0M447.5 236.1h0M474.4 235.4h0M450.1 227.9h0M494.1 196.1h0M478.0 226.5h0M448.7 253.6h0M422.9 262.1h0M435.5 250.9h0M416.8 262.5h0M445.8 232.6h0M462.0 251.7h0M425.7 259.7h0M432.7 266.7h0M408.8 272.8h0M465.4 239.7h0M406.3 269.7h0M451.4 256.8h0M445.6 233.2h0M443.9 255.2h0M483.8 196.8h0M455.1 223.0h0M478.9 227.3h0M437.7 265.7h0M436.9 246.8h0M484.0 200.2h0M456.2 253.9h0M473.1 234.6h0M485.0 196.1h0M467.5 240.5h0M461.2 247.4h0M491.5 199.5h0M450.8 252.6h0M402.2 274.0h0M483.3 226.2h0M441.2 261.2h0M449.6 253.8h0M436.9 248.6h0M455.8 245.3h0M501.4 210.6h0M422.4 283.4h0M459.6 223.7h0M467.2 235.1h0M444.7 254.9h0M452.2 233.0h0M441.8 243.7h0M447.1 234.3h0M437.6 246.1h0M472.7 235.8h0M469.8 238.9h0M457.0 247.0h0" stroke="#4f5aa8" stroke-width="1.4" stroke-linecap="round" fill="none"/>
<path d="M419.3 260.9h0M408.4 255.0h0M433.9 271.6h0M432.4 268.2h0M402.2 271.8h0M424.5 287.4h0M430.7 273.4h0M413.7 286.6h0M411.8 262.1h0M418.8 257.3h0M427.5 256.2h0M415.4 264.6h0M424.0 256.8h0M406.0 270.5h0" stroke="#b3304a" stroke-width="1.4" stroke-linecap="round" fill="none"/>
<path d="M432.4 266.5h0M404.0 287.3h0M405.0 287.0h0M412.1 275.6h0M480.4 219.1h0M403.7 286.4h0M406.2 285.0h0M408.8 282.7h0M490.5 210.1h0M468.6 228.3h0M410.5 280.3h0M480.7 216.0h0M476.2 226.3h0M428.0 265.1h0M438.2 251.5h0M433.2 253.9h0M478.7 221.7h0M450.9 238.6h0M466.4 235.6h0M499.1 199.6h0M419.1 277.8h0M503.8 196.4h0M411.9 279.7h0M462.7 229.7h0M405.7 285.5h0M480.6 220.6h0M467.5 231.6h0M418.8 272.8h0M426.0 266.5h0M411.1 279.1h0M433.7 260.0h0M414.6 276.8h0M432.6 257.4h0M469.1 225.8h0M478.6 217.7h0M446.9 241.4h0M466.4 228.2h0M451.6 243.5h0M465.1 227.5h0M408.8 281.2h0M485.8 215.5h0M412.7 276.8h0M408.6 280.0h0M404.0 286.2h0M490.7 208.4h0M417.9 273.1h0M411.2 278.9h0M402.2 285.8h0M417.5 271.1h0M445.2 248.3h0M447.1 242.0h0M477.5 215.4h0M454.4 238.7h0M487.1 210.5h0M450.3 240.9h0M476.6 220.5h0M412.2 278.1h0M403.5 286.8h0M411.1 281.4h0M417.2 271.3h0M498.7 200.5h0M403.9 285.5h0M475.6 219.9h0M404.3 287.1h0M404.1 285.8h0M500.5 199.2h0M433.6 256.4h0M500.9 200.5h0M463.4 228.5h0M433.0 257.7h0M501.6 197.4h0M433.9 257.2h0M402.2 285.4h0M492.1 205.5h0M440.7 247.4h0M445.7 246.7h0M500.6 196.9h0M451.9 240.4h0M432.0 265.0h0M463.4 232.8h0M502.1 197.1h0M494.7 205.7h0M502.0 198.3h0M499.3 201.9h0M409.5 281.3h0M455.1 239.2h0M444.7 245.9h0M466.6 232.3h0M448.2 244.8h0M479.1 223.0h0M406.2 280.2h0M488.9 210.7h0M488.9 209.3h0M459.9 239.8h0M440.4 245.4h0M404.8 280.4h0M440.0 251.9h0M498.5 202.3h0M404.8 285.8h0M450.7 244.9h0M421.5 267.5h0M416.4 276.0h0M491.8 212.4h0M487.3 211.2h0M446.2 251.7h0M405.0 283.4h0M404.9 283.3h0M434.1 261.7h0M434.0 260.8h0M493.1 207.1h0M497.3 201.6h0M417.7 270.0h0M480.2 216.2h0M422.9 271.0h0M413.4 275.8h0M467.0 231.5h0M409.4 283.8h0M452.4 237.0h0M410.8 280.9h0M476.9 216.2h0M503.0 198.7h0M467.1 234.3h0M463.3 234.2h0M403.9 280.5h0M441.7 251.6h0M461.2 234.3h0M437.0 258.8h0M465.0 235.4h0M405.9 282.8h0M405.5 285.3h0M464.4 234.5h0M418.1 273.9h0M437.0 262.9h0M410.5 281.8h0M453.5 245.0h0M403.9 286.3h0M467.3 227.7h0M403.2 286.4h0M489.3 208.9h0M500.1 200.2h0M417.1 274.6h0M412.6 278.4h0M427.5 264.3h0M470.9 228.5h0M483.1 217.5h0M404.0 287.4h0M413.4 276.5h0M489.2 210.0h0M434.8 259.7h0M490.8 207.3h0M456.8 232.1h0M408.4 283.4h0M412.3 279.7h0M437.9 252.5h0M418.3 272.7h0M465.8 230.1h0M452.4 246.4h0M481.7 216.3h0M430.9 260.4h0M416.8 271.7h0M407.6 281.8h0M443.4 252.9h0M412.7 280.0h0M403.9 283.1h0M446.6 248.4h0M409.1 283.8h0M473.5 225.9h0M416.6 277.9h0M438.9 251.8h0M469.4 224.2h0M461.4 239.2h0M410.4 275.0h0M406.5 284.0h0M486.8 208.1h0M475.3 223.6h0M412.4 276.9h0M441.3 251.9h0M447.1 248.4h0M463.6 232.0h0M402.2 286.9h0M424.0 266.6h0M439.1 250.7h0M464.0 232.7h0M469.8 224.1h0M409.0 282.1h0M457.6 244.1h0M442.0 259.5h0M497.0 204.1h0M410.6 278.9h0M408.4 281.2h0M456.3 240.6h0M484.4 215.2h0M448.6 244.4h0M419.5 272.1h0M455.6 237.8h0M447.7 249.7h0M442.0 252.8h0M463.7 235.7h0M413.5 276.5h0M459.3 235.9h0M449.1 248.0h0M449.9 243.4h0M427.0 262.6h0M481.1 219.6h0M412.0 275.8h0M469.8 222.3h0M421.4 270.0h0M480.2 214.0h0M478.6 218.1h0M491.7 209.2h0M421.5 269.5h0M432.9 262.0h0M425.4 269.0h0M484.0 214.9h0M436.8 257.6h0M429.9 263.5h0M453.5 246.7h0M470.4 230.4h0M406.7 280.4h0M427.7 259.6h0M408.4 279.0h0M428.3 263.7h0M420.2 273.5h0M469.2 230.7h0M423.9 268.8h0M414.9 274.0h0M497.3 201.7h0M423.8 266.2h0M424.3 268.1h0M474.8 224.7h0M466.8 234.1h0M474.9 220.4h0M437.2 256.5h0M408.2 281.3h0M436.1 257.4h0M479.8 217.3h0M491.6 206.6h0M455.3 238.6h0M409.3 282.2h0M484.6 211.7h0M413.9 276.0h0M479.2 219.4h0M500.0 200.7h0M405.3 282.3h0M504.0 196.8h0M448.5 248.3h0M418.0 271.2h0M472.9 224.3h0M491.1 211.2h0M466.7 231.0h0M409.7 278.7h0M413.3 276.8h0M441.3 251.5h0M477.8 220.8h0M446.8 252.7h0M456.9 236.6h0M430.6 264.5h0M476.9 222.8h0M462.7 235.0h0M462.5 237.1h0M440.0 255.7h0M444.3 255.9h0M480.1 215.5h0M462.0 232.3h0M465.4 238.8h0M417.0 275.1h0M413.9 278.7h0M429.5 258.0h0M445.2 251.5h0M404.8 287.3h0M416.0 272.7h0M407.6 280.7h0M429.1 262.9h0M416.5 274.4h0M469.5 221.9h0M447.5 244.8h0M447.8 243.5h0M458.5 239.9h0M406.6 284.4h0M407.1 283.2h0M418.7 275.6h0M498.4 200.2h0M433.4 260.5h0M403.2 287.4h0M412.6 278.1h0M471.5 225.0h0M425.5 265.5h0M414.4 275.7h0M472.6 222.7h0M411.6 279.5h0M468.2 229.8h0M447.7 243.8h0M482.0 218.4h0M483.9 211.1h0M447.0 247.7h0M409.7 281.4h0M402.2 286.2h0M461.1 234.0h0M410.0 281.9h0M501.3 198.1h0M471.5 219.6h0M449.8 243.3h0M478.1 219.2h0M410.8 278.0h0M485.4 213.9h0M449.7 244.9h0M442.7 249.5h0M471.8 228.4h0M412.4 278.7h0M443.3 250.4h0M497.6 201.4h0M430.9 262.1h0M415.3 278.5h0M473.1 219.7h0M420.2 271.5h0M403.1 286.1h0M473.2 229.2h0M466.5 223.2h0M496.8 201.1h0M428.3 261.8h0M470.6 222.4h0M489.9 209.4h0M411.6 279.9h0M437.7 253.9h0M470.5 227.3h0M408.0 281.9h0M484.9 210.9h0M501.1 199.1h0M412.4 279.1h0M447.5 240.2h0M405.3 283.1h0M404.1 283.9h0M410.3 284.2h0M415.8 274.8h0M477.1 217.5h0M478.2 216.4h0M433.9 255.3h0M455.5 240.1h0M428.1 266.6h0M456.5 236.2h0M472.6 222.8h0M435.6 258.7h0M431.0 259.5h0M479.3 218.3h0M463.3 228.9h0M426.2 267.9h0M492.4 203.8h0M436.9 256.8h0M408.9 282.9h0M489.1 208.5h0M415.0 280.4h0M498.2 203.0h0M446.4 240.8h0M411.1 278.9h0M489.9 211.5h0M427.8 263.2h0M407.5 283.8h0M411.4 282.9h0M428.0 270.8h0M447.6 245.5h0M495.1 203.9h0M479.3 216.0h0M495.4 207.5h0M495.0 201.0h0M405.3 287.0h0M488.2 210.2h0M402.6 287.4h0M485.2 215.4h0M432.7 261.3h0M464.4 232.1h0M407.5 281.0h0M419.6 271.4h0M468.7 229.1h0M481.0 222.8h0M406.4 284.6h0M410.8 278.9h0M464.0 230.6h0M413.4 278.6h0M406.5 285.2h0M453.8 234.1h0M487.2 211.1h0M459.7 234.9h0M434.7 255.6h0M497.7 200.3h0M471.1 222.7h0M441.0 255.2h0M435.8 258.1h0M415.0 278.3h0M479.8 214.4h0M436.1 258.7h0M432.6 258.9h0M441.0 247.5h0M405.7 286.1h0M411.2 280.7h0M467.8 233.0h0M411.1 275.7h0M497.7 203.2h0M445.9 244.7h0M467.0 228.6h0M443.7 254.4h0M405.2 286.3h0M419.1 275.3h0M407.1 286.4h0M462.9 230.1h0M456.7 237.7h0M435.4 257.8h0M490.0 207.6h0M490.6 205.9h0M413.7 276.8h0M416.6 273.1h0M413.3 277.2h0M409.7 283.3h0M446.2 243.1h0M449.4 249.1h0M414.9 273.4h0M490.1 206.7h0M427.2 262.8h0M467.4 228.1h0M470.0 227.6h0M452.9 239.7h0M430.9 259.4h0M487.6 208.0h0M440.4 252.2h0M418.8 272.5h0M502.6 201.2h0M486.9 212.8h0M454.4 236.7h0M444.6 248.4h0M468.9 228.3h0M447.4 254.0h0M416.0 275.5h0M412.9 277.5h0M415.6 278.4h0M480.5 218.2h0M446.5 251.4h0M472.4 219.6h0M433.3 258.9h0M410.7 281.8h0M471.4 223.2h0M497.2 203.0h0M437.0 255.0h0M419.8 271.2h0M498.9 204.1h0M414.3 278.2h0M475.6 218.9h0M473.2 227.8h0M474.0 221.5h0M426.9 265.4h0M481.7 214.5h0M499.7 202.1h0M434.1 257.5h0M407.2 281.0h0M490.8 208.6h0M404.1 284.7h0M403.2 285.1h0M412.0 278.6h0M404.9 287.4h0M439.3 254.4h0M405.2 286.5h0M480.3 210.5h0M429.6 259.6h0M428.8 264.2h0M465.5 235.6h0M460.4 233.4h0M492.1 208.9h0M429.0 258.6h0M429.7 261.5h0M471.0 223.5h0M452.1 240.0h0M421.4 270.8h0M406.6 280.4h0M445.3 245.7h0M459.2 233.8h0M483.9 213.1h0M470.5 225.8h0M499.3 199.2h0M454.8 236.7h0M478.2 218.7h0M461.6 237.8h0M421.5 268.6h0M476.3 220.9h0M471.6 229.8h0M454.4 241.6h0M497.6 207.7h0M438.1 255.0h0M403.4 287.2h0M480.9 217.3h0M477.4 222.5h0M409.4 283.9h0M441.2 253.7h0M403.9 283.9h0M405.8 279.9h0M432.7 264.2h0M408.5 281.0h0M463.6 231.4h0M471.6 228.8h0M478.7 219.0h0M443.4 252.4h0M488.6 208.7h0M490.3 208.5h0M459.3 236.2h0M410.5 283.1h0M407.9 280.2h0M487.4 212.6h0M442.5 249.4h0M403.7 287.3h0M480.9 215.7h0M409.0 280.5h0M491.1 209.9h0M406.3 283.2h0M471.4 217.1h0M495.4 205.1h0M420.2 274.1h0M475.0 219.1h0M479.2 217.9h0M410.8 280.7h0M433.1 259.5h0M489.2 209.7h0M448.4 248.3h0M456.6 243.7h0M499.6 202.0h0M448.1 248.1h0M484.8 213.8h0M413.2 277.0h0M481.0 217.1h0M469.4 231.3h0M424.7 269.8h0M476.7 223.1h0M500.8 197.8h0M453.0 243.0h0M493.8 207.1h0M470.4 227.3h0M402.2 286.7h0M402.7 287.4h0M461.2 234.7h0M434.5 256.1h0M429.7 260.5h0M445.8 248.0h0M411.9 280.0h0M460.7 229.4h0M429.9 259.1h0M407.1 282.5h0M415.5 277.6h0M479.0 219.1h0M474.4 227.5h0M482.1 218.9h0M435.9 259.8h0M498.4 202.5h0M476.9 226.5h0M477.6 216.8h0M429.7 264.8h0M455.7 239.7h0M410.9 278.2h0M432.4 255.7h0M424.4 266.6h0M412.9 278.7h0M425.2 265.5h0M438.9 253.4h0M423.9 270.6h0M470.7 228.7h0M405.7 282.4h0M476.4 220.0h0M489.9 207.1h0M479.5 214.1h0M439.3 255.5h0M422.8 268.3h0M473.6 220.9h0M473.4 227.2h0M403.7 286.9h0M422.6 269.0h0M459.6 236.7h0M415.9 277.8h0M429.0 261.9h0M434.0 256.2h0M489.0 208.7h0M414.5 277.8h0M420.8 263.8h0M439.1 257.5h0M416.6 271.5h0M428.7 264.4h0M472.2 227.0h0M429.3 261.8h0M493.9 202.9h0M501.7 196.6h0M408.3 282.5h0M494.7 207.4h0M424.1 269.8h0M404.8 287.0h0M402.2 286.4h0M486.7 208.8h0M477.6 219.7h0M442.8 249.3h0M432.0 255.1h0M429.9 264.0h0M433.5 258.9h0M479.9 222.2h0M465.7 232.7h0M447.1 246.9h0M497.2 203.1h0M443.4 257.4h0M498.9 203.1h0M476.0 216.7h0M462.0 235.7h0M406.2 285.7h0M486.4 207.9h0M432.1 262.9h0M418.9 270.7h0M449.8 239.9h0M439.4 253.3h0M479.0 218.0h0M406.4 285.7h0M500.2 201.4h0M499.2 201.7h0M406.8 282.6h0M410.2 281.0h0M416.8 274.2h0M503.2 199.7h0M425.9 265.1h0M454.4 237.9h0M410.8 282.2h0M458.6 239.2h0M451.9 241.5h0M440.4 251.2h0M472.2 227.2h0M457.0 238.6h0M476.4 216.1h0M416.1 279.4h0M407.4 284.5h0M501.6 199.3h0M495.4 201.6h0M409.5 282.2h0M447.0 247.8h0M422.9 269.2h0M443.3 248.9h0M480.9 216.0h0M428.8 266.3h0M402.2 285.0h0M478.8 217.3h0M457.4 235.7h0M403.5 284.4h0M448.1 242.3h0M445.9 246.2h0M497.5 201.6h0M432.2 257.9h0M478.0 219.3h0M492.6 206.9h0M472.8 223.5h0M429.2 260.8h0M472.0 225.1h0M444.1 245.9h0M472.1 228.9h0M477.1 221.4h0M461.6 234.9h0M492.0 207.3h0M435.6 260.2h0M414.8 277.5h0M472.5 225.7h0M485.8 215.3h0M440.8 257.5h0M427.2 265.3h0M487.0 211.9h0M499.3 201.9h0M489.3 207.2h0M499.8 198.9h0M407.6 282.8h0M482.4 218.7h0M494.0 206.4h0M428.1 255.9h0M456.0 237.4h0M462.1 237.6h0M472.0 224.3h0M407.7 280.6h0M416.5 272.5h0M424.9 261.8h0M416.2 272.5h0M475.8 220.4h0M413.0 278.5h0M430.0 266.0h0M441.6 252.7h0M409.4 279.7h0M444.1 251.0h0M429.8 262.8h0M471.9 227.0h0M495.9 202.0h0M471.5 227.5h0M427.1 268.7h0M503.2 196.6h0M433.4 262.3h0M475.6 224.9h0M464.1 232.7h0M481.7 210.3h0M473.8 227.3h0M479.7 219.3h0M453.5 248.4h0M495.1 206.5h0M402.2 286.3h0M494.6 198.2h0M480.9 219.1h0M491.7 208.0h0M447.1 254.7h0M402.3 284.1h0M420.7 270.0h0M408.0 279.8h0M463.5 231.0h0M470.5 226.3h0M412.1 278.7h0M465.1 224.9h0M460.4 235.7h0M436.4 256.1h0M435.0 263.5h0M407.2 282.8h0M440.0 251.4h0M407.5 280.4h0M496.9 204.1h0M492.8 203.9h0M415.6 274.2h0M459.9 236.3h0M477.0 221.4h0M459.9 237.3h0M404.2 285.3h0M496.1 203.1h0M409.6 280.7h0M458.7 235.6h0M402.7 286.8h0M410.8 279.4h0M460.0 232.2h0M443.8 251.8h0M436.6 256.1h0M421.5 273.1h0M412.8 280.2h0M462.6 236.0h0M443.7 246.5h0M503.5 196.6h0M410.0 281.2h0M408.3 280.6h0M485.4 211.3h0M425.6 267.1h0M483.4 216.9h0M480.7 218.8h0M469.7 225.3h0M473.8 230.8h0M437.6 254.9h0M496.8 206.4h0M487.2 210.3h0M411.4 276.9h0M411.2 280.5h0M432.4 255.9h0M480.2 221.8h0M402.2 286.0h0M402.8 286.3h0M475.0 224.6h0M488.4 214.6h0M479.1 221.5h0M451.9 238.8h0M499.0 201.8h0M484.1 215.0h0M480.8 213.6h0M418.6 271.7h0M482.6 213.4h0M490.2 207.1h0M482.9 209.1h0M408.0 282.6h0M423.5 265.3h0M422.6 268.7h0M412.6 278.4h0M404.8 284.9h0M468.4 226.1h0M459.2 233.0h0M500.2 199.0h0M410.9 281.1h0M501.6 198.2h0M492.3 206.4h0M461.9 230.7h0M421.4 268.1h0M485.3 212.8h0M480.3 224.2h0M472.4 227.9h0M425.4 265.7h0M418.9 279.4h0M417.0 276.3h0M472.0 224.7h0M422.9 268.3h0M405.3 284.3h0M450.5 249.1h0M501.5 196.1h0M415.8 278.8h0M491.4 207.2h0M466.7 232.9h0M415.8 278.2h0M469.6 226.2h0M485.3 211.5h0M425.1 265.6h0M425.3 266.5h0M435.0 255.2h0M462.3 232.7h0M469.8 230.0h0M470.8 229.2h0M454.4 241.5h0M402.7 284.8h0M404.2 287.2h0M430.0 259.4h0M403.8 285.5h0M447.9 248.4h0M476.0 224.9h0M425.1 262.8h0M474.6 221.7h0M429.7 261.7h0M502.8 196.2h0M447.2 244.8h0M408.0 278.2h0M409.5 280.1h0M437.4 255.0h0M450.8 247.7h0M424.7 264.5h0M494.0 208.2h0M446.4 253.0h0M436.8 253.9h0M491.3 206.6h0M436.9 260.2h0M415.6 274.5h0M498.8 202.2h0M497.9 200.5h0M474.4 220.0h0M419.9 272.4h0M410.1 282.4h0M426.8 265.0h0M491.3 208.5h0M427.9 259.8h0M451.5 245.0h0M404.6 286.9h0M465.7 225.2h0M425.5 260.6h0M448.6 244.7h0M423.4 267.0h0M433.2 257.2h0M457.1 236.0h0M415.2 279.0h0M455.7 238.2h0M479.9 213.6h0M406.5 283.5h0M409.0 279.8h0M470.9 226.9h0M474.0 220.2h0M432.8 261.0h0M489.1 206.3h0M486.0 212.5h0M480.4 213.9h0M485.5 210.6h0M408.2 284.1h0M425.4 264.0h0M403.7 287.2h0M440.6 250.3h0M406.0 284.2h0M495.3 205.6h0M412.8 281.6h0M452.2 240.5h0M416.0 276.6h0M411.6 276.9h0M486.5 214.9h0M462.5 234.7h0M485.3 212.4h0M493.8 202.7h0M487.9 209.3h0M469.0 224.4h0M405.7 283.9h0M472.5 223.7h0M495.5 204.4h0M484.1 213.8h0M422.0 269.0h0M479.9 215.0h0M484.4 219.7h0M467.9 229.5h0M455.9 241.3h0M423.2 266.9h0M467.0 231.0h0M488.6 210.1h0M451.3 247.3h0M408.3 280.9h0M458.8 235.9h0M484.9 212.3h0M425.2 267.7h0M499.0 200.5h0M406.1 281.5h0M410.3 278.2h0M460.6 234.7h0M429.8 267.2h0M431.0 255.8h0M431.9 263.4h0M430.8 261.8h0M426.9 265.9h0M418.8 271.6h0M447.5 248.1h0M498.6 201.0h0M403.0 286.8h0M502.8 196.1h0M496.0 203.9h0M471.3 223.8h0M495.7 204.0h0M412.5 275.9h0M434.8 253.3h0M494.5 206.4h0M436.5 255.3h0M459.4 233.5h0M402.2 286.6h0M496.2 204.2h0M449.4 248.6h0M410.8 282.9h0M426.4 263.3h0M464.9 226.3h0M440.2 250.7h0M468.6 230.1h0M424.4 267.3h0M434.3 256.0h0M499.2 200.0h0M490.6 208.8h0M448.0 246.4h0M491.3 207.8h0M433.6 253.1h0M415.3 276.8h0M420.4 273.0h0M470.5 226.5h0M457.4 241.0h0M463.7 232.3h0M490.0 208.1h0M445.6 244.0h0M405.1 285.0h0M427.5 263.3h0M462.1 234.8h0M426.8 262.7h0M488.6 211.7h0M483.2 216.6h0M415.1 277.7h0M423.6 270.6h0M436.7 257.4h0M436.7 258.2h0M463.5 235.0h0M458.9 236.3h0M479.8 218.6h0M410.7 279.0h0M499.6 202.7h0M456.2 238.2h0M409.0 277.2h0M419.2 272.8h0M481.5 219.3h0M404.9 284.8h0M426.1 269.4h0M488.5 209.5h0M492.9 204.1h0M431.4 262.3h0M417.4 276.2h0M502.1 198.8h0M456.7 240.5h0M431.7 261.1h0M477.5 220.2h0M464.7 230.6h0M448.2 244.5h0M409.9 281.7h0M480.3 217.5h0M483.6 216.3h0M449.2 245.8h0M432.1 263.7h0M497.3 202.4h0M425.0 267.1h0M418.6 273.5h0M418.7 271.6h0M481.9 216.1h0M455.3 242.0h0M434.1 254.8h0M410.4 275.9h0M404.1 284.8h0M435.1 255.8h0M423.7 266.5h0M426.6 265.0h0M495.2 204.9h0M410.2 284.0h0M498.2 203.1h0M421.5 263.6h0M471.4 228.5h0M502.3 196.8h0M405.8 285.9h0M435.1 261.3h0M501.5 199.3h0M474.4 224.2h0M411.0 277.5h0M414.8 277.2h0M456.1 239.2h0M459.1 235.9h0M403.1 284.9h0M424.6 264.1h0M427.3 266.0h0M454.6 241.3h0M447.9 242.6h0M415.2 277.9h0M410.7 279.6h0M447.4 247.9h0M476.5 219.1h0M408.1 283.1h0M402.2 283.4h0M418.0 271.7h0M481.7 214.7h0M493.4 201.5h0M436.9 256.6h0M436.0 258.4h0M453.6 241.5h0M462.3 234.3h0M465.0 235.8h0M428.7 265.0h0M403.5 284.5h0M488.4 216.1h0M432.5 261.4h0M421.4 272.6h0M450.3 246.0h0M503.8 198.2h0M437.7 254.4h0M495.2 204.3h0M462.0 239.2h0M483.4 212.8h0M413.6 277.4h0M487.5 213.7h0M489.3 213.2h0M415.8 273.4h0M448.4 245.9h0M467.9 226.9h0M412.3 277.4h0M495.2 204.7h0M404.1 283.5h0M407.4 284.0h0M412.8 278.2h0M502.5 200.6h0M429.4 262.2h0M491.5 210.1h0M410.8 282.5h0M471.2 227.7h0M470.1 228.8h0M495.2 204.6h0M462.1 234.4h0M485.8 211.5h0M408.2 281.2h0M478.4 220.9h0M407.6 281.9h0M420.4 268.3h0M438.1 254.2h0M452.5 238.1h0M476.4 219.3h0M411.4 281.0h0M490.7 205.7h0M441.1 252.3h0M499.0 197.8h0M428.7 259.7h0M429.2 265.2h0M425.9 267.7h0M420.5 265.4h0M413.1 276.5h0M468.8 224.1h0M463.4 231.7h0M463.2 233.3h0M403.2 285.2h0M469.3 221.8h0M487.9 209.2h0M502.0 199.8h0M476.2 226.0h0M458.1 236.2h0M412.2 277.2h0M467.0 234.4h0M435.9 257.2h0M445.7 251.0h0M495.8 204.7h0M483.0 211.3h0M457.8 237.6h0M451.8 239.7h0M412.7 275.7h0M430.0 265.7h0M405.2 285.3h0M436.0 256.5h0M472.1 219.4h0M474.8 219.5h0M502.0 196.6h0M403.9 284.1h0M474.7 222.5h0M474.9 225.1h0M411.8 274.9h0M431.8 262.3h0M487.8 212.4h0M434.0 257.0h0M415.1 272.8h0M435.0 255.5h0M498.1 202.9h0M459.6 239.8h0M452.8 242.8h0M407.3 281.0h0M411.8 278.0h0M410.5 277.9h0M425.5 263.1h0M482.9 213.3h0M406.3 282.8h0M445.5 256.9h0M435.4 256.4h0M419.6 273.5h0M498.0 206.0h0M489.6 209.1h0M410.1 281.0h0M418.3 270.6h0M471.6 219.6h0M411.9 274.3h0M456.0 237.0h0M454.0 237.8h0M501.7 196.1h0M484.7 209.0h0M481.9 213.5h0M407.7 285.2h0M402.8 286.9h0M425.1 267.0h0M434.9 259.7h0M408.9 278.4h0M500.3 200.3h0M414.9 279.2h0M464.9 229.0h0M466.2 231.7h0M406.5 280.6h0M404.7 284.2h0M447.7 252.3h0M490.0 205.2h0M494.0 206.2h0M493.1 209.1h0M466.6 231.4h0M491.2 209.0h0M496.2 205.0h0M496.5 200.7h0M403.4 284.8h0M483.2 214.9h0M484.8 214.5h0M449.1 240.0h0M501.0 200.9h0M403.5 287.4h0M407.4 280.5h0M439.5 256.8h0M478.8 219.8h0M445.4 251.7h0M441.9 247.8h0M487.6 213.3h0M405.5 282.8h0M467.1 226.2h0M477.9 222.2h0M440.6 249.5h0M463.4 231.5h0M402.2 285.1h0M445.9 248.4h0M410.9 282.4h0M434.4 258.9h0M412.7 276.7h0M407.0 283.4h0M488.9 209.6h0M460.4 237.5h0M412.4 276.8h0M404.3 283.6h0M412.3 280.3h0M464.0 237.7h0M436.9 256.3h0M500.6 199.1h0M423.5 266.8h0M414.2 279.6h0M433.8 259.5h0M405.6 285.7h0M476.3 223.1h0M436.2 260.0h0M437.2 252.7h0M452.0 242.0h0M412.5 277.2h0M449.3 241.2h0M488.1 210.0h0M490.0 206.6h0M408.8 283.4h0M410.9 278.2h0M418.3 275.7h0M461.7 233.5h0M413.8 277.1h0M495.3 203.9h0M413.2 279.4h0M464.5 226.5h0M486.4 209.7h0M440.1 247.4h0M486.2 215.2h0M452.0 239.2h0M464.1 236.2h0M408.4 281.5h0M407.8 284.6h0M428.6 259.0h0M438.0 256.1h0M441.2 249.6h0M404.1 287.4h0M483.2 215.0h0M447.5 243.1h0M449.7 246.7h0M408.6 278.8h0M411.9 276.5h0M441.5 254.8h0M474.9 223.2h0M499.1 198.2h0M458.3 242.2h0M490.2 209.3h0M478.3 222.9h0M491.4 207.5h0M494.5 206.4h0M410.0 279.9h0M445.2 246.2h0M475.0 224.1h0M473.2 228.1h0M443.0 250.7h0M410.1 284.7h0M492.8 205.5h0M492.0 207.7h0M452.2 244.1h0M409.6 279.6h0M439.2 257.1h0M430.5 261.3h0M497.4 202.2h0M422.2 270.3h0M461.3 227.3h0M405.6 284.8h0M483.6 218.2h0M503.2 196.1h0M421.8 265.1h0M412.9 276.3h0M488.3 210.8h0M501.4 199.4h0M477.2 221.0h0M406.2 285.4h0M416.6 267.5h0M460.3 234.5h0M412.9 278.7h0M424.3 264.7h0M500.9 197.1h0M415.3 277.9h0M457.0 238.7h0M453.8 242.5h0M471.2 229.2h0M420.5 266.9h0M430.1 266.7h0M462.6 228.8h0M494.1 205.9h0M415.2 275.5h0M427.8 266.1h0M493.9 208.9h0M452.8 247.1h0M435.1 255.6h0M412.6 277.4h0M426.4 260.5h0M442.1 244.8h0M467.3 228.4h0M418.6 271.5h0M420.2 276.6h0M413.1 277.9h0M436.9 254.1h0M489.8 209.8h0M408.9 283.9h0M427.5 263.7h0M430.4 267.3h0M408.7 281.8h0M404.9 284.1h0M415.1 278.7h0M489.6 205.6h0M450.9 249.0h0M460.7 231.0h0M422.7 267.5h0M404.2 287.2h0M420.5 265.3h0M454.1 236.6h0M500.9 199.7h0M456.5 236.9h0M439.3 252.7h0M425.3 266.0h0M465.3 234.7h0M409.1 276.7h0M445.4 248.9h0M435.8 259.4h0M425.1 262.7h0M422.7 271.8h0M480.7 213.6h0M414.4 280.3h0M481.8 217.7h0M440.4 248.8h0M504.0 197.2h0M449.9 240.5h0M450.0 247.8h0M403.8 284.8h0M493.6 204.5h0M454.7 241.5h0M405.2 282.9h0M409.9 279.7h0M498.0 201.2h0M479.8 215.9h0M463.7 230.1h0M434.0 260.4h0M408.1 282.3h0M450.7 240.5h0M424.9 266.1h0M407.1 283.9h0M438.5 256.0h0M500.7 196.1h0M485.5 215.2h0M407.6 281.0h0M414.2 280.7h0M482.8 210.1h0M442.5 249.6h0M423.0 270.3h0M422.0 265.4h0M459.2 234.2h0M444.1 252.5h0M402.2 285.5h0M422.4 265.2h0M403.0 287.4h0M473.7 220.4h0M450.5 248.8h0M427.7 266.8h0M407.4 281.1h0M487.2 209.8h0M413.5 278.0h0M470.9 227.7h0M430.6 264.5h0M413.1 275.3h0M402.9 286.0h0M502.3 199.0h0M422.3 269.0h0M419.6 272.3h0M442.3 250.8h0M486.5 211.6h0M418.9 271.9h0M405.2 284.7h0M456.9 235.5h0M433.6 258.1h0M408.1 281.2h0M422.4 270.6h0M445.1 249.3h0M479.5 222.0h0M498.4 203.2h0M476.8 221.6h0M438.0 252.7h0M419.7 274.3h0M411.8 282.4h0M497.2 199.9h0M480.2 215.6h0M497.5 199.7h0M435.1 261.5h0M407.2 282.7h0M451.0 241.9h0M468.9 231.7h0M409.2 279.5h0M478.6 223.4h0M407.9 283.2h0M447.0 244.7h0M465.4 227.6h0M412.2 277.9h0M478.3 220.5h0M442.9 248.9h0M426.6 264.6h0M411.9 280.0h0M442.8 250.2h0M421.2 271.1h0M412.7 275.2h0M487.0 211.8h0M412.2 279.2h0M406.4 281.7h0M406.4 284.2h0M476.8 218.1h0M496.7 202.9h0M495.0 202.5h0M413.1 278.1h0M450.8 246.1h0M486.8 209.3h0M500.9 196.2h0M425.9 259.7h0M411.3 277.2h0M473.2 225.7h0M436.6 254.3h0M496.1 202.6h0M414.8 277.5h0M483.9 216.2h0M470.8 226.4h0M463.3 232.6h0M454.4 241.5h0M502.6 197.3h0M414.3 277.1h0M405.5 286.2h0M469.8 224.6h0M468.9 231.3h0M425.7 272.0h0M433.0 255.2h0M502.6 196.4h0M459.8 232.4h0M409.7 282.5h0M434.9 258.2h0M436.1 248.6h0M502.5 198.8h0M413.4 277.3h0M422.2 271.5h0M404.9 286.0h0M449.6 248.3h0M451.6 245.7h0M448.8 242.9h0M498.6 201.9h0M492.8 209.1h0M427.1 265.0h0M443.7 246.0h0M426.7 268.8h0M503.5 200.6h0M450.7 239.6h0M453.0 244.2h0M461.7 232.1h0M490.3 211.1h0M452.2 243.2h0M494.9 203.6h0M403.9 284.3h0M484.2 216.7h0M403.8 283.3h0M467.6 233.8h0M487.3 208.9h0M482.1 217.8h0M406.7 283.8h0M405.9 285.2h0M463.0 235.4h0M404.1 283.7h0M476.6 223.4h0M483.5 216.0h0M417.4 273.1h0M479.7 218.6h0M416.4 276.8h0M467.0 226.1h0M445.6 246.8h0M470.5 227.6h0M404.6 284.0h0M462.8 231.0h0M412.7 271.7h0M471.5 221.8h0M433.7 260.7h0M447.7 245.9h0M469.4 226.5h0M408.3 282.8h0M489.4 205.8h0M452.6 237.3h0M449.8 247.6h0M402.2 286.5h0M425.2 265.1h0M440.2 260.7h0M443.8 245.6h0M423.9 269.1h0M462.3 234.7h0M408.6 284.4h0M430.0 267.5h0M439.3 253.4h0M490.2 206.5h0M452.6 242.6h0M415.5 276.0h0M415.0 274.1h0M434.1 259.1h0M420.3 269.0h0M502.7 197.1h0M402.7 284.4h0M440.4 254.4h0M451.1 241.5h0M428.9 263.5h0M439.7 249.5h0M448.0 238.4h0M413.8 274.5h0M423.8 272.9h0M446.8 251.6h0M412.3 276.9h0M434.6 258.3h0M404.2 286.4h0M447.3 243.9h0M404.7 284.7h0M430.1 259.3h0M420.0 270.7h0M408.5 280.3h0M418.7 273.9h0M419.9 272.8h0M491.4 205.7h0M444.4 249.0h0M465.8 234.4h0M418.1 275.9h0M496.3 205.4h0M483.2 215.1h0M413.8 278.2h0M494.9 207.4h0M424.5 268.9h0M459.8 233.0h0M408.5 278.6h0M425.3 264.6h0M434.6 258.2h0M440.0 247.5h0M441.2 255.2h0M445.6 242.1h0M438.0 247.9h0M488.2 211.1h0M423.2 271.7h0M438.4 252.7h0M448.9 249.2h0M467.8 233.6h0M409.3 280.4h0M438.8 250.5h0M480.5 217.0h0M442.9 254.6h0M451.1 239.3h0M434.1 263.4h0M477.1 220.1h0M439.5 254.8h0M443.4 256.9h0M426.9 263.8h0M418.6 274.2h0M452.0 237.7h0M414.9 279.9h0M462.1 233.7h0M425.5 269.6h0M403.5 286.8h0M414.2 274.8h0M469.8 230.5h0M477.7 216.6h0M482.2 216.8h0M479.7 221.5h0M487.3 207.4h0M446.2 242.6h0M404.4 283.8h0M405.0 284.9h0M428.0 266.6h0M412.8 278.3h0M412.9 274.7h0M465.2 236.6h0M422.7 271.3h0M414.7 280.9h0M472.6 222.1h0M454.7 243.7h0M405.9 284.6h0M449.0 250.2h0M408.8 282.7h0M406.8 285.5h0M422.5 266.1h0M405.5 287.0h0M428.8 265.0h0M405.1 286.4h0M407.3 280.7h0M410.6 278.0h0M426.8 272.9h0M498.5 200.6h0M423.9 269.0h0M430.6 259.6h0M404.3 285.8h0M466.9 231.9h0M409.1 284.6h0M405.2 281.0h0M459.6 236.9h0M434.1 261.6h0M485.5 211.8h0M408.1 286.3h0M428.6 265.6h0M406.4 285.6h0M403.0 287.4h0M416.5 273.0h0M501.3 197.8h0M404.2 287.4h0M431.9 254.9h0M431.4 263.7h0M402.6 285.8h0M413.6 277.8h0M406.3 283.7h0M465.6 225.5h0M465.7 234.0h0M443.1 254.3h0M439.4 253.5h0M501.2 200.0h0M491.9 204.9h0M403.8 287.4h0M487.6 208.2h0M442.1 250.7h0M432.0 261.0h0M441.2 252.9h0M488.4 214.1h0M435.4 254.4h0M496.5 203.2h0M417.1 275.7h0M414.4 280.7h0M470.8 227.0h0M496.8 201.9h0M419.0 271.6h0M490.0 209.3h0M474.8 220.8h0M447.6 240.6h0M438.5 253.9h0M477.8 223.1h0M411.4 275.4h0M484.4 215.6h0M405.1 285.7h0M415.6 274.6h0M498.1 205.3h0M447.5 250.9h0M429.6 266.6h0M494.9 205.6h0M413.2 277.7h0M455.6 238.9h0M453.3 242.2h0M408.2 282.7h0M411.4 277.5h0M440.0 250.2h0M402.2 285.7h0M402.4 287.4h0M420.3 272.4h0M437.6 253.9h0M496.2 204.2h0M411.4 278.7h0M410.9 279.7h0M450.9 242.9h0M467.1 231.4h0M411.2 276.2h0M436.6 255.7h0M475.7 221.4h0M495.0 205.1h0M402.5 286.4h0M487.4 211.7h0M460.9 231.6h0M437.6 257.9h0M479.7 221.7h0M502.5 198.7h0M492.0 208.9h0M478.9 214.5h0M460.2 238.1h0M498.8 203.4h0M411.5 280.0h0M411.8 278.2h0M450.4 244.9h0M465.3 231.3h0M437.6 252.1h0M483.0 218.3h0M435.8 258.5h0M473.6 230.2h0M452.0 244.3h0M425.4 266.0h0M440.8 252.7h0M407.7 280.2h0M420.1 273.1h0M496.0 201.4h0M409.2 281.9h0M407.6 283.6h0M436.9 251.6h0M472.3 226.3h0M412.0 279.3h0M409.5 280.0h0M418.0 274.4h0M442.3 255.0h0M492.7 202.8h0M418.9 272.3h0M492.9 206.5h0M410.4 275.5h0M429.2 265.5h0M407.2 284.7h0M458.4 232.5h0M405.5 282.6h0M418.3 271.1h0M445.6 254.6h0M455.9 239.4h0M472.1 223.9h0M411.1 281.9h0M473.7 227.9h0M410.3 280.1h0M480.1 218.4h0M403.6 284.2h0M409.9 281.1h0M434.4 255.3h0M447.5 244.9h0M453.3 238.9h0M406.8 282.8h0M497.2 201.3h0M460.3 234.4h0M462.5 234.7h0M408.8 280.6h0M411.0 278.1h0M481.3 215.1h0M461.6 233.7h0M478.2 216.5h0M457.0 232.9h0M459.7 237.5h0M455.2 242.5h0M453.1 247.8h0M426.8 270.4h0M460.3 233.8h0M407.1 284.0h0M451.7 237.2h0M488.3 215.2h0M491.4 207.9h0M422.5 266.9h0M465.3 233.3h0M479.7 217.2h0M473.2 222.2h0M419.6 267.9h0M422.0 273.1h0M457.4 232.8h0M432.6 259.9h0M478.3 217.3h0M434.8 255.4h0M409.4 280.0h0M413.3 274.1h0M469.8 229.1h0M487.2 210.6h0M503.4 196.1h0M486.5 211.9h0M443.7 248.9h0M500.0 200.2h0M445.1 245.2h0M413.7 275.9h0M497.9 204.2h0M457.8 243.2h0M423.7 269.0h0M414.9 273.5h0M435.9 260.9h0M473.6 226.3h0M406.9 283.0h0M432.9 257.9h0M463.4 236.8h0M438.4 256.1h0M476.2 226.2h0M453.1 242.1h0M496.3 200.6h0M411.7 280.5h0M428.1 264.3h0M427.9 261.1h0M471.8 227.4h0M432.6 260.5h0M442.3 250.5h0M406.7 283.8h0M410.2 277.2h0M486.8 212.1h0M481.1 216.3h0M413.8 273.4h0M421.3 268.4h0M458.9 234.0h0M444.8 251.3h0M415.7 269.3h0M437.3 258.5h0M423.0 261.3h0M498.3 204.1h0M428.5 256.8h0M442.1 251.5h0M500.6 200.7h0M489.3 213.4h0M489.0 211.1h0M411.1 277.8h0M464.4 230.1h0M500.5 200.2h0M479.3 221.5h0M477.4 220.2h0M416.0 270.6h0M435.7 254.4h0M403.3 286.6h0M421.5 270.6h0M403.7 284.3h0M486.5 211.7h0M405.0 282.1h0M479.8 219.6h0M407.7 281.4h0M483.8 213.9h0M447.3 247.9h0M413.6 274.3h0M406.5 284.0h0M429.0 263.5h0M446.8 254.8h0M420.5 272.8h0M426.7 263.6h0M419.3 270.5h0M500.2 197.2h0M408.1 283.6h0M433.9 261.7h0M408.4 279.8h0M405.6 280.7h0M494.6 203.9h0M495.3 202.5h0M435.4 258.0h0M428.2 264.8h0M473.6 223.4h0M414.8 273.9h0M499.4 197.6h0M491.9 206.0h0M462.0 235.1h0M407.6 282.5h0M497.1 199.3h0M483.4 211.8h0M415.9 273.0h0M445.6 246.7h0M457.0 236.9h0M492.0 206.3h0M436.7 255.4h0M432.7 263.0h0M451.2 242.8h0M452.7 243.0h0M465.2 228.7h0M463.6 236.1h0M459.3 234.8h0M429.3 264.5h0M468.6 230.7h0M450.2 241.5h0M424.7 272.0h0M476.0 221.0h0M402.5 286.6h0M502.5 197.5h0M418.0 274.3h0M410.0 279.3h0M449.2 247.0h0M420.3 272.8h0M410.0 277.4h0M405.3 281.9h0M469.3 225.6h0M454.1 243.2h0M432.7 258.9h0M477.2 218.6h0M443.9 247.5h0M430.1 263.6h0M447.1 251.0h0M483.8 213.0h0M472.2 227.7h0M439.3 253.3h0M476.4 221.5h0M479.0 215.6h0M404.8 284.1h0M402.2 286.8h0M462.1 233.4h0M465.3 233.8h0M404.6 283.8h0M480.8 217.8h0M432.0 257.5h0M421.0 271.2h0M451.8 241.7h0M496.9 203.9h0M499.7 199.5h0M454.7 242.5h0M408.2 281.2h0M408.2 284.3h0M442.6 247.1h0M473.0 223.7h0M432.1 256.7h0M445.0 255.4h0M424.1 264.9h0M442.6 250.1h0M467.1 230.1h0M493.1 207.9h0M476.2 223.0h0M451.7 241.6h0M463.1 229.7h0M428.3 268.0h0M403.2 286.7h0M448.2 247.5h0M445.8 251.5h0M441.5 249.3h0M402.8 287.4h0M484.4 216.4h0M418.4 279.1h0M413.7 279.3h0M415.0 271.9h0M404.7 287.4h0M466.4 227.8h0M405.0 284.7h0M475.4 226.2h0M405.8 283.3h0M489.6 209.7h0M450.6 247.8h0M450.9 240.2h0M441.4 252.6h0M408.6 280.6h0M444.7 248.2h0M468.9 227.9h0M460.6 233.4h0M402.2 285.5h0M423.0 273.4h0M436.4 257.4h0M442.0 253.8h0M422.4 269.0h0M428.1 259.4h0M407.0 284.2h0M425.6 267.3h0M435.2 256.8h0M405.9 282.2h0M459.0 232.0h0M408.0 282.4h0M471.1 225.3h0M408.4 281.5h0M406.4 281.4h0M433.7 262.2h0M436.5 256.6h0M405.8 282.1h0M408.8 280.5h0M438.7 254.3h0M410.4 279.4h0M499.3 203.1h0M436.9 256.2h0M411.4 279.1h0M437.1 254.2h0M465.6 229.8h0M427.9 266.9h0M417.1 276.9h0M475.6 219.3h0M498.1 201.1h0M457.1 238.5h0M430.2 258.8h0M468.8 229.0h0M435.6 260.0h0M480.6 218.7h0M492.2 204.0h0M471.4 228.7h0M491.2 206.2h0M404.9 285.0h0M429.3 266.2h0M474.9 217.1h0M436.4 257.2h0M455.6 247.3h0M494.5 206.7h0M466.3 229.8h0M457.7 239.6h0M463.7 232.9h0M408.6 283.4h0M407.4 280.1h0M486.8 210.5h0M402.5 286.3h0M403.0 286.3h0M484.8 210.6h0M436.7 261.4h0M462.1 236.2h0M501.6 199.3h0M412.4 280.1h0M445.7 247.0h0M455.3 235.9h0M459.3 237.5h0M493.6 207.7h0M466.8 231.7h0M489.3 206.6h0M423.6 265.8h0M453.2 239.1h0M500.4 200.8h0M473.4 224.7h0M408.5 280.4h0M440.0 251.4h0M480.1 215.9h0M481.8 211.9h0M411.4 279.3h0M469.8 222.1h0M460.6 234.1h0M488.1 210.4h0M405.3 283.2h0M407.6 277.3h0M471.3 226.1h0M482.7 212.6h0M419.8 272.9h0M469.2 231.6h0M453.5 242.3h0M482.1 215.2h0M450.9 239.8h0M406.3 283.4h0M464.1 232.9h0M426.0 266.5h0M410.1 281.4h0M441.5 256.2h0M492.4 203.5h0M437.5 253.8h0M435.4 252.8h0M481.9 216.6h0M485.1 218.8h0M490.3 209.4h0M403.7 284.9h0M411.8 279.1h0M404.1 285.9h0M405.7 283.0h0M429.7 264.2h0M496.8 203.7h0M466.1 228.9h0M443.7 251.0h0M421.8 273.6h0M413.8 280.0h0M464.4 230.6h0M485.1 216.6h0M441.4 251.4h0M441.0 250.5h0M448.4 255.9h0M405.5 284.7h0M500.0 202.4h0M482.0 213.9h0M407.8 281.2h0M474.4 222.7h0M473.7 223.2h0M465.9 221.9h0M421.2 271.9h0M466.8 231.1h0M406.3 282.5h0M421.9 270.0h0M480.2 221.2h0M433.0 260.0h0M479.0 217.8h0M494.5 207.5h0M467.3 230.7h0M477.7 220.5h0M458.5 243.5h0M406.5 285.4h0M430.5 258.9h0M438.9 247.6h0M425.9 272.0h0M440.4 257.6h0M478.5 213.1h0" stroke="#c4c8c6" stroke-width="1.5" stroke-linecap="round" fill="none"/>
<rect x="398.3" y="193.0" width="108.69999999999999" height="97.39999999999998" fill="none" stroke="#161616" stroke-width="1.35"/>
<line x1="395.3" y1="287.4" x2="398.3" y2="287.4" stroke="#161616" stroke-width="1.1"/>
<text x="393.1" y="289.79999999999995" font-size="6.8" text-anchor="end" fill="#231f20" stroke="#231f20">0</text>
<line x1="402.2" y1="290.4" x2="402.2" y2="293.4" stroke="#161616" stroke-width="1.1"/>
<text x="402.2" y="302.0" font-size="6.8" text-anchor="middle" fill="#231f20" stroke="#231f20">0</text>
<line x1="395.3" y1="269.14" x2="398.3" y2="269.14" stroke="#161616" stroke-width="1.1"/>
<text x="393.1" y="271.53999999999996" font-size="6.8" text-anchor="end" fill="#231f20" stroke="#231f20">0.2</text>
<line x1="422.56" y1="290.4" x2="422.56" y2="293.4" stroke="#161616" stroke-width="1.1"/>
<text x="422.56" y="302.0" font-size="6.8" text-anchor="middle" fill="#231f20" stroke="#231f20">0.2</text>
<line x1="395.3" y1="250.87999999999997" x2="398.3" y2="250.87999999999997" stroke="#161616" stroke-width="1.1"/>
<text x="393.1" y="253.27999999999997" font-size="6.8" text-anchor="end" fill="#231f20" stroke="#231f20">0.4</text>
<line x1="442.91999999999996" y1="290.4" x2="442.91999999999996" y2="293.4" stroke="#161616" stroke-width="1.1"/>
<text x="442.91999999999996" y="302.0" font-size="6.8" text-anchor="middle" fill="#231f20" stroke="#231f20">0.4</text>
<line x1="395.3" y1="232.61999999999998" x2="398.3" y2="232.61999999999998" stroke="#161616" stroke-width="1.1"/>
<text x="393.1" y="235.01999999999998" font-size="6.8" text-anchor="end" fill="#231f20" stroke="#231f20">0.6</text>
<line x1="463.28" y1="290.4" x2="463.28" y2="293.4" stroke="#161616" stroke-width="1.1"/>
<text x="463.28" y="302.0" font-size="6.8" text-anchor="middle" fill="#231f20" stroke="#231f20">0.6</text>
<line x1="395.3" y1="214.35999999999996" x2="398.3" y2="214.35999999999996" stroke="#161616" stroke-width="1.1"/>
<text x="393.1" y="216.75999999999996" font-size="6.8" text-anchor="end" fill="#231f20" stroke="#231f20">0.8</text>
<line x1="483.64" y1="290.4" x2="483.64" y2="293.4" stroke="#161616" stroke-width="1.1"/>
<text x="483.64" y="302.0" font-size="6.8" text-anchor="middle" fill="#231f20" stroke="#231f20">0.8</text>
<line x1="395.3" y1="196.09999999999997" x2="398.3" y2="196.09999999999997" stroke="#161616" stroke-width="1.1"/>
<text x="393.1" y="198.49999999999997" font-size="6.8" text-anchor="end" fill="#231f20" stroke="#231f20">1.0</text>
<line x1="504.0" y1="290.4" x2="504.0" y2="293.4" stroke="#161616" stroke-width="1.1"/>
<text x="504.0" y="302.0" font-size="6.8" text-anchor="middle" fill="#231f20" stroke="#231f20">1.0</text>
<text transform="translate(379.6,242.0) rotate(-90)" font-size="7.9" text-anchor="middle" fill="#231f20" stroke="#231f20" textLength="27.8" lengthAdjust="spacingAndGlyphs">WT(+/+)</text>
<text x="453.4" y="315.0" font-size="8.4" text-anchor="middle" fill="#231f20" stroke="#231f20" textLength="36.5" lengthAdjust="spacingAndGlyphs">KI (P95H/+)</text>
<text x="305.0" y="180.6" font-size="6.9" text-anchor="middle" fill="#231f20" stroke="#231f20" textLength="66.8" lengthAdjust="spacingAndGlyphs">Skipped (casette) exons</text>
<text x="453.5" y="180.4" font-size="6.9" text-anchor="middle" fill="#231f20" stroke="#231f20" textLength="70" lengthAdjust="spacingAndGlyphs">Mutually exclusive exons</text>
<text x="241.2" y="188.4" font-size="6.7" fill="#231f20" stroke="#231f20" textLength="126.5" lengthAdjust="spacingAndGlyphs">n=49397; <tspan fill="#4f5aa8" stroke="#4f5aa8">●</tspan> =1826 (P&lt;0.05); <tspan fill="#b3304a" stroke="#b3304a">●</tspan> = 434 (q&lt;0.05)</text>
<text x="393.6" y="188.4" font-size="6.7" fill="#231f20" stroke="#231f20" textLength="119" lengthAdjust="spacingAndGlyphs">n=11403; <tspan fill="#4f5aa8" stroke="#4f5aa8">●</tspan> =821 (P&lt;0.05); <tspan fill="#b3304a" stroke="#b3304a">●</tspan> = 76 (q&lt;0.05)</text>
<defs><filter id="bl" x="-20%" y="-50%" width="140%" height="200%"><feGaussianBlur stdDeviation="0.6"/></filter><filter id="bl2" x="-20%" y="-80%" width="140%" height="260%"><feGaussianBlur stdDeviation="0.9"/></filter><linearGradient id="gelF" x1="0" y1="0" x2="1" y2="0"><stop offset="0" stop-color="#d8d8d8"/><stop offset="0.12" stop-color="#e2e2e2"/><stop offset="1" stop-color="#e9e9e9"/></linearGradient></defs>
<rect x="9.3" y="343.7" width="65.10000000000001" height="104.69999999999999" fill="url(#gelF)"/>
<rect x="26.3" y="348" width="9.7" height="96" fill="#dedede" opacity="0.6"/>
<rect x="38.9" y="348" width="8.700000000000003" height="96" fill="#dedede" opacity="0.6"/>
<rect x="50.5" y="348" width="9.700000000000003" height="96" fill="#dedede" opacity="0.6"/>
<rect x="62.2" y="348" width="9.700000000000003" height="96" fill="#dedede" opacity="0.6"/>
<rect x="17.3" y="350.5" width="7.4" height="2.0" rx="0.8" fill="#333" filter="url(#bl)"/>
<rect x="17.3" y="353.0" width="7.4" height="1.8" rx="0.8" fill="#444" filter="url(#bl)"/>
<rect x="17.3" y="355.8" width="7.4" height="1.9" rx="0.8" fill="#333" filter="url(#bl)"/>
<rect x="17.3" y="358.6" width="7.4" height="1.9" rx="0.8" fill="#444" filter="url(#bl)"/>
<rect x="17.3" y="361.4" width="7.4" height="1.9" rx="0.8" fill="#333" filter="url(#bl)"/>
<rect x="17.3" y="364.4" width="7.4" height="1.9" rx="0.8" fill="#444" filter="url(#bl)"/>
<rect x="17.3" y="367.9" width="7.4" height="1.9" rx="0.8" fill="#3a3a3a" filter="url(#bl)"/>
<rect x="17.3" y="371.0" width="7.4" height="1.8" rx="0.8" fill="#444" filter="url(#bl)"/>
<rect x="17.3" y="374.4" width="7.4" height="1.8" rx="0.8" fill="#3a3a3a" filter="url(#bl)"/>
<rect x="17.3" y="378.6" width="7.4" height="1.8" rx="0.8" fill="#444" filter="url(#bl)"/>
<rect x="17.3" y="385.4" width="7.4" height="1.9" rx="0.8" fill="#333" filter="url(#bl)"/>
<rect x="17.3" y="393.5" width="7.4" height="1.8" rx="0.8" fill="#444" filter="url(#bl)"/>
<rect x="17.3" y="402.5" width="7.4" height="3.0" rx="0.8" fill="#0a0a0a" filter="url(#bl)"/>
<rect x="17.3" y="415.2" width="7.4" height="1.9" rx="0.8" fill="#555" filter="url(#bl)"/>
<rect x="17.3" y="430.9" width="7.4" height="1.8" rx="0.8" fill="#9a9a9a" filter="url(#bl)"/>
<rect x="17.3" y="440.8" width="7.4" height="1.7" rx="0.8" fill="#bbbbbb" filter="url(#bl)"/>
<rect x="27.1" y="385.1" width="8.4" height="2.6" fill="#1a1a1a" rx="1" filter="url(#bl)"/>
<rect x="39.4" y="385.1" width="7.7" height="2.6" fill="#3a3a3a" rx="1" filter="url(#bl)"/>
<rect x="51.0" y="385.1" width="8.7" height="2.6" fill="#1f1f1f" rx="1" filter="url(#bl)"/>
<rect x="62.7" y="385.1" width="8.7" height="2.6" fill="#262626" rx="1" filter="url(#bl)"/>
<rect x="27.1" y="394.0" width="8.4" height="2.4" fill="#c6c6c6" rx="1" filter="url(#bl)"/>
<rect x="39.4" y="394.0" width="7.7" height="2.4" fill="#c3c3c3" rx="1" filter="url(#bl)"/>
<rect x="51.0" y="394.0" width="8.7" height="2.4" fill="#d0d0d0" rx="1" filter="url(#bl)"/>
<rect x="62.7" y="394.0" width="8.7" height="2.4" fill="#cccccc" rx="1" filter="url(#bl)"/>
<rect x="27.1" y="404.9" width="8.4" height="2.6" fill="#333" rx="1" filter="url(#bl)"/>
<rect x="39.4" y="404.9" width="7.7" height="2.6" fill="#262626" rx="1" filter="url(#bl)"/>
<rect x="51.0" y="404.9" width="8.7" height="2.6" fill="#8a8a8a" rx="1" filter="url(#bl)"/>
<rect x="62.7" y="404.9" width="8.7" height="2.6" fill="#6a6a6a" rx="1" filter="url(#bl)"/>
<rect x="27.1" y="431.6" width="8.4" height="2.8" fill="#9a9a9a" rx="1" filter="url(#bl)"/>
<rect x="39.4" y="431.6" width="7.7" height="2.8" fill="#909090" rx="1" filter="url(#bl)"/>
<rect x="51.0" y="431.6" width="8.7" height="2.8" fill="#8a8a8a" rx="1" filter="url(#bl)"/>
<rect x="62.7" y="431.6" width="8.7" height="2.8" fill="#7c7c7c" rx="1" filter="url(#bl)"/>
<text x="43.8" y="340.3" font-size="7.0" text-anchor="middle" font-style="italic" fill="#231f20" stroke="#231f20" textLength="31.8" lengthAdjust="spacingAndGlyphs">Ptprc/Cd45</text>
<text x="37.0" y="352.6" font-size="7.0" text-anchor="middle" fill="#231f20" stroke="#231f20" textLength="9.7" lengthAdjust="spacingAndGlyphs">+/+</text>
<text x="61.2" y="352.6" font-size="7.0" text-anchor="middle" fill="#231f20" stroke="#231f20" textLength="21.4" lengthAdjust="spacingAndGlyphs">P95H/+</text>
<line x1="28.3" y1="354.6" x2="46.7" y2="354.6" stroke="#161616" stroke-width="1.0"/>
<line x1="50.5" y1="354.6" x2="71.9" y2="354.6" stroke="#161616" stroke-width="1.0"/>
<text x="31.4" y="447.2" font-size="6.8" text-anchor="middle" fill="#231f20" stroke="#231f20">34</text>
<text x="43.3" y="447.2" font-size="6.8" text-anchor="middle" fill="#231f20" stroke="#231f20">39</text>
<text x="55.3" y="447.2" font-size="6.8" text-anchor="middle" fill="#231f20" stroke="#231f20">19</text>
<text x="67.1" y="447.2" font-size="6.8" text-anchor="middle" fill="#231f20" stroke="#231f20">24</text>
<text x="75.8" y="447.2" font-size="6.6" text-anchor="start" fill="#231f20" stroke="#231f20" textLength="53" lengthAdjust="spacingAndGlyphs">CD45RB % of total</text>
<text x="82.7" y="389.0" font-size="6.6" text-anchor="start" fill="#231f20" stroke="#231f20" textLength="33.5" lengthAdjust="spacingAndGlyphs">CD45RABC</text>
<text x="82.7" y="395.29999999999995" font-size="6.6" text-anchor="start" fill="#231f20" stroke="#231f20" textLength="29" lengthAdjust="spacingAndGlyphs">CD45RAB</text>
<text x="82.7" y="403.79999999999995" font-size="6.6" text-anchor="start" fill="#231f20" stroke="#231f20" textLength="29" lengthAdjust="spacingAndGlyphs">CD45RBC</text>
<text x="82.7" y="414.79999999999995" font-size="6.6" text-anchor="start" fill="#231f20" stroke="#231f20" textLength="25" lengthAdjust="spacingAndGlyphs">CD45RB</text>
<text x="82.7" y="436.4" font-size="6.6" text-anchor="start" fill="#231f20" stroke="#231f20" textLength="25" lengthAdjust="spacingAndGlyphs">CD45RO</text>
<line x1="76.5" y1="386.4" x2="80.6" y2="386.4" stroke="#161616" stroke-width="1.1"/>
<line x1="76.5" y1="412.2" x2="80.6" y2="412.2" stroke="#161616" stroke-width="1.1"/>
<line x1="76.5" y1="433.8" x2="80.6" y2="433.8" stroke="#161616" stroke-width="1.1"/>
<line x1="76.2" y1="396.2" x2="80.9" y2="393.6" stroke="#161616" stroke-width="1.3"/>
<line x1="75.8" y1="398.3" x2="81.4" y2="401.7" stroke="#161616" stroke-width="1.3"/>
<text x="103.5" y="367.3" font-size="6.6" text-anchor="start" fill="#231f20" stroke="#231f20" textLength="16.2" lengthAdjust="spacingAndGlyphs">CD45</text>
<text x="103.5" y="375.8" font-size="6.6" text-anchor="start" fill="#231f20" stroke="#231f20" textLength="17.3" lengthAdjust="spacingAndGlyphs">Exon#</text>
<text x="128.4" y="375.8" font-size="6.6" text-anchor="middle" fill="#231f20" stroke="#231f20">3</text>
<text x="137.7" y="375.8" font-size="6.6" text-anchor="middle" fill="#231f20" stroke="#231f20">4</text>
<text x="145.8" y="375.8" font-size="6.6" text-anchor="middle" fill="#231f20" stroke="#231f20">5</text>
<text x="156.3" y="375.8" font-size="6.6" text-anchor="middle" fill="#231f20" stroke="#231f20">6</text>
<text x="166.6" y="375.8" font-size="6.6" text-anchor="middle" fill="#231f20" stroke="#231f20">7</text>
<text x="177.2" y="375.8" font-size="6.6" text-anchor="middle" fill="#231f20" stroke="#231f20">8</text>
<rect x="122.8" y="366.0" width="10.9" height="2.6" rx="0.8" fill="#9a9a9a" stroke="#333" stroke-width="0.7"/>
<rect x="135.2" y="366.0" width="4.8" height="2.6" rx="0.8" fill="#9a9a9a" stroke="#333" stroke-width="0.7"/>
<rect x="142.6" y="366.0" width="7.2" height="2.6" rx="0.8" fill="#6d97c9" stroke="#333" stroke-width="0.7"/>
<rect x="151.1" y="366.0" width="10.8" height="2.6" rx="0.8" fill="#9a9a9a" stroke="#333" stroke-width="0.7"/>
<rect x="163.1" y="366.0" width="8.7" height="2.6" rx="0.8" fill="#9a9a9a" stroke="#333" stroke-width="0.7"/>
<rect x="173.0" y="366.0" width="10.5" height="2.6" rx="0.8" fill="#9a9a9a" stroke="#333" stroke-width="0.7"/>
<rect x="122.8" y="385.3" width="10.9" height="2.6" rx="0.8" fill="#9a9a9a" stroke="#333" stroke-width="0.7"/>
<rect x="135.2" y="385.3" width="4.8" height="2.6" rx="0.8" fill="#9a9a9a" stroke="#333" stroke-width="0.7"/>
<rect x="142.6" y="385.3" width="7.2" height="2.6" rx="0.8" fill="#6d97c9" stroke="#333" stroke-width="0.7"/>
<rect x="151.1" y="385.3" width="10.8" height="2.6" rx="0.8" fill="#9a9a9a" stroke="#333" stroke-width="0.7"/>
<rect x="163.1" y="385.3" width="8.7" height="2.6" rx="0.8" fill="#9a9a9a" stroke="#333" stroke-width="0.7"/>
<rect x="173.0" y="385.3" width="10.5" height="2.6" rx="0.8" fill="#9a9a9a" stroke="#333" stroke-width="0.7"/>
<rect x="122.8" y="391.9" width="10.9" height="2.6" rx="0.8" fill="#9a9a9a" stroke="#333" stroke-width="0.7"/>
<rect x="135.2" y="391.9" width="4.8" height="2.6" rx="0.8" fill="#9a9a9a" stroke="#333" stroke-width="0.7"/>
<rect x="142.6" y="391.9" width="7.2" height="2.6" rx="0.8" fill="#6d97c9" stroke="#333" stroke-width="0.7"/>
<rect x="163.1" y="391.9" width="8.7" height="2.6" rx="0.8" fill="#9a9a9a" stroke="#333" stroke-width="0.7"/>
<rect x="173.0" y="391.9" width="10.5" height="2.6" rx="0.8" fill="#9a9a9a" stroke="#333" stroke-width="0.7"/>
<path d="M149.8,393.2 L156.4,396.2 L163.1,393.2" stroke="#333" fill="none" stroke-width="0.7"/>
<rect x="122.8" y="400.5" width="10.9" height="2.6" rx="0.8" fill="#9a9a9a" stroke="#333" stroke-width="0.7"/>
<rect x="142.6" y="400.5" width="7.2" height="2.6" rx="0.8" fill="#6d97c9" stroke="#333" stroke-width="0.7"/>
<rect x="151.1" y="400.5" width="10.8" height="2.6" rx="0.8" fill="#9a9a9a" stroke="#333" stroke-width="0.7"/>
<rect x="163.1" y="400.5" width="8.7" height="2.6" rx="0.8" fill="#9a9a9a" stroke="#333" stroke-width="0.7"/>
<rect x="173.0" y="400.5" width="10.5" height="2.6" rx="0.8" fill="#9a9a9a" stroke="#333" stroke-width="0.7"/>
<path d="M133.7,401.8 L138.1,404.8 L142.6,401.8" stroke="#333" fill="none" stroke-width="0.7"/>
<rect x="122.8" y="411.4" width="10.9" height="2.6" rx="0.8" fill="#9a9a9a" stroke="#333" stroke-width="0.7"/>
<rect x="142.6" y="411.4" width="7.2" height="2.6" rx="0.8" fill="#6d97c9" stroke="#333" stroke-width="0.7"/>
<rect x="163.1" y="411.4" width="8.7" height="2.6" rx="0.8" fill="#9a9a9a" stroke="#333" stroke-width="0.7"/>
<rect x="173.0" y="411.4" width="10.5" height="2.6" rx="0.8" fill="#9a9a9a" stroke="#333" stroke-width="0.7"/>
<path d="M133.7,412.7 L138.1,415.7 L142.6,412.7" stroke="#333" fill="none" stroke-width="0.7"/>
<path d="M149.8,412.7 L156.4,415.7 L163.1,412.7" stroke="#333" fill="none" stroke-width="0.7"/>
<rect x="122.8" y="432.3" width="10.9" height="2.6" rx="0.8" fill="#9a9a9a" stroke="#333" stroke-width="0.7"/>
<rect x="163.1" y="432.3" width="8.7" height="2.6" rx="0.8" fill="#9a9a9a" stroke="#333" stroke-width="0.7"/>
<rect x="173.0" y="432.3" width="10.5" height="2.6" rx="0.8" fill="#9a9a9a" stroke="#333" stroke-width="0.7"/>
<path d="M133.7,433.6 L148.4,436.6 L163.1,433.6" stroke="#333" fill="none" stroke-width="0.7"/>
<path d="M146.2,358.6 L146.2,363.2" stroke="#333" fill="none" stroke-width="1.0"/>
<path d="M143.4,366.2 L146.2,362.6 L149.0,366.2 Z" stroke="#333" fill="#6d97c9" stroke-width="0.6"/>
<text x="144.6" y="357.2" font-size="6.8" text-anchor="start" fill="#231f20" stroke="#231f20" textLength="28" lengthAdjust="spacingAndGlyphs">αCD45RB</text>
<path d="M192.0 398.0 L194.5 392.0 L196.5 378.0 L198.2 369.0 L199.2 368.0 L200.5 371.0 L203.0 380.0 L206.5 388.0 L210.0 392.0 L213.3 393.7 L217.0 394.0 L220.0 391.0 L222.3 384.0 L224.3 379.5 L226.0 382.0 L228.0 390.0 L230.0 396.0 L231.5 398.0 L245.4 398.0 Z" stroke="none" fill="#d4e5f7" stroke-width="1"/>
<path d="M192.0 398.0 L194.5 392.0 L196.5 378.0 L198.2 369.0 L199.2 368.0 L200.5 371.0 L203.0 380.0 L206.5 388.0 L210.0 392.0 L213.3 393.7 L217.0 394.0 L220.0 391.0 L222.3 384.0 L224.3 379.5 L226.0 382.0 L228.0 390.0 L230.0 396.0 L231.5 398.0 L245.4 398.0" stroke="#d4e5f7" fill="none" stroke-width="0.5"/>
<path d="M192.0 409.6 L194.5 400.0 L196.5 388.0 L198.3 382.2 L200.0 385.0 L203.0 393.0 L207.0 398.5 L210.0 400.8 L213.0 401.6 L217.0 401.0 L220.0 396.0 L222.5 386.0 L224.3 380.4 L226.0 384.0 L228.0 394.0 L230.5 404.0 L232.8 409.6 L245.4 409.6 Z" stroke="none" fill="#80b1e3" stroke-width="1"/>
<path d="M192.0 409.6 L194.5 400.0 L196.5 388.0 L198.3 382.2 L200.0 385.0 L203.0 393.0 L207.0 398.5 L210.0 400.8 L213.0 401.6 L217.0 401.0 L220.0 396.0 L222.5 386.0 L224.3 380.4 L226.0 384.0 L228.0 394.0 L230.5 404.0 L232.8 409.6 L245.4 409.6" stroke="#6a9fd6" fill="none" stroke-width="0.6"/>
<path d="M192.0 421.5 L194.0 416.0 L196.0 411.5 L197.4 410.5 L199.0 412.5 L202.0 415.5 L206.0 416.5 L210.0 416.7 L212.4 416.5 L214.0 410.0 L215.5 398.0 L216.8 388.0 L217.7 386.6 L219.0 388.5 L220.2 392.0 L221.3 392.8 L223.0 398.0 L225.0 407.0 L227.5 415.0 L230.0 419.5 L231.9 421.1 L245.4 421.5 Z" stroke="none" fill="#e2e2e2" stroke-width="1"/>
<path d="M192.0 421.5 L194.0 416.0 L196.0 411.5 L197.4 410.5 L199.0 412.5 L202.0 415.5 L206.0 416.5 L210.0 416.7 L212.4 416.5 L214.0 410.0 L215.5 398.0 L216.8 388.0 L217.7 386.6 L219.0 388.5 L220.2 392.0 L221.3 392.8 L223.0 398.0 L225.0 407.0 L227.5 415.0 L230.0 419.5 L231.9 421.1 L245.4 421.5" stroke="#1a1a1a" fill="none" stroke-width="0.85"/>
<path d="M192.0 432.6 L194.0 431.0 L197.0 430.5 L201.0 431.5 L206.0 431.2 L210.0 430.5 L212.5 427.0 L214.3 414.0 L215.8 396.0 L216.9 388.0 L217.7 386.6 L218.8 389.0 L220.2 393.0 L221.4 394.5 L223.0 402.0 L225.0 415.0 L227.0 426.0 L229.2 432.2 L245.4 432.6 Z" stroke="none" fill="#b2b2b2" stroke-width="1"/>
<path d="M192.0 432.6 L194.0 431.0 L197.0 430.5 L201.0 431.5 L206.0 431.2 L210.0 430.5 L212.5 427.0 L214.3 414.0 L215.8 396.0 L216.9 388.0 L217.7 386.6 L218.8 389.0 L220.2 393.0 L221.4 394.5 L223.0 402.0 L225.0 415.0 L227.0 426.0 L229.2 432.2 L245.4 432.6" stroke="#111" fill="none" stroke-width="0.85"/>
<rect x="191.1" y="350.1" width="54.599999999999994" height="84.0" fill="none" stroke="#231f20" stroke-width="1.0"/>
<line x1="194" y1="434.1" x2="194" y2="435.6" stroke="#161616" stroke-width="0.5"/>
<line x1="196" y1="434.1" x2="196" y2="435.6" stroke="#161616" stroke-width="0.5"/>
<line x1="197" y1="434.1" x2="197" y2="435.6" stroke="#161616" stroke-width="0.5"/>
<line x1="199" y1="434.1" x2="199" y2="435.6" stroke="#161616" stroke-width="0.5"/>
<line x1="201" y1="434.1" x2="201" y2="435.6" stroke="#161616" stroke-width="0.5"/>
<line x1="204" y1="434.1" x2="204" y2="435.6" stroke="#161616" stroke-width="0.5"/>
<line x1="206" y1="434.1" x2="206" y2="435.6" stroke="#161616" stroke-width="0.5"/>
<line x1="208" y1="434.1" x2="208" y2="435.6" stroke="#161616" stroke-width="0.5"/>
<line x1="210" y1="434.1" x2="210" y2="435.6" stroke="#161616" stroke-width="0.5"/>
<line x1="212" y1="434.1" x2="212" y2="435.6" stroke="#161616" stroke-width="0.5"/>
<line x1="214" y1="434.1" x2="214" y2="435.6" stroke="#161616" stroke-width="0.5"/>
<line x1="217" y1="434.1" x2="217" y2="435.6" stroke="#161616" stroke-width="0.5"/>
<line x1="219" y1="434.1" x2="219" y2="435.6" stroke="#161616" stroke-width="0.5"/>
<line x1="221" y1="434.1" x2="221" y2="435.6" stroke="#161616" stroke-width="0.5"/>
<line x1="223" y1="434.1" x2="223" y2="435.6" stroke="#161616" stroke-width="0.5"/>
<line x1="226" y1="434.1" x2="226" y2="435.6" stroke="#161616" stroke-width="0.5"/>
<line x1="228" y1="434.1" x2="228" y2="435.6" stroke="#161616" stroke-width="0.5"/>
<line x1="230" y1="434.1" x2="230" y2="435.6" stroke="#161616" stroke-width="0.5"/>
<line x1="232" y1="434.1" x2="232" y2="435.6" stroke="#161616" stroke-width="0.5"/>
<line x1="234" y1="434.1" x2="234" y2="435.6" stroke="#161616" stroke-width="0.5"/>
<line x1="236" y1="434.1" x2="236" y2="435.6" stroke="#161616" stroke-width="0.5"/>
<line x1="238" y1="434.1" x2="238" y2="435.6" stroke="#161616" stroke-width="0.5"/>
<text x="204.8" y="357.0" font-size="6.8" text-anchor="middle" fill="#231f20" stroke="#231f20" textLength="9.2" lengthAdjust="spacingAndGlyphs">low</text>
<text x="222.0" y="357.0" font-size="6.8" text-anchor="middle" fill="#231f20" stroke="#231f20" textLength="13.0" lengthAdjust="spacingAndGlyphs">high</text>
<line x1="213.3" y1="357.5" x2="213.3" y2="361.5" stroke="#161616" stroke-width="0.7"/>
<line x1="213.3" y1="359.6" x2="193.3" y2="359.6" stroke="#111" stroke-width="0.9"/>
<path d="M193.3,359.6 L195.70000000000002,358.1 L195.70000000000002,361.1 Z" stroke="none" fill="#111" stroke-width="1"/>
<line x1="213.3" y1="359.6" x2="233.2" y2="359.6" stroke="#111" stroke-width="0.9"/>
<path d="M233.2,359.6 L230.79999999999998,358.1 L230.79999999999998,361.1 Z" stroke="none" fill="#111" stroke-width="1"/>
<line x1="233.6" y1="357.7" x2="233.6" y2="361.5" stroke="#161616" stroke-width="0.7"/>
<text x="233.4" y="395.3" font-size="6.4" text-anchor="start" fill="#231f20" stroke="#231f20" textLength="20.6" lengthAdjust="spacingAndGlyphs">P95H/+</text>
<text x="233.4" y="406.6" font-size="6.4" text-anchor="start" fill="#231f20" stroke="#231f20" textLength="20.6" lengthAdjust="spacingAndGlyphs">P95H/+</text>
<text x="233.4" y="419.2" font-size="6.4" text-anchor="start" fill="#231f20" stroke="#231f20" textLength="9.4" lengthAdjust="spacingAndGlyphs">+/+</text>
<text x="233.4" y="430.7" font-size="6.4" text-anchor="start" fill="#231f20" stroke="#231f20" textLength="9.4" lengthAdjust="spacingAndGlyphs">+/+</text>
<text x="193.0" y="446.8" font-size="9.8" text-anchor="start" fill="#231f20" stroke="#231f20" textLength="29.2" lengthAdjust="spacingAndGlyphs">CD45RB</text>
<line x1="224.8" y1="443.4" x2="233.2" y2="443.4" stroke="#111" stroke-width="1.1"/>
<path d="M233.2,443.4 L230.64,441.79999999999995 L230.64,445.0 Z" stroke="none" fill="#111" stroke-width="1"/>
<defs><linearGradient id="gelG" x1="0" y1="0" x2="0" y2="1"><stop offset="0" stop-color="#dcdcdc"/><stop offset="0.5" stop-color="#e6e6e6"/><stop offset="1" stop-color="#ececec"/></linearGradient></defs>
<rect x="294.4" y="357.9" width="59.60000000000002" height="58.5" fill="url(#gelG)"/>
<text x="324.5" y="354.2" font-size="6.8" text-anchor="middle" font-style="italic" fill="#231f20" stroke="#231f20">Dot1l</text>
<rect x="357.3" y="357.9" width="50.0" height="58.5" fill="url(#gelG)"/>
<text x="380.8" y="354.2" font-size="6.8" text-anchor="middle" font-style="italic" fill="#231f20" stroke="#231f20">Ezh2</text>
<rect x="409.2" y="357.9" width="50.19999999999999" height="58.5" fill="url(#gelG)"/>
<text x="433.6" y="354.2" font-size="6.8" text-anchor="middle" font-style="italic" fill="#231f20" stroke="#231f20">Bcor</text>
<rect x="462.3" y="357.9" width="50.99999999999994" height="58.5" fill="url(#gelG)"/>
<text x="481.1" y="354.2" font-size="6.8" text-anchor="middle" font-style="italic" fill="#231f20" stroke="#231f20">Arhgap4</text>
<rect x="462.3" y="357.9" width="51" height="13" fill="#d2d2d2"/>
<rect x="297.3" y="358.4" width="6.8" height="2.0" fill="#7a7a7a" filter="url(#bl)"/>
<rect x="297.3" y="364.1" width="6.8" height="2.0" fill="#7a7a7a" filter="url(#bl)"/>
<rect x="297.3" y="370.6" width="6.8" height="2.0" fill="#808080" filter="url(#bl)"/>
<rect x="297.3" y="379.2" width="6.8" height="3.0" fill="#111" filter="url(#bl)"/>
<rect x="297.3" y="390.5" width="6.8" height="2.6" fill="#222" filter="url(#bl)"/>
<rect x="297.3" y="406.2" width="6.8" height="3.4" fill="#7a7a7a" filter="url(#bl)"/>
<rect x="306.9" y="380.3" width="9.6" height="4.4" rx="1.2" fill="#1c1c1c" filter="url(#bl)"/>
<rect x="319.4" y="380.3" width="9.6" height="4.4" rx="1.2" fill="#1c1c1c" filter="url(#bl)"/>
<rect x="331.5" y="380.3" width="9.1" height="4.4" rx="1.2" fill="#1c1c1c" filter="url(#bl)"/>
<rect x="343.5" y="380.3" width="9.2" height="4.4" rx="1.2" fill="#1c1c1c" filter="url(#bl)"/>
<rect x="359.6" y="387.5" width="9.2" height="4.4" rx="1.2" fill="#141414" filter="url(#bl2)"/>
<rect x="371.2" y="387.5" width="9.6" height="4.4" rx="1.2" fill="#141414" filter="url(#bl2)"/>
<rect x="383.0" y="387.5" width="9.7" height="4.4" rx="1.2" fill="#141414" filter="url(#bl2)"/>
<rect x="395.2" y="387.5" width="9.6" height="4.4" rx="1.2" fill="#141414" filter="url(#bl2)"/>
<rect x="412.5" y="394.8" width="9.0" height="4.0" rx="1.2" fill="#2a2a2a" filter="url(#bl2)"/>
<rect x="412.5" y="402.5" width="9.0" height="4.0" rx="1.2" fill="#444" filter="url(#bl2)"/>
<rect x="412.5" y="390" width="9.0" height="5" fill="#d4d4d4" filter="url(#bl2)" opacity="0.8"/>
<rect x="424.6" y="394.8" width="9.1" height="4.0" rx="1.2" fill="#444" filter="url(#bl2)"/>
<rect x="424.6" y="402.5" width="9.1" height="4.0" rx="1.2" fill="#555" filter="url(#bl2)"/>
<rect x="424.6" y="390" width="9.1" height="5" fill="#d4d4d4" filter="url(#bl2)" opacity="0.8"/>
<rect x="436.3" y="394.8" width="8.7" height="4.0" rx="1.2" fill="#555" filter="url(#bl2)"/>
<rect x="436.3" y="402.5" width="8.7" height="4.0" rx="1.2" fill="#8a8a8a" filter="url(#bl2)"/>
<rect x="436.3" y="390" width="8.7" height="5" fill="#d4d4d4" filter="url(#bl2)" opacity="0.8"/>
<rect x="448.8" y="394.8" width="8.7" height="4.0" rx="1.2" fill="#1a1a1a" filter="url(#bl2)"/>
<rect x="448.8" y="402.5" width="8.7" height="4.0" rx="1.2" fill="#444" filter="url(#bl2)"/>
<rect x="448.8" y="390" width="8.7" height="5" fill="#d4d4d4" filter="url(#bl2)" opacity="0.8"/>
<rect x="465.2" y="378.1" width="8.6" height="4.6" rx="1.2" fill="#0c0c0c" filter="url(#bl)"/>
<rect x="465.2" y="386.4" width="8.6" height="2.0" rx="1.2" fill="#8a8a8a" filter="url(#bl)"/>
<rect x="465.2" y="374.5" width="8.6" height="4" fill="#b8b8b8" filter="url(#bl2)" opacity="0.8"/>
<rect x="476.2" y="378.1" width="9.2" height="4.6" rx="1.2" fill="#0c0c0c" filter="url(#bl)"/>
<rect x="476.2" y="386.4" width="9.2" height="2.0" rx="1.2" fill="#8a8a8a" filter="url(#bl)"/>
<rect x="476.2" y="374.5" width="9.2" height="4" fill="#b8b8b8" filter="url(#bl2)" opacity="0.8"/>
<rect x="488.3" y="378.1" width="9.6" height="4.6" rx="1.2" fill="#141414" filter="url(#bl)"/>
<rect x="488.3" y="386.4" width="9.6" height="2.0" rx="1.2" fill="#c8c8c8" filter="url(#bl)"/>
<rect x="488.3" y="374.5" width="9.6" height="4" fill="#b8b8b8" filter="url(#bl2)" opacity="0.8"/>
<rect x="500.4" y="378.1" width="9.0" height="4.6" rx="1.2" fill="#141414" filter="url(#bl)"/>
<rect x="500.4" y="386.4" width="9.0" height="2.0" rx="1.2" fill="#bbbbbb" filter="url(#bl)"/>
<rect x="500.4" y="374.5" width="9.0" height="4" fill="#b8b8b8" filter="url(#bl2)" opacity="0.8"/>
<text x="317.5" y="364.3" font-size="6.8" text-anchor="middle" fill="#231f20" stroke="#231f20" textLength="9.7" lengthAdjust="spacingAndGlyphs">+/+</text>
<text x="341.4" y="364.3" font-size="6.8" text-anchor="middle" fill="#231f20" stroke="#231f20" textLength="21.0" lengthAdjust="spacingAndGlyphs">P95H/+</text>
<line x1="308.8" y1="366.3" x2="326.5" y2="366.3" stroke="#222" stroke-width="1.2"/>
<line x1="332.9" y1="366.3" x2="351.2" y2="366.3" stroke="#222" stroke-width="1.2"/>
<text x="370.7" y="364.3" font-size="6.8" text-anchor="middle" fill="#231f20" stroke="#231f20" textLength="9.7" lengthAdjust="spacingAndGlyphs">+/+</text>
<text x="394.2" y="364.3" font-size="6.8" text-anchor="middle" fill="#231f20" stroke="#231f20" textLength="21.0" lengthAdjust="spacingAndGlyphs">P95H/+</text>
<line x1="361.2" y1="366.3" x2="378.8" y2="366.3" stroke="#222" stroke-width="1.2"/>
<line x1="385.5" y1="366.3" x2="403.5" y2="366.3" stroke="#222" stroke-width="1.2"/>
<text x="423.5" y="364.3" font-size="6.8" text-anchor="middle" fill="#231f20" stroke="#231f20" textLength="9.7" lengthAdjust="spacingAndGlyphs">+/+</text>
<text x="446.8" y="364.3" font-size="6.8" text-anchor="middle" fill="#231f20" stroke="#231f20" textLength="21.0" lengthAdjust="spacingAndGlyphs">P95H/+</text>
<line x1="413.8" y1="366.3" x2="431.8" y2="366.3" stroke="#222" stroke-width="1.2"/>
<line x1="437.2" y1="366.3" x2="456.8" y2="366.3" stroke="#222" stroke-width="1.2"/>
<text x="475.0" y="364.3" font-size="6.8" text-anchor="middle" fill="#231f20" stroke="#231f20" textLength="9.7" lengthAdjust="spacingAndGlyphs">+/+</text>
<text x="498.0" y="364.3" font-size="6.8" text-anchor="middle" fill="#231f20" stroke="#231f20" textLength="21.0" lengthAdjust="spacingAndGlyphs">P95H/+</text>
<line x1="466.0" y1="366.3" x2="483.8" y2="366.3" stroke="#222" stroke-width="1.2"/>
<line x1="489.0" y1="366.3" x2="508.0" y2="366.3" stroke="#222" stroke-width="1.2"/>
<rect x="39.4" y="508.80000000000007" width="10.600000000000001" height="45.39999999999998" fill="#c5c3c8"/>
<line x1="44.7" y1="505.62200000000007" x2="44.7" y2="511.97800000000007" stroke="#111" stroke-width="1.1"/>
<line x1="43.1" y1="505.62200000000007" x2="46.300000000000004" y2="505.62200000000007" stroke="#111" stroke-width="1.0"/>
<line x1="43.1" y1="511.97800000000007" x2="46.300000000000004" y2="511.97800000000007" stroke="#111" stroke-width="1.0"/>
<circle cx="43.5" cy="510.6" r="1.55" fill="#111"/>
<circle cx="46.0" cy="507.9" r="1.55" fill="#111"/>
<line x1="44.7" y1="554.2" x2="44.7" y2="557.0" stroke="#161616" stroke-width="1.0"/>
<rect x="55.4" y="546.4820000000001" width="10.399999999999999" height="7.717999999999961" fill="#63a5df"/>
<line x1="60.599999999999994" y1="545.5740000000001" x2="60.599999999999994" y2="547.3900000000001" stroke="#111" stroke-width="1.1"/>
<line x1="58.99999999999999" y1="545.5740000000001" x2="62.199999999999996" y2="545.5740000000001" stroke="#111" stroke-width="1.0"/>
<line x1="58.99999999999999" y1="547.3900000000001" x2="62.199999999999996" y2="547.3900000000001" stroke="#111" stroke-width="1.0"/>
<circle cx="59.0" cy="546.9" r="1.55" fill="#111"/>
<circle cx="62.0" cy="546.0" r="1.55" fill="#111"/>
<line x1="60.599999999999994" y1="554.2" x2="60.599999999999994" y2="557.0" stroke="#161616" stroke-width="1.0"/>
<rect x="70.8" y="508.80000000000007" width="10.0" height="45.39999999999998" fill="#c5c3c8"/>
<circle cx="74.0" cy="508.8" r="1.55" fill="#111"/>
<circle cx="77.0" cy="508.8" r="1.55" fill="#111"/>
<line x1="75.8" y1="554.2" x2="75.8" y2="557.0" stroke="#161616" stroke-width="1.0"/>
<rect x="86.9" y="539.2180000000001" width="10.199999999999989" height="14.981999999999971" fill="#63a5df"/>
<line x1="92.0" y1="537.856" x2="92.0" y2="540.1260000000001" stroke="#111" stroke-width="1.1"/>
<line x1="90.4" y1="537.856" x2="93.6" y2="537.856" stroke="#111" stroke-width="1.0"/>
<line x1="90.4" y1="540.1260000000001" x2="93.6" y2="540.1260000000001" stroke="#111" stroke-width="1.0"/>
<circle cx="90.0" cy="539.7" r="1.55" fill="#111"/>
<circle cx="93.0" cy="538.3" r="1.55" fill="#111"/>
<line x1="92.0" y1="554.2" x2="92.0" y2="557.0" stroke="#161616" stroke-width="1.0"/>
<line x1="34.0" y1="483.83000000000004" x2="34.0" y2="554.8000000000001" stroke="#161616" stroke-width="1.2"/>
<line x1="33.4" y1="554.2" x2="101.69999999999999" y2="554.2" stroke="#161616" stroke-width="1.2"/>
<line x1="31.0" y1="554.2" x2="34.0" y2="554.2" stroke="#161616" stroke-width="1.1"/>
<text x="28.0" y="556.5" font-size="6.5" text-anchor="end" fill="#231f20" stroke="#231f20">0.0</text>
<line x1="31.0" y1="531.5" x2="34.0" y2="531.5" stroke="#161616" stroke-width="1.1"/>
<text x="28.0" y="533.8" font-size="6.5" text-anchor="end" fill="#231f20" stroke="#231f20">0.5</text>
<line x1="31.0" y1="508.80000000000007" x2="34.0" y2="508.80000000000007" stroke="#161616" stroke-width="1.1"/>
<text x="28.0" y="511.1000000000001" font-size="6.5" text-anchor="end" fill="#231f20" stroke="#231f20">1.0</text>
<line x1="31.0" y1="486.1" x2="34.0" y2="486.1" stroke="#161616" stroke-width="1.1"/>
<text x="28.0" y="488.40000000000003" font-size="6.5" text-anchor="end" fill="#231f20" stroke="#231f20">1.5</text>
<text transform="translate(14.2,518.5) rotate(-90)" font-size="8.5" text-anchor="middle" fill="#231f20" stroke="#231f20" textLength="79" lengthAdjust="spacingAndGlyphs">Normalized  fold inclusion</text>
<text x="44.7" y="566.4" font-size="6.8" text-anchor="middle" fill="#231f20" stroke="#231f20">WT</text>
<text x="60.599999999999994" y="566.4" font-size="6.8" text-anchor="middle" fill="#231f20" stroke="#231f20">KI</text>
<text x="75.8" y="566.4" font-size="6.8" text-anchor="middle" fill="#231f20" stroke="#231f20">WT</text>
<text x="92.0" y="566.4" font-size="6.8" text-anchor="middle" fill="#231f20" stroke="#231f20">KI</text>
<line x1="44.7" y1="568.5" x2="60.599999999999994" y2="568.5" stroke="#161616" stroke-width="1.0"/>
<line x1="75.8" y1="568.5" x2="92.0" y2="568.5" stroke="#161616" stroke-width="1.0"/>
<text x="52.65" y="577.0" font-size="6.8" text-anchor="middle" fill="#231f20" stroke="#231f20" textLength="18.5" lengthAdjust="spacingAndGlyphs">Hoxb8</text>
<text x="52.65" y="585.2" font-size="6.8" text-anchor="middle" fill="#231f20" stroke="#231f20" textLength="21.5" lengthAdjust="spacingAndGlyphs">cell line</text>
<text x="83.9" y="577.0" font-size="6.8" text-anchor="middle" fill="#231f20" stroke="#231f20" textLength="17.5" lengthAdjust="spacingAndGlyphs">Spleen</text>
<text x="68.25" y="474.6" font-size="6.4" text-anchor="middle" font-style="italic" fill="#231f20" stroke="#231f20" textLength="32.3" lengthAdjust="spacingAndGlyphs">Hnrnpa2b1</text>
<rect x="141.2" y="508.80000000000007" width="10.300000000000011" height="45.39999999999998" fill="#c5c3c8"/>
<line x1="146.35" y1="506.98400000000004" x2="146.35" y2="511.07000000000005" stroke="#111" stroke-width="1.1"/>
<line x1="144.75" y1="506.98400000000004" x2="147.95" y2="506.98400000000004" stroke="#111" stroke-width="1.0"/>
<line x1="144.75" y1="511.07000000000005" x2="147.95" y2="511.07000000000005" stroke="#111" stroke-width="1.0"/>
<circle cx="144.5" cy="510.2" r="1.55" fill="#111"/>
<circle cx="148.0" cy="507.4" r="1.55" fill="#111"/>
<line x1="146.35" y1="554.2" x2="146.35" y2="557.0" stroke="#161616" stroke-width="1.0"/>
<rect x="156.5" y="541.942" width="10.400000000000006" height="12.258000000000038" fill="#63a5df"/>
<line x1="161.7" y1="540.58" x2="161.7" y2="543.758" stroke="#111" stroke-width="1.1"/>
<line x1="160.1" y1="540.58" x2="163.29999999999998" y2="540.58" stroke="#111" stroke-width="1.0"/>
<line x1="160.1" y1="543.758" x2="163.29999999999998" y2="543.758" stroke="#111" stroke-width="1.0"/>
<circle cx="160.0" cy="543.3" r="1.55" fill="#111"/>
<circle cx="163.0" cy="541.0" r="1.55" fill="#111"/>
<line x1="161.7" y1="554.2" x2="161.7" y2="557.0" stroke="#161616" stroke-width="1.0"/>
<rect x="172.3" y="508.80000000000007" width="10.599999999999994" height="45.39999999999998" fill="#c5c3c8"/>
<line x1="177.60000000000002" y1="505.16800000000006" x2="177.60000000000002" y2="513.34" stroke="#111" stroke-width="1.1"/>
<line x1="176.00000000000003" y1="505.16800000000006" x2="179.20000000000002" y2="505.16800000000006" stroke="#111" stroke-width="1.0"/>
<line x1="176.00000000000003" y1="513.34" x2="179.20000000000002" y2="513.34" stroke="#111" stroke-width="1.0"/>
<circle cx="177.6" cy="512.4" r="1.55" fill="#111"/>
<circle cx="177.6" cy="505.6" r="1.55" fill="#111"/>
<line x1="177.60000000000002" y1="554.2" x2="177.60000000000002" y2="557.0" stroke="#161616" stroke-width="1.0"/>
<rect x="187.7" y="536.0400000000001" width="10.600000000000023" height="18.159999999999968" fill="#63a5df"/>
<line x1="193.0" y1="530.5920000000001" x2="193.0" y2="541.942" stroke="#111" stroke-width="1.1"/>
<line x1="191.4" y1="530.5920000000001" x2="194.6" y2="530.5920000000001" stroke="#111" stroke-width="1.0"/>
<line x1="191.4" y1="541.942" x2="194.6" y2="541.942" stroke="#111" stroke-width="1.0"/>
<circle cx="193.0" cy="541.5" r="1.55" fill="#111"/>
<circle cx="193.0" cy="531.0" r="1.55" fill="#111"/>
<line x1="193.0" y1="554.2" x2="193.0" y2="557.0" stroke="#161616" stroke-width="1.0"/>
<line x1="135.4" y1="483.83000000000004" x2="135.4" y2="554.8000000000001" stroke="#161616" stroke-width="1.2"/>
<line x1="134.8" y1="554.2" x2="202.9" y2="554.2" stroke="#161616" stroke-width="1.2"/>
<line x1="132.4" y1="554.2" x2="135.4" y2="554.2" stroke="#161616" stroke-width="1.1"/>
<text x="129.4" y="556.5" font-size="6.5" text-anchor="end" fill="#231f20" stroke="#231f20">0.0</text>
<line x1="132.4" y1="531.5" x2="135.4" y2="531.5" stroke="#161616" stroke-width="1.1"/>
<text x="129.4" y="533.8" font-size="6.5" text-anchor="end" fill="#231f20" stroke="#231f20">0.5</text>
<line x1="132.4" y1="508.80000000000007" x2="135.4" y2="508.80000000000007" stroke="#161616" stroke-width="1.1"/>
<text x="129.4" y="511.1000000000001" font-size="6.5" text-anchor="end" fill="#231f20" stroke="#231f20">1.0</text>
<line x1="132.4" y1="486.1" x2="135.4" y2="486.1" stroke="#161616" stroke-width="1.1"/>
<text x="129.4" y="488.40000000000003" font-size="6.5" text-anchor="end" fill="#231f20" stroke="#231f20">1.5</text>
<text transform="translate(114.6,518.5) rotate(-90)" font-size="8.5" text-anchor="middle" fill="#231f20" stroke="#231f20" textLength="79" lengthAdjust="spacingAndGlyphs">Normalized  fold inclusion</text>
<text x="146.35" y="566.4" font-size="6.8" text-anchor="middle" fill="#231f20" stroke="#231f20">WT</text>
<text x="161.7" y="566.4" font-size="6.8" text-anchor="middle" fill="#231f20" stroke="#231f20">KI</text>
<text x="177.60000000000002" y="566.4" font-size="6.8" text-anchor="middle" fill="#231f20" stroke="#231f20">WT</text>
<text x="193.0" y="566.4" font-size="6.8" text-anchor="middle" fill="#231f20" stroke="#231f20">KI</text>
<line x1="146.35" y1="568.5" x2="161.7" y2="568.5" stroke="#161616" stroke-width="1.0"/>
<line x1="177.60000000000002" y1="568.5" x2="193.0" y2="568.5" stroke="#161616" stroke-width="1.0"/>
<text x="154.02499999999998" y="577.0" font-size="6.8" text-anchor="middle" fill="#231f20" stroke="#231f20" textLength="18.5" lengthAdjust="spacingAndGlyphs">Hoxb8</text>
<text x="154.02499999999998" y="585.2" font-size="6.8" text-anchor="middle" fill="#231f20" stroke="#231f20" textLength="21.5" lengthAdjust="spacingAndGlyphs">cell line</text>
<text x="185.3" y="577.0" font-size="6.8" text-anchor="middle" fill="#231f20" stroke="#231f20" textLength="17.5" lengthAdjust="spacingAndGlyphs">Spleen</text>
<text x="169.75" y="474.6" font-size="6.4" text-anchor="middle" font-style="italic" fill="#231f20" stroke="#231f20" textLength="27.1" lengthAdjust="spacingAndGlyphs">Trp53bp1</text>
<rect x="242.5" y="508.80000000000007" width="10.5" height="45.39999999999998" fill="#c5c3c8"/>
<line x1="247.75" y1="506.98400000000004" x2="247.75" y2="510.61600000000004" stroke="#111" stroke-width="1.1"/>
<line x1="246.15" y1="506.98400000000004" x2="249.35" y2="506.98400000000004" stroke="#111" stroke-width="1.0"/>
<line x1="246.15" y1="510.61600000000004" x2="249.35" y2="510.61600000000004" stroke="#111" stroke-width="1.0"/>
<circle cx="246.0" cy="509.7" r="1.55" fill="#111"/>
<circle cx="249.5" cy="507.9" r="1.55" fill="#111"/>
<line x1="247.75" y1="554.2" x2="247.75" y2="557.0" stroke="#161616" stroke-width="1.0"/>
<rect x="257.9" y="532.408" width="10.600000000000023" height="21.79200000000003" fill="#63a5df"/>
<line x1="263.2" y1="531.5" x2="263.2" y2="533.316" stroke="#111" stroke-width="1.1"/>
<line x1="261.59999999999997" y1="531.5" x2="264.8" y2="531.5" stroke="#111" stroke-width="1.0"/>
<line x1="261.59999999999997" y1="533.316" x2="264.8" y2="533.316" stroke="#111" stroke-width="1.0"/>
<circle cx="261.5" cy="532.9" r="1.55" fill="#111"/>
<circle cx="265.0" cy="532.0" r="1.55" fill="#111"/>
<line x1="263.2" y1="554.2" x2="263.2" y2="557.0" stroke="#161616" stroke-width="1.0"/>
<rect x="273.3" y="508.80000000000007" width="10.5" height="45.39999999999998" fill="#c5c3c8"/>
<line x1="278.55" y1="499.72" x2="278.55" y2="518.3340000000001" stroke="#111" stroke-width="1.1"/>
<line x1="276.95" y1="499.72" x2="280.15000000000003" y2="499.72" stroke="#111" stroke-width="1.0"/>
<line x1="276.95" y1="518.3340000000001" x2="280.15000000000003" y2="518.3340000000001" stroke="#111" stroke-width="1.0"/>
<circle cx="278.6" cy="517.9" r="1.55" fill="#111"/>
<circle cx="278.6" cy="499.7" r="1.55" fill="#111"/>
<line x1="278.55" y1="554.2" x2="278.55" y2="557.0" stroke="#161616" stroke-width="1.0"/>
<rect x="289.2" y="526.052" width="10.400000000000034" height="28.148000000000025" fill="#63a5df"/>
<line x1="294.4" y1="525.144" x2="294.4" y2="526.96" stroke="#111" stroke-width="1.1"/>
<line x1="292.79999999999995" y1="525.144" x2="296.0" y2="525.144" stroke="#111" stroke-width="1.0"/>
<line x1="292.79999999999995" y1="526.96" x2="296.0" y2="526.96" stroke="#111" stroke-width="1.0"/>
<circle cx="292.8" cy="526.5" r="1.55" fill="#111"/>
<circle cx="296.2" cy="525.6" r="1.55" fill="#111"/>
<line x1="294.4" y1="554.2" x2="294.4" y2="557.0" stroke="#161616" stroke-width="1.0"/>
<line x1="237.3" y1="483.83000000000004" x2="237.3" y2="554.8000000000001" stroke="#161616" stroke-width="1.2"/>
<line x1="236.70000000000002" y1="554.2" x2="304.20000000000005" y2="554.2" stroke="#161616" stroke-width="1.2"/>
<line x1="234.3" y1="554.2" x2="237.3" y2="554.2" stroke="#161616" stroke-width="1.1"/>
<text x="231.3" y="556.5" font-size="6.5" text-anchor="end" fill="#231f20" stroke="#231f20">0.0</text>
<line x1="234.3" y1="531.5" x2="237.3" y2="531.5" stroke="#161616" stroke-width="1.1"/>
<text x="231.3" y="533.8" font-size="6.5" text-anchor="end" fill="#231f20" stroke="#231f20">0.5</text>
<line x1="234.3" y1="508.80000000000007" x2="237.3" y2="508.80000000000007" stroke="#161616" stroke-width="1.1"/>
<text x="231.3" y="511.1000000000001" font-size="6.5" text-anchor="end" fill="#231f20" stroke="#231f20">1.0</text>
<line x1="234.3" y1="486.1" x2="237.3" y2="486.1" stroke="#161616" stroke-width="1.1"/>
<text x="231.3" y="488.40000000000003" font-size="6.5" text-anchor="end" fill="#231f20" stroke="#231f20">1.5</text>
<text transform="translate(216.5,518.5) rotate(-90)" font-size="8.5" text-anchor="middle" fill="#231f20" stroke="#231f20" textLength="79" lengthAdjust="spacingAndGlyphs">Normalized  fold inclusion</text>
<text x="247.75" y="566.4" font-size="6.8" text-anchor="middle" fill="#231f20" stroke="#231f20">WT</text>
<text x="263.2" y="566.4" font-size="6.8" text-anchor="middle" fill="#231f20" stroke="#231f20">KI</text>
<text x="278.55" y="566.4" font-size="6.8" text-anchor="middle" fill="#231f20" stroke="#231f20">WT</text>
<text x="294.4" y="566.4" font-size="6.8" text-anchor="middle" fill="#231f20" stroke="#231f20">KI</text>
<line x1="247.75" y1="568.5" x2="263.2" y2="568.5" stroke="#161616" stroke-width="1.0"/>
<line x1="278.55" y1="568.5" x2="294.4" y2="568.5" stroke="#161616" stroke-width="1.0"/>
<text x="255.475" y="577.0" font-size="6.8" text-anchor="middle" fill="#231f20" stroke="#231f20" textLength="18.5" lengthAdjust="spacingAndGlyphs">Hoxb8</text>
<text x="255.475" y="585.2" font-size="6.8" text-anchor="middle" fill="#231f20" stroke="#231f20" textLength="21.5" lengthAdjust="spacingAndGlyphs">cell line</text>
<text x="286.475" y="577.0" font-size="6.8" text-anchor="middle" fill="#231f20" stroke="#231f20" textLength="17.5" lengthAdjust="spacingAndGlyphs">Spleen</text>
<text x="271.05" y="474.6" font-size="6.4" text-anchor="middle" font-style="italic" fill="#231f20" stroke="#231f20" textLength="14.6" lengthAdjust="spacingAndGlyphs">Usp4</text>
<rect x="344.2" y="509.254" width="10.400000000000034" height="44.946000000000026" fill="#c5c3c8"/>
<circle cx="347.5" cy="509.3" r="1.55" fill="#111"/>
<circle cx="351.0" cy="508.8" r="1.55" fill="#111"/>
<line x1="349.4" y1="554.2" x2="349.4" y2="557.0" stroke="#161616" stroke-width="1.0"/>
<rect x="359.6" y="506.076" width="10.399999999999977" height="48.124000000000024" fill="#63a5df"/>
<line x1="364.8" y1="501.99000000000007" x2="364.8" y2="510.61600000000004" stroke="#111" stroke-width="1.1"/>
<line x1="363.2" y1="501.99000000000007" x2="366.40000000000003" y2="501.99000000000007" stroke="#111" stroke-width="1.0"/>
<line x1="363.2" y1="510.61600000000004" x2="366.40000000000003" y2="510.61600000000004" stroke="#111" stroke-width="1.0"/>
<circle cx="364.8" cy="510.2" r="1.55" fill="#111"/>
<circle cx="364.8" cy="502.4" r="1.55" fill="#111"/>
<line x1="364.8" y1="554.2" x2="364.8" y2="557.0" stroke="#161616" stroke-width="1.0"/>
<rect x="375.4" y="509.708" width="10.200000000000045" height="44.49200000000002" fill="#c5c3c8"/>
<line x1="380.5" y1="507.89200000000005" x2="380.5" y2="511.07000000000005" stroke="#111" stroke-width="1.1"/>
<line x1="378.9" y1="507.89200000000005" x2="382.1" y2="507.89200000000005" stroke="#111" stroke-width="1.0"/>
<line x1="378.9" y1="511.07000000000005" x2="382.1" y2="511.07000000000005" stroke="#111" stroke-width="1.0"/>
<circle cx="378.8" cy="510.2" r="1.55" fill="#111"/>
<circle cx="382.2" cy="508.8" r="1.55" fill="#111"/>
<line x1="380.5" y1="554.2" x2="380.5" y2="557.0" stroke="#161616" stroke-width="1.0"/>
<rect x="390.8" y="502.898" width="10.5" height="51.30200000000002" fill="#63a5df"/>
<line x1="396.05" y1="492.91" x2="396.05" y2="512.8860000000001" stroke="#111" stroke-width="1.1"/>
<line x1="394.45" y1="492.91" x2="397.65000000000003" y2="492.91" stroke="#111" stroke-width="1.0"/>
<line x1="394.45" y1="512.8860000000001" x2="397.65000000000003" y2="512.8860000000001" stroke="#111" stroke-width="1.0"/>
<circle cx="396.0" cy="512.4" r="1.55" fill="#111"/>
<circle cx="396.0" cy="493.4" r="1.55" fill="#111"/>
<line x1="396.05" y1="554.2" x2="396.05" y2="557.0" stroke="#161616" stroke-width="1.0"/>
<line x1="338.5" y1="483.83000000000004" x2="338.5" y2="554.8000000000001" stroke="#161616" stroke-width="1.2"/>
<line x1="337.9" y1="554.2" x2="405.90000000000003" y2="554.2" stroke="#161616" stroke-width="1.2"/>
<line x1="335.5" y1="554.2" x2="338.5" y2="554.2" stroke="#161616" stroke-width="1.1"/>
<text x="332.5" y="556.5" font-size="6.5" text-anchor="end" fill="#231f20" stroke="#231f20">0.0</text>
<line x1="335.5" y1="531.5" x2="338.5" y2="531.5" stroke="#161616" stroke-width="1.1"/>
<text x="332.5" y="533.8" font-size="6.5" text-anchor="end" fill="#231f20" stroke="#231f20">0.5</text>
<line x1="335.5" y1="508.80000000000007" x2="338.5" y2="508.80000000000007" stroke="#161616" stroke-width="1.1"/>
<text x="332.5" y="511.1000000000001" font-size="6.5" text-anchor="end" fill="#231f20" stroke="#231f20">1.0</text>
<line x1="335.5" y1="486.1" x2="338.5" y2="486.1" stroke="#161616" stroke-width="1.1"/>
<text x="332.5" y="488.40000000000003" font-size="6.5" text-anchor="end" fill="#231f20" stroke="#231f20">1.5</text>
<text transform="translate(317.4,518.5) rotate(-90)" font-size="8.5" text-anchor="middle" fill="#231f20" stroke="#231f20" textLength="79" lengthAdjust="spacingAndGlyphs">Normalized  fold inclusion</text>
<text x="349.4" y="566.4" font-size="6.8" text-anchor="middle" fill="#231f20" stroke="#231f20">WT</text>
<text x="364.8" y="566.4" font-size="6.8" text-anchor="middle" fill="#231f20" stroke="#231f20">KI</text>
<text x="380.5" y="566.4" font-size="6.8" text-anchor="middle" fill="#231f20" stroke="#231f20">WT</text>
<text x="396.05" y="566.4" font-size="6.8" text-anchor="middle" fill="#231f20" stroke="#231f20">KI</text>
<line x1="349.4" y1="568.5" x2="364.8" y2="568.5" stroke="#161616" stroke-width="1.0"/>
<line x1="380.5" y1="568.5" x2="396.05" y2="568.5" stroke="#161616" stroke-width="1.0"/>
<text x="357.1" y="577.0" font-size="6.8" text-anchor="middle" fill="#231f20" stroke="#231f20" textLength="18.5" lengthAdjust="spacingAndGlyphs">Hoxb8</text>
<text x="357.1" y="585.2" font-size="6.8" text-anchor="middle" fill="#231f20" stroke="#231f20" textLength="21.5" lengthAdjust="spacingAndGlyphs">cell line</text>
<text x="388.275" y="577.0" font-size="6.8" text-anchor="middle" fill="#231f20" stroke="#231f20" textLength="17.5" lengthAdjust="spacingAndGlyphs">Spleen</text>
<text x="372.75" y="472.6" font-size="6.4" text-anchor="middle" fill="#231f20" stroke="#231f20" textLength="13.8" lengthAdjust="spacingAndGlyphs">Ezh2</text>
<text x="372.5" y="477.9" font-size="4.4" text-anchor="middle" fill="#231f20" stroke="#231f20" textLength="71" lengthAdjust="spacingAndGlyphs">(murine counterpart of human poison</text>
<text x="373.2" y="482.7" font-size="4.4" text-anchor="middle" fill="#231f20" stroke="#231f20" textLength="27" lengthAdjust="spacingAndGlyphs">cassette exon)</text>
<rect x="446.9" y="508.80000000000007" width="10.800000000000011" height="45.39999999999998" fill="#c5c3c8"/>
<circle cx="450.0" cy="508.8" r="1.55" fill="#111"/>
<circle cx="454.5" cy="508.8" r="1.55" fill="#111"/>
<line x1="452.29999999999995" y1="554.2" x2="452.29999999999995" y2="557.0" stroke="#161616" stroke-width="1.0"/>
<rect x="462.9" y="506.53000000000003" width="10.600000000000023" height="47.670000000000016" fill="#63a5df"/>
<line x1="468.2" y1="503.80600000000004" x2="468.2" y2="509.254" stroke="#111" stroke-width="1.1"/>
<line x1="466.59999999999997" y1="503.80600000000004" x2="469.8" y2="503.80600000000004" stroke="#111" stroke-width="1.0"/>
<line x1="466.59999999999997" y1="509.254" x2="469.8" y2="509.254" stroke="#111" stroke-width="1.0"/>
<circle cx="468.2" cy="508.8" r="1.55" fill="#111"/>
<circle cx="468.2" cy="504.3" r="1.55" fill="#111"/>
<line x1="468.2" y1="554.2" x2="468.2" y2="557.0" stroke="#161616" stroke-width="1.0"/>
<rect x="478.3" y="509.254" width="10.5" height="44.946000000000026" fill="#c5c3c8"/>
<line x1="483.55" y1="499.72" x2="483.55" y2="518.3340000000001" stroke="#111" stroke-width="1.1"/>
<line x1="481.95" y1="499.72" x2="485.15000000000003" y2="499.72" stroke="#111" stroke-width="1.0"/>
<line x1="481.95" y1="518.3340000000001" x2="485.15000000000003" y2="518.3340000000001" stroke="#111" stroke-width="1.0"/>
<circle cx="483.5" cy="517.9" r="1.55" fill="#111"/>
<circle cx="483.5" cy="499.7" r="1.55" fill="#111"/>
<line x1="483.55" y1="554.2" x2="483.55" y2="557.0" stroke="#161616" stroke-width="1.0"/>
<rect x="493.7" y="520.1500000000001" width="10.900000000000034" height="34.049999999999955" fill="#63a5df"/>
<line x1="499.15" y1="517.426" x2="499.15" y2="522.4200000000001" stroke="#111" stroke-width="1.1"/>
<line x1="497.54999999999995" y1="517.426" x2="500.75" y2="517.426" stroke="#111" stroke-width="1.0"/>
<line x1="497.54999999999995" y1="522.4200000000001" x2="500.75" y2="522.4200000000001" stroke="#111" stroke-width="1.0"/>
<circle cx="499.1" cy="522.0" r="1.55" fill="#111"/>
<circle cx="499.1" cy="517.9" r="1.55" fill="#111"/>
<line x1="499.15" y1="554.2" x2="499.15" y2="557.0" stroke="#161616" stroke-width="1.0"/>
<line x1="441.6" y1="483.83000000000004" x2="441.6" y2="554.8000000000001" stroke="#161616" stroke-width="1.2"/>
<line x1="441.0" y1="554.2" x2="509.20000000000005" y2="554.2" stroke="#161616" stroke-width="1.2"/>
<line x1="438.6" y1="554.2" x2="441.6" y2="554.2" stroke="#161616" stroke-width="1.1"/>
<text x="435.6" y="556.5" font-size="6.5" text-anchor="end" fill="#231f20" stroke="#231f20">0.0</text>
<line x1="438.6" y1="531.5" x2="441.6" y2="531.5" stroke="#161616" stroke-width="1.1"/>
<text x="435.6" y="533.8" font-size="6.5" text-anchor="end" fill="#231f20" stroke="#231f20">0.5</text>
<line x1="438.6" y1="508.80000000000007" x2="441.6" y2="508.80000000000007" stroke="#161616" stroke-width="1.1"/>
<text x="435.6" y="511.1000000000001" font-size="6.5" text-anchor="end" fill="#231f20" stroke="#231f20">1.0</text>
<line x1="438.6" y1="486.1" x2="441.6" y2="486.1" stroke="#161616" stroke-width="1.1"/>
<text x="435.6" y="488.40000000000003" font-size="6.5" text-anchor="end" fill="#231f20" stroke="#231f20">1.5</text>
<text transform="translate(420.5,518.5) rotate(-90)" font-size="8.5" text-anchor="middle" fill="#231f20" stroke="#231f20" textLength="79" lengthAdjust="spacingAndGlyphs">Normalized  fold inclusion</text>
<text x="452.29999999999995" y="566.4" font-size="6.8" text-anchor="middle" fill="#231f20" stroke="#231f20">WT</text>
<text x="468.2" y="566.4" font-size="6.8" text-anchor="middle" fill="#231f20" stroke="#231f20">KI</text>
<text x="483.55" y="566.4" font-size="6.8" text-anchor="middle" fill="#231f20" stroke="#231f20">WT</text>
<text x="499.15" y="566.4" font-size="6.8" text-anchor="middle" fill="#231f20" stroke="#231f20">KI</text>
<line x1="452.29999999999995" y1="568.5" x2="468.2" y2="568.5" stroke="#161616" stroke-width="1.0"/>
<line x1="483.55" y1="568.5" x2="499.15" y2="568.5" stroke="#161616" stroke-width="1.0"/>
<text x="460.25" y="577.0" font-size="6.8" text-anchor="middle" fill="#231f20" stroke="#231f20" textLength="18.5" lengthAdjust="spacingAndGlyphs">Hoxb8</text>
<text x="460.25" y="585.2" font-size="6.8" text-anchor="middle" fill="#231f20" stroke="#231f20" textLength="21.5" lengthAdjust="spacingAndGlyphs">cell line</text>
<text x="491.35" y="577.0" font-size="6.8" text-anchor="middle" fill="#231f20" stroke="#231f20" textLength="17.5" lengthAdjust="spacingAndGlyphs">Spleen</text>
<text x="475.75" y="472.6" font-size="6.4" text-anchor="middle" font-style="italic" fill="#231f20" stroke="#231f20" textLength="13.8" lengthAdjust="spacingAndGlyphs">Ezh2</text>
<text x="475.6" y="477.0" font-size="4.4" text-anchor="middle" fill="#231f20" stroke="#231f20" textLength="62" lengthAdjust="spacingAndGlyphs">(reported murine cassette exon)</text>
</g>
<rect x="0" y="0" width="520" height="1.1" fill="#000"/>
<rect x="0" y="0" width="1.1" height="593" fill="#000"/>
<rect x="518.6" y="0" width="1.4" height="593" fill="#000"/>
<rect x="0" y="591.4" width="520" height="1.6" fill="#000"/>
</svg>
</body></html>
